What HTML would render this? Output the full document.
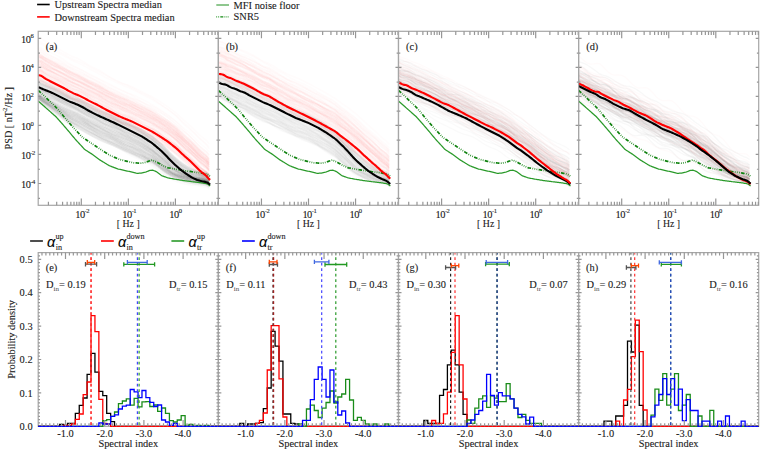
<!DOCTYPE html><html><head><meta charset="utf-8"><style>html,body{margin:0;padding:0;background:#fff;}svg{display:block;} text{stroke:#1a1a1a;stroke-width:0.1px;}</style></head><body>
<svg width="760" height="450" viewBox="0 0 760 450">
<rect width="760" height="450" fill="#fff"/>
<defs>
<clipPath id="ct0"><rect x="38.2" y="31.3" width="180.1" height="174"/></clipPath>
<clipPath id="cb0"><rect x="38.2" y="252.6" width="180.1" height="174.9"/></clipPath>
<clipPath id="ct1"><rect x="218.35" y="31.3" width="180.1" height="174"/></clipPath>
<clipPath id="cb1"><rect x="218.35" y="252.6" width="180.1" height="174.9"/></clipPath>
<clipPath id="ct2"><rect x="398.5" y="31.3" width="180.1" height="174"/></clipPath>
<clipPath id="cb2"><rect x="398.5" y="252.6" width="180.1" height="174.9"/></clipPath>
<clipPath id="ct3"><rect x="578.6" y="31.3" width="180.1" height="174"/></clipPath>
<clipPath id="cb3"><rect x="578.6" y="252.6" width="180.1" height="174.9"/></clipPath>
</defs>
<g font-family='"Liberation Serif", serif' font-size="10.4" fill="#1a1a1a">
<line x1="37.1" y1="4.5" x2="49.7" y2="4.5" stroke="#000" stroke-width="1.6"/>
<line x1="37.1" y1="16.9" x2="49.7" y2="16.9" stroke="#f00" stroke-width="1.6"/>
<line x1="216.3" y1="5.0" x2="229" y2="5.0" stroke="#1f8f1f" stroke-width="1"/>
<line x1="216.3" y1="16.8" x2="229" y2="16.8" stroke="#138a13" stroke-width="1.3" stroke-dasharray="0.8 1.2 0.8 1.2 3 1.2"/>
<text x="54.6" y="8.4">Upstream Spectra median</text>
<text x="54.6" y="20.7">Downstream Spectra median</text>
<text x="233.6" y="8.8">MFI noise floor</text>
<text x="233.6" y="20.1">SNR5</text>
</g>
<g clip-path="url(#ct0)">
<g fill="none" stroke="#7a7a7a" stroke-opacity="0.028" stroke-width="1.8">
<path d="M38.2,79.5l3,1.3 3,1.2 3,1.2 3,1.3 3,1.6 3,1.7 3,1.6 3,1.5 3,1.4 3,1.5 3,1.2 3,1.2 3,1.3 3,1.5 3,1.6 3,1.8 3,1.6 3,1.4 3,1.4 3,1.5 3,1.5 3,1.5 3,1.5 3,1.4 3,1.3 3,1.3 3,1.4 3,1.5 3,1.6 3,1.6 3,1.6 3,1.5 3,1.4 3,1.4 3,1.5 3,1.9 3,2.0 3,2.1 3,2.7 3,2.5 3,2.6 3,2.8 3,3.1 3,3.2 3,3.0 3,2.8 3,2.7 3,2.4 3,2.0 3,1.7 3,1.5 3,1.3 3,1.2 3,0.8 3,0.7 3,0.7 3,1.7"/>
<path d="M38.2,80.7l3,1.4 3,1.2 3,1.3 3,1.2 3,1.5 3,1.7 3,1.6 3,1.6 3,1.4 3,1.5 3,1.0 3,1.1 3,1.1 3,1.4 3,1.5 3,1.8 3,1.7 3,1.4 3,1.4 3,1.4 3,1.4 3,1.5 3,1.5 3,1.4 3,1.4 3,1.4 3,1.3 3,1.4 3,1.4 3,1.5 3,1.5 3,1.5 3,1.4 3,1.3 3,1.5 3,1.8 3,1.9 3,2.0 3,2.6 3,2.6 3,2.7 3,2.9 3,3.0 3,3.2 3,2.8 3,2.8 3,2.5 3,2.3 3,2.0 3,1.7 3,1.4 3,1.2 3,1.0 3,0.7 3,0.6 3,0.7 3,1.7"/>
<path d="M38.2,79.6l3,0.9 3,1.0 3,1.3 3,1.7 3,1.8 3,1.7 3,1.3 3,1.0 3,1.0 3,1.3 3,1.5 3,1.8 3,2.0 3,1.9 3,1.7 3,1.6 3,1.3 3,1.2 3,1.5 3,1.9 3,1.8 3,1.7 3,1.2 3,0.9 3,0.7 3,0.8 3,1.3 3,1.8 3,2.2 3,2.1 3,1.8 3,1.4 3,1.1 3,1.2 3,1.7 3,2.4 3,2.5 3,2.5 3,2.7 3,2.2 3,1.9 3,2.3 3,2.7 3,3.2 3,3.2 3,3.1 3,2.7 3,2.1 3,1.6 3,1.4 3,1.4 3,1.4 3,1.5 3,1.1 3,0.8 3,0.7 3,1.4"/>
<path d="M38.2,82.2l3,1.5 3,1.3 3,1.2 3,1.2 3,1.3 3,1.4 3,1.4 3,1.4 3,1.5 3,1.5 3,1.2 3,1.0 3,1.1 3,1.3 3,1.5 3,1.8 3,1.7 3,1.6 3,1.5 3,1.4 3,1.3 3,1.2 3,1.3 3,1.3 3,1.3 3,1.3 3,1.4 3,1.3 3,1.4 3,1.3 3,1.4 3,1.5 3,1.5 3,1.4 3,1.7 3,1.9 3,1.8 3,1.9 3,2.5 3,2.4 3,2.7 3,2.8 3,3.1 3,3.1 3,2.8 3,2.5 3,2.4 3,2.2 3,2.0 3,1.8 3,1.6 3,1.3 3,1.1 3,0.7 3,0.5 3,0.6 3,1.8"/>
<path d="M38.2,80.0l3,1.5 3,1.4 3,1.3 3,1.4 3,1.6 3,1.8 3,1.7 3,1.7 3,1.6 3,1.5 3,1.2 3,1.0 3,1.1 3,1.2 3,1.4 3,1.7 3,1.6 3,1.4 3,1.4 3,1.5 3,1.4 3,1.5 3,1.6 3,1.6 3,1.6 3,1.5 3,1.6 3,1.5 3,1.5 3,1.4 3,1.4 3,1.4 3,1.4 3,1.3 3,1.4 3,1.8 3,1.8 3,1.9 3,2.6 3,2.6 3,2.8 3,3.0 3,3.3 3,3.3 3,3.0 3,2.8 3,2.6 3,2.3 3,1.9 3,1.7 3,1.4 3,1.1 3,0.9 3,0.6 3,0.5 3,0.6 3,1.7"/>
<path d="M38.2,81.9l3,1.4 3,1.5 3,1.3 3,1.3 3,1.3 3,1.3 3,1.3 3,1.4 3,1.5 3,1.7 3,1.4 3,1.2 3,1.2 3,1.2 3,1.3 3,1.6 3,1.8 3,1.6 3,1.7 3,1.5 3,1.3 3,1.2 3,1.1 3,1.2 3,1.3 3,1.4 3,1.6 3,1.6 3,1.4 3,1.4 3,1.3 3,1.3 3,1.4 3,1.6 3,1.8 3,2.1 3,1.9 3,1.8 3,2.3 3,2.3 3,2.5 3,3.0 3,3.2 3,3.3 3,2.9 3,2.6 3,2.3 3,2.1 3,2.0 3,1.9 3,1.7 3,1.5 3,1.2 3,0.7 3,0.4 3,0.5 3,1.6"/>
<path d="M38.2,83.1l3,1.7 3,1.4 3,0.9 3,0.8 3,1.0 3,1.3 3,1.7 3,1.9 3,1.8 3,1.7 3,1.0 3,0.6 3,0.8 3,1.1 3,1.7 3,2.1 3,2.1 3,1.7 3,1.3 3,1.0 3,0.9 3,1.0 3,1.4 3,1.7 3,1.8 3,1.5 3,1.3 3,1.1 3,0.9 3,1.2 3,1.5 3,1.8 3,1.8 3,1.8 3,1.6 3,1.5 3,1.4 3,1.6 3,2.4 3,2.7 3,3.1 3,3.2 3,3.0 3,2.9 3,2.4 3,2.3 3,2.4 3,2.5 3,2.4 3,2.1 3,1.7 3,1.1 3,0.8 3,0.4 3,0.4 3,0.7 3,2.0"/>
<path d="M38.2,78.8l3,1.5 3,1.5 3,1.4 3,1.3 3,1.5 3,1.6 3,1.5 3,1.5 3,1.5 3,1.6 3,1.3 3,1.2 3,1.3 3,1.5 3,1.7 3,2.0 3,1.9 3,1.7 3,1.7 3,1.7 3,1.5 3,1.6 3,1.4 3,1.5 3,1.4 3,1.3 3,1.5 3,1.4 3,1.5 3,1.6 3,1.6 3,1.5 3,1.7 3,1.6 3,1.8 3,2.1 3,2.2 3,2.1 3,2.7 3,2.7 3,2.8 3,3.0 3,3.1 3,3.2 3,2.9 3,2.6 3,2.5 3,2.2 3,2.0 3,1.7 3,1.5 3,1.3 3,1.2 3,0.8 3,0.7 3,0.7 3,1.8"/>
<path d="M38.2,81.8l3,1.5 3,1.2 3,1.0 3,1.1 3,1.4 3,1.6 3,1.8 3,1.8 3,1.7 3,1.5 3,1.2 3,1.0 3,1.1 3,1.4 3,1.7 3,1.9 3,1.8 3,1.4 3,1.2 3,1.3 3,1.1 3,1.4 3,1.5 3,1.6 3,1.5 3,1.5 3,1.4 3,1.3 3,1.4 3,1.6 3,1.6 3,1.7 3,1.7 3,1.4 3,1.5 3,1.7 3,1.6 3,1.9 3,2.5 3,2.7 3,2.7 3,3.0 3,3.0 3,3.1 3,2.7 3,2.7 3,2.6 3,2.5 3,2.1 3,1.9 3,1.4 3,1.2 3,0.9 3,0.6 3,0.5 3,0.7 3,1.8"/>
<path d="M38.2,83.1l3,1.7 3,1.5 3,1.3 3,1.1 3,1.2 3,1.3 3,1.5 3,1.6 3,1.7 3,1.7 3,1.1 3,0.8 3,0.9 3,1.1 3,1.4 3,1.9 3,1.9 3,1.7 3,1.6 3,1.3 3,1.1 3,1.1 3,1.3 3,1.5 3,1.6 3,1.5 3,1.5 3,1.2 3,1.1 3,1.2 3,1.2 3,1.5 3,1.6 3,1.7 3,1.7 3,1.8 3,1.6 3,1.7 3,2.4 3,2.6 3,2.8 3,3.2 3,3.2 3,3.1 3,2.5 3,2.3 3,2.3 3,2.1 3,2.0 3,1.9 3,1.5 3,1.2 3,0.8 3,0.5 3,0.4 3,0.6 3,1.8"/>
<path d="M38.2,82.0l3,1.5 3,1.3 3,1.2 3,1.2 3,1.2 3,1.3 3,1.3 3,1.3 3,1.3 3,1.5 3,1.2 3,1.2 3,1.4 3,1.6 3,1.9 3,2.1 3,2.0 3,1.7 3,1.7 3,1.7 3,1.4 3,1.3 3,1.3 3,1.2 3,1.1 3,1.1 3,1.2 3,1.3 3,1.4 3,1.5 3,1.6 3,1.6 3,1.7 3,1.7 3,2.0 3,2.2 3,2.2 3,2.2 3,2.7 3,2.6 3,2.6 3,2.7 3,2.9 3,3.0 3,2.7 3,2.4 3,2.4 3,2.2 3,2.0 3,1.8 3,1.7 3,1.5 3,1.3 3,1.0 3,0.8 3,0.8 3,1.9"/>
<path d="M38.2,83.0l3,1.5 3,1.3 3,1.2 3,1.1 3,1.3 3,1.5 3,1.6 3,1.7 3,1.6 3,1.6 3,1.2 3,1.0 3,1.0 3,1.4 3,1.5 3,1.9 3,1.8 3,1.5 3,1.4 3,1.4 3,1.2 3,1.3 3,1.4 3,1.5 3,1.4 3,1.5 3,1.4 3,1.4 3,1.3 3,1.4 3,1.5 3,1.6 3,1.6 3,1.5 3,1.6 3,1.8 3,1.8 3,1.8 3,2.5 3,2.6 3,2.7 3,3.0 3,3.1 3,3.1 3,2.8 3,2.6 3,2.5 3,2.3 3,2.1 3,1.9 3,1.5 3,1.3 3,1.0 3,0.6 3,0.5 3,0.6 3,1.8"/>
<path d="M38.2,82.5l3,1.6 3,1.6 3,1.5 3,1.4 3,1.5 3,1.4 3,1.5 3,1.4 3,1.4 3,1.6 3,1.2 3,1.1 3,1.1 3,1.2 3,1.3 3,1.6 3,1.7 3,1.7 3,1.7 3,1.7 3,1.5 3,1.4 3,1.3 3,1.4 3,1.4 3,1.4 3,1.6 3,1.5 3,1.4 3,1.3 3,1.2 3,1.2 3,1.4 3,1.4 3,1.8 3,2.0 3,2.0 3,2.0 3,2.5 3,2.5 3,2.7 3,3.0 3,3.3 3,3.4 3,3.0 3,2.6 3,2.3 3,2.1 3,1.8 3,1.7 3,1.6 3,1.3 3,1.1 3,0.7 3,0.5 3,0.5 3,1.7"/>
<path d="M38.2,81.6l3,1.6 3,1.4 3,1.3 3,1.4 3,1.5 3,1.6 3,1.6 3,1.5 3,1.5 3,1.6 3,1.3 3,1.2 3,1.2 3,1.4 3,1.6 3,1.7 3,1.8 3,1.6 3,1.5 3,1.6 3,1.4 3,1.4 3,1.5 3,1.4 3,1.4 3,1.4 3,1.5 3,1.5 3,1.5 3,1.5 3,1.5 3,1.5 3,1.5 3,1.5 3,1.7 3,1.9 3,2.0 3,2.0 3,2.5 3,2.6 3,2.7 3,2.9 3,3.1 3,3.3 3,2.8 3,2.6 3,2.4 3,2.1 3,1.8 3,1.6 3,1.4 3,1.1 3,1.0 3,0.6 3,0.6 3,0.6 3,1.7"/>
<path d="M38.2,86.3l3,1.6 3,1.3 3,1.0 3,0.8 3,0.9 3,1.0 3,1.3 3,1.4 3,1.5 3,1.4 3,1.0 3,0.9 3,1.0 3,1.3 3,1.8 3,2.2 3,2.2 3,1.8 3,1.5 3,1.3 3,1.1 3,1.0 3,1.2 3,1.2 3,1.3 3,1.2 3,1.1 3,1.0 3,0.9 3,1.2 3,1.4 3,1.7 3,1.8 3,1.9 3,1.9 3,1.9 3,1.8 3,1.9 3,2.5 3,2.6 3,2.8 3,2.8 3,2.9 3,2.8 3,2.3 3,2.1 3,2.2 3,2.3 3,2.2 3,2.1 3,1.8 3,1.4 3,1.1 3,0.8 3,0.7 3,0.8 3,2.0"/>
<path d="M38.2,84.3l3,1.4 3,1.2 3,1.1 3,1.2 3,1.4 3,1.5 3,1.5 3,1.5 3,1.5 3,1.5 3,1.2 3,1.2 3,1.2 3,1.4 3,1.6 3,1.8 3,1.7 3,1.5 3,1.4 3,1.4 3,1.3 3,1.3 3,1.4 3,1.3 3,1.3 3,1.3 3,1.3 3,1.4 3,1.5 3,1.5 3,1.6 3,1.5 3,1.5 3,1.5 3,1.6 3,1.9 3,1.8 3,2.0 3,2.5 3,2.5 3,2.6 3,2.8 3,2.9 3,3.2 3,2.8 3,2.6 3,2.5 3,2.4 3,2.0 3,1.8 3,1.5 3,1.3 3,1.1 3,0.7 3,0.6 3,0.7 3,1.7"/>
<path d="M38.2,84.4l3,1.3 3,1.5 3,1.5 3,1.5 3,1.5 3,1.4 3,1.2 3,1.1 3,1.3 3,1.7 3,1.5 3,1.4 3,1.4 3,1.2 3,1.3 3,1.4 3,1.5 3,1.6 3,1.7 3,1.7 3,1.5 3,1.3 3,1.0 3,1.0 3,1.1 3,1.3 3,1.6 3,1.7 3,1.7 3,1.4 3,1.3 3,1.1 3,1.2 3,1.4 3,1.9 3,2.2 3,2.1 3,2.0 3,2.2 3,2.2 3,2.3 3,2.7 3,3.1 3,3.5 3,3.0 3,2.6 3,2.3 3,1.9 3,1.6 3,1.6 3,1.5 3,1.4 3,1.2 3,0.8 3,0.5 3,0.4 3,1.5"/>
<path d="M38.2,83.3l3,1.5 3,1.3 3,1.3 3,1.3 3,1.5 3,1.5 3,1.6 3,1.6 3,1.5 3,1.6 3,1.2 3,1.2 3,1.2 3,1.4 3,1.6 3,1.8 3,1.8 3,1.5 3,1.5 3,1.5 3,1.3 3,1.4 3,1.4 3,1.4 3,1.4 3,1.4 3,1.4 3,1.4 3,1.5 3,1.5 3,1.6 3,1.5 3,1.5 3,1.5 3,1.6 3,1.9 3,2.0 3,1.9 3,2.6 3,2.5 3,2.7 3,2.8 3,3.1 3,3.1 3,2.8 3,2.6 3,2.4 3,2.1 3,1.8 3,1.6 3,1.4 3,1.1 3,0.9 3,0.6 3,0.6 3,0.7 3,1.6"/>
<path d="M38.2,87.0l3,1.2 3,1.2 3,1.2 3,1.3 3,1.4 3,1.3 3,1.2 3,1.2 3,1.3 3,1.5 3,1.4 3,1.3 3,1.5 3,1.4 3,1.4 3,1.5 3,1.5 3,1.3 3,1.5 3,1.5 3,1.4 3,1.2 3,1.0 3,0.9 3,1.0 3,1.1 3,1.4 3,1.6 3,1.6 3,1.6 3,1.4 3,1.3 3,1.3 3,1.4 3,1.7 3,2.0 3,2.1 3,1.9 3,2.3 3,2.1 3,2.2 3,2.5 3,2.9 3,3.2 3,2.9 3,2.7 3,2.5 3,2.1 3,1.8 3,1.7 3,1.6 3,1.5 3,1.3 3,0.9 3,0.6 3,0.4 3,1.4"/>
<path d="M38.2,86.1l3,1.6 3,1.4 3,1.4 3,1.3 3,1.3 3,1.4 3,1.5 3,1.3 3,1.3 3,1.4 3,1.0 3,0.9 3,1.1 3,1.2 3,1.5 3,1.7 3,1.8 3,1.6 3,1.6 3,1.6 3,1.4 3,1.4 3,1.3 3,1.3 3,1.3 3,1.2 3,1.3 3,1.2 3,1.3 3,1.2 3,1.3 3,1.3 3,1.4 3,1.4 3,1.6 3,2.0 3,1.9 3,2.0 3,2.6 3,2.6 3,2.7 3,2.9 3,3.0 3,3.1 3,2.7 3,2.4 3,2.3 3,2.0 3,1.7 3,1.6 3,1.4 3,1.2 3,1.0 3,0.7 3,0.6 3,0.6 3,1.8"/>
<path d="M38.2,82.9l3,1.3 3,1.2 3,1.2 3,1.4 3,1.7 3,1.7 3,1.7 3,1.4 3,1.4 3,1.5 3,1.3 3,1.4 3,1.6 3,1.7 3,1.8 3,1.7 3,1.6 3,1.4 3,1.4 3,1.6 3,1.5 3,1.6 3,1.4 3,1.3 3,1.2 3,1.2 3,1.4 3,1.6 3,1.8 3,1.8 3,1.8 3,1.6 3,1.4 3,1.4 3,1.6 3,2.0 3,2.1 3,2.2 3,2.6 3,2.5 3,2.5 3,2.6 3,2.8 3,3.2 3,2.9 3,2.7 3,2.5 3,2.2 3,1.7 3,1.4 3,1.2 3,1.1 3,1.0 3,0.7 3,0.6 3,0.7 3,1.6"/>
<path d="M38.2,85.2l3,1.5 3,1.2 3,1.0 3,1.0 3,1.3 3,1.5 3,1.6 3,1.6 3,1.5 3,1.5 3,1.1 3,1.1 3,1.3 3,1.6 3,1.8 3,2.1 3,1.9 3,1.5 3,1.4 3,1.2 3,1.2 3,1.3 3,1.5 3,1.4 3,1.3 3,1.2 3,1.2 3,1.2 3,1.3 3,1.6 3,1.7 3,1.8 3,1.8 3,1.6 3,1.6 3,1.8 3,1.9 3,1.9 3,2.6 3,2.7 3,2.7 3,2.7 3,2.8 3,2.8 3,2.6 3,2.4 3,2.5 3,2.3 3,2.0 3,1.7 3,1.4 3,1.1 3,1.0 3,0.7 3,0.6 3,0.8 3,1.8"/>
<path d="M38.2,82.7l3,1.2 3,1.4 3,1.6 3,1.8 3,1.8 3,1.7 3,1.3 3,1.2 3,1.2 3,1.5 3,1.5 3,1.6 3,1.6 3,1.6 3,1.4 3,1.5 3,1.4 3,1.5 3,1.7 3,2.0 3,1.9 3,1.7 3,1.3 3,1.1 3,1.0 3,1.3 3,1.6 3,1.8 3,2.0 3,1.8 3,1.4 3,1.2 3,1.1 3,1.3 3,1.8 3,2.3 3,2.5 3,2.3 3,2.6 3,2.4 3,2.3 3,2.7 3,3.2 3,3.5 3,3.3 3,3.0 3,2.6 3,2.0 3,1.6 3,1.5 3,1.5 3,1.5 3,1.3 3,1.0 3,0.7 3,0.6 3,1.5"/>
<path d="M38.2,86.8l3,1.5 3,1.1 3,0.9 3,0.9 3,1.2 3,1.7 3,2.0 3,1.8 3,1.7 3,1.4 3,0.9 3,0.7 3,1.0 3,1.6 3,1.9 3,2.1 3,1.9 3,1.3 3,1.0 3,1.0 3,1.0 3,1.4 3,1.6 3,1.7 3,1.6 3,1.2 3,1.1 3,1.0 3,1.2 3,1.5 3,1.9 3,1.9 3,1.7 3,1.5 3,1.3 3,1.4 3,1.5 3,1.8 3,2.7 3,2.8 3,2.9 3,2.8 3,2.8 3,2.7 3,2.4 3,2.5 3,2.6 3,2.5 3,2.1 3,1.7 3,1.2 3,0.9 3,0.7 3,0.5 3,0.6 3,0.9 3,1.8"/>
<path d="M38.2,84.1l3,1.4 3,1.4 3,1.4 3,1.6 3,1.6 3,1.6 3,1.4 3,1.4 3,1.3 3,1.6 3,1.4 3,1.5 3,1.4 3,1.5 3,1.5 3,1.6 3,1.6 3,1.5 3,1.7 3,1.7 3,1.6 3,1.5 3,1.3 3,1.2 3,1.1 3,1.3 3,1.6 3,1.7 3,1.7 3,1.7 3,1.5 3,1.3 3,1.3 3,1.4 3,1.8 3,2.1 3,2.2 3,2.2 3,2.5 3,2.3 3,2.5 3,2.7 3,3.1 3,3.3 3,3.0 3,2.7 3,2.3 3,2.0 3,1.6 3,1.4 3,1.4 3,1.2 3,1.0 3,0.7 3,0.6 3,0.6 3,1.6"/>
<path d="M38.2,86.8l3,1.3 3,1.2 3,1.1 3,1.3 3,1.5 3,1.8 3,1.7 3,1.7 3,1.5 3,1.5 3,1.2 3,1.1 3,1.2 3,1.5 3,1.5 3,1.6 3,1.5 3,1.2 3,1.1 3,1.3 3,1.3 3,1.4 3,1.5 3,1.4 3,1.4 3,1.3 3,1.4 3,1.5 3,1.6 3,1.7 3,1.6 3,1.5 3,1.4 3,1.2 3,1.3 3,1.6 3,1.8 3,1.8 3,2.5 3,2.5 3,2.5 3,2.8 3,2.9 3,3.1 3,2.9 3,2.8 3,2.6 3,2.3 3,2.0 3,1.5 3,1.3 3,1.0 3,0.9 3,0.6 3,0.6 3,0.5 3,1.6"/>
<path d="M38.2,86.5l3,1.6 3,1.4 3,1.3 3,1.3 3,1.4 3,1.4 3,1.4 3,1.4 3,1.4 3,1.5 3,1.2 3,1.1 3,1.2 3,1.3 3,1.5 3,1.8 3,1.8 3,1.6 3,1.6 3,1.6 3,1.4 3,1.3 3,1.3 3,1.3 3,1.3 3,1.3 3,1.4 3,1.4 3,1.4 3,1.4 3,1.3 3,1.4 3,1.5 3,1.5 3,1.7 3,2.1 3,2.0 3,2.0 3,2.4 3,2.5 3,2.7 3,2.9 3,3.1 3,3.1 3,2.8 3,2.5 3,2.4 3,2.0 3,1.9 3,1.7 3,1.5 3,1.3 3,1.1 3,0.7 3,0.6 3,0.6 3,1.7"/>
<path d="M38.2,85.0l3,1.6 3,1.6 3,1.6 3,1.5 3,1.4 3,1.4 3,1.2 3,1.2 3,1.4 3,1.7 3,1.5 3,1.4 3,1.4 3,1.3 3,1.3 3,1.6 3,1.8 3,1.7 3,1.9 3,1.8 3,1.5 3,1.3 3,1.1 3,1.1 3,1.2 3,1.4 3,1.6 3,1.7 3,1.6 3,1.4 3,1.3 3,1.2 3,1.4 3,1.6 3,1.9 3,2.4 3,2.2 3,2.0 3,2.3 3,2.3 3,2.5 3,2.8 3,3.2 3,3.4 3,2.9 3,2.5 3,2.2 3,1.8 3,1.6 3,1.6 3,1.5 3,1.3 3,1.1 3,0.7 3,0.5 3,0.5 3,1.6"/>
<path d="M38.2,84.5l3,1.7 3,1.5 3,1.3 3,1.4 3,1.5 3,1.6 3,1.8 3,1.8 3,1.6 3,1.6 3,1.1 3,1.0 3,1.1 3,1.3 3,1.6 3,1.9 3,1.9 3,1.5 3,1.5 3,1.4 3,1.4 3,1.5 3,1.6 3,1.6 3,1.6 3,1.5 3,1.4 3,1.4 3,1.4 3,1.4 3,1.6 3,1.5 3,1.6 3,1.4 3,1.6 3,1.8 3,1.8 3,2.0 3,2.6 3,2.7 3,2.9 3,3.0 3,3.1 3,3.1 3,2.6 3,2.5 3,2.2 3,2.0 3,1.7 3,1.4 3,1.1 3,0.9 3,0.7 3,0.5 3,0.6 3,0.6 3,1.7"/>
<path d="M38.2,85.3l3,2.0 3,1.6 3,1.2 3,1.0 3,1.2 3,1.5 3,1.8 3,1.9 3,1.9 3,1.6 3,1.0 3,0.7 3,0.8 3,1.2 3,1.7 3,2.3 3,2.2 3,1.8 3,1.5 3,1.2 3,1.1 3,1.3 3,1.6 3,1.8 3,1.8 3,1.6 3,1.3 3,1.0 3,1.0 3,1.1 3,1.5 3,1.8 3,1.9 3,1.8 3,1.6 3,1.7 3,1.6 3,1.7 3,2.6 3,3.0 3,3.1 3,3.2 3,3.1 3,2.8 3,2.2 3,2.1 3,2.1 3,2.0 3,1.8 3,1.5 3,1.1 3,0.8 3,0.6 3,0.4 3,0.5 3,0.8 3,1.8"/>
<path d="M38.2,88.3l3,1.1 3,0.9 3,1.0 3,1.4 3,1.8 3,1.9 3,1.8 3,1.4 3,1.1 3,1.0 3,1.0 3,1.2 3,1.5 3,1.9 3,1.8 3,1.7 3,1.3 3,1.0 3,1.1 3,1.5 3,1.6 3,1.8 3,1.6 3,1.4 3,1.0 3,0.8 3,1.0 3,1.3 3,1.7 3,2.0 3,1.8 3,1.6 3,1.2 3,1.0 3,1.2 3,1.7 3,2.1 3,2.3 3,2.9 3,2.6 3,2.4 3,2.4 3,2.5 3,3.0 3,2.8 3,3.0 3,2.7 3,2.3 3,1.7 3,1.3 3,1.1 3,0.9 3,1.1 3,0.9 3,0.8 3,0.8 3,1.6"/>
<path d="M38.2,87.1l3,1.6 3,1.3 3,1.0 3,0.9 3,1.3 3,1.7 3,1.9 3,2.0 3,1.7 3,1.4 3,0.9 3,0.8 3,1.0 3,1.5 3,1.9 3,2.2 3,2.0 3,1.4 3,1.2 3,1.0 3,1.1 3,1.4 3,1.6 3,1.8 3,1.6 3,1.4 3,1.1 3,1.0 3,1.1 3,1.5 3,1.8 3,1.9 3,1.9 3,1.5 3,1.4 3,1.5 3,1.5 3,1.9 3,2.7 3,2.9 3,2.9 3,3.0 3,2.8 3,2.6 3,2.3 3,2.4 3,2.4 3,2.3 3,2.0 3,1.5 3,1.1 3,0.8 3,0.7 3,0.5 3,0.5 3,0.8 3,1.9"/>
<path d="M38.2,85.6l3,1.8 3,1.7 3,1.5 3,1.3 3,1.3 3,1.3 3,1.4 3,1.5 3,1.8 3,1.9 3,1.5 3,1.3 3,1.1 3,1.1 3,1.4 3,1.7 3,2.0 3,1.8 3,1.8 3,1.6 3,1.2 3,1.1 3,1.1 3,1.3 3,1.5 3,1.6 3,1.8 3,1.6 3,1.4 3,1.3 3,1.2 3,1.4 3,1.6 3,1.8 3,2.0 3,2.1 3,1.9 3,1.7 3,2.2 3,2.3 3,2.7 3,3.1 3,3.3 3,3.2 3,2.7 3,2.2 3,2.0 3,1.8 3,1.7 3,1.6 3,1.3 3,1.1 3,0.8 3,0.5 3,0.4 3,0.6 3,1.6"/>
<path d="M38.2,86.6l3,1.5 3,1.3 3,1.2 3,1.3 3,1.5 3,1.7 3,1.7 3,1.8 3,1.6 3,1.6 3,1.3 3,1.2 3,1.3 3,1.5 3,1.7 3,1.8 3,1.7 3,1.3 3,1.4 3,1.3 3,1.3 3,1.3 3,1.4 3,1.5 3,1.4 3,1.4 3,1.5 3,1.4 3,1.6 3,1.7 3,1.6 3,1.7 3,1.5 3,1.5 3,1.5 3,1.8 3,1.8 3,1.8 3,2.5 3,2.5 3,2.6 3,2.8 3,2.9 3,3.0 3,2.6 3,2.5 3,2.3 3,2.0 3,1.7 3,1.3 3,1.2 3,0.8 3,0.8 3,0.5 3,0.5 3,0.6 3,1.7"/>
<path d="M38.2,87.4l3,1.5 3,1.4 3,1.4 3,1.5 3,1.5 3,1.5 3,1.5 3,1.4 3,1.4 3,1.6 3,1.4 3,1.3 3,1.3 3,1.4 3,1.5 3,1.6 3,1.7 3,1.5 3,1.6 3,1.6 3,1.4 3,1.4 3,1.3 3,1.2 3,1.2 3,1.4 3,1.5 3,1.6 3,1.6 3,1.5 3,1.4 3,1.4 3,1.4 3,1.4 3,1.7 3,2.1 3,2.0 3,2.0 3,2.4 3,2.4 3,2.5 3,2.8 3,3.0 3,3.2 3,2.9 3,2.5 3,2.3 3,1.9 3,1.6 3,1.5 3,1.3 3,1.1 3,0.9 3,0.7 3,0.5 3,0.6 3,1.6"/>
<path d="M38.2,87.5l3,2.0 3,1.5 3,1.0 3,0.7 3,0.9 3,1.3 3,1.9 3,2.2 3,2.1 3,1.9 3,1.2 3,0.7 3,0.8 3,1.3 3,1.8 3,2.5 3,2.3 3,1.8 3,1.2 3,0.8 3,0.5 3,0.9 3,1.3 3,1.8 3,1.9 3,1.7 3,1.3 3,1.0 3,0.9 3,1.2 3,1.7 3,2.2 3,2.2 3,2.1 3,1.6 3,1.5 3,1.2 3,1.3 3,2.3 3,2.8 3,3.0 3,3.2 3,2.9 3,2.5 3,2.0 3,1.9 3,2.1 3,2.2 3,2.0 3,1.6 3,1.2 3,0.8 3,0.5 3,0.3 3,0.4 3,0.7 3,1.8"/>
<path d="M38.2,88.1l3,1.5 3,1.5 3,1.3 3,1.4 3,1.5 3,1.5 3,1.6 3,1.6 3,1.6 3,1.6 3,1.4 3,1.1 3,1.3 3,1.3 3,1.5 3,1.7 3,1.6 3,1.4 3,1.5 3,1.4 3,1.3 3,1.3 3,1.3 3,1.3 3,1.3 3,1.4 3,1.5 3,1.5 3,1.6 3,1.5 3,1.5 3,1.4 3,1.4 3,1.5 3,1.5 3,1.9 3,1.8 3,1.8 3,2.4 3,2.4 3,2.5 3,2.8 3,3.0 3,3.1 3,2.7 3,2.5 3,2.2 3,2.0 3,1.6 3,1.4 3,1.2 3,1.0 3,0.8 3,0.5 3,0.5 3,0.6 3,1.6"/>
<path d="M38.2,87.8l3,1.5 3,1.4 3,1.3 3,1.4 3,1.4 3,1.5 3,1.6 3,1.5 3,1.5 3,1.6 3,1.3 3,1.2 3,1.2 3,1.4 3,1.6 3,1.8 3,1.8 3,1.5 3,1.6 3,1.5 3,1.3 3,1.4 3,1.3 3,1.4 3,1.3 3,1.4 3,1.5 3,1.4 3,1.5 3,1.5 3,1.5 3,1.5 3,1.6 3,1.5 3,1.7 3,1.9 3,1.9 3,2.0 3,2.5 3,2.5 3,2.6 3,2.9 3,3.0 3,3.1 3,2.8 3,2.5 3,2.3 3,2.0 3,1.8 3,1.5 3,1.4 3,1.0 3,0.9 3,0.7 3,0.5 3,0.6 3,1.7"/>
<path d="M38.2,89.4l3,1.2 3,1.2 3,1.3 3,1.5 3,1.8 3,1.8 3,1.6 3,1.4 3,1.2 3,1.4 3,1.2 3,1.3 3,1.5 3,1.6 3,1.5 3,1.5 3,1.4 3,1.1 3,1.3 3,1.5 3,1.6 3,1.6 3,1.4 3,1.2 3,1.1 3,1.1 3,1.3 3,1.5 3,1.8 3,1.8 3,1.6 3,1.4 3,1.1 3,1.1 3,1.4 3,1.8 3,2.1 3,2.1 3,2.6 3,2.4 3,2.3 3,2.5 3,2.8 3,3.1 3,3.0 3,2.7 3,2.5 3,2.0 3,1.6 3,1.2 3,1.1 3,1.0 3,1.0 3,0.7 3,0.6 3,0.6 3,1.5"/>
<path d="M38.2,89.7l3,1.4 3,1.3 3,1.4 3,1.4 3,1.7 3,1.8 3,1.9 3,1.6 3,1.5 3,1.4 3,1.1 3,1.0 3,1.1 3,1.3 3,1.3 3,1.6 3,1.4 3,1.1 3,1.3 3,1.4 3,1.4 3,1.6 3,1.6 3,1.5 3,1.4 3,1.4 3,1.4 3,1.5 3,1.5 3,1.5 3,1.5 3,1.3 3,1.2 3,1.1 3,1.2 3,1.6 3,1.8 3,1.9 3,2.5 3,2.6 3,2.6 3,2.9 3,3.1 3,3.2 3,2.8 3,2.7 3,2.5 3,2.1 3,1.7 3,1.3 3,1.1 3,0.9 3,0.8 3,0.5 3,0.5 3,0.5 3,1.6"/>
<path d="M38.2,87.8l3,1.7 3,1.7 3,1.6 3,1.5 3,1.3 3,1.3 3,1.3 3,1.4 3,1.7 3,1.9 3,1.6 3,1.3 3,1.2 3,1.1 3,1.3 3,1.6 3,1.9 3,1.8 3,1.8 3,1.7 3,1.3 3,1.1 3,1.1 3,1.1 3,1.4 3,1.6 3,1.8 3,1.7 3,1.5 3,1.3 3,1.2 3,1.3 3,1.4 3,1.8 3,2.0 3,2.2 3,1.9 3,1.8 3,2.2 3,2.2 3,2.5 3,3.0 3,3.3 3,3.4 3,2.7 3,2.3 3,1.9 3,1.8 3,1.5 3,1.5 3,1.4 3,1.1 3,0.9 3,0.5 3,0.4 3,0.5 3,1.6"/>
<path d="M38.2,87.8l3,1.7 3,1.5 3,1.3 3,1.3 3,1.5 3,1.7 3,1.8 3,1.7 3,1.7 3,1.5 3,1.2 3,1.1 3,1.2 3,1.5 3,1.7 3,1.9 3,1.9 3,1.5 3,1.4 3,1.3 3,1.3 3,1.4 3,1.5 3,1.5 3,1.5 3,1.4 3,1.3 3,1.3 3,1.4 3,1.5 3,1.7 3,1.7 3,1.6 3,1.5 3,1.6 3,1.7 3,1.8 3,1.9 3,2.5 3,2.7 3,2.7 3,2.8 3,2.9 3,2.8 3,2.4 3,2.2 3,2.0 3,1.8 3,1.4 3,1.2 3,0.9 3,0.8 3,0.6 3,0.5 3,0.5 3,0.6 3,1.7"/>
<path d="M38.2,87.4l3,1.6 3,1.6 3,1.5 3,1.5 3,1.6 3,1.7 3,1.7 3,1.6 3,1.6 3,1.6 3,1.4 3,1.1 3,1.2 3,1.4 3,1.4 3,1.7 3,1.7 3,1.6 3,1.6 3,1.6 3,1.5 3,1.5 3,1.5 3,1.4 3,1.5 3,1.5 3,1.6 3,1.6 3,1.5 3,1.5 3,1.5 3,1.4 3,1.4 3,1.4 3,1.6 3,2.0 3,1.9 3,2.0 3,2.5 3,2.6 3,2.7 3,3.0 3,3.1 3,3.2 3,2.7 3,2.5 3,2.1 3,1.8 3,1.5 3,1.2 3,1.1 3,0.9 3,0.7 3,0.5 3,0.5 3,0.6 3,1.6"/>
<path d="M38.2,89.0l3,1.5 3,1.3 3,1.3 3,1.2 3,1.4 3,1.5 3,1.7 3,1.7 3,1.7 3,1.8 3,1.5 3,1.4 3,1.3 3,1.6 3,1.6 3,1.7 3,1.7 3,1.5 3,1.3 3,1.3 3,1.2 3,1.1 3,1.2 3,1.3 3,1.3 3,1.5 3,1.5 3,1.6 3,1.7 3,1.7 3,1.6 3,1.7 3,1.6 3,1.6 3,1.7 3,1.8 3,1.8 3,1.7 3,2.3 3,2.3 3,2.4 3,2.7 3,2.9 3,3.0 3,2.7 3,2.4 3,2.2 3,2.0 3,1.6 3,1.4 3,1.2 3,0.9 3,0.8 3,0.5 3,0.5 3,0.6 3,1.5"/>
<path d="M38.2,88.8l3,1.8 3,1.7 3,1.4 3,1.3 3,1.2 3,1.2 3,1.5 3,1.6 3,1.9 3,1.9 3,1.5 3,1.1 3,1.0 3,1.1 3,1.4 3,1.9 3,2.0 3,1.9 3,1.7 3,1.5 3,1.1 3,1.1 3,1.1 3,1.4 3,1.6 3,1.7 3,1.8 3,1.5 3,1.3 3,1.2 3,1.3 3,1.5 3,1.7 3,1.8 3,2.0 3,2.0 3,1.8 3,1.6 3,2.2 3,2.4 3,2.8 3,3.2 3,3.3 3,3.2 3,2.6 3,2.2 3,2.0 3,1.9 3,1.8 3,1.7 3,1.4 3,1.1 3,0.8 3,0.4 3,0.4 3,0.6 3,1.6"/>
<path d="M38.2,89.2l3,1.5 3,1.7 3,1.8 3,1.7 3,1.7 3,1.3 3,1.2 3,1.2 3,1.3 3,1.8 3,1.7 3,1.7 3,1.5 3,1.3 3,1.1 3,1.3 3,1.6 3,1.6 3,1.9 3,1.9 3,1.6 3,1.3 3,0.9 3,0.9 3,1.0 3,1.3 3,1.8 3,1.9 3,1.8 3,1.5 3,1.2 3,1.0 3,1.2 3,1.5 3,1.9 3,2.4 3,2.3 3,1.9 3,2.2 3,2.0 3,2.2 3,2.7 3,3.1 3,3.4 3,2.9 3,2.3 3,1.9 3,1.4 3,1.3 3,1.2 3,1.2 3,1.0 3,0.9 3,0.6 3,0.4 3,0.5 3,1.5"/>
<path d="M38.2,90.8l3,1.7 3,1.5 3,1.4 3,1.3 3,1.4 3,1.5 3,1.6 3,1.6 3,1.5 3,1.5 3,1.1 3,1.0 3,1.1 3,1.4 3,1.5 3,1.9 3,1.8 3,1.6 3,1.5 3,1.4 3,1.3 3,1.4 3,1.3 3,1.5 3,1.3 3,1.4 3,1.3 3,1.2 3,1.3 3,1.4 3,1.4 3,1.5 3,1.5 3,1.5 3,1.6 3,1.9 3,1.8 3,1.9 3,2.5 3,2.6 3,2.7 3,2.9 3,3.0 3,2.9 3,2.5 3,2.3 3,2.1 3,1.9 3,1.7 3,1.4 3,1.1 3,0.9 3,0.8 3,0.5 3,0.6 3,0.6 3,1.7"/>
<path d="M38.2,90.7l3,1.6 3,1.6 3,1.4 3,1.5 3,1.5 3,1.5 3,1.5 3,1.5 3,1.4 3,1.6 3,1.3 3,1.3 3,1.3 3,1.4 3,1.5 3,1.8 3,1.6 3,1.5 3,1.6 3,1.5 3,1.3 3,1.3 3,1.2 3,1.2 3,1.2 3,1.2 3,1.4 3,1.4 3,1.5 3,1.5 3,1.5 3,1.4 3,1.4 3,1.5 3,1.6 3,2.0 3,2.0 3,1.9 3,2.4 3,2.3 3,2.5 3,2.6 3,2.9 3,2.9 3,2.5 3,2.3 3,2.0 3,1.7 3,1.4 3,1.2 3,1.1 3,0.9 3,0.7 3,0.6 3,0.5 3,0.6 3,1.6"/>
<path d="M38.2,92.4l3,1.3 3,1.4 3,1.3 3,1.5 3,1.5 3,1.3 3,1.3 3,1.1 3,1.2 3,1.4 3,1.4 3,1.4 3,1.5 3,1.6 3,1.5 3,1.6 3,1.6 3,1.4 3,1.6 3,1.7 3,1.5 3,1.3 3,1.1 3,0.9 3,0.9 3,1.0 3,1.4 3,1.5 3,1.7 3,1.6 3,1.4 3,1.3 3,1.3 3,1.4 3,1.8 3,2.2 3,2.2 3,2.2 3,2.4 3,2.2 3,2.2 3,2.5 3,2.8 3,3.1 3,2.8 3,2.6 3,2.2 3,1.9 3,1.6 3,1.4 3,1.4 3,1.3 3,1.1 3,0.8 3,0.6 3,0.6 3,1.5"/>
<path d="M38.2,89.7l3,1.4 3,1.4 3,1.3 3,1.4 3,1.5 3,1.4 3,1.5 3,1.5 3,1.6 3,1.9 3,1.7 3,1.6 3,1.6 3,1.7 3,1.6 3,1.7 3,1.6 3,1.5 3,1.5 3,1.5 3,1.2 3,1.2 3,1.0 3,1.0 3,1.1 3,1.4 3,1.6 3,1.8 3,1.9 3,1.8 3,1.6 3,1.6 3,1.6 3,1.7 3,1.8 3,2.1 3,2.0 3,1.8 3,2.1 3,2.2 3,2.2 3,2.5 3,2.9 3,3.0 3,2.7 3,2.4 3,2.0 3,1.8 3,1.4 3,1.3 3,1.1 3,0.9 3,0.8 3,0.5 3,0.5 3,0.5 3,1.6"/>
<path d="M38.2,88.3l3,1.6 3,1.8 3,1.7 3,1.7 3,1.7 3,1.5 3,1.5 3,1.4 3,1.5 3,1.8 3,1.5 3,1.3 3,1.3 3,1.3 3,1.2 3,1.6 3,1.8 3,1.7 3,1.9 3,1.9 3,1.6 3,1.5 3,1.3 3,1.3 3,1.4 3,1.5 3,1.8 3,1.7 3,1.6 3,1.5 3,1.2 3,1.2 3,1.3 3,1.5 3,1.9 3,2.2 3,2.2 3,2.0 3,2.4 3,2.4 3,2.7 3,3.0 3,3.3 3,3.3 3,2.8 3,2.3 3,1.9 3,1.5 3,1.3 3,1.2 3,1.1 3,0.9 3,0.7 3,0.6 3,0.4 3,0.6 3,1.6"/>
<path d="M38.2,90.3l3,1.6 3,1.5 3,1.4 3,1.4 3,1.5 3,1.6 3,1.6 3,1.7 3,1.6 3,1.6 3,1.4 3,1.2 3,1.3 3,1.4 3,1.6 3,1.7 3,1.8 3,1.5 3,1.5 3,1.4 3,1.4 3,1.3 3,1.3 3,1.4 3,1.4 3,1.4 3,1.5 3,1.5 3,1.5 3,1.6 3,1.5 3,1.5 3,1.6 3,1.5 3,1.6 3,1.9 3,1.9 3,1.8 3,2.5 3,2.4 3,2.6 3,2.8 3,3.0 3,3.0 3,2.6 3,2.3 3,2.1 3,1.8 3,1.4 3,1.3 3,1.1 3,0.8 3,0.7 3,0.5 3,0.5 3,0.6 3,1.7"/>
<path d="M38.2,88.0l3,1.4 3,1.5 3,1.6 3,1.9 3,2.0 3,1.9 3,1.6 3,1.2 3,1.2 3,1.4 3,1.4 3,1.7 3,1.8 3,1.9 3,1.7 3,1.6 3,1.5 3,1.3 3,1.6 3,2.0 3,2.0 3,1.8 3,1.5 3,1.1 3,0.9 3,0.9 3,1.4 3,1.8 3,2.0 3,2.0 3,1.7 3,1.4 3,1.1 3,1.2 3,1.7 3,2.2 3,2.4 3,2.4 3,2.7 3,2.4 3,2.3 3,2.3 3,2.6 3,2.9 3,2.5 3,2.2 3,1.7 3,1.2 3,1.0 3,0.7 3,0.8 3,0.7 3,0.6 3,0.5 3,0.5 3,0.7 3,1.5"/>
<path d="M38.2,89.9l3,1.3 3,1.1 3,1.3 3,1.7 3,2.0 3,2.0 3,1.9 3,1.4 3,1.2 3,1.4 3,1.2 3,1.6 3,1.8 3,1.9 3,1.8 3,1.6 3,1.3 3,1.0 3,1.2 3,1.6 3,1.8 3,1.8 3,1.6 3,1.3 3,1.0 3,1.0 3,1.2 3,1.7 3,2.0 3,2.2 3,1.9 3,1.6 3,1.1 3,1.1 3,1.3 3,1.9 3,2.2 3,2.3 3,2.7 3,2.5 3,2.2 3,2.3 3,2.6 3,2.9 3,2.8 3,2.7 3,2.2 3,1.6 3,1.2 3,0.9 3,0.8 3,0.8 3,0.7 3,0.6 3,0.5 3,0.7 3,1.5"/>
<path d="M38.2,88.7l3,1.4 3,1.3 3,1.3 3,1.6 3,1.8 3,2.0 3,1.8 3,1.5 3,1.4 3,1.4 3,1.2 3,1.4 3,1.7 3,1.9 3,1.9 3,1.9 3,1.6 3,1.3 3,1.4 3,1.7 3,1.7 3,1.8 3,1.7 3,1.4 3,1.2 3,1.1 3,1.3 3,1.5 3,1.9 3,1.9 3,1.9 3,1.7 3,1.4 3,1.3 3,1.6 3,1.9 3,2.2 3,2.3 3,2.9 3,2.6 3,2.5 3,2.6 3,2.7 3,2.8 3,2.6 3,2.5 3,2.1 3,1.6 3,1.2 3,1.0 3,0.8 3,0.7 3,0.7 3,0.5 3,0.6 3,0.7 3,1.6"/>
<path d="M38.2,91.0l3,1.7 3,1.7 3,1.6 3,1.5 3,1.4 3,1.2 3,1.4 3,1.4 3,1.6 3,2.0 3,1.8 3,1.5 3,1.4 3,1.3 3,1.4 3,1.6 3,1.8 3,1.8 3,1.7 3,1.7 3,1.2 3,1.0 3,0.9 3,1.0 3,1.2 3,1.5 3,1.8 3,1.7 3,1.7 3,1.4 3,1.4 3,1.3 3,1.6 3,1.8 3,2.0 3,2.2 3,2.0 3,1.7 3,2.0 3,2.1 3,2.3 3,2.8 3,3.0 3,3.1 3,2.6 3,2.1 3,1.7 3,1.6 3,1.3 3,1.3 3,1.1 3,0.9 3,0.7 3,0.5 3,0.4 3,0.6 3,1.5"/>
<path d="M38.2,91.7l3,1.9 3,1.7 3,1.6 3,1.4 3,1.2 3,1.2 3,1.3 3,1.6 3,1.8 3,2.0 3,1.7 3,1.2 3,1.1 3,1.0 3,1.3 3,1.7 3,2.0 3,1.8 3,1.8 3,1.6 3,1.1 3,0.9 3,0.9 3,1.2 3,1.5 3,1.8 3,1.8 3,1.6 3,1.4 3,1.2 3,1.2 3,1.3 3,1.7 3,1.8 3,2.0 3,2.1 3,1.8 3,1.6 3,2.0 3,2.2 3,2.6 3,3.1 3,3.3 3,3.2 3,2.5 3,2.1 3,1.9 3,1.7 3,1.5 3,1.5 3,1.4 3,1.0 3,0.7 3,0.4 3,0.4 3,0.5 3,1.6"/>
<path d="M38.2,91.8l3,1.6 3,1.5 3,1.3 3,1.5 3,1.7 3,1.8 3,1.8 3,1.5 3,1.4 3,1.3 3,1.0 3,1.0 3,1.3 3,1.6 3,1.7 3,1.9 3,1.7 3,1.4 3,1.5 3,1.5 3,1.6 3,1.7 3,1.6 3,1.5 3,1.3 3,1.2 3,1.1 3,1.3 3,1.4 3,1.6 3,1.6 3,1.5 3,1.4 3,1.3 3,1.5 3,1.8 3,2.0 3,2.2 3,2.8 3,2.8 3,2.7 3,2.7 3,2.8 3,2.8 3,2.5 3,2.3 3,2.1 3,1.8 3,1.3 3,1.1 3,0.9 3,0.8 3,0.6 3,0.6 3,0.6 3,0.7 3,1.7"/>
<path d="M38.2,90.9l3,1.8 3,1.8 3,1.5 3,1.3 3,1.3 3,1.4 3,1.6 3,1.8 3,1.8 3,1.9 3,1.4 3,1.1 3,1.0 3,1.2 3,1.5 3,2.0 3,2.0 3,1.9 3,1.7 3,1.5 3,1.2 3,1.2 3,1.2 3,1.5 3,1.6 3,1.7 3,1.7 3,1.4 3,1.3 3,1.3 3,1.3 3,1.6 3,1.7 3,1.8 3,1.9 3,2.0 3,1.8 3,1.7 3,2.3 3,2.5 3,2.8 3,3.1 3,3.2 3,3.0 3,2.4 3,2.0 3,1.8 3,1.6 3,1.5 3,1.3 3,1.0 3,0.8 3,0.6 3,0.5 3,0.4 3,0.6 3,1.7"/>
<path d="M38.2,90.3l3,1.8 3,1.5 3,1.5 3,1.4 3,1.6 3,1.7 3,1.8 3,1.7 3,1.5 3,1.6 3,1.3 3,1.3 3,1.4 3,1.6 3,1.9 3,1.9 3,1.9 3,1.6 3,1.5 3,1.5 3,1.4 3,1.5 3,1.5 3,1.4 3,1.3 3,1.3 3,1.3 3,1.4 3,1.6 3,1.6 3,1.7 3,1.7 3,1.7 3,1.5 3,1.7 3,1.9 3,1.9 3,2.0 3,2.6 3,2.6 3,2.6 3,2.6 3,2.7 3,2.7 3,2.2 3,1.9 3,1.8 3,1.4 3,1.1 3,1.0 3,0.7 3,0.7 3,0.5 3,0.5 3,0.5 3,0.7 3,1.6"/>
<path d="M38.2,92.3l3,1.6 3,1.5 3,1.4 3,1.4 3,1.5 3,1.6 3,1.7 3,1.7 3,1.7 3,1.9 3,1.6 3,1.4 3,1.4 3,1.5 3,1.5 3,1.7 3,1.6 3,1.4 3,1.4 3,1.3 3,1.2 3,1.1 3,1.2 3,1.2 3,1.3 3,1.5 3,1.6 3,1.7 3,1.7 3,1.6 3,1.7 3,1.6 3,1.5 3,1.5 3,1.7 3,1.8 3,1.7 3,1.7 3,2.2 3,2.2 3,2.4 3,2.6 3,2.9 3,2.9 3,2.5 3,2.3 3,1.9 3,1.7 3,1.4 3,1.1 3,1.0 3,0.7 3,0.6 3,0.5 3,0.5 3,0.5 3,1.6"/>
<path d="M38.2,93.2l3,1.6 3,1.5 3,1.6 3,1.7 3,1.8 3,1.8 3,1.6 3,1.5 3,1.4 3,1.7 3,1.5 3,1.5 3,1.5 3,1.5 3,1.3 3,1.4 3,1.2 3,1.2 3,1.4 3,1.6 3,1.5 3,1.4 3,1.2 3,1.1 3,1.0 3,1.2 3,1.6 3,1.8 3,1.9 3,1.7 3,1.5 3,1.2 3,1.1 3,1.2 3,1.5 3,1.9 3,2.0 3,1.9 3,2.2 3,2.1 3,2.2 3,2.5 3,2.8 3,3.1 3,2.8 3,2.4 3,1.9 3,1.5 3,1.2 3,1.0 3,1.0 3,0.8 3,0.7 3,0.5 3,0.5 3,0.5 3,1.5"/>
<path d="M38.2,93.0l3,1.8 3,1.8 3,1.8 3,1.7 3,1.5 3,1.4 3,1.3 3,1.3 3,1.4 3,1.7 3,1.6 3,1.4 3,1.2 3,1.3 3,1.3 3,1.6 3,1.7 3,1.8 3,1.9 3,1.8 3,1.5 3,1.2 3,1.0 3,1.0 3,1.1 3,1.4 3,1.6 3,1.6 3,1.5 3,1.3 3,1.2 3,1.1 3,1.4 3,1.6 3,1.9 3,2.3 3,2.1 3,1.9 3,2.2 3,2.2 3,2.4 3,2.8 3,3.0 3,3.1 3,2.5 3,2.0 3,1.6 3,1.4 3,1.2 3,1.1 3,1.1 3,0.9 3,0.7 3,0.5 3,0.5 3,0.5 3,1.6"/>
<path d="M38.2,94.0l3,1.7 3,1.5 3,1.4 3,1.5 3,1.8 3,1.8 3,1.9 3,1.7 3,1.4 3,1.4 3,1.0 3,1.1 3,1.4 3,1.6 3,1.7 3,1.8 3,1.6 3,1.1 3,1.2 3,1.3 3,1.4 3,1.5 3,1.6 3,1.4 3,1.2 3,1.0 3,1.1 3,1.2 3,1.5 3,1.7 3,1.7 3,1.5 3,1.4 3,1.2 3,1.2 3,1.7 3,1.8 3,2.0 3,2.6 3,2.6 3,2.5 3,2.5 3,2.5 3,2.7 3,2.3 3,2.3 3,2.0 3,1.7 3,1.3 3,1.0 3,0.8 3,0.6 3,0.7 3,0.5 3,0.5 3,0.7 3,1.6"/>
<path d="M38.2,93.6l3,1.9 3,1.6 3,1.5 3,1.3 3,1.5 3,1.6 3,1.9 3,1.8 3,1.8 3,1.7 3,1.2 3,1.0 3,1.0 3,1.3 3,1.6 3,1.9 3,1.9 3,1.5 3,1.3 3,1.3 3,1.1 3,1.2 3,1.4 3,1.5 3,1.6 3,1.5 3,1.4 3,1.2 3,1.3 3,1.4 3,1.5 3,1.6 3,1.6 3,1.6 3,1.5 3,1.6 3,1.6 3,1.6 3,2.4 3,2.6 3,2.7 3,2.9 3,2.9 3,2.7 3,2.3 3,2.0 3,1.8 3,1.7 3,1.4 3,1.1 3,0.9 3,0.7 3,0.6 3,0.4 3,0.4 3,0.6 3,1.7"/>
<path d="M38.2,92.8l3,1.8 3,1.7 3,1.5 3,1.5 3,1.5 3,1.6 3,1.7 3,1.6 3,1.5 3,1.7 3,1.4 3,1.3 3,1.4 3,1.6 3,1.7 3,1.9 3,1.9 3,1.5 3,1.6 3,1.4 3,1.3 3,1.3 3,1.2 3,1.2 3,1.2 3,1.2 3,1.4 3,1.4 3,1.5 3,1.5 3,1.6 3,1.6 3,1.7 3,1.6 3,1.7 3,2.0 3,1.9 3,1.8 3,2.4 3,2.3 3,2.5 3,2.6 3,2.7 3,2.6 3,2.1 3,1.9 3,1.7 3,1.4 3,1.2 3,1.0 3,0.8 3,0.7 3,0.6 3,0.4 3,0.5 3,0.7 3,1.6"/>
<path d="M38.2,94.9l3,1.4 3,1.5 3,1.7 3,1.9 3,1.9 3,1.8 3,1.5 3,1.1 3,1.2 3,1.5 3,1.5 3,1.7 3,1.8 3,1.6 3,1.3 3,1.2 3,1.1 3,1.2 3,1.5 3,1.8 3,1.7 3,1.4 3,1.1 3,0.8 3,0.7 3,1.0 3,1.5 3,1.8 3,2.0 3,1.9 3,1.4 3,1.1 3,0.9 3,1.1 3,1.5 3,2.2 3,2.2 3,2.1 3,2.3 3,2.0 3,1.9 3,2.3 3,2.7 3,3.1 3,2.9 3,2.4 3,2.0 3,1.5 3,1.1 3,0.9 3,0.9 3,0.9 3,0.9 3,0.6 3,0.5 3,0.5 3,1.4"/>
<path d="M38.2,94.4l3,2.1 3,1.8 3,1.5 3,1.4 3,1.4 3,1.6 3,1.8 3,1.8 3,1.8 3,1.6 3,1.1 3,0.8 3,1.0 3,1.4 3,1.9 3,2.1 3,2.1 3,1.6 3,1.4 3,1.1 3,1.0 3,1.2 3,1.4 3,1.4 3,1.5 3,1.2 3,1.1 3,1.0 3,1.0 3,1.2 3,1.6 3,1.8 3,1.8 3,1.7 3,1.6 3,1.6 3,1.6 3,1.6 3,2.5 3,2.6 3,2.8 3,2.7 3,2.6 3,2.4 3,1.9 3,1.7 3,1.7 3,1.6 3,1.3 3,1.1 3,0.9 3,0.6 3,0.6 3,0.4 3,0.5 3,0.6 3,1.7"/>
<path d="M38.2,91.4l3,2.1 3,2.0 3,1.8 3,1.6 3,1.6 3,1.6 3,1.8 3,1.9 3,1.9 3,1.9 3,1.3 3,1.1 3,0.9 3,1.2 3,1.5 3,2.0 3,2.1 3,1.8 3,1.7 3,1.5 3,1.2 3,1.2 3,1.4 3,1.6 3,1.6 3,1.7 3,1.5 3,1.3 3,1.2 3,1.2 3,1.3 3,1.5 3,1.7 3,1.7 3,1.8 3,1.8 3,1.6 3,1.6 3,2.3 3,2.6 3,2.8 3,2.9 3,2.9 3,2.4 3,1.8 3,1.5 3,1.3 3,1.2 3,1.0 3,0.8 3,0.7 3,0.6 3,0.4 3,0.4 3,0.4 3,0.6 3,1.6"/>
<path d="M38.2,95.3l3,1.6 3,1.5 3,1.5 3,1.3 3,1.5 3,1.5 3,1.6 3,1.6 3,1.6 3,1.7 3,1.3 3,1.2 3,1.2 3,1.4 3,1.5 3,1.8 3,1.8 3,1.5 3,1.5 3,1.5 3,1.3 3,1.2 3,1.3 3,1.3 3,1.3 3,1.4 3,1.5 3,1.5 3,1.4 3,1.5 3,1.5 3,1.5 3,1.5 3,1.6 3,1.6 3,2.0 3,1.8 3,1.8 3,2.4 3,2.4 3,2.6 3,2.8 3,2.9 3,3.0 3,2.5 3,2.3 3,2.0 3,1.8 3,1.5 3,1.2 3,1.1 3,0.9 3,0.7 3,0.5 3,0.5 3,0.6 3,1.6"/>
<path d="M38.2,94.0l3,2.0 3,2.0 3,1.8 3,1.7 3,1.7 3,1.7 3,1.8 3,1.8 3,1.8 3,1.9 3,1.6 3,1.1 3,1.1 3,1.0 3,1.2 3,1.5 3,1.7 3,1.6 3,1.5 3,1.5 3,1.2 3,1.1 3,1.1 3,1.4 3,1.5 3,1.6 3,1.7 3,1.5 3,1.4 3,1.2 3,1.2 3,1.2 3,1.4 3,1.4 3,1.7 3,1.7 3,1.6 3,1.5 3,2.1 3,2.2 3,2.6 3,2.9 3,3.0 3,2.8 3,2.3 3,1.8 3,1.5 3,1.3 3,1.2 3,0.9 3,0.8 3,0.7 3,0.5 3,0.4 3,0.4 3,0.5 3,1.6"/>
<path d="M38.2,95.5l3,1.6 3,1.4 3,1.3 3,1.2 3,1.4 3,1.7 3,1.7 3,1.7 3,1.7 3,1.7 3,1.3 3,1.2 3,1.4 3,1.7 3,1.8 3,1.9 3,1.8 3,1.4 3,1.3 3,1.2 3,1.1 3,1.2 3,1.3 3,1.3 3,1.3 3,1.3 3,1.3 3,1.3 3,1.5 3,1.7 3,1.8 3,1.8 3,1.7 3,1.6 3,1.6 3,1.7 3,1.7 3,1.8 3,2.4 3,2.4 3,2.5 3,2.6 3,2.7 3,2.6 3,2.4 3,2.2 3,2.0 3,1.8 3,1.4 3,1.2 3,1.0 3,0.7 3,0.7 3,0.4 3,0.6 3,0.6 3,1.6"/>
<path d="M38.2,94.5l3,1.7 3,1.5 3,1.6 3,1.7 3,1.8 3,1.8 3,1.7 3,1.3 3,1.2 3,1.3 3,1.4 3,1.5 3,1.8 3,2.0 3,1.8 3,1.7 3,1.5 3,1.3 3,1.5 3,1.6 3,1.7 3,1.6 3,1.3 3,1.0 3,0.7 3,0.8 3,1.1 3,1.5 3,1.8 3,1.9 3,1.8 3,1.5 3,1.3 3,1.3 3,1.6 3,2.1 3,2.2 3,2.2 3,2.6 3,2.3 3,2.1 3,2.2 3,2.4 3,2.6 3,2.3 3,2.1 3,1.7 3,1.3 3,1.1 3,0.8 3,0.8 3,0.7 3,0.6 3,0.5 3,0.6 3,0.6 3,1.6"/>
<path d="M38.2,94.6l3,2.0 3,2.0 3,1.8 3,1.8 3,1.8 3,1.8 3,1.9 3,1.7 3,1.7 3,1.7 3,1.3 3,1.2 3,1.2 3,1.3 3,1.4 3,1.6 3,1.7 3,1.5 3,1.4 3,1.5 3,1.3 3,1.3 3,1.3 3,1.2 3,1.3 3,1.3 3,1.4 3,1.3 3,1.4 3,1.3 3,1.3 3,1.4 3,1.3 3,1.4 3,1.5 3,1.8 3,1.7 3,1.7 3,2.3 3,2.3 3,2.6 3,2.6 3,2.7 3,2.6 3,2.1 3,1.8 3,1.5 3,1.3 3,1.0 3,0.9 3,0.8 3,0.6 3,0.5 3,0.4 3,0.5 3,0.6 3,1.6"/>
<path d="M38.2,94.3l3,2.0 3,1.9 3,1.7 3,1.7 3,1.7 3,1.7 3,1.7 3,1.6 3,1.6 3,1.5 3,1.3 3,1.1 3,1.1 3,1.3 3,1.5 3,1.8 3,1.8 3,1.7 3,1.7 3,1.7 3,1.5 3,1.5 3,1.4 3,1.4 3,1.3 3,1.4 3,1.4 3,1.3 3,1.3 3,1.3 3,1.3 3,1.3 3,1.5 3,1.4 3,1.7 3,2.0 3,1.9 3,2.0 3,2.4 3,2.6 3,2.7 3,2.8 3,2.8 3,2.7 3,2.1 3,1.8 3,1.5 3,1.3 3,1.0 3,0.9 3,0.8 3,0.6 3,0.5 3,0.5 3,0.5 3,0.6 3,1.6"/>
<path d="M38.2,95.5l3,1.9 3,1.7 3,1.5 3,1.5 3,1.5 3,1.7 3,1.9 3,1.8 3,1.7 3,1.6 3,1.2 3,1.1 3,1.1 3,1.5 3,1.6 3,2.0 3,1.8 3,1.5 3,1.3 3,1.3 3,1.2 3,1.3 3,1.4 3,1.5 3,1.5 3,1.3 3,1.3 3,1.2 3,1.3 3,1.4 3,1.6 3,1.7 3,1.6 3,1.4 3,1.5 3,1.7 3,1.7 3,1.7 3,2.5 3,2.5 3,2.7 3,2.7 3,2.7 3,2.6 3,2.1 3,2.0 3,1.7 3,1.6 3,1.2 3,1.0 3,0.8 3,0.6 3,0.5 3,0.5 3,0.5 3,0.6 3,1.6"/>
<path d="M38.2,95.6l3,2.0 3,1.7 3,1.5 3,1.6 3,1.6 3,1.8 3,1.8 3,1.6 3,1.5 3,1.5 3,1.2 3,1.1 3,1.4 3,1.6 3,1.8 3,1.9 3,1.8 3,1.5 3,1.4 3,1.4 3,1.4 3,1.4 3,1.4 3,1.3 3,1.2 3,1.1 3,1.1 3,1.2 3,1.4 3,1.5 3,1.7 3,1.6 3,1.5 3,1.5 3,1.5 3,1.8 3,1.9 3,1.9 3,2.6 3,2.5 3,2.5 3,2.6 3,2.5 3,2.4 3,2.1 3,1.9 3,1.7 3,1.4 3,1.1 3,0.9 3,0.8 3,0.6 3,0.6 3,0.5 3,0.5 3,0.6 3,1.6"/>
<path d="M38.2,94.8l3,2.0 3,1.9 3,1.8 3,1.6 3,1.7 3,1.6 3,1.7 3,1.7 3,1.6 3,1.6 3,1.2 3,1.1 3,1.1 3,1.3 3,1.5 3,1.9 3,1.9 3,1.8 3,1.7 3,1.6 3,1.5 3,1.4 3,1.4 3,1.4 3,1.4 3,1.4 3,1.4 3,1.2 3,1.3 3,1.2 3,1.3 3,1.4 3,1.5 3,1.6 3,1.7 3,2.0 3,1.9 3,1.8 3,2.5 3,2.6 3,2.8 3,2.8 3,2.8 3,2.6 3,2.0 3,1.7 3,1.5 3,1.2 3,1.1 3,0.8 3,0.8 3,0.6 3,0.5 3,0.5 3,0.4 3,0.7 3,1.6"/>
<path d="M38.2,94.4l3,1.8 3,1.8 3,1.9 3,1.9 3,1.9 3,1.9 3,1.8 3,1.5 3,1.5 3,1.6 3,1.5 3,1.5 3,1.5 3,1.5 3,1.4 3,1.5 3,1.4 3,1.4 3,1.5 3,1.8 3,1.7 3,1.5 3,1.4 3,1.1 3,1.1 3,1.3 3,1.5 3,1.6 3,1.8 3,1.6 3,1.5 3,1.2 3,1.1 3,1.2 3,1.6 3,2.0 3,2.0 3,2.0 3,2.3 3,2.3 3,2.4 3,2.4 3,2.7 3,2.7 3,2.3 3,1.9 3,1.4 3,1.2 3,0.8 3,0.8 3,0.7 3,0.6 3,0.5 3,0.5 3,0.4 3,0.6 3,1.6"/>
<path d="M38.2,95.6l3,2.0 3,1.8 3,1.7 3,1.6 3,1.8 3,1.8 3,2.0 3,1.8 3,1.7 3,1.6 3,1.3 3,1.2 3,1.3 3,1.5 3,1.6 3,1.8 3,1.7 3,1.3 3,1.3 3,1.4 3,1.3 3,1.3 3,1.4 3,1.4 3,1.2 3,1.3 3,1.2 3,1.4 3,1.4 3,1.6 3,1.6 3,1.5 3,1.4 3,1.4 3,1.4 3,1.7 3,1.7 3,1.7 3,2.4 3,2.4 3,2.6 3,2.5 3,2.5 3,2.5 3,2.1 3,1.9 3,1.6 3,1.3 3,1.1 3,0.8 3,0.7 3,0.6 3,0.5 3,0.5 3,0.4 3,0.7 3,1.5"/>
<path d="M38.2,95.7l3,2.1 3,1.9 3,1.8 3,1.7 3,1.7 3,1.8 3,1.9 3,1.9 3,1.8 3,1.7 3,1.4 3,1.2 3,1.2 3,1.5 3,1.6 3,1.8 3,1.7 3,1.4 3,1.3 3,1.3 3,1.1 3,1.2 3,1.3 3,1.3 3,1.3 3,1.3 3,1.3 3,1.3 3,1.4 3,1.5 3,1.5 3,1.6 3,1.5 3,1.4 3,1.5 3,1.6 3,1.6 3,1.7 3,2.2 3,2.4 3,2.5 3,2.5 3,2.6 3,2.4 3,2.1 3,1.7 3,1.6 3,1.3 3,1.1 3,0.8 3,0.8 3,0.5 3,0.5 3,0.5 3,0.4 3,0.6 3,1.6"/>
<path d="M38.2,96.1l3,1.7 3,1.3 3,1.3 3,1.5 3,1.8 3,2.1 3,2.1 3,1.9 3,1.6 3,1.3 3,1.0 3,1.1 3,1.4 3,1.8 3,2.0 3,1.9 3,1.7 3,1.1 3,1.1 3,1.2 3,1.5 3,1.7 3,1.9 3,1.7 3,1.4 3,1.1 3,1.1 3,1.2 3,1.6 3,1.9 3,1.9 3,1.9 3,1.5 3,1.1 3,1.2 3,1.5 3,1.8 3,2.1 3,2.8 3,2.8 3,2.7 3,2.5 3,2.5 3,2.4 3,2.3 3,2.1 3,1.9 3,1.6 3,1.1 3,0.8 3,0.7 3,0.5 3,0.5 3,0.5 3,0.5 3,0.7 3,1.6"/>
<path d="M38.2,95.4l3,2.0 3,1.8 3,1.8 3,1.7 3,1.9 3,1.9 3,2.0 3,1.8 3,1.6 3,1.6 3,1.3 3,1.1 3,1.1 3,1.3 3,1.4 3,1.7 3,1.7 3,1.4 3,1.6 3,1.6 3,1.5 3,1.6 3,1.6 3,1.6 3,1.5 3,1.4 3,1.5 3,1.5 3,1.4 3,1.4 3,1.4 3,1.3 3,1.3 3,1.3 3,1.4 3,1.8 3,1.8 3,1.9 3,2.4 3,2.6 3,2.8 3,2.8 3,2.8 3,2.7 3,2.1 3,1.8 3,1.5 3,1.2 3,0.9 3,0.8 3,0.7 3,0.5 3,0.5 3,0.4 3,0.5 3,0.6 3,1.6"/>
<path d="M38.2,98.5l3,1.8 3,1.7 3,1.6 3,1.5 3,1.7 3,1.6 3,1.7 3,1.5 3,1.4 3,1.5 3,1.3 3,1.2 3,1.4 3,1.5 3,1.6 3,1.7 3,1.7 3,1.4 3,1.5 3,1.5 3,1.4 3,1.4 3,1.2 3,1.2 3,1.1 3,1.1 3,1.3 3,1.3 3,1.5 3,1.5 3,1.5 3,1.5 3,1.3 3,1.4 3,1.6 3,2.0 3,1.9 3,1.9 3,2.5 3,2.3 3,2.5 3,2.5 3,2.7 3,2.7 3,2.3 3,2.1 3,1.8 3,1.5 3,1.2 3,1.1 3,0.9 3,0.7 3,0.7 3,0.5 3,0.5 3,0.6 3,1.6"/>
<path d="M38.2,96.2l3,2.0 3,1.9 3,1.8 3,1.5 3,1.5 3,1.6 3,1.8 3,1.8 3,1.8 3,1.9 3,1.5 3,1.1 3,1.1 3,1.3 3,1.5 3,1.9 3,2.0 3,1.7 3,1.7 3,1.4 3,1.1 3,1.2 3,1.2 3,1.4 3,1.4 3,1.6 3,1.5 3,1.4 3,1.3 3,1.3 3,1.4 3,1.5 3,1.7 3,1.7 3,1.8 3,1.8 3,1.7 3,1.5 3,2.2 3,2.4 3,2.7 3,2.8 3,2.8 3,2.5 3,2.0 3,1.7 3,1.4 3,1.3 3,1.0 3,0.9 3,0.8 3,0.6 3,0.5 3,0.4 3,0.4 3,0.6 3,1.6"/>
<path d="M38.2,96.0l3,1.7 3,1.6 3,1.5 3,1.5 3,1.9 3,1.9 3,2.1 3,1.8 3,1.7 3,1.6 3,1.3 3,1.2 3,1.4 3,1.6 3,1.8 3,1.8 3,1.6 3,1.3 3,1.3 3,1.4 3,1.4 3,1.6 3,1.7 3,1.5 3,1.5 3,1.3 3,1.4 3,1.5 3,1.6 3,1.8 3,1.8 3,1.6 3,1.5 3,1.2 3,1.4 3,1.7 3,1.8 3,1.9 3,2.5 3,2.6 3,2.6 3,2.6 3,2.7 3,2.6 3,2.2 3,2.0 3,1.6 3,1.3 3,1.1 3,0.8 3,0.6 3,0.6 3,0.5 3,0.4 3,0.5 3,0.6 3,1.6"/>
<path d="M38.2,96.0l3,2.2 3,2.1 3,1.9 3,1.6 3,1.5 3,1.5 3,1.8 3,2.0 3,2.1 3,2.2 3,1.6 3,1.2 3,0.8 3,0.9 3,1.3 3,1.9 3,2.1 3,2.0 3,1.7 3,1.4 3,0.9 3,0.9 3,1.1 3,1.4 3,1.8 3,1.9 3,1.7 3,1.5 3,1.1 3,1.0 3,1.1 3,1.5 3,1.7 3,1.9 3,1.9 3,1.8 3,1.4 3,1.2 3,2.0 3,2.3 3,2.8 3,3.0 3,3.0 3,2.5 3,1.8 3,1.4 3,1.2 3,1.2 3,1.0 3,0.9 3,0.7 3,0.6 3,0.4 3,0.3 3,0.4 3,0.6 3,1.6"/>
<path d="M38.2,96.7l3,2.1 3,2.1 3,2.0 3,1.9 3,1.9 3,1.7 3,1.7 3,1.7 3,1.8 3,1.9 3,1.7 3,1.4 3,1.3 3,1.3 3,1.3 3,1.5 3,1.7 3,1.6 3,1.7 3,1.6 3,1.3 3,1.1 3,0.9 3,1.0 3,1.2 3,1.4 3,1.5 3,1.6 3,1.5 3,1.4 3,1.2 3,1.2 3,1.3 3,1.5 3,1.8 3,2.0 3,1.7 3,1.6 3,2.0 3,2.1 3,2.3 3,2.6 3,2.7 3,2.5 3,2.1 3,1.6 3,1.3 3,1.1 3,0.9 3,0.8 3,0.8 3,0.6 3,0.5 3,0.4 3,0.4 3,0.6 3,1.6"/>
<path d="M38.2,95.9l3,2.0 3,1.9 3,1.6 3,1.6 3,1.8 3,1.9 3,2.1 3,2.0 3,2.0 3,1.8 3,1.3 3,1.1 3,1.2 3,1.5 3,1.7 3,1.9 3,1.9 3,1.4 3,1.4 3,1.2 3,1.2 3,1.4 3,1.5 3,1.7 3,1.6 3,1.5 3,1.4 3,1.3 3,1.4 3,1.5 3,1.6 3,1.7 3,1.7 3,1.4 3,1.5 3,1.5 3,1.5 3,1.6 3,2.3 3,2.6 3,2.7 3,2.7 3,2.5 3,2.3 3,1.8 3,1.6 3,1.4 3,1.1 3,0.9 3,0.8 3,0.6 3,0.5 3,0.4 3,0.4 3,0.4 3,0.6 3,1.6"/>
<path d="M38.2,96.6l3,2.1 3,1.9 3,1.9 3,1.6 3,1.7 3,1.6 3,1.6 3,1.5 3,1.5 3,1.7 3,1.3 3,1.3 3,1.2 3,1.5 3,1.6 3,2.0 3,2.0 3,1.8 3,1.9 3,1.8 3,1.5 3,1.3 3,1.3 3,1.2 3,1.3 3,1.3 3,1.3 3,1.4 3,1.3 3,1.3 3,1.3 3,1.5 3,1.5 3,1.7 3,1.9 3,2.2 3,2.0 3,1.9 3,2.4 3,2.5 3,2.6 3,2.7 3,2.6 3,2.5 3,1.8 3,1.6 3,1.3 3,1.1 3,0.9 3,0.8 3,0.8 3,0.6 3,0.5 3,0.4 3,0.5 3,0.6 3,1.6"/>
<path d="M38.2,96.5l3,2.1 3,1.9 3,1.9 3,1.8 3,1.8 3,1.9 3,2.0 3,1.9 3,1.7 3,1.6 3,1.3 3,1.2 3,1.2 3,1.4 3,1.5 3,1.8 3,1.7 3,1.5 3,1.6 3,1.5 3,1.5 3,1.5 3,1.5 3,1.5 3,1.4 3,1.4 3,1.4 3,1.3 3,1.4 3,1.5 3,1.4 3,1.4 3,1.4 3,1.3 3,1.5 3,1.8 3,1.7 3,1.8 3,2.4 3,2.5 3,2.7 3,2.6 3,2.7 3,2.4 3,1.9 3,1.6 3,1.3 3,1.1 3,0.9 3,0.7 3,0.6 3,0.5 3,0.5 3,0.4 3,0.4 3,0.7 3,1.6"/>
<path d="M38.2,97.1l3,1.9 3,1.9 3,1.8 3,1.8 3,1.9 3,1.9 3,2.0 3,1.9 3,1.8 3,1.8 3,1.4 3,1.3 3,1.2 3,1.4 3,1.3 3,1.6 3,1.5 3,1.4 3,1.4 3,1.5 3,1.4 3,1.5 3,1.5 3,1.5 3,1.5 3,1.5 3,1.6 3,1.6 3,1.6 3,1.5 3,1.5 3,1.3 3,1.3 3,1.2 3,1.5 3,1.7 3,1.6 3,1.7 3,2.3 3,2.4 3,2.6 3,2.7 3,2.8 3,2.6 3,2.2 3,1.7 3,1.5 3,1.1 3,0.9 3,0.8 3,0.6 3,0.6 3,0.4 3,0.4 3,0.4 3,0.6 3,1.6"/>
<path d="M38.2,98.7l3,2.0 3,1.8 3,1.8 3,1.8 3,2.0 3,2.0 3,2.0 3,1.9 3,1.6 3,1.5 3,1.2 3,1.2 3,1.2 3,1.5 3,1.5 3,1.6 3,1.5 3,1.2 3,1.3 3,1.4 3,1.5 3,1.6 3,1.5 3,1.4 3,1.3 3,1.2 3,1.3 3,1.3 3,1.5 3,1.6 3,1.5 3,1.3 3,1.2 3,1.1 3,1.3 3,1.6 3,1.8 3,1.8 3,2.5 3,2.5 3,2.5 3,2.5 3,2.6 3,2.6 3,2.2 3,1.9 3,1.6 3,1.2 3,1.0 3,0.8 3,0.6 3,0.6 3,0.5 3,0.4 3,0.5 3,0.6 3,1.6"/>
<path d="M38.2,95.2l3,2.1 3,2.1 3,2.0 3,1.9 3,1.9 3,2.0 3,2.0 3,2.0 3,1.9 3,1.9 3,1.6 3,1.4 3,1.3 3,1.4 3,1.5 3,1.7 3,1.7 3,1.6 3,1.6 3,1.6 3,1.4 3,1.4 3,1.4 3,1.3 3,1.4 3,1.5 3,1.6 3,1.5 3,1.6 3,1.5 3,1.4 3,1.4 3,1.4 3,1.4 3,1.6 3,1.8 3,1.6 3,1.6 3,2.1 3,2.3 3,2.6 3,2.4 3,2.5 3,2.2 3,1.6 3,1.4 3,1.1 3,0.8 3,0.8 3,0.6 3,0.6 3,0.4 3,0.4 3,0.4 3,0.5 3,0.6 3,1.5"/>
<path d="M38.2,96.8l3,2.0 3,1.9 3,1.9 3,1.7 3,1.9 3,1.8 3,1.9 3,1.8 3,1.8 3,1.9 3,1.6 3,1.5 3,1.4 3,1.6 3,1.6 3,1.7 3,1.7 3,1.5 3,1.5 3,1.5 3,1.3 3,1.3 3,1.3 3,1.2 3,1.3 3,1.3 3,1.6 3,1.6 3,1.6 3,1.6 3,1.6 3,1.5 3,1.5 3,1.4 3,1.7 3,1.8 3,1.7 3,1.6 3,2.2 3,2.2 3,2.5 3,2.4 3,2.5 3,2.3 3,1.9 3,1.5 3,1.3 3,1.0 3,0.9 3,0.7 3,0.6 3,0.5 3,0.5 3,0.4 3,0.4 3,0.6 3,1.6"/>
<path d="M38.2,97.9l3,2.0 3,1.9 3,1.8 3,1.5 3,1.5 3,1.4 3,1.7 3,1.8 3,2.1 3,2.1 3,1.7 3,1.3 3,1.1 3,1.1 3,1.3 3,1.8 3,2.0 3,1.9 3,1.7 3,1.5 3,1.1 3,1.0 3,1.1 3,1.4 3,1.7 3,1.8 3,1.9 3,1.6 3,1.4 3,1.3 3,1.3 3,1.4 3,1.7 3,1.9 3,1.9 3,1.9 3,1.6 3,1.4 3,2.1 3,2.3 3,2.7 3,2.9 3,3.1 3,2.7 3,2.1 3,1.6 3,1.4 3,1.2 3,1.1 3,0.9 3,0.8 3,0.6 3,0.5 3,0.3 3,0.4 3,0.6 3,1.6"/>
<path d="M38.2,96.9l3,2.1 3,2.1 3,2.1 3,1.9 3,1.9 3,1.8 3,1.9 3,1.8 3,1.9 3,2.1 3,1.6 3,1.4 3,1.1 3,1.0 3,1.1 3,1.5 3,1.7 3,1.7 3,1.8 3,1.7 3,1.4 3,1.3 3,1.3 3,1.4 3,1.5 3,1.8 3,1.8 3,1.8 3,1.5 3,1.2 3,1.1 3,1.1 3,1.3 3,1.4 3,1.7 3,1.9 3,1.7 3,1.5 3,2.1 3,2.2 3,2.7 3,2.8 3,2.9 3,2.6 3,1.9 3,1.4 3,1.2 3,0.9 3,0.8 3,0.7 3,0.6 3,0.6 3,0.4 3,0.4 3,0.4 3,0.6 3,1.5"/>
<path d="M38.2,98.0l3,2.3 3,2.2 3,2.1 3,1.9 3,1.9 3,1.9 3,2.1 3,2.0 3,2.1 3,1.9 3,1.5 3,1.1 3,0.9 3,1.0 3,1.2 3,1.7 3,1.7 3,1.7 3,1.6 3,1.5 3,1.2 3,1.3 3,1.3 3,1.4 3,1.6 3,1.6 3,1.6 3,1.3 3,1.2 3,1.1 3,1.0 3,1.2 3,1.4 3,1.4 3,1.6 3,1.7 3,1.4 3,1.5 3,2.1 3,2.4 3,2.7 3,2.8 3,2.8 3,2.4 3,1.8 3,1.4 3,1.2 3,1.0 3,0.9 3,0.7 3,0.7 3,0.5 3,0.4 3,0.4 3,0.4 3,0.6 3,1.5"/>
<path d="M38.2,98.6l3,2.0 3,2.0 3,1.8 3,1.8 3,1.7 3,1.8 3,1.9 3,1.8 3,1.9 3,1.9 3,1.5 3,1.4 3,1.2 3,1.3 3,1.5 3,1.7 3,1.7 3,1.5 3,1.6 3,1.4 3,1.3 3,1.2 3,1.3 3,1.3 3,1.4 3,1.5 3,1.6 3,1.5 3,1.5 3,1.4 3,1.4 3,1.5 3,1.4 3,1.6 3,1.6 3,1.8 3,1.6 3,1.6 3,2.1 3,2.3 3,2.6 3,2.6 3,2.7 3,2.5 3,2.0 3,1.6 3,1.3 3,1.2 3,0.9 3,0.8 3,0.7 3,0.5 3,0.5 3,0.4 3,0.4 3,0.6 3,1.6"/>
<path d="M38.2,96.2l3,2.2 3,2.2 3,2.2 3,2.1 3,2.1 3,2.1 3,2.1 3,1.9 3,1.9 3,1.9 3,1.6 3,1.6 3,1.5 3,1.5 3,1.5 3,1.6 3,1.6 3,1.5 3,1.6 3,1.8 3,1.5 3,1.4 3,1.2 3,1.1 3,1.1 3,1.3 3,1.4 3,1.6 3,1.5 3,1.5 3,1.4 3,1.2 3,1.2 3,1.3 3,1.6 3,1.9 3,1.7 3,1.6 3,2.0 3,2.2 3,2.4 3,2.2 3,2.3 3,2.1 3,1.6 3,1.3 3,0.9 3,0.9 3,0.6 3,0.6 3,0.6 3,0.5 3,0.4 3,0.4 3,0.4 3,0.6 3,1.6"/>
<path d="M38.2,95.5l3,2.1 3,2.1 3,2.0 3,1.9 3,1.8 3,1.7 3,1.7 3,1.8 3,1.8 3,1.9 3,1.8 3,1.5 3,1.5 3,1.5 3,1.6 3,1.9 3,2.0 3,1.9 3,1.9 3,1.9 3,1.5 3,1.4 3,1.2 3,1.3 3,1.3 3,1.5 3,1.7 3,1.6 3,1.6 3,1.4 3,1.4 3,1.5 3,1.6 3,1.7 3,2.0 3,2.1 3,1.8 3,1.6 3,2.1 3,2.2 3,2.6 3,2.4 3,2.3 3,2.0 3,1.5 3,1.1 3,0.9 3,0.8 3,0.7 3,0.5 3,0.6 3,0.5 3,0.4 3,0.3 3,0.5 3,0.6 3,1.6"/>
<path d="M38.2,98.4l3,1.8 3,1.9 3,1.8 3,1.8 3,1.9 3,1.8 3,1.8 3,1.7 3,1.7 3,1.8 3,1.6 3,1.5 3,1.4 3,1.4 3,1.5 3,1.7 3,1.6 3,1.5 3,1.7 3,1.7 3,1.5 3,1.5 3,1.3 3,1.4 3,1.3 3,1.5 3,1.6 3,1.7 3,1.7 3,1.6 3,1.5 3,1.4 3,1.3 3,1.5 3,1.6 3,2.0 3,1.8 3,1.8 3,2.3 3,2.3 3,2.5 3,2.6 3,2.7 3,2.6 3,2.0 3,1.6 3,1.3 3,1.0 3,0.9 3,0.7 3,0.6 3,0.5 3,0.5 3,0.4 3,0.4 3,0.7 3,1.5"/>
<path d="M38.2,98.3l3,2.0 3,1.9 3,1.7 3,1.7 3,1.7 3,1.8 3,1.8 3,1.8 3,1.9 3,1.9 3,1.7 3,1.6 3,1.7 3,1.8 3,1.8 3,1.9 3,1.8 3,1.5 3,1.5 3,1.4 3,1.2 3,1.2 3,1.1 3,1.1 3,1.1 3,1.3 3,1.5 3,1.6 3,1.7 3,1.8 3,1.7 3,1.7 3,1.7 3,1.7 3,1.7 3,1.9 3,1.7 3,1.5 3,2.1 3,2.1 3,2.3 3,2.3 3,2.3 3,2.2 3,1.7 3,1.5 3,1.2 3,1.0 3,0.9 3,0.7 3,0.6 3,0.5 3,0.4 3,0.4 3,0.5 3,0.6 3,1.5"/>
<path d="M38.2,97.8l3,2.3 3,2.3 3,2.1 3,2.0 3,2.0 3,2.0 3,2.3 3,2.1 3,2.0 3,1.9 3,1.6 3,1.3 3,1.2 3,1.4 3,1.5 3,1.9 3,1.8 3,1.5 3,1.5 3,1.4 3,1.3 3,1.2 3,1.2 3,1.3 3,1.4 3,1.3 3,1.3 3,1.3 3,1.2 3,1.3 3,1.3 3,1.5 3,1.5 3,1.4 3,1.5 3,1.7 3,1.4 3,1.5 3,2.1 3,2.3 3,2.5 3,2.5 3,2.3 3,2.0 3,1.6 3,1.3 3,1.1 3,0.9 3,0.8 3,0.7 3,0.5 3,0.5 3,0.5 3,0.3 3,0.5 3,0.6 3,1.6"/>
<path d="M38.2,94.4l3,2.3 3,2.4 3,2.4 3,2.2 3,2.0 3,1.8 3,2.0 3,2.0 3,2.1 3,2.5 3,2.2 3,1.9 3,1.4 3,1.2 3,1.2 3,1.5 3,1.9 3,2.1 3,2.1 3,2.0 3,1.3 3,1.0 3,0.8 3,1.0 3,1.4 3,1.8 3,2.1 3,1.9 3,1.6 3,1.2 3,1.0 3,1.1 3,1.4 3,1.8 3,2.0 3,2.0 3,1.4 3,1.0 3,1.6 3,1.9 3,2.4 3,2.3 3,2.2 3,1.8 3,1.2 3,0.9 3,0.7 3,0.7 3,0.6 3,0.5 3,0.5 3,0.5 3,0.3 3,0.4 3,0.4 3,0.6 3,1.6"/>
<path d="M38.2,95.8l3,2.3 3,2.3 3,2.4 3,2.4 3,2.2 3,2.1 3,2.2 3,2.0 3,2.0 3,2.3 3,2.3 3,2.0 3,1.7 3,1.3 3,1.1 3,1.2 3,1.4 3,1.6 3,2.0 3,1.9 3,1.6 3,1.1 3,0.8 3,0.7 3,1.0 3,1.4 3,1.9 3,2.0 3,1.8 3,1.4 3,1.1 3,0.8 3,1.0 3,1.4 3,1.8 3,2.0 3,1.6 3,1.2 3,1.6 3,1.8 3,2.2 3,2.2 3,2.3 3,2.1 3,1.5 3,1.1 3,0.8 3,0.7 3,0.6 3,0.6 3,0.5 3,0.5 3,0.4 3,0.4 3,0.4 3,0.6 3,1.5"/>
<path d="M38.2,95.3l3,2.3 3,2.3 3,2.2 3,2.3 3,2.2 3,2.2 3,2.4 3,2.2 3,2.1 3,2.1 3,1.8 3,1.7 3,1.6 3,1.6 3,1.5 3,1.7 3,1.6 3,1.4 3,1.6 3,1.6 3,1.5 3,1.4 3,1.4 3,1.2 3,1.2 3,1.3 3,1.5 3,1.6 3,1.7 3,1.5 3,1.5 3,1.3 3,1.3 3,1.2 3,1.4 3,1.7 3,1.4 3,1.2 3,2.0 3,2.1 3,2.4 3,2.1 3,2.1 3,1.7 3,1.3 3,1.1 3,0.8 3,0.7 3,0.6 3,0.5 3,0.5 3,0.4 3,0.4 3,0.4 3,0.4 3,0.6 3,1.6"/>
<path d="M38.2,98.3l3,2.0 3,1.8 3,1.7 3,1.6 3,1.7 3,2.0 3,2.2 3,2.2 3,2.2 3,2.1 3,1.7 3,1.2 3,1.3 3,1.4 3,1.6 3,1.8 3,1.9 3,1.4 3,1.3 3,1.3 3,1.1 3,1.3 3,1.5 3,1.7 3,1.8 3,1.8 3,1.8 3,1.6 3,1.6 3,1.6 3,1.7 3,1.8 3,1.7 3,1.5 3,1.5 3,1.5 3,1.3 3,1.3 3,2.2 3,2.4 3,2.7 3,2.7 3,2.6 3,2.2 3,1.8 3,1.4 3,1.2 3,1.0 3,0.8 3,0.6 3,0.6 3,0.4 3,0.4 3,0.4 3,0.4 3,0.6 3,1.6"/>
<path d="M38.2,96.4l3,2.3 3,2.2 3,2.2 3,2.1 3,2.2 3,2.2 3,2.3 3,2.2 3,2.1 3,1.9 3,1.7 3,1.5 3,1.6 3,1.7 3,1.8 3,1.8 3,1.7 3,1.4 3,1.5 3,1.5 3,1.4 3,1.5 3,1.4 3,1.3 3,1.2 3,1.2 3,1.3 3,1.5 3,1.5 3,1.6 3,1.6 3,1.5 3,1.4 3,1.3 3,1.4 3,1.6 3,1.4 3,1.4 3,2.1 3,2.2 3,2.4 3,2.1 3,2.0 3,1.7 3,1.4 3,1.1 3,0.8 3,0.8 3,0.6 3,0.6 3,0.4 3,0.5 3,0.4 3,0.3 3,0.5 3,0.6 3,1.6"/>
<path d="M38.2,95.4l3,2.2 3,2.1 3,2.2 3,2.1 3,2.1 3,2.0 3,2.2 3,2.1 3,2.0 3,2.0 3,1.8 3,1.7 3,1.6 3,1.7 3,1.6 3,1.7 3,1.8 3,1.6 3,1.8 3,1.8 3,1.6 3,1.5 3,1.3 3,1.4 3,1.3 3,1.5 3,1.6 3,1.7 3,1.7 3,1.7 3,1.5 3,1.4 3,1.4 3,1.4 3,1.7 3,1.7 3,1.5 3,1.2 3,2.0 3,2.2 3,2.4 3,2.2 3,2.0 3,1.6 3,1.2 3,1.0 3,0.7 3,0.7 3,0.6 3,0.5 3,0.4 3,0.5 3,0.3 3,0.4 3,0.4 3,0.6 3,1.6"/>
<path d="M38.2,97.6l3,2.2 3,2.2 3,2.3 3,2.1 3,2.1 3,1.8 3,1.8 3,1.8 3,1.8 3,2.2 3,2.0 3,1.8 3,1.5 3,1.3 3,1.2 3,1.5 3,1.8 3,1.8 3,2.1 3,1.9 3,1.6 3,1.2 3,1.0 3,0.9 3,1.2 3,1.6 3,1.8 3,1.9 3,1.7 3,1.4 3,1.1 3,1.1 3,1.3 3,1.6 3,2.0 3,2.1 3,1.7 3,1.4 3,1.8 3,2.0 3,2.4 3,2.3 3,2.5 3,2.0 3,1.5 3,1.1 3,0.8 3,0.8 3,0.6 3,0.6 3,0.5 3,0.5 3,0.4 3,0.4 3,0.4 3,0.6 3,1.6"/>
<path d="M38.2,98.0l3,2.2 3,2.1 3,2.1 3,2.1 3,2.2 3,2.1 3,2.2 3,2.0 3,1.8 3,1.8 3,1.5 3,1.4 3,1.3 3,1.4 3,1.4 3,1.6 3,1.6 3,1.5 3,1.7 3,1.9 3,1.8 3,1.8 3,1.6 3,1.5 3,1.5 3,1.5 3,1.6 3,1.6 3,1.6 3,1.4 3,1.4 3,1.1 3,1.2 3,1.2 3,1.4 3,1.8 3,1.8 3,1.6 3,2.3 3,2.5 3,2.6 3,2.4 3,2.4 3,2.0 3,1.4 3,1.2 3,0.9 3,0.7 3,0.7 3,0.5 3,0.5 3,0.4 3,0.4 3,0.4 3,0.4 3,0.6 3,1.6"/>
<path d="M38.2,97.3l3,2.4 3,2.2 3,2.3 3,2.1 3,2.2 3,2.3 3,2.6 3,2.4 3,2.3 3,2.1 3,1.7 3,1.5 3,1.5 3,1.7 3,1.8 3,1.9 3,1.7 3,1.2 3,1.2 3,1.2 3,1.2 3,1.4 3,1.4 3,1.4 3,1.2 3,1.2 3,1.3 3,1.2 3,1.5 3,1.6 3,1.6 3,1.6 3,1.5 3,1.2 3,1.2 3,1.4 3,1.1 3,1.3 3,2.0 3,2.2 3,2.5 3,2.1 3,1.9 3,1.7 3,1.4 3,1.1 3,1.0 3,0.8 3,0.7 3,0.5 3,0.5 3,0.5 3,0.3 3,0.4 3,0.5 3,0.6 3,1.5"/>
<path d="M38.2,100.6l3,2.3 3,2.2 3,2.1 3,2.0 3,1.9 3,1.9 3,2.1 3,2.0 3,1.9 3,1.8 3,1.4 3,1.2 3,1.0 3,1.3 3,1.4 3,1.8 3,1.8 3,1.7 3,1.7 3,1.7 3,1.4 3,1.5 3,1.4 3,1.4 3,1.5 3,1.5 3,1.4 3,1.3 3,1.3 3,1.1 3,1.2 3,1.3 3,1.4 3,1.4 3,1.6 3,1.8 3,1.6 3,1.6 3,2.3 3,2.5 3,2.7 3,2.6 3,2.5 3,2.1 3,1.6 3,1.3 3,1.1 3,0.8 3,0.8 3,0.6 3,0.6 3,0.5 3,0.4 3,0.4 3,0.4 3,0.6 3,1.6"/>
<path d="M38.2,97.8l3,2.3 3,2.2 3,2.3 3,2.2 3,2.3 3,2.3 3,2.6 3,2.2 3,2.0 3,2.0 3,1.8 3,1.8 3,1.8 3,1.9 3,1.7 3,1.5 3,1.4 3,1.1 3,1.3 3,1.5 3,1.5 3,1.5 3,1.4 3,1.1 3,0.9 3,1.0 3,1.2 3,1.6 3,1.8 3,1.8 3,1.6 3,1.4 3,1.1 3,1.0 3,1.3 3,1.5 3,1.5 3,1.4 3,2.1 3,2.1 3,2.2 3,1.9 3,2.0 3,1.8 3,1.5 3,1.2 3,1.0 3,0.8 3,0.6 3,0.5 3,0.5 3,0.5 3,0.4 3,0.4 3,0.4 3,0.6 3,1.6"/>
<path d="M38.2,98.5l3,2.4 3,2.3 3,2.2 3,2.2 3,2.2 3,2.1 3,2.3 3,2.1 3,2.0 3,1.9 3,1.4 3,1.3 3,1.2 3,1.3 3,1.6 3,1.8 3,1.9 3,1.7 3,1.8 3,1.7 3,1.6 3,1.6 3,1.5 3,1.5 3,1.4 3,1.3 3,1.3 3,1.3 3,1.2 3,1.2 3,1.2 3,1.2 3,1.4 3,1.3 3,1.6 3,1.7 3,1.6 3,1.5 3,2.2 3,2.4 3,2.7 3,2.3 3,2.2 3,1.7 3,1.3 3,1.0 3,0.9 3,0.7 3,0.6 3,0.6 3,0.5 3,0.4 3,0.4 3,0.3 3,0.5 3,0.6 3,1.6"/>
<path d="M38.2,96.0l3,2.4 3,2.3 3,2.3 3,2.2 3,2.3 3,2.3 3,2.7 3,2.5 3,2.4 3,2.3 3,1.8 3,1.6 3,1.5 3,1.6 3,1.6 3,1.8 3,1.6 3,1.4 3,1.3 3,1.4 3,1.4 3,1.5 3,1.5 3,1.6 3,1.5 3,1.5 3,1.5 3,1.4 3,1.5 3,1.5 3,1.6 3,1.4 3,1.4 3,1.2 3,1.1 3,1.3 3,1.0 3,1.1 3,1.9 3,2.2 3,2.5 3,2.1 3,1.9 3,1.5 3,1.2 3,0.9 3,0.8 3,0.7 3,0.5 3,0.5 3,0.5 3,0.4 3,0.3 3,0.4 3,0.4 3,0.6 3,1.6"/>
<path d="M38.2,96.5l3,2.4 3,2.4 3,2.4 3,2.4 3,2.3 3,2.2 3,2.3 3,2.1 3,2.2 3,2.3 3,2.2 3,2.0 3,1.8 3,1.5 3,1.4 3,1.3 3,1.5 3,1.6 3,1.9 3,2.0 3,1.6 3,1.3 3,1.0 3,0.8 3,1.0 3,1.4 3,1.7 3,1.9 3,1.8 3,1.5 3,1.2 3,1.0 3,1.1 3,1.3 3,1.6 3,1.9 3,1.4 3,1.1 3,1.7 3,1.9 3,2.2 3,2.0 3,2.0 3,1.7 3,1.3 3,0.9 3,0.7 3,0.7 3,0.5 3,0.5 3,0.5 3,0.4 3,0.4 3,0.4 3,0.4 3,0.6 3,1.6"/>
<path d="M38.2,99.5l3,2.3 3,2.2 3,2.2 3,2.0 3,2.1 3,2.1 3,2.3 3,2.2 3,2.0 3,2.1 3,1.6 3,1.5 3,1.3 3,1.5 3,1.6 3,1.9 3,1.7 3,1.6 3,1.5 3,1.5 3,1.3 3,1.3 3,1.4 3,1.4 3,1.3 3,1.4 3,1.4 3,1.4 3,1.5 3,1.4 3,1.5 3,1.4 3,1.5 3,1.4 3,1.5 3,1.6 3,1.4 3,1.3 3,2.1 3,2.2 3,2.6 3,2.2 3,2.2 3,1.8 3,1.4 3,1.2 3,0.9 3,0.8 3,0.7 3,0.5 3,0.6 3,0.4 3,0.4 3,0.3 3,0.5 3,0.6 3,1.6"/>
<path d="M38.2,97.2l3,2.3 3,2.3 3,2.4 3,2.3 3,2.3 3,2.2 3,2.4 3,2.3 3,2.3 3,2.3 3,2.1 3,1.9 3,1.7 3,1.5 3,1.3 3,1.5 3,1.5 3,1.5 3,1.7 3,1.7 3,1.5 3,1.3 3,1.2 3,1.1 3,1.3 3,1.5 3,1.7 3,1.9 3,1.7 3,1.5 3,1.3 3,1.1 3,1.2 3,1.3 3,1.5 3,1.6 3,1.2 3,1.0 3,1.8 3,2.0 3,2.3 3,2.1 3,2.0 3,1.7 3,1.3 3,0.9 3,0.8 3,0.6 3,0.6 3,0.5 3,0.5 3,0.4 3,0.4 3,0.3 3,0.4 3,0.6 3,1.6"/>
<path d="M38.2,98.1l3,2.4 3,2.3 3,2.3 3,2.4 3,2.3 3,2.3 3,2.6 3,2.3 3,2.2 3,2.0 3,1.9 3,1.7 3,1.7 3,1.7 3,1.6 3,1.5 3,1.4 3,1.3 3,1.4 3,1.7 3,1.6 3,1.6 3,1.4 3,1.2 3,1.0 3,1.2 3,1.3 3,1.6 3,1.7 3,1.6 3,1.4 3,1.2 3,1.1 3,1.0 3,1.3 3,1.6 3,1.4 3,1.3 3,2.0 3,2.1 3,2.3 3,2.0 3,2.0 3,1.8 3,1.3 3,1.1 3,0.8 3,0.7 3,0.6 3,0.5 3,0.5 3,0.4 3,0.4 3,0.4 3,0.4 3,0.6 3,1.6"/>
<path d="M38.2,98.3l3,2.4 3,2.4 3,2.3 3,2.3 3,2.2 3,2.3 3,2.6 3,2.5 3,2.3 3,2.3 3,1.9 3,1.6 3,1.5 3,1.6 3,1.6 3,1.8 3,1.7 3,1.5 3,1.4 3,1.3 3,1.2 3,1.3 3,1.3 3,1.4 3,1.3 3,1.3 3,1.4 3,1.4 3,1.4 3,1.4 3,1.4 3,1.5 3,1.4 3,1.3 3,1.3 3,1.4 3,1.0 3,1.1 3,1.9 3,2.2 3,2.4 3,2.2 3,1.9 3,1.7 3,1.2 3,1.0 3,0.9 3,0.7 3,0.6 3,0.5 3,0.5 3,0.5 3,0.3 3,0.4 3,0.4 3,0.6 3,1.6"/>
<path d="M38.2,96.7l3,2.4 3,2.4 3,2.3 3,2.2 3,2.2 3,2.2 3,2.7 3,2.5 3,2.4 3,2.3 3,1.9 3,1.6 3,1.4 3,1.6 3,1.9 3,2.0 3,1.9 3,1.6 3,1.5 3,1.4 3,1.2 3,1.4 3,1.5 3,1.5 3,1.6 3,1.4 3,1.4 3,1.3 3,1.3 3,1.4 3,1.6 3,1.6 3,1.6 3,1.4 3,1.3 3,1.3 3,0.9 3,0.9 3,1.8 3,2.2 3,2.6 3,2.0 3,1.7 3,1.4 3,1.0 3,0.8 3,0.7 3,0.7 3,0.5 3,0.5 3,0.5 3,0.4 3,0.3 3,0.4 3,0.4 3,0.6 3,1.6"/>
<path d="M38.2,97.3l3,2.4 3,2.3 3,2.3 3,2.3 3,2.2 3,2.1 3,2.4 3,2.3 3,2.2 3,2.2 3,1.9 3,1.7 3,1.6 3,1.6 3,1.5 3,1.8 3,1.9 3,1.7 3,1.7 3,1.8 3,1.5 3,1.4 3,1.3 3,1.3 3,1.4 3,1.5 3,1.6 3,1.6 3,1.6 3,1.4 3,1.4 3,1.4 3,1.4 3,1.4 3,1.6 3,1.6 3,1.1 3,1.1 3,1.8 3,2.1 3,2.4 3,2.1 3,1.8 3,1.5 3,1.1 3,0.8 3,0.7 3,0.6 3,0.6 3,0.4 3,0.5 3,0.4 3,0.4 3,0.3 3,0.5 3,0.6 3,1.5"/>
<path d="M38.2,99.5l3,2.2 3,2.1 3,2.1 3,2.0 3,2.1 3,2.0 3,2.2 3,2.1 3,1.9 3,2.0 3,1.6 3,1.4 3,1.4 3,1.6 3,1.6 3,1.9 3,1.9 3,1.7 3,1.7 3,1.8 3,1.6 3,1.6 3,1.5 3,1.6 3,1.4 3,1.5 3,1.6 3,1.5 3,1.6 3,1.5 3,1.5 3,1.4 3,1.5 3,1.5 3,1.6 3,1.7 3,1.5 3,1.5 3,2.1 3,2.4 3,2.5 3,2.3 3,2.1 3,1.7 3,1.2 3,1.0 3,0.8 3,0.7 3,0.6 3,0.5 3,0.4 3,0.5 3,0.3 3,0.4 3,0.4 3,0.7 3,1.5"/>
<path d="M38.2,99.8l3,2.4 3,2.4 3,2.3 3,2.3 3,2.2 3,2.2 3,2.6 3,2.4 3,2.4 3,2.2 3,1.8 3,1.6 3,1.4 3,1.5 3,1.6 3,1.8 3,1.7 3,1.4 3,1.4 3,1.4 3,1.2 3,1.3 3,1.3 3,1.3 3,1.4 3,1.3 3,1.3 3,1.4 3,1.4 3,1.3 3,1.4 3,1.4 3,1.4 3,1.3 3,1.3 3,1.4 3,1.2 3,1.2 3,1.9 3,2.2 3,2.5 3,2.1 3,2.1 3,1.7 3,1.3 3,1.1 3,0.9 3,0.7 3,0.7 3,0.5 3,0.5 3,0.5 3,0.3 3,0.4 3,0.4 3,0.6 3,1.6"/>
<path d="M38.2,99.4l3,2.5 3,2.4 3,2.4 3,2.3 3,2.3 3,2.2 3,2.4 3,2.3 3,2.2 3,2.2 3,1.9 3,1.8 3,1.5 3,1.5 3,1.5 3,1.7 3,1.7 3,1.7 3,1.8 3,1.8 3,1.4 3,1.3 3,1.1 3,1.1 3,1.1 3,1.2 3,1.5 3,1.5 3,1.4 3,1.3 3,1.2 3,1.1 3,1.3 3,1.4 3,1.7 3,1.7 3,1.4 3,1.1 3,1.9 3,2.0 3,2.4 3,2.1 3,2.0 3,1.6 3,1.2 3,1.0 3,0.8 3,0.6 3,0.6 3,0.5 3,0.5 3,0.5 3,0.4 3,0.3 3,0.5 3,0.6 3,1.5"/>
<path d="M38.2,99.7l3,2.4 3,2.4 3,2.4 3,2.2 3,2.2 3,2.2 3,2.4 3,2.4 3,2.3 3,2.4 3,2.0 3,1.6 3,1.4 3,1.4 3,1.5 3,1.7 3,1.9 3,1.7 3,1.7 3,1.5 3,1.3 3,1.1 3,1.1 3,1.3 3,1.3 3,1.5 3,1.6 3,1.5 3,1.3 3,1.2 3,1.2 3,1.3 3,1.5 3,1.5 3,1.5 3,1.6 3,1.2 3,1.0 3,1.8 3,2.1 3,2.4 3,2.2 3,2.1 3,1.6 3,1.2 3,1.0 3,0.7 3,0.7 3,0.6 3,0.6 3,0.5 3,0.4 3,0.4 3,0.3 3,0.5 3,0.6 3,1.5"/>
<path d="M38.2,97.3l3,2.5 3,2.4 3,2.3 3,2.4 3,2.3 3,2.3 3,2.7 3,2.5 3,2.5 3,2.4 3,2.0 3,1.8 3,1.6 3,1.7 3,1.8 3,1.8 3,1.8 3,1.5 3,1.6 3,1.5 3,1.4 3,1.4 3,1.3 3,1.4 3,1.4 3,1.4 3,1.4 3,1.4 3,1.5 3,1.4 3,1.5 3,1.4 3,1.4 3,1.3 3,1.3 3,1.3 3,0.9 3,0.9 3,1.7 3,2.1 3,2.4 3,2.0 3,1.7 3,1.3 3,1.0 3,0.8 3,0.7 3,0.6 3,0.6 3,0.4 3,0.5 3,0.4 3,0.4 3,0.3 3,0.4 3,0.7 3,1.5"/>
<path d="M38.2,102.4l3,2.1 3,2.0 3,2.0 3,2.1 3,2.1 3,2.2 3,2.2 3,2.0 3,1.9 3,1.9 3,1.7 3,1.8 3,1.7 3,1.8 3,1.6 3,1.6 3,1.3 3,1.2 3,1.5 3,1.6 3,1.6 3,1.5 3,1.4 3,1.3 3,1.1 3,1.2 3,1.6 3,1.7 3,2.0 3,1.9 3,1.6 3,1.5 3,1.2 3,1.1 3,1.4 3,1.7 3,1.6 3,1.5 3,2.1 3,2.2 3,2.3 3,2.1 3,2.2 3,2.0 3,1.6 3,1.2 3,1.0 3,0.8 3,0.7 3,0.5 3,0.5 3,0.4 3,0.4 3,0.4 3,0.5 3,0.6 3,1.5"/>
</g>
<g fill="none" stroke="#ff6a5c" stroke-opacity="0.019" stroke-width="1.6">
<path d="M38.2,55.0l3,0.6 3,1.8 3,1.4 3,1.3 3,1.5 3,1.9 3,1.9 3,1.9 3,1.7 3,1.4 3,1.2 3,1.1 3,1.1 3,1.7 3,1.9 3,2.1 3,1.7 3,1.3 3,1.1 3,1.2 3,1.5 3,1.9 3,2.1 3,2.0 3,1.7 3,1.4 3,1.0 3,0.9 3,1.1 3,1.3 3,1.7 3,1.8 3,1.8 3,1.4 3,1.2 3,1.1 3,1.2 3,1.7 3,2.2 3,2.4 3,2.2 3,2.0 3,1.6 3,1.9 3,2.1 3,2.4 3,3.2 3,3.3 3,3.2 3,2.5 3,2.5 3,2.5 3,2.7 3,2.9 3,2.8 3,2.9 3,3.9"/>
<path d="M38.2,55.0l3,0.4 3,2.1 3,1.9 3,1.9 3,1.8 3,1.7 3,1.5 3,1.4 3,1.4 3,1.6 3,1.6 3,1.6 3,1.3 3,1.4 3,1.3 3,1.4 3,1.4 3,1.3 3,1.5 3,1.8 3,1.9 3,1.9 3,1.7 3,1.4 3,1.4 3,1.4 3,1.5 3,1.5 3,1.5 3,1.3 3,1.2 3,1.2 3,1.2 3,1.2 3,1.4 3,1.6 3,1.7 3,1.7 3,1.9 3,1.8 3,1.8 3,1.8 3,2.0 3,2.5 3,2.7 3,2.6 3,3.0 3,2.8 3,2.5 3,2.3 3,2.6 3,2.9 3,3.1 3,3.1 3,2.5 3,2.4 3,3.3"/>
<path d="M38.2,54.5l3,0.5 3,2.0 3,1.8 3,1.6 3,1.6 3,1.5 3,1.6 3,1.7 3,1.6 3,1.9 3,1.8 3,1.5 3,1.3 3,1.4 3,1.5 3,1.6 3,1.6 3,1.4 3,1.5 3,1.4 3,1.7 3,1.6 3,1.6 3,1.6 3,1.6 3,1.5 3,1.5 3,1.6 3,1.3 3,1.3 3,1.4 3,1.5 3,1.5 3,1.5 3,1.5 3,1.5 3,1.5 3,1.5 3,1.7 3,1.8 3,1.9 3,2.0 3,1.9 3,2.4 3,2.5 3,2.5 3,3.0 3,3.0 3,2.9 3,2.6 3,2.8 3,3.0 3,3.0 3,3.0 3,2.4 3,2.4 3,3.4"/>
<path d="M38.2,57.7l3,0.2 3,2.1 3,2.0 3,2.0 3,1.9 3,1.6 3,1.4 3,1.3 3,1.4 3,1.9 3,1.9 3,1.8 3,1.4 3,1.3 3,1.1 3,1.2 3,1.2 3,1.2 3,1.5 3,1.8 3,1.9 3,1.7 3,1.5 3,1.3 3,1.3 3,1.5 3,1.7 3,1.9 3,1.6 3,1.4 3,1.1 3,1.1 3,1.1 3,1.2 3,1.4 3,1.7 3,1.7 3,1.5 3,1.7 3,1.5 3,1.5 3,1.8 3,2.1 3,2.7 3,2.9 3,2.7 3,3.0 3,2.7 3,2.5 3,2.3 3,2.7 3,3.1 3,3.2 3,3.1 3,2.3 3,2.0 3,3.0"/>
<path d="M38.2,48.7l3,0.6 3,2.1 3,2.0 3,1.8 3,1.6 3,1.5 3,1.3 3,1.3 3,1.4 3,1.6 3,1.5 3,1.5 3,1.2 3,1.3 3,1.3 3,1.6 3,1.5 3,1.5 3,1.7 3,1.7 3,1.9 3,1.8 3,1.6 3,1.4 3,1.4 3,1.4 3,1.3 3,1.4 3,1.2 3,1.1 3,1.1 3,1.2 3,1.3 3,1.4 3,1.5 3,1.6 3,1.8 3,1.7 3,1.9 3,1.8 3,1.9 3,1.9 3,2.0 3,2.4 3,2.4 3,2.4 3,2.7 3,2.7 3,2.5 3,2.3 3,2.7 3,2.9 3,3.1 3,3.1 3,2.5 3,2.5 3,3.4"/>
<path d="M38.2,56.5l3,0.6 3,2.1 3,1.9 3,1.6 3,1.5 3,1.5 3,1.5 3,1.5 3,1.5 3,1.7 3,1.5 3,1.4 3,1.1 3,1.3 3,1.3 3,1.6 3,1.6 3,1.5 3,1.5 3,1.5 3,1.7 3,1.7 3,1.7 3,1.5 3,1.6 3,1.5 3,1.3 3,1.4 3,1.1 3,1.1 3,1.1 3,1.4 3,1.4 3,1.4 3,1.5 3,1.4 3,1.5 3,1.6 3,1.8 3,1.9 3,2.0 3,2.0 3,1.9 3,2.3 3,2.4 3,2.4 3,2.8 3,2.8 3,2.7 3,2.4 3,2.7 3,2.8 3,2.9 3,3.0 3,2.4 3,2.4 3,3.5"/>
<path d="M38.2,56.4l3,0.1 3,1.3 3,1.1 3,1.4 3,1.9 3,2.2 3,2.2 3,1.8 3,1.4 3,1.3 3,1.2 3,1.4 3,1.6 3,2.1 3,2.1 3,2.0 3,1.3 3,0.8 3,0.8 3,1.0 3,1.8 3,2.1 3,2.2 3,1.9 3,1.4 3,1.0 3,0.9 3,1.2 3,1.4 3,2.0 3,2.0 3,2.0 3,1.6 3,1.1 3,0.8 3,1.0 3,1.4 3,1.9 3,2.4 3,2.2 3,1.9 3,1.5 3,1.3 3,1.7 3,2.4 3,2.9 3,3.7 3,3.6 3,3.1 3,2.4 3,2.3 3,2.4 3,2.9 3,3.3 3,3.0 3,3.0 3,3.6"/>
<path d="M38.2,54.7l3,0.6 3,2.1 3,1.8 3,1.5 3,1.3 3,1.3 3,1.5 3,1.6 3,2.0 3,2.2 3,2.1 3,1.9 3,1.3 3,1.4 3,1.4 3,1.7 3,1.8 3,1.6 3,1.5 3,1.4 3,1.4 3,1.3 3,1.3 3,1.4 3,1.6 3,1.7 3,1.8 3,1.7 3,1.5 3,1.4 3,1.3 3,1.6 3,1.8 3,1.8 3,1.8 3,1.7 3,1.4 3,1.2 3,1.5 3,1.5 3,1.8 3,1.9 3,2.1 3,2.5 3,2.4 3,2.5 3,2.8 3,3.0 3,3.1 3,3.0 3,3.3 3,3.3 3,3.2 3,3.0 3,2.2 3,2.2 3,3.3"/>
<path d="M38.2,57.0l3,0.7 3,1.7 3,1.2 3,1.1 3,1.4 3,1.8 3,2.2 3,2.1 3,1.8 3,1.5 3,0.9 3,0.9 3,1.0 3,1.7 3,2.1 3,2.3 3,1.9 3,1.3 3,0.9 3,0.9 3,1.4 3,1.8 3,2.3 3,2.2 3,1.9 3,1.3 3,0.9 3,0.7 3,0.9 3,1.3 3,1.8 3,2.1 3,1.9 3,1.5 3,1.1 3,0.8 3,1.1 3,1.6 3,2.3 3,2.5 3,2.5 3,2.0 3,1.6 3,1.6 3,1.9 3,2.3 3,3.2 3,3.6 3,3.3 3,2.7 3,2.5 3,2.3 3,2.4 3,2.8 3,2.8 3,3.0 3,4.1"/>
<path d="M38.2,58.7l3,0.4 3,1.8 3,1.7 3,1.7 3,1.7 3,1.7 3,1.6 3,1.4 3,1.2 3,1.4 3,1.4 3,1.4 3,1.3 3,1.6 3,1.5 3,1.6 3,1.5 3,1.2 3,1.3 3,1.5 3,1.8 3,2.0 3,1.8 3,1.5 3,1.3 3,1.2 3,1.1 3,1.3 3,1.2 3,1.4 3,1.4 3,1.4 3,1.2 3,1.2 3,1.3 3,1.4 3,1.6 3,1.8 3,2.1 3,1.9 3,1.8 3,1.7 3,1.7 3,2.1 3,2.5 3,2.5 3,3.0 3,3.0 3,2.6 3,2.2 3,2.4 3,2.7 3,3.0 3,3.2 3,2.7 3,2.5 3,3.5"/>
<path d="M38.2,56.2l3,0.6 3,2.2 3,1.8 3,1.7 3,1.6 3,1.5 3,1.6 3,1.5 3,1.7 3,1.8 3,1.6 3,1.5 3,1.2 3,1.4 3,1.4 3,1.7 3,1.7 3,1.5 3,1.5 3,1.6 3,1.7 3,1.7 3,1.7 3,1.6 3,1.6 3,1.5 3,1.5 3,1.4 3,1.2 3,1.3 3,1.2 3,1.5 3,1.5 3,1.5 3,1.5 3,1.6 3,1.5 3,1.6 3,1.8 3,1.9 3,2.0 3,2.0 3,2.1 3,2.3 3,2.5 3,2.4 3,2.9 3,2.9 3,2.8 3,2.6 3,2.8 3,2.9 3,3.0 3,3.0 3,2.5 3,2.4 3,3.5"/>
<path d="M38.2,55.1l3,0.3 3,1.8 3,1.8 3,1.7 3,1.8 3,1.7 3,1.6 3,1.3 3,1.3 3,1.5 3,1.5 3,1.6 3,1.4 3,1.7 3,1.5 3,1.5 3,1.4 3,1.2 3,1.3 3,1.6 3,2.0 3,1.9 3,1.8 3,1.4 3,1.2 3,1.2 3,1.2 3,1.5 3,1.4 3,1.5 3,1.4 3,1.3 3,1.3 3,1.2 3,1.3 3,1.5 3,1.8 3,1.8 3,2.0 3,1.8 3,1.8 3,1.6 3,1.7 3,2.3 3,2.5 3,2.7 3,3.1 3,2.9 3,2.6 3,2.2 3,2.5 3,2.8 3,3.2 3,3.3 3,2.7 3,2.5 3,3.3"/>
<path d="M38.2,57.5l3,0.6 3,2.1 3,1.7 3,1.6 3,1.6 3,1.6 3,1.6 3,1.6 3,1.5 3,1.6 3,1.5 3,1.4 3,1.1 3,1.4 3,1.6 3,1.7 3,1.7 3,1.5 3,1.4 3,1.5 3,1.7 3,1.8 3,1.8 3,1.6 3,1.6 3,1.4 3,1.3 3,1.3 3,1.1 3,1.2 3,1.3 3,1.5 3,1.5 3,1.5 3,1.4 3,1.4 3,1.5 3,1.7 3,2.0 3,2.0 3,2.0 3,2.0 3,1.9 3,2.2 3,2.3 3,2.4 3,2.9 3,3.0 3,2.8 3,2.4 3,2.7 3,2.8 3,2.9 3,3.0 3,2.6 3,2.6 3,3.6"/>
<path d="M38.2,57.5l3,0.6 3,2.1 3,1.9 3,1.7 3,1.6 3,1.5 3,1.4 3,1.5 3,1.5 3,1.8 3,1.7 3,1.5 3,1.3 3,1.3 3,1.4 3,1.6 3,1.6 3,1.5 3,1.5 3,1.7 3,1.7 3,1.7 3,1.6 3,1.5 3,1.4 3,1.5 3,1.5 3,1.5 3,1.3 3,1.2 3,1.2 3,1.3 3,1.5 3,1.5 3,1.5 3,1.6 3,1.6 3,1.6 3,1.8 3,1.8 3,1.9 3,1.9 3,2.0 3,2.4 3,2.5 3,2.5 3,2.8 3,2.8 3,2.7 3,2.5 3,2.8 3,2.9 3,3.1 3,3.1 3,2.4 3,2.4 3,3.4"/>
<path d="M38.2,52.3l3,0.3 3,2.1 3,2.1 3,2.0 3,1.8 3,1.5 3,1.1 3,1.1 3,1.3 3,1.7 3,1.9 3,1.9 3,1.4 3,1.3 3,1.1 3,1.2 3,1.2 3,1.4 3,1.7 3,1.9 3,1.9 3,1.8 3,1.4 3,1.1 3,1.1 3,1.3 3,1.6 3,1.8 3,1.6 3,1.3 3,1.1 3,0.9 3,1.1 3,1.2 3,1.6 3,1.8 3,1.9 3,1.7 3,1.7 3,1.4 3,1.5 3,1.7 3,2.0 3,2.6 3,2.8 3,2.7 3,2.8 3,2.5 3,2.3 3,2.2 3,2.8 3,3.1 3,3.4 3,3.2 3,2.4 3,2.1 3,3.0"/>
<path d="M38.2,56.6l3,0.5 3,2.2 3,2.2 3,1.9 3,1.6 3,1.2 3,1.2 3,1.1 3,1.5 3,2.0 3,2.1 3,2.0 3,1.6 3,1.5 3,1.3 3,1.4 3,1.5 3,1.7 3,1.8 3,1.9 3,1.9 3,1.6 3,1.2 3,1.1 3,1.2 3,1.4 3,1.7 3,1.9 3,1.6 3,1.4 3,1.1 3,1.2 3,1.4 3,1.7 3,1.9 3,2.0 3,2.0 3,1.6 3,1.6 3,1.4 3,1.6 3,1.7 3,2.1 3,2.7 3,2.7 3,2.5 3,2.8 3,2.6 3,2.5 3,2.5 3,3.1 3,3.5 3,3.6 3,3.3 3,2.4 3,2.2 3,3.1"/>
<path d="M38.2,56.8l3,0.9 3,2.1 3,1.7 3,1.4 3,1.3 3,1.6 3,1.7 3,1.9 3,2.0 3,1.9 3,1.5 3,1.3 3,1.0 3,1.3 3,1.7 3,2.0 3,1.9 3,1.7 3,1.4 3,1.3 3,1.4 3,1.6 3,1.8 3,1.9 3,1.8 3,1.8 3,1.4 3,1.2 3,1.0 3,1.2 3,1.3 3,1.8 3,1.9 3,1.7 3,1.5 3,1.3 3,1.3 3,1.4 3,1.9 3,2.1 3,2.3 3,2.2 3,2.0 3,2.2 3,2.2 3,2.3 3,2.9 3,3.1 3,3.2 3,2.9 3,2.9 3,2.8 3,2.7 3,2.8 3,2.4 3,2.6 3,3.7"/>
<path d="M38.2,56.2l3,1.1 3,2.7 3,2.3 3,2.0 3,1.6 3,1.3 3,1.3 3,1.4 3,1.6 3,1.9 3,1.7 3,1.3 3,1.0 3,1.0 3,1.1 3,1.6 3,1.8 3,2.0 3,2.0 3,2.0 3,1.9 3,1.7 3,1.7 3,1.6 3,1.7 3,1.7 3,1.7 3,1.5 3,1.0 3,0.8 3,0.8 3,1.1 3,1.3 3,1.7 3,1.8 3,1.8 3,1.7 3,1.7 3,1.9 3,1.9 3,2.2 3,2.4 3,2.5 3,2.6 3,2.6 3,2.2 3,2.5 3,2.5 3,2.5 3,2.5 3,2.8 3,3.0 3,3.0 3,2.9 3,2.3 3,2.4 3,3.5"/>
<path d="M38.2,58.9l3,0.5 3,2.1 3,1.8 3,1.5 3,1.3 3,1.2 3,1.3 3,1.6 3,2.0 3,2.4 3,2.3 3,1.8 3,1.3 3,1.2 3,1.2 3,1.4 3,1.6 3,1.5 3,1.5 3,1.4 3,1.3 3,1.1 3,1.1 3,1.2 3,1.6 3,1.9 3,1.9 3,1.9 3,1.5 3,1.3 3,1.1 3,1.5 3,1.6 3,1.8 3,1.8 3,1.6 3,1.3 3,1.0 3,1.2 3,1.3 3,1.6 3,1.9 3,2.2 3,2.6 3,2.5 3,2.5 3,2.7 3,2.9 3,3.0 3,3.0 3,3.4 3,3.3 3,3.2 3,2.7 3,2.0 3,1.9 3,3.0"/>
<path d="M38.2,60.2l3,0.6 3,2.1 3,1.9 3,1.8 3,1.6 3,1.5 3,1.4 3,1.4 3,1.3 3,1.6 3,1.5 3,1.4 3,1.1 3,1.3 3,1.4 3,1.5 3,1.6 3,1.4 3,1.6 3,1.7 3,1.8 3,1.8 3,1.7 3,1.5 3,1.4 3,1.3 3,1.3 3,1.3 3,1.2 3,1.2 3,1.0 3,1.3 3,1.3 3,1.3 3,1.5 3,1.5 3,1.7 3,1.7 3,1.9 3,1.9 3,1.9 3,1.9 3,1.9 3,2.3 3,2.5 3,2.4 3,2.7 3,2.8 3,2.5 3,2.3 3,2.5 3,2.9 3,3.0 3,3.0 3,2.4 3,2.5 3,3.4"/>
<path d="M38.2,59.2l3,0.2 3,1.6 3,1.4 3,1.6 3,2.0 3,2.1 3,2.1 3,1.7 3,1.4 3,1.3 3,1.2 3,1.3 3,1.4 3,1.9 3,1.8 3,1.8 3,1.4 3,0.9 3,1.0 3,1.3 3,1.8 3,2.3 3,2.2 3,1.9 3,1.5 3,1.1 3,0.9 3,1.2 3,1.4 3,1.7 3,1.8 3,1.7 3,1.4 3,1.0 3,0.9 3,1.1 3,1.5 3,2.0 3,2.4 3,2.2 3,2.0 3,1.6 3,1.5 3,2.0 3,2.5 3,2.9 3,3.4 3,3.4 3,2.9 3,2.2 3,2.2 3,2.4 3,2.8 3,3.2 3,2.9 3,2.8 3,3.5"/>
<path d="M38.2,61.1l3,0.0 3,1.6 3,1.8 3,1.9 3,1.9 3,1.8 3,1.5 3,1.3 3,1.1 3,1.6 3,1.6 3,1.9 3,1.7 3,1.7 3,1.4 3,1.3 3,1.0 3,1.0 3,1.2 3,1.6 3,2.0 3,1.9 3,1.7 3,1.2 3,1.1 3,1.1 3,1.3 3,1.7 3,1.8 3,1.7 3,1.4 3,1.3 3,1.1 3,1.0 3,1.2 3,1.5 3,1.8 3,1.8 3,1.9 3,1.6 3,1.4 3,1.4 3,1.6 3,2.4 3,2.8 3,2.9 3,3.3 3,2.9 3,2.5 3,2.1 3,2.5 3,2.9 3,3.2 3,3.3 3,2.6 3,2.3 3,2.9"/>
<path d="M38.2,60.6l3,0.5 3,2.1 3,1.8 3,1.6 3,1.6 3,1.4 3,1.4 3,1.5 3,1.5 3,1.8 3,1.6 3,1.5 3,1.3 3,1.3 3,1.4 3,1.6 3,1.6 3,1.5 3,1.5 3,1.5 3,1.7 3,1.6 3,1.6 3,1.4 3,1.5 3,1.4 3,1.4 3,1.5 3,1.2 3,1.2 3,1.2 3,1.4 3,1.5 3,1.4 3,1.6 3,1.5 3,1.6 3,1.5 3,1.8 3,1.8 3,1.8 3,1.9 3,1.9 3,2.3 3,2.5 3,2.4 3,2.8 3,2.8 3,2.7 3,2.5 3,2.8 3,2.9 3,3.0 3,3.0 3,2.4 3,2.3 3,3.3"/>
<path d="M38.2,60.6l3,0.6 3,1.9 3,1.6 3,1.5 3,1.5 3,1.6 3,1.7 3,1.6 3,1.5 3,1.7 3,1.4 3,1.4 3,1.2 3,1.5 3,1.7 3,1.8 3,1.6 3,1.4 3,1.3 3,1.4 3,1.6 3,1.7 3,1.8 3,1.7 3,1.5 3,1.4 3,1.2 3,1.2 3,1.2 3,1.3 3,1.4 3,1.7 3,1.5 3,1.5 3,1.3 3,1.4 3,1.4 3,1.6 3,2.0 3,2.0 3,2.0 3,1.9 3,1.7 3,2.1 3,2.3 3,2.5 3,3.0 3,3.0 3,2.9 3,2.5 3,2.7 3,2.7 3,2.9 3,3.0 3,2.6 3,2.6 3,3.6"/>
<path d="M38.2,57.5l3,1.4 3,2.7 3,2.1 3,1.3 3,0.7 3,0.7 3,1.1 3,1.7 3,2.3 3,2.6 3,2.2 3,1.6 3,0.8 3,0.9 3,1.2 3,2.0 3,2.5 3,2.4 3,2.1 3,1.5 3,1.1 3,0.9 3,1.0 3,1.4 3,1.9 3,2.2 3,2.0 3,1.5 3,0.9 3,0.6 3,0.8 3,1.6 3,2.2 3,2.5 3,2.4 3,1.9 3,1.3 3,1.0 3,1.2 3,1.6 3,2.2 3,2.5 3,2.6 3,2.5 3,2.1 3,1.7 3,2.1 3,2.7 3,3.1 3,3.4 3,3.8 3,3.5 3,3.1 3,2.5 3,1.9 3,2.1 3,3.6"/>
<path d="M38.2,62.0l3,0.5 3,1.8 3,1.6 3,1.5 3,1.5 3,1.6 3,1.7 3,1.6 3,1.4 3,1.6 3,1.3 3,1.4 3,1.2 3,1.5 3,1.7 3,1.8 3,1.6 3,1.2 3,1.3 3,1.3 3,1.7 3,1.8 3,1.8 3,1.6 3,1.5 3,1.2 3,1.2 3,1.2 3,1.1 3,1.4 3,1.4 3,1.6 3,1.5 3,1.3 3,1.3 3,1.3 3,1.5 3,1.6 3,2.1 3,1.9 3,2.0 3,1.8 3,1.7 3,2.0 3,2.3 3,2.5 3,2.9 3,3.1 3,2.8 3,2.4 3,2.6 3,2.7 3,2.9 3,3.0 3,2.6 3,2.6 3,3.5"/>
<path d="M38.2,62.0l3,0.7 3,2.1 3,1.9 3,1.5 3,1.5 3,1.3 3,1.4 3,1.5 3,1.6 3,1.9 3,1.6 3,1.5 3,1.0 3,1.2 3,1.3 3,1.5 3,1.7 3,1.5 3,1.5 3,1.5 3,1.6 3,1.5 3,1.5 3,1.5 3,1.5 3,1.6 3,1.5 3,1.4 3,1.1 3,1.1 3,1.0 3,1.4 3,1.4 3,1.6 3,1.5 3,1.5 3,1.4 3,1.4 3,1.7 3,1.7 3,1.9 3,2.0 3,2.1 3,2.3 3,2.4 3,2.3 3,2.7 3,2.8 3,2.7 3,2.5 3,2.9 3,2.9 3,2.9 3,2.9 3,2.2 3,2.3 3,3.3"/>
<path d="M38.2,61.5l3,1.0 3,2.5 3,2.0 3,1.4 3,1.1 3,1.0 3,1.2 3,1.6 3,1.8 3,2.0 3,1.8 3,1.3 3,0.8 3,1.0 3,1.2 3,1.8 3,2.0 3,2.0 3,1.8 3,1.5 3,1.4 3,1.3 3,1.3 3,1.5 3,1.7 3,1.8 3,1.6 3,1.3 3,0.8 3,0.7 3,0.9 3,1.3 3,1.8 3,1.9 3,1.9 3,1.7 3,1.3 3,1.2 3,1.6 3,1.8 3,2.1 3,2.3 3,2.3 3,2.3 3,2.2 3,1.9 3,2.3 3,2.6 3,2.8 3,2.9 3,3.1 3,3.1 3,2.9 3,2.6 3,2.1 3,2.3 3,3.5"/>
<path d="M38.2,61.1l3,0.9 3,2.3 3,2.0 3,1.6 3,1.3 3,1.2 3,1.2 3,1.5 3,1.6 3,2.0 3,1.7 3,1.4 3,1.0 3,1.2 3,1.3 3,1.7 3,1.9 3,1.8 3,1.8 3,1.6 3,1.6 3,1.4 3,1.5 3,1.4 3,1.5 3,1.7 3,1.5 3,1.4 3,1.0 3,1.0 3,0.9 3,1.3 3,1.6 3,1.8 3,1.8 3,1.7 3,1.6 3,1.4 3,1.7 3,1.7 3,2.0 3,2.2 3,2.1 3,2.4 3,2.3 3,2.1 3,2.5 3,2.7 3,2.7 3,2.7 3,3.0 3,3.0 3,3.0 3,2.9 3,2.3 3,2.3 3,3.4"/>
<path d="M38.2,60.3l3,0.4 3,2.1 3,2.0 3,1.9 3,1.9 3,1.7 3,1.6 3,1.4 3,1.4 3,1.6 3,1.6 3,1.6 3,1.3 3,1.5 3,1.4 3,1.5 3,1.4 3,1.4 3,1.5 3,1.7 3,2.0 3,2.0 3,1.8 3,1.5 3,1.4 3,1.4 3,1.4 3,1.6 3,1.4 3,1.4 3,1.3 3,1.2 3,1.3 3,1.3 3,1.3 3,1.6 3,1.8 3,1.8 3,2.0 3,1.9 3,1.8 3,1.9 3,1.9 3,2.5 3,2.7 3,2.7 3,3.0 3,2.8 3,2.6 3,2.3 3,2.6 3,2.8 3,3.1 3,3.2 3,2.5 3,2.5 3,3.3"/>
<path d="M38.2,60.0l3,0.4 3,2.0 3,1.9 3,1.6 3,1.8 3,1.7 3,1.9 3,2.0 3,1.9 3,2.1 3,1.8 3,1.5 3,1.1 3,1.3 3,1.3 3,1.4 3,1.4 3,1.3 3,1.2 3,1.3 3,1.5 3,1.7 3,1.7 3,1.8 3,1.9 3,1.8 3,1.8 3,1.7 3,1.4 3,1.5 3,1.3 3,1.5 3,1.5 3,1.3 3,1.3 3,1.2 3,1.1 3,1.3 3,1.7 3,1.7 3,2.0 3,2.1 3,2.1 3,2.6 3,2.7 3,2.7 3,3.2 3,3.2 3,3.1 3,2.7 3,2.8 3,2.8 3,2.7 3,2.7 3,2.2 3,2.1 3,3.2"/>
<path d="M38.2,61.8l3,0.5 3,2.0 3,1.8 3,1.7 3,1.6 3,1.6 3,1.7 3,1.6 3,1.6 3,1.9 3,1.6 3,1.5 3,1.2 3,1.3 3,1.4 3,1.5 3,1.5 3,1.3 3,1.4 3,1.4 3,1.7 3,1.7 3,1.6 3,1.6 3,1.6 3,1.6 3,1.5 3,1.6 3,1.3 3,1.3 3,1.2 3,1.4 3,1.4 3,1.4 3,1.4 3,1.4 3,1.4 3,1.4 3,1.8 3,1.7 3,1.9 3,2.0 3,2.0 3,2.4 3,2.6 3,2.5 3,3.0 3,2.9 3,2.8 3,2.6 3,2.7 3,2.8 3,2.9 3,2.9 3,2.3 3,2.2 3,3.3"/>
<path d="M38.2,62.2l3,0.9 3,2.2 3,1.7 3,1.4 3,1.2 3,1.2 3,1.4 3,1.7 3,1.7 3,1.8 3,1.6 3,1.3 3,1.0 3,1.3 3,1.6 3,2.0 3,2.0 3,1.8 3,1.6 3,1.4 3,1.4 3,1.5 3,1.5 3,1.6 3,1.7 3,1.5 3,1.4 3,1.1 3,0.9 3,1.0 3,1.2 3,1.6 3,1.8 3,1.9 3,1.7 3,1.6 3,1.4 3,1.4 3,1.8 3,2.0 3,2.1 3,2.1 3,2.0 3,2.1 3,2.1 3,2.0 3,2.6 3,2.9 3,3.0 3,2.7 3,3.0 3,2.9 3,2.9 3,2.9 3,2.3 3,2.6 3,3.6"/>
<path d="M38.2,63.9l3,0.4 3,1.9 3,1.7 3,1.6 3,1.7 3,1.6 3,1.6 3,1.5 3,1.5 3,1.5 3,1.5 3,1.3 3,1.2 3,1.4 3,1.4 3,1.6 3,1.5 3,1.3 3,1.3 3,1.4 3,1.7 3,1.8 3,1.8 3,1.5 3,1.5 3,1.4 3,1.2 3,1.3 3,1.2 3,1.3 3,1.2 3,1.5 3,1.3 3,1.3 3,1.3 3,1.3 3,1.5 3,1.6 3,1.9 3,1.9 3,1.9 3,1.8 3,1.8 3,2.2 3,2.4 3,2.5 3,3.0 3,2.9 3,2.7 3,2.4 3,2.5 3,2.7 3,2.9 3,2.9 3,2.5 3,2.4 3,3.4"/>
<path d="M38.2,68.7l3,0.3 3,1.9 3,1.7 3,1.5 3,1.5 3,1.5 3,1.4 3,1.3 3,1.4 3,1.7 3,1.5 3,1.5 3,1.2 3,1.4 3,1.3 3,1.6 3,1.4 3,1.3 3,1.3 3,1.4 3,1.6 3,1.6 3,1.6 3,1.3 3,1.3 3,1.3 3,1.3 3,1.3 3,1.3 3,1.2 3,1.2 3,1.4 3,1.3 3,1.3 3,1.4 3,1.4 3,1.5 3,1.5 3,1.8 3,1.6 3,1.7 3,1.7 3,1.8 3,2.2 3,2.4 3,2.4 3,2.8 3,2.8 3,2.7 3,2.3 3,2.6 3,2.9 3,2.9 3,3.0 3,2.3 3,2.3 3,3.2"/>
<path d="M38.2,65.4l3,0.4 3,1.8 3,1.7 3,1.6 3,1.6 3,1.6 3,1.4 3,1.4 3,1.4 3,1.5 3,1.5 3,1.5 3,1.2 3,1.4 3,1.4 3,1.5 3,1.4 3,1.2 3,1.3 3,1.5 3,1.7 3,1.7 3,1.6 3,1.5 3,1.3 3,1.2 3,1.3 3,1.3 3,1.3 3,1.3 3,1.2 3,1.4 3,1.2 3,1.3 3,1.3 3,1.4 3,1.5 3,1.6 3,1.8 3,1.8 3,1.7 3,1.7 3,1.8 3,2.2 3,2.4 3,2.5 3,2.9 3,2.8 3,2.6 3,2.3 3,2.6 3,2.8 3,2.9 3,3.1 3,2.4 3,2.4 3,3.2"/>
<path d="M38.2,62.9l3,0.9 3,2.0 3,1.5 3,1.2 3,1.3 3,1.6 3,1.8 3,1.8 3,1.6 3,1.6 3,1.2 3,1.0 3,1.0 3,1.5 3,2.0 3,2.2 3,2.0 3,1.7 3,1.3 3,1.2 3,1.5 3,1.8 3,1.9 3,1.9 3,1.8 3,1.4 3,1.0 3,0.8 3,0.8 3,1.2 3,1.4 3,1.9 3,1.9 3,1.7 3,1.4 3,1.3 3,1.3 3,1.7 3,2.2 3,2.3 3,2.4 3,2.1 3,1.7 3,1.8 3,1.9 3,2.2 3,2.9 3,3.1 3,3.1 3,2.7 3,2.6 3,2.6 3,2.7 3,2.9 3,2.7 3,2.9 3,3.9"/>
<path d="M38.2,62.6l3,1.0 3,2.7 3,2.2 3,1.7 3,1.2 3,1.0 3,1.2 3,1.5 3,2.0 3,2.3 3,1.9 3,1.5 3,0.8 3,0.8 3,0.9 3,1.5 3,1.9 3,2.0 3,1.9 3,1.7 3,1.4 3,1.3 3,1.2 3,1.4 3,1.8 3,2.1 3,1.9 3,1.6 3,1.0 3,0.7 3,0.7 3,1.1 3,1.6 3,1.9 3,2.0 3,1.7 3,1.4 3,1.1 3,1.3 3,1.6 3,2.1 3,2.4 3,2.6 3,2.7 3,2.4 3,2.0 3,2.4 3,2.5 3,2.7 3,2.9 3,3.2 3,3.2 3,2.9 3,2.6 3,1.8 3,2.0 3,3.3"/>
<path d="M38.2,56.1l3,0.6 3,2.1 3,1.8 3,1.6 3,1.5 3,1.3 3,1.3 3,1.4 3,1.4 3,1.7 3,1.7 3,1.5 3,1.3 3,1.4 3,1.5 3,1.6 3,1.7 3,1.6 3,1.5 3,1.7 3,1.7 3,1.6 3,1.5 3,1.4 3,1.3 3,1.4 3,1.3 3,1.4 3,1.2 3,1.2 3,1.1 3,1.4 3,1.5 3,1.6 3,1.6 3,1.7 3,1.6 3,1.6 3,1.9 3,1.7 3,1.9 3,1.8 3,1.9 3,2.2 3,2.4 3,2.3 3,2.7 3,2.8 3,2.6 3,2.5 3,2.9 3,3.0 3,3.1 3,3.2 3,2.5 3,2.5 3,3.4"/>
<path d="M38.2,64.6l3,0.8 3,2.2 3,1.8 3,1.4 3,1.1 3,1.2 3,1.5 3,1.8 3,2.1 3,2.3 3,1.8 3,1.5 3,0.8 3,0.9 3,1.2 3,1.6 3,1.7 3,1.7 3,1.4 3,1.2 3,1.2 3,1.1 3,1.4 3,1.5 3,1.9 3,2.0 3,1.8 3,1.5 3,1.1 3,0.9 3,1.0 3,1.4 3,1.8 3,1.8 3,1.6 3,1.4 3,1.0 3,0.9 3,1.3 3,1.6 3,2.0 3,2.2 3,2.3 3,2.5 3,2.3 3,2.1 3,2.6 3,2.9 3,3.1 3,3.0 3,3.1 3,3.0 3,2.7 3,2.4 3,1.8 3,2.0 3,3.2"/>
<path d="M38.2,54.8l3,0.8 3,2.2 3,1.8 3,1.4 3,1.3 3,1.3 3,1.4 3,1.6 3,1.7 3,1.8 3,1.6 3,1.3 3,0.9 3,1.2 3,1.3 3,1.8 3,1.8 3,1.7 3,1.5 3,1.5 3,1.4 3,1.5 3,1.5 3,1.6 3,1.6 3,1.6 3,1.5 3,1.2 3,1.0 3,0.9 3,1.1 3,1.4 3,1.6 3,1.7 3,1.6 3,1.5 3,1.3 3,1.4 3,1.7 3,1.9 3,2.0 3,2.1 3,2.1 3,2.2 3,2.2 3,2.2 3,2.6 3,2.8 3,2.8 3,2.7 3,2.9 3,2.9 3,2.8 3,2.8 3,2.3 3,2.4 3,3.6"/>
<path d="M38.2,62.0l3,0.6 3,2.1 3,1.7 3,1.5 3,1.3 3,1.3 3,1.4 3,1.6 3,1.6 3,1.8 3,1.5 3,1.4 3,0.9 3,1.2 3,1.4 3,1.7 3,1.7 3,1.5 3,1.4 3,1.4 3,1.5 3,1.4 3,1.6 3,1.4 3,1.6 3,1.5 3,1.4 3,1.2 3,1.1 3,1.0 3,1.1 3,1.4 3,1.6 3,1.5 3,1.5 3,1.4 3,1.4 3,1.3 3,1.7 3,1.8 3,1.9 3,2.0 3,2.0 3,2.2 3,2.2 3,2.2 3,2.7 3,2.8 3,2.8 3,2.6 3,2.8 3,2.8 3,2.9 3,2.8 3,2.2 3,2.4 3,3.4"/>
<path d="M38.2,64.0l3,0.3 3,1.9 3,1.8 3,1.8 3,1.9 3,1.8 3,1.6 3,1.4 3,1.4 3,1.5 3,1.5 3,1.6 3,1.5 3,1.6 3,1.6 3,1.5 3,1.4 3,1.2 3,1.3 3,1.6 3,2.0 3,2.0 3,1.9 3,1.5 3,1.3 3,1.2 3,1.3 3,1.5 3,1.4 3,1.6 3,1.4 3,1.4 3,1.3 3,1.2 3,1.3 3,1.5 3,1.7 3,1.8 3,2.1 3,1.9 3,1.8 3,1.7 3,1.7 3,2.3 3,2.7 3,2.7 3,3.1 3,3.0 3,2.6 3,2.2 3,2.5 3,2.8 3,3.0 3,3.1 3,2.5 3,2.4 3,3.1"/>
<path d="M38.2,66.3l3,0.4 3,1.9 3,1.7 3,1.5 3,1.6 3,1.6 3,1.5 3,1.5 3,1.5 3,1.6 3,1.4 3,1.5 3,1.2 3,1.5 3,1.5 3,1.6 3,1.5 3,1.3 3,1.3 3,1.4 3,1.7 3,1.7 3,1.7 3,1.5 3,1.4 3,1.3 3,1.2 3,1.4 3,1.2 3,1.3 3,1.3 3,1.5 3,1.4 3,1.3 3,1.4 3,1.3 3,1.5 3,1.6 3,1.9 3,1.8 3,1.9 3,1.7 3,1.8 3,2.2 3,2.3 3,2.5 3,3.0 3,2.9 3,2.8 3,2.4 3,2.6 3,2.7 3,3.0 3,3.0 3,2.5 3,2.5 3,3.3"/>
<path d="M38.2,64.5l3,0.5 3,2.2 3,2.0 3,1.8 3,1.6 3,1.4 3,1.4 3,1.3 3,1.6 3,1.9 3,1.9 3,1.7 3,1.3 3,1.3 3,1.2 3,1.4 3,1.4 3,1.5 3,1.7 3,1.7 3,1.7 3,1.6 3,1.5 3,1.3 3,1.4 3,1.6 3,1.6 3,1.7 3,1.4 3,1.3 3,1.1 3,1.2 3,1.3 3,1.5 3,1.6 3,1.7 3,1.6 3,1.5 3,1.7 3,1.6 3,1.7 3,1.9 3,2.1 3,2.6 3,2.6 3,2.5 3,2.8 3,2.7 3,2.6 3,2.5 3,2.9 3,3.0 3,3.2 3,2.9 3,2.2 3,2.1 3,3.1"/>
<path d="M38.2,67.0l3,-0.1 3,1.2 3,1.2 3,1.6 3,2.1 3,2.3 3,2.2 3,1.6 3,1.0 3,0.9 3,1.0 3,1.3 3,1.6 3,2.1 3,2.1 3,1.8 3,1.1 3,0.5 3,0.7 3,1.3 3,2.0 3,2.4 3,2.4 3,1.8 3,1.2 3,0.7 3,0.6 3,1.1 3,1.5 3,2.0 3,1.9 3,1.8 3,1.2 3,0.7 3,0.6 3,1.0 3,1.6 3,2.2 3,2.6 3,2.3 3,1.8 3,1.2 3,1.2 3,1.7 3,2.5 3,3.0 3,3.7 3,3.5 3,2.7 3,1.9 3,1.9 3,2.3 3,2.8 3,3.4 3,3.2 3,2.9 3,3.5"/>
<path d="M38.2,64.6l3,0.8 3,2.3 3,2.0 3,1.6 3,1.5 3,1.3 3,1.4 3,1.4 3,1.5 3,1.8 3,1.7 3,1.4 3,1.1 3,1.3 3,1.4 3,1.8 3,1.8 3,1.7 3,1.7 3,1.7 3,1.7 3,1.7 3,1.6 3,1.4 3,1.5 3,1.6 3,1.4 3,1.3 3,1.1 3,1.1 3,1.1 3,1.3 3,1.6 3,1.6 3,1.8 3,1.6 3,1.7 3,1.6 3,1.8 3,1.9 3,2.0 3,2.1 3,2.0 3,2.4 3,2.3 3,2.3 3,2.6 3,2.7 3,2.7 3,2.5 3,2.9 3,3.0 3,3.0 3,2.9 3,2.4 3,2.4 3,3.4"/>
<path d="M38.2,64.1l3,0.2 3,1.8 3,1.9 3,1.9 3,2.1 3,1.9 3,1.6 3,1.4 3,1.2 3,1.5 3,1.7 3,1.8 3,1.7 3,1.7 3,1.6 3,1.4 3,1.2 3,1.1 3,1.4 3,1.7 3,2.1 3,2.2 3,1.8 3,1.4 3,1.2 3,1.2 3,1.3 3,1.7 3,1.7 3,1.7 3,1.5 3,1.4 3,1.2 3,1.0 3,1.3 3,1.6 3,1.9 3,2.0 3,2.1 3,1.8 3,1.6 3,1.6 3,1.7 3,2.4 3,2.9 3,2.9 3,3.3 3,2.9 3,2.6 3,2.1 3,2.5 3,2.8 3,3.2 3,3.3 3,2.6 3,2.3 3,3.0"/>
<path d="M38.2,63.8l3,0.5 3,2.1 3,2.0 3,1.9 3,1.7 3,1.6 3,1.5 3,1.5 3,1.7 3,2.0 3,1.9 3,1.7 3,1.3 3,1.4 3,1.3 3,1.4 3,1.5 3,1.5 3,1.6 3,1.6 3,1.8 3,1.7 3,1.6 3,1.4 3,1.6 3,1.6 3,1.7 3,1.8 3,1.5 3,1.3 3,1.3 3,1.3 3,1.4 3,1.5 3,1.5 3,1.7 3,1.6 3,1.5 3,1.7 3,1.7 3,1.8 3,2.0 3,2.1 3,2.6 3,2.7 3,2.7 3,2.9 3,2.9 3,2.7 3,2.6 3,2.9 3,3.0 3,3.2 3,3.0 3,2.2 3,2.2 3,3.1"/>
<path d="M38.2,56.3l3,0.2 3,1.9 3,2.1 3,2.1 3,2.0 3,1.8 3,1.4 3,1.1 3,1.1 3,1.4 3,1.6 3,1.8 3,1.6 3,1.6 3,1.4 3,1.2 3,1.2 3,1.2 3,1.5 3,1.9 3,2.2 3,2.1 3,1.7 3,1.3 3,1.1 3,1.1 3,1.4 3,1.6 3,1.6 3,1.6 3,1.2 3,1.2 3,0.9 3,1.1 3,1.3 3,1.7 3,2.0 3,2.0 3,2.1 3,1.7 3,1.6 3,1.5 3,1.8 3,2.5 3,2.9 3,2.8 3,3.1 3,2.7 3,2.3 3,2.0 3,2.5 3,2.9 3,3.3 3,3.5 3,2.7 3,2.4 3,3.1"/>
<path d="M38.2,65.9l3,0.8 3,2.0 3,1.5 3,1.2 3,1.2 3,1.6 3,2.0 3,2.0 3,1.9 3,1.7 3,1.3 3,1.0 3,0.9 3,1.4 3,1.8 3,2.2 3,2.0 3,1.6 3,1.2 3,1.0 3,1.4 3,1.6 3,2.0 3,2.0 3,1.9 3,1.6 3,1.2 3,0.9 3,0.9 3,1.1 3,1.5 3,1.9 3,1.9 3,1.7 3,1.4 3,1.1 3,1.1 3,1.3 3,2.1 3,2.3 3,2.4 3,2.2 3,1.8 3,2.0 3,1.9 3,2.2 3,2.9 3,3.3 3,3.3 3,2.8 3,2.7 3,2.5 3,2.5 3,2.7 3,2.4 3,2.6 3,3.7"/>
<path d="M38.2,41.5l3,0.7 3,2.1 3,1.9 3,1.5 3,1.4 3,1.3 3,1.4 3,1.5 3,1.6 3,1.8 3,1.6 3,1.4 3,1.0 3,1.2 3,1.4 3,1.7 3,1.7 3,1.5 3,1.6 3,1.5 3,1.5 3,1.6 3,1.5 3,1.5 3,1.5 3,1.5 3,1.4 3,1.4 3,1.1 3,1.0 3,1.1 3,1.4 3,1.5 3,1.6 3,1.5 3,1.5 3,1.5 3,1.4 3,1.8 3,1.8 3,1.9 3,2.0 3,2.0 3,2.3 3,2.3 3,2.2 3,2.7 3,2.8 3,2.7 3,2.6 3,2.8 3,2.9 3,3.0 3,2.9 3,2.3 3,2.5 3,3.5"/>
<path d="M38.2,66.7l3,0.4 3,1.9 3,1.9 3,1.9 3,1.8 3,1.6 3,1.5 3,1.3 3,1.3 3,1.7 3,1.7 3,1.6 3,1.5 3,1.4 3,1.4 3,1.5 3,1.3 3,1.3 3,1.4 3,1.7 3,1.9 3,1.9 3,1.6 3,1.4 3,1.3 3,1.3 3,1.4 3,1.6 3,1.5 3,1.4 3,1.2 3,1.3 3,1.2 3,1.3 3,1.4 3,1.6 3,1.7 3,1.8 3,1.9 3,1.7 3,1.6 3,1.8 3,1.8 3,2.5 3,2.6 3,2.7 3,2.9 3,2.9 3,2.5 3,2.3 3,2.6 3,2.9 3,3.2 3,3.1 3,2.5 3,2.3 3,3.1"/>
<path d="M38.2,68.7l3,0.4 3,1.9 3,1.6 3,1.5 3,1.3 3,1.3 3,1.4 3,1.4 3,1.6 3,1.9 3,1.7 3,1.7 3,1.3 3,1.4 3,1.5 3,1.6 3,1.6 3,1.4 3,1.4 3,1.4 3,1.5 3,1.4 3,1.4 3,1.3 3,1.3 3,1.4 3,1.4 3,1.5 3,1.3 3,1.3 3,1.3 3,1.5 3,1.5 3,1.6 3,1.6 3,1.5 3,1.5 3,1.4 3,1.6 3,1.6 3,1.7 3,1.7 3,1.8 3,2.2 3,2.3 3,2.4 3,2.8 3,2.9 3,2.8 3,2.6 3,2.9 3,3.1 3,3.1 3,3.0 3,2.3 3,2.3 3,3.2"/>
<path d="M38.2,68.1l3,0.4 3,1.8 3,1.6 3,1.7 3,1.7 3,1.8 3,1.8 3,1.7 3,1.5 3,1.7 3,1.5 3,1.4 3,1.2 3,1.4 3,1.4 3,1.6 3,1.3 3,1.1 3,1.1 3,1.3 3,1.7 3,1.8 3,1.9 3,1.6 3,1.6 3,1.4 3,1.3 3,1.5 3,1.3 3,1.4 3,1.4 3,1.5 3,1.3 3,1.2 3,1.1 3,1.2 3,1.3 3,1.5 3,1.9 3,1.9 3,1.9 3,1.8 3,1.8 3,2.3 3,2.5 3,2.7 3,3.1 3,3.1 3,2.8 3,2.4 3,2.5 3,2.5 3,2.8 3,2.8 3,2.3 3,2.2 3,3.2"/>
<path d="M38.2,69.9l3,0.5 3,2.0 3,1.6 3,1.5 3,1.4 3,1.4 3,1.3 3,1.2 3,1.2 3,1.5 3,1.4 3,1.4 3,1.3 3,1.5 3,1.7 3,1.7 3,1.7 3,1.5 3,1.5 3,1.6 3,1.7 3,1.7 3,1.6 3,1.3 3,1.2 3,1.1 3,1.0 3,1.2 3,1.0 3,1.2 3,1.2 3,1.5 3,1.5 3,1.5 3,1.5 3,1.6 3,1.7 3,1.8 3,2.0 3,1.8 3,1.8 3,1.7 3,1.7 3,2.0 3,2.1 3,2.2 3,2.7 3,2.7 3,2.6 3,2.4 3,2.6 3,2.8 3,3.1 3,3.1 3,2.5 3,2.5 3,3.3"/>
<path d="M38.2,68.4l3,0.5 3,2.0 3,1.7 3,1.6 3,1.5 3,1.5 3,1.6 3,1.5 3,1.4 3,1.7 3,1.5 3,1.4 3,1.3 3,1.4 3,1.6 3,1.7 3,1.6 3,1.4 3,1.4 3,1.5 3,1.7 3,1.7 3,1.7 3,1.5 3,1.4 3,1.4 3,1.2 3,1.3 3,1.2 3,1.3 3,1.3 3,1.5 3,1.5 3,1.5 3,1.4 3,1.5 3,1.5 3,1.6 3,1.9 3,1.9 3,1.9 3,1.9 3,1.8 3,2.1 3,2.4 3,2.4 3,2.8 3,3.0 3,2.7 3,2.5 3,2.6 3,2.8 3,2.9 3,2.9 3,2.4 3,2.3 3,3.2"/>
<path d="M38.2,69.8l3,0.6 3,2.1 3,1.7 3,1.5 3,1.5 3,1.6 3,1.6 3,1.6 3,1.4 3,1.6 3,1.2 3,1.1 3,1.0 3,1.2 3,1.5 3,1.7 3,1.7 3,1.4 3,1.3 3,1.4 3,1.7 3,1.8 3,1.8 3,1.7 3,1.6 3,1.4 3,1.1 3,1.1 3,1.0 3,1.1 3,1.1 3,1.4 3,1.5 3,1.3 3,1.3 3,1.2 3,1.4 3,1.6 3,2.0 3,2.1 3,2.1 3,2.0 3,1.8 3,2.2 3,2.2 3,2.3 3,2.8 3,2.9 3,2.7 3,2.3 3,2.5 3,2.5 3,2.7 3,2.8 3,2.4 3,2.5 3,3.5"/>
<path d="M38.2,53.8l3,0.6 3,2.1 3,1.8 3,1.6 3,1.5 3,1.4 3,1.4 3,1.4 3,1.6 3,1.9 3,1.8 3,1.6 3,1.3 3,1.4 3,1.4 3,1.6 3,1.7 3,1.5 3,1.6 3,1.5 3,1.7 3,1.5 3,1.5 3,1.4 3,1.4 3,1.6 3,1.4 3,1.6 3,1.2 3,1.3 3,1.2 3,1.4 3,1.6 3,1.6 3,1.6 3,1.6 3,1.6 3,1.5 3,1.8 3,1.6 3,1.9 3,1.9 3,1.9 3,2.4 3,2.4 3,2.4 3,2.8 3,2.9 3,2.7 3,2.6 3,3.0 3,3.1 3,3.1 3,3.1 3,2.4 3,2.4 3,3.4"/>
<path d="M38.2,70.2l3,0.3 3,1.8 3,1.8 3,1.7 3,1.6 3,1.5 3,1.2 3,1.2 3,1.2 3,1.7 3,1.7 3,1.8 3,1.5 3,1.6 3,1.4 3,1.4 3,1.4 3,1.3 3,1.5 3,1.6 3,1.8 3,1.7 3,1.4 3,1.1 3,1.1 3,1.2 3,1.3 3,1.5 3,1.5 3,1.4 3,1.3 3,1.3 3,1.3 3,1.3 3,1.5 3,1.7 3,1.8 3,1.7 3,1.8 3,1.5 3,1.5 3,1.5 3,1.7 3,2.3 3,2.5 3,2.6 3,2.8 3,2.8 3,2.5 3,2.2 3,2.7 3,3.1 3,3.2 3,3.1 3,2.4 3,2.2 3,2.9"/>
<path d="M38.2,37.6l3,0.8 3,2.1 3,1.7 3,1.6 3,1.7 3,1.8 3,2.0 3,1.8 3,1.7 3,1.7 3,1.4 3,1.3 3,1.1 3,1.5 3,1.8 3,1.9 3,1.9 3,1.5 3,1.4 3,1.4 3,1.7 3,2.0 3,2.1 3,2.0 3,1.8 3,1.6 3,1.3 3,1.2 3,1.1 3,1.3 3,1.5 3,1.7 3,1.7 3,1.5 3,1.4 3,1.3 3,1.5 3,1.7 3,2.2 3,2.3 3,2.3 3,2.2 3,2.0 3,2.2 3,2.3 3,2.5 3,3.1 3,3.3 3,3.0 3,2.6 3,2.7 3,2.6 3,2.9 3,3.0 3,2.6 3,2.9 3,3.9"/>
<path d="M38.2,71.0l3,0.3 3,1.6 3,1.3 3,1.3 3,1.7 3,1.8 3,2.0 3,1.7 3,1.4 3,1.3 3,1.1 3,1.1 3,1.3 3,1.7 3,1.9 3,1.9 3,1.5 3,1.0 3,0.9 3,1.1 3,1.6 3,2.0 3,2.0 3,1.9 3,1.4 3,1.1 3,0.9 3,0.9 3,1.2 3,1.5 3,1.7 3,1.7 3,1.6 3,1.1 3,1.0 3,1.0 3,1.3 3,1.7 3,2.3 3,2.2 3,2.0 3,1.6 3,1.4 3,1.8 3,2.2 3,2.5 3,3.3 3,3.3 3,2.9 3,2.3 3,2.3 3,2.3 3,2.6 3,3.0 3,2.6 3,2.6 3,3.4"/>
<path d="M38.2,67.2l3,0.2 3,1.7 3,1.5 3,1.6 3,1.8 3,2.0 3,2.0 3,1.8 3,1.6 3,1.7 3,1.5 3,1.6 3,1.5 3,1.8 3,1.9 3,1.7 3,1.5 3,1.0 3,1.1 3,1.3 3,1.7 3,2.0 3,2.0 3,1.7 3,1.5 3,1.4 3,1.3 3,1.4 3,1.6 3,1.7 3,1.8 3,1.8 3,1.6 3,1.2 3,1.2 3,1.2 3,1.5 3,1.7 3,2.1 3,2.0 3,1.9 3,1.7 3,1.7 3,2.1 3,2.6 3,2.8 3,3.4 3,3.4 3,3.0 3,2.5 3,2.6 3,2.7 3,2.8 3,3.0 3,2.5 3,2.4 3,3.1"/>
<path d="M38.2,68.9l3,0.9 3,2.6 3,2.0 3,1.6 3,1.2 3,1.2 3,1.3 3,1.8 3,2.1 3,2.3 3,2.0 3,1.4 3,0.8 3,0.7 3,1.0 3,1.4 3,1.8 3,1.8 3,1.7 3,1.5 3,1.3 3,1.1 3,1.3 3,1.6 3,1.9 3,2.1 3,2.0 3,1.7 3,1.0 3,0.8 3,0.8 3,1.2 3,1.6 3,1.8 3,1.8 3,1.5 3,1.1 3,0.9 3,1.3 3,1.6 3,2.0 3,2.5 3,2.5 3,2.7 3,2.4 3,2.1 3,2.5 3,2.7 3,2.9 3,2.9 3,3.2 3,3.0 3,2.8 3,2.3 3,1.7 3,1.8 3,3.2"/>
<path d="M38.2,47.5l3,0.5 3,1.9 3,1.5 3,1.2 3,1.2 3,1.3 3,1.7 3,1.9 3,2.0 3,2.2 3,1.8 3,1.7 3,1.3 3,1.5 3,1.8 3,1.9 3,1.9 3,1.5 3,1.3 3,1.1 3,1.2 3,1.3 3,1.4 3,1.6 3,1.7 3,1.6 3,1.6 3,1.4 3,1.3 3,1.4 3,1.6 3,2.0 3,2.0 3,1.9 3,1.6 3,1.4 3,1.2 3,1.2 3,1.6 3,1.7 3,1.9 3,1.9 3,1.9 3,2.1 3,2.2 3,2.4 3,3.0 3,3.3 3,3.3 3,3.1 3,3.2 3,3.1 3,3.1 3,2.9 3,2.4 3,2.5 3,3.5"/>
<path d="M38.2,60.3l3,0.7 3,2.2 3,2.0 3,1.8 3,1.6 3,1.3 3,1.4 3,1.3 3,1.6 3,1.8 3,1.8 3,1.6 3,1.1 3,1.3 3,1.3 3,1.5 3,1.6 3,1.6 3,1.7 3,1.7 3,1.7 3,1.7 3,1.5 3,1.4 3,1.4 3,1.6 3,1.5 3,1.6 3,1.2 3,1.2 3,1.0 3,1.2 3,1.4 3,1.6 3,1.6 3,1.7 3,1.7 3,1.5 3,1.7 3,1.7 3,1.9 3,2.0 3,2.1 3,2.5 3,2.5 3,2.4 3,2.7 3,2.7 3,2.6 3,2.5 3,2.8 3,3.1 3,3.1 3,2.9 3,2.3 3,2.3 3,3.2"/>
<path d="M38.2,69.9l3,0.5 3,2.1 3,1.9 3,1.8 3,1.8 3,1.7 3,1.5 3,1.5 3,1.5 3,1.7 3,1.6 3,1.4 3,1.2 3,1.3 3,1.3 3,1.4 3,1.4 3,1.4 3,1.4 3,1.6 3,1.9 3,1.8 3,1.8 3,1.5 3,1.5 3,1.5 3,1.5 3,1.5 3,1.3 3,1.3 3,1.1 3,1.2 3,1.3 3,1.2 3,1.4 3,1.4 3,1.6 3,1.6 3,1.9 3,1.8 3,1.9 3,1.9 3,2.0 3,2.5 3,2.6 3,2.6 3,2.9 3,2.8 3,2.6 3,2.3 3,2.6 3,2.7 3,2.8 3,2.8 3,2.2 3,2.2 3,3.0"/>
<path d="M38.2,68.9l3,0.6 3,1.9 3,1.5 3,1.4 3,1.6 3,1.9 3,1.9 3,1.8 3,1.4 3,1.4 3,1.2 3,1.2 3,1.2 3,1.8 3,2.0 3,2.1 3,1.8 3,1.4 3,1.2 3,1.4 3,1.7 3,2.1 3,2.1 3,1.9 3,1.6 3,1.2 3,1.0 3,1.0 3,1.0 3,1.4 3,1.7 3,1.8 3,1.8 3,1.4 3,1.2 3,1.3 3,1.5 3,1.9 3,2.4 3,2.4 3,2.2 3,1.9 3,1.6 3,1.9 3,2.2 3,2.4 3,3.2 3,3.2 3,3.0 3,2.5 3,2.4 3,2.5 3,2.8 3,3.1 3,2.7 3,2.9 3,3.6"/>
<path d="M38.2,70.3l3,0.8 3,2.2 3,1.8 3,1.6 3,1.4 3,1.3 3,1.4 3,1.5 3,1.7 3,1.8 3,1.7 3,1.6 3,1.2 3,1.5 3,1.6 3,1.9 3,1.9 3,1.7 3,1.6 3,1.6 3,1.7 3,1.6 3,1.5 3,1.5 3,1.5 3,1.5 3,1.4 3,1.4 3,1.1 3,1.2 3,1.3 3,1.6 3,1.7 3,1.7 3,1.8 3,1.7 3,1.6 3,1.6 3,1.9 3,1.8 3,2.0 3,2.0 3,2.0 3,2.2 3,2.3 3,2.3 3,2.7 3,2.8 3,2.8 3,2.6 3,2.9 3,2.9 3,2.9 3,2.7 3,2.1 3,2.0 3,3.0"/>
<path d="M38.2,70.0l3,0.5 3,2.5 3,2.4 3,2.0 3,1.5 3,0.9 3,0.7 3,0.9 3,1.4 3,2.2 3,2.3 3,2.2 3,1.5 3,1.2 3,0.9 3,1.2 3,1.5 3,1.8 3,2.2 3,2.1 3,1.9 3,1.3 3,0.8 3,0.7 3,1.1 3,1.5 3,2.0 3,2.0 3,1.6 3,1.2 3,0.7 3,0.9 3,1.2 3,1.8 3,2.2 3,2.3 3,2.0 3,1.5 3,1.3 3,1.1 3,1.3 3,1.8 3,2.2 3,2.9 3,2.8 3,2.4 3,2.4 3,2.1 3,2.3 3,2.5 3,3.3 3,3.6 3,3.6 3,3.1 3,2.1 3,1.7 3,2.6"/>
<path d="M38.2,65.4l3,0.6 3,1.9 3,1.5 3,1.4 3,1.5 3,1.7 3,1.8 3,1.8 3,1.6 3,1.5 3,1.3 3,1.1 3,1.0 3,1.4 3,1.6 3,1.8 3,1.6 3,1.3 3,1.2 3,1.1 3,1.6 3,1.8 3,1.9 3,1.8 3,1.7 3,1.4 3,1.2 3,1.0 3,1.0 3,1.2 3,1.4 3,1.6 3,1.6 3,1.4 3,1.1 3,1.1 3,1.2 3,1.5 3,2.1 3,2.1 3,2.1 3,2.0 3,1.8 3,2.0 3,2.2 3,2.3 3,3.0 3,3.2 3,2.9 3,2.5 3,2.5 3,2.5 3,2.6 3,2.7 3,2.5 3,2.6 3,3.5"/>
<path d="M38.2,70.1l3,0.6 3,2.2 3,2.0 3,1.8 3,1.6 3,1.6 3,1.4 3,1.5 3,1.6 3,1.8 3,1.6 3,1.5 3,1.2 3,1.2 3,1.4 3,1.5 3,1.6 3,1.5 3,1.7 3,1.6 3,1.8 3,1.8 3,1.6 3,1.6 3,1.5 3,1.6 3,1.5 3,1.5 3,1.2 3,1.2 3,1.1 3,1.3 3,1.4 3,1.4 3,1.5 3,1.6 3,1.6 3,1.6 3,1.9 3,1.8 3,2.0 3,2.0 3,2.1 3,2.5 3,2.5 3,2.5 3,2.8 3,2.7 3,2.7 3,2.4 3,2.7 3,2.9 3,2.9 3,2.9 3,2.3 3,2.2 3,3.2"/>
<path d="M38.2,56.6l3,1.0 3,2.1 3,1.5 3,1.1 3,1.1 3,1.3 3,1.7 3,1.8 3,1.9 3,1.7 3,1.3 3,1.0 3,0.8 3,1.3 3,1.7 3,2.2 3,2.1 3,1.7 3,1.4 3,1.1 3,1.3 3,1.5 3,1.8 3,1.8 3,1.9 3,1.5 3,1.2 3,0.8 3,0.7 3,0.9 3,1.3 3,1.9 3,1.9 3,1.9 3,1.5 3,1.2 3,1.1 3,1.4 3,1.9 3,2.2 3,2.4 3,2.2 3,1.9 3,1.9 3,1.8 3,1.9 3,2.7 3,3.1 3,3.2 3,2.8 3,2.8 3,2.7 3,2.6 3,2.7 3,2.5 3,2.7 3,4.0"/>
<path d="M38.2,70.7l3,1.1 3,2.3 3,1.9 3,1.3 3,1.1 3,1.3 3,1.4 3,1.8 3,1.9 3,2.1 3,1.6 3,1.3 3,0.8 3,1.1 3,1.5 3,1.9 3,2.1 3,1.9 3,1.6 3,1.4 3,1.3 3,1.4 3,1.5 3,1.7 3,1.8 3,1.8 3,1.6 3,1.2 3,0.9 3,0.8 3,1.1 3,1.6 3,1.9 3,1.9 3,1.8 3,1.5 3,1.2 3,1.3 3,1.6 3,2.0 3,2.2 3,2.4 3,2.1 3,2.3 3,2.1 3,2.0 3,2.5 3,2.9 3,3.0 3,2.9 3,3.0 3,2.9 3,2.7 3,2.6 3,2.0 3,2.3 3,3.3"/>
<path d="M38.2,70.5l3,1.2 3,2.1 3,1.4 3,0.8 3,1.0 3,1.5 3,2.1 3,2.4 3,2.3 3,2.0 3,1.3 3,0.7 3,0.6 3,1.2 3,1.9 3,2.4 3,2.4 3,1.8 3,1.1 3,0.8 3,1.0 3,1.4 3,2.0 3,2.3 3,2.4 3,1.9 3,1.3 3,0.8 3,0.5 3,0.8 3,1.5 3,2.2 3,2.3 3,2.0 3,1.5 3,0.8 3,0.8 3,1.0 3,1.9 3,2.5 3,2.8 3,2.6 3,2.0 3,1.8 3,1.7 3,1.9 3,2.8 3,3.5 3,3.7 3,3.2 3,2.9 3,2.4 3,2.1 3,2.3 3,2.1 3,2.6 3,3.9"/>
<path d="M38.2,70.7l3,0.8 3,2.2 3,1.9 3,1.7 3,1.6 3,1.7 3,1.7 3,1.7 3,1.7 3,1.7 3,1.5 3,1.2 3,0.9 3,1.2 3,1.5 3,1.6 3,1.7 3,1.5 3,1.5 3,1.5 3,1.7 3,1.9 3,1.9 3,1.8 3,1.8 3,1.6 3,1.5 3,1.3 3,1.0 3,1.1 3,1.2 3,1.4 3,1.4 3,1.5 3,1.3 3,1.4 3,1.4 3,1.5 3,2.0 3,2.1 3,2.2 3,2.2 3,2.1 3,2.4 3,2.4 3,2.4 3,2.9 3,2.9 3,2.8 3,2.4 3,2.6 3,2.5 3,2.6 3,2.6 3,2.1 3,2.2 3,3.1"/>
<path d="M38.2,71.6l3,1.0 3,2.7 3,2.2 3,1.6 3,1.0 3,0.8 3,1.0 3,1.5 3,1.9 3,2.4 3,2.1 3,1.6 3,0.8 3,0.8 3,1.0 3,1.6 3,2.0 3,2.2 3,2.0 3,1.7 3,1.3 3,1.1 3,1.0 3,1.3 3,1.7 3,2.0 3,1.9 3,1.6 3,1.0 3,0.7 3,0.6 3,1.2 3,1.7 3,2.1 3,2.2 3,1.9 3,1.4 3,1.0 3,1.3 3,1.4 3,2.0 3,2.4 3,2.5 3,2.7 3,2.3 3,1.9 3,2.1 3,2.5 3,2.7 3,3.0 3,3.3 3,3.4 3,2.9 3,2.5 3,1.8 3,1.8 3,3.2"/>
<path d="M38.2,71.3l3,0.9 3,2.4 3,2.0 3,1.6 3,1.4 3,1.3 3,1.4 3,1.6 3,1.8 3,2.0 3,1.7 3,1.4 3,1.0 3,1.1 3,1.2 3,1.7 3,1.8 3,1.8 3,1.7 3,1.5 3,1.6 3,1.5 3,1.5 3,1.6 3,1.7 3,1.8 3,1.6 3,1.4 3,1.1 3,1.0 3,0.9 3,1.4 3,1.6 3,1.7 3,1.7 3,1.5 3,1.5 3,1.3 3,1.7 3,1.8 3,2.1 3,2.2 3,2.3 3,2.4 3,2.4 3,2.2 3,2.6 3,2.7 3,2.7 3,2.6 3,2.9 3,2.8 3,2.6 3,2.4 3,1.9 3,1.9 3,2.9"/>
<path d="M38.2,73.3l3,0.6 3,2.0 3,1.6 3,1.4 3,1.3 3,1.3 3,1.4 3,1.5 3,1.7 3,1.9 3,1.8 3,1.6 3,1.3 3,1.5 3,1.5 3,1.8 3,1.7 3,1.5 3,1.4 3,1.4 3,1.5 3,1.4 3,1.4 3,1.4 3,1.4 3,1.4 3,1.4 3,1.5 3,1.2 3,1.3 3,1.3 3,1.6 3,1.7 3,1.7 3,1.6 3,1.6 3,1.5 3,1.4 3,1.7 3,1.6 3,1.8 3,1.8 3,1.8 3,2.2 3,2.3 3,2.3 3,2.8 3,2.8 3,2.9 3,2.7 3,2.9 3,3.0 3,3.0 3,2.8 3,2.1 3,2.1 3,3.0"/>
<path d="M38.2,72.9l3,0.8 3,2.5 3,2.3 3,1.9 3,1.5 3,1.3 3,1.1 3,1.3 3,1.4 3,1.8 3,1.6 3,1.4 3,1.0 3,1.0 3,1.1 3,1.4 3,1.7 3,1.8 3,1.9 3,1.9 3,1.8 3,1.7 3,1.5 3,1.4 3,1.5 3,1.5 3,1.6 3,1.4 3,1.1 3,0.8 3,0.7 3,1.0 3,1.3 3,1.5 3,1.8 3,1.8 3,1.7 3,1.5 3,1.8 3,1.8 3,1.9 3,2.2 3,2.3 3,2.6 3,2.4 3,2.2 3,2.5 3,2.3 3,2.4 3,2.3 3,2.8 3,2.9 3,3.0 3,2.8 3,2.1 3,2.0 3,3.2"/>
<path d="M38.2,73.2l3,0.4 3,1.7 3,1.6 3,1.7 3,2.0 3,2.1 3,1.9 3,1.7 3,1.3 3,1.3 3,1.1 3,1.3 3,1.3 3,1.7 3,1.7 3,1.6 3,1.3 3,1.0 3,1.1 3,1.4 3,1.9 3,2.2 3,2.2 3,1.9 3,1.4 3,1.2 3,1.0 3,1.2 3,1.4 3,1.5 3,1.6 3,1.5 3,1.3 3,0.9 3,0.9 3,1.2 3,1.5 3,1.9 3,2.3 3,2.2 3,2.0 3,1.7 3,1.7 3,2.1 3,2.5 3,2.7 3,3.3 3,3.2 3,2.7 3,2.1 3,2.1 3,2.3 3,2.6 3,2.8 3,2.4 3,2.3 3,2.9"/>
<path d="M38.2,66.0l3,0.6 3,1.8 3,1.4 3,1.4 3,1.5 3,1.7 3,1.7 3,1.7 3,1.5 3,1.4 3,1.2 3,1.2 3,1.2 3,1.6 3,2.0 3,2.0 3,1.8 3,1.4 3,1.2 3,1.3 3,1.6 3,1.9 3,2.0 3,1.8 3,1.5 3,1.2 3,0.9 3,1.0 3,1.0 3,1.3 3,1.6 3,1.8 3,1.7 3,1.4 3,1.3 3,1.3 3,1.5 3,1.7 3,2.3 3,2.2 3,2.1 3,1.9 3,1.6 3,1.8 3,2.1 3,2.3 3,3.1 3,3.1 3,3.0 3,2.5 3,2.5 3,2.5 3,2.8 3,3.1 3,2.7 3,2.8 3,3.7"/>
<path d="M38.2,75.2l3,0.8 3,1.8 3,1.2 3,0.8 3,0.8 3,1.3 3,1.8 3,2.1 3,2.1 3,2.0 3,1.6 3,1.1 3,0.9 3,1.4 3,1.9 3,2.2 3,2.1 3,1.6 3,1.1 3,0.7 3,0.9 3,1.1 3,1.6 3,1.8 3,1.9 3,1.6 3,1.3 3,1.0 3,0.8 3,1.1 3,1.5 3,2.2 3,2.2 3,2.0 3,1.5 3,1.0 3,0.9 3,1.0 3,1.6 3,2.0 3,2.2 3,2.0 3,1.8 3,1.7 3,1.7 3,2.0 3,2.8 3,3.4 3,3.5 3,3.1 3,3.0 3,2.6 3,2.4 3,2.4 3,2.0 3,2.3 3,3.3"/>
<path d="M38.2,73.8l3,1.2 3,2.3 3,1.8 3,1.2 3,1.1 3,1.3 3,1.6 3,2.0 3,2.0 3,2.0 3,1.4 3,1.0 3,0.5 3,1.0 3,1.4 3,2.0 3,2.1 3,1.9 3,1.5 3,1.2 3,1.2 3,1.4 3,1.7 3,1.9 3,2.1 3,1.9 3,1.4 3,1.0 3,0.7 3,0.7 3,1.0 3,1.6 3,1.9 3,1.9 3,1.5 3,1.3 3,1.0 3,1.1 3,1.7 3,2.2 3,2.4 3,2.6 3,2.2 3,2.1 3,2.0 3,1.9 3,2.5 3,2.9 3,3.1 3,2.9 3,2.9 3,2.6 3,2.4 3,2.3 3,1.9 3,2.3 3,3.5"/>
<path d="M38.2,71.5l3,1.1 3,2.9 3,2.4 3,1.8 3,1.2 3,1.0 3,1.1 3,1.5 3,2.1 3,2.5 3,2.1 3,1.6 3,0.8 3,0.7 3,0.8 3,1.5 3,1.9 3,2.1 3,2.1 3,1.8 3,1.5 3,1.2 3,1.1 3,1.4 3,1.9 3,2.2 3,2.2 3,1.8 3,1.0 3,0.7 3,0.6 3,1.0 3,1.6 3,2.0 3,2.1 3,1.9 3,1.4 3,1.1 3,1.2 3,1.5 3,2.1 3,2.5 3,2.8 3,2.9 3,2.5 3,2.1 3,2.2 3,2.4 3,2.7 3,2.9 3,3.2 3,3.2 3,2.8 3,2.2 3,1.5 3,1.6 3,2.9"/>
<path d="M38.2,50.7l3,0.5 3,2.1 3,1.8 3,1.7 3,1.6 3,1.5 3,1.5 3,1.5 3,1.5 3,1.8 3,1.6 3,1.6 3,1.2 3,1.3 3,1.4 3,1.6 3,1.6 3,1.4 3,1.5 3,1.5 3,1.7 3,1.7 3,1.7 3,1.4 3,1.5 3,1.5 3,1.5 3,1.4 3,1.3 3,1.2 3,1.2 3,1.4 3,1.5 3,1.4 3,1.5 3,1.5 3,1.5 3,1.6 3,1.8 3,1.8 3,1.9 3,1.9 3,2.0 3,2.3 3,2.5 3,2.4 3,2.9 3,2.9 3,2.7 3,2.5 3,2.8 3,2.9 3,3.0 3,3.0 3,2.5 3,2.4 3,3.4"/>
<path d="M38.2,74.8l3,0.6 3,2.0 3,1.6 3,1.5 3,1.5 3,1.6 3,1.7 3,1.7 3,1.6 3,1.7 3,1.4 3,1.3 3,1.1 3,1.4 3,1.6 3,1.8 3,1.7 3,1.4 3,1.3 3,1.3 3,1.6 3,1.8 3,1.8 3,1.7 3,1.6 3,1.4 3,1.3 3,1.2 3,1.1 3,1.2 3,1.4 3,1.6 3,1.5 3,1.5 3,1.3 3,1.3 3,1.4 3,1.5 3,2.0 3,2.1 3,2.0 3,2.0 3,1.8 3,2.1 3,2.3 3,2.3 3,3.0 3,3.0 3,2.9 3,2.4 3,2.6 3,2.5 3,2.7 3,2.6 3,2.2 3,2.2 3,3.1"/>
<path d="M38.2,51.7l3,0.7 3,2.1 3,1.8 3,1.6 3,1.6 3,1.6 3,1.6 3,1.5 3,1.6 3,1.7 3,1.5 3,1.5 3,1.2 3,1.4 3,1.6 3,1.7 3,1.7 3,1.6 3,1.5 3,1.5 3,1.8 3,1.8 3,1.7 3,1.6 3,1.6 3,1.4 3,1.4 3,1.3 3,1.2 3,1.3 3,1.2 3,1.5 3,1.6 3,1.5 3,1.5 3,1.6 3,1.5 3,1.7 3,2.0 3,1.9 3,2.1 3,2.0 3,1.9 3,2.3 3,2.4 3,2.4 3,2.9 3,2.9 3,2.8 3,2.5 3,2.8 3,2.8 3,3.0 3,3.1 3,2.5 3,2.6 3,3.6"/>
<path d="M38.2,76.6l3,0.5 3,2.1 3,1.8 3,1.6 3,1.5 3,1.4 3,1.4 3,1.3 3,1.4 3,1.5 3,1.5 3,1.4 3,1.2 3,1.4 3,1.4 3,1.7 3,1.6 3,1.5 3,1.5 3,1.6 3,1.7 3,1.7 3,1.7 3,1.4 3,1.3 3,1.2 3,1.2 3,1.3 3,1.1 3,1.2 3,1.1 3,1.4 3,1.3 3,1.5 3,1.4 3,1.6 3,1.6 3,1.7 3,1.9 3,1.9 3,1.8 3,1.9 3,1.8 3,2.1 3,2.3 3,2.4 3,2.7 3,2.7 3,2.5 3,2.3 3,2.6 3,2.7 3,2.9 3,2.8 3,2.3 3,2.2 3,3.1"/>
<path d="M38.2,54.9l3,0.6 3,2.1 3,1.9 3,1.6 3,1.6 3,1.5 3,1.6 3,1.6 3,1.7 3,1.9 3,1.7 3,1.6 3,1.3 3,1.4 3,1.5 3,1.7 3,1.7 3,1.5 3,1.6 3,1.5 3,1.7 3,1.7 3,1.6 3,1.6 3,1.6 3,1.5 3,1.6 3,1.5 3,1.3 3,1.3 3,1.3 3,1.5 3,1.6 3,1.6 3,1.6 3,1.6 3,1.5 3,1.6 3,1.8 3,1.9 3,1.9 3,2.0 3,2.0 3,2.4 3,2.5 3,2.5 3,2.9 3,3.0 3,2.8 3,2.7 3,2.9 3,3.0 3,3.1 3,3.0 3,2.5 3,2.4 3,3.5"/>
<path d="M38.2,75.8l3,0.8 3,2.3 3,1.8 3,1.6 3,1.4 3,1.4 3,1.4 3,1.4 3,1.5 3,1.6 3,1.5 3,1.4 3,1.0 3,1.3 3,1.5 3,1.8 3,1.8 3,1.6 3,1.7 3,1.6 3,1.7 3,1.6 3,1.7 3,1.4 3,1.5 3,1.5 3,1.2 3,1.3 3,1.0 3,1.0 3,1.0 3,1.4 3,1.6 3,1.6 3,1.6 3,1.6 3,1.6 3,1.6 3,1.9 3,1.9 3,2.0 3,2.1 3,1.9 3,2.2 3,2.3 3,2.1 3,2.6 3,2.7 3,2.6 3,2.4 3,2.7 3,2.7 3,2.7 3,2.6 3,2.1 3,2.0 3,2.9"/>
<path d="M38.2,76.3l3,0.6 3,2.0 3,1.7 3,1.5 3,1.4 3,1.5 3,1.5 3,1.5 3,1.6 3,1.7 3,1.6 3,1.4 3,1.2 3,1.4 3,1.6 3,1.7 3,1.7 3,1.4 3,1.5 3,1.4 3,1.6 3,1.5 3,1.6 3,1.5 3,1.5 3,1.4 3,1.3 3,1.3 3,1.2 3,1.2 3,1.3 3,1.5 3,1.6 3,1.5 3,1.5 3,1.5 3,1.5 3,1.5 3,1.8 3,1.8 3,1.9 3,1.9 3,1.8 3,2.2 3,2.2 3,2.4 3,2.8 3,2.8 3,2.8 3,2.5 3,2.7 3,2.8 3,2.8 3,2.7 3,2.1 3,2.1 3,3.0"/>
<path d="M38.2,73.9l3,0.3 3,2.0 3,2.1 3,2.0 3,2.0 3,1.6 3,1.5 3,1.2 3,1.2 3,1.7 3,1.9 3,1.9 3,1.7 3,1.6 3,1.4 3,1.4 3,1.2 3,1.3 3,1.6 3,1.9 3,2.1 3,1.9 3,1.7 3,1.2 3,1.1 3,1.3 3,1.5 3,1.8 3,1.8 3,1.6 3,1.3 3,1.2 3,1.1 3,1.3 3,1.5 3,1.8 3,2.0 3,1.9 3,1.9 3,1.6 3,1.5 3,1.7 3,1.9 3,2.5 3,2.9 3,2.8 3,3.0 3,2.8 3,2.4 3,2.1 3,2.6 3,3.0 3,3.1 3,2.8 3,2.1 3,1.8 3,2.6"/>
<path d="M38.2,74.8l3,0.6 3,2.3 3,1.9 3,1.8 3,1.6 3,1.5 3,1.5 3,1.5 3,1.5 3,1.8 3,1.7 3,1.5 3,1.2 3,1.3 3,1.4 3,1.6 3,1.6 3,1.6 3,1.6 3,1.7 3,1.8 3,1.7 3,1.7 3,1.5 3,1.5 3,1.5 3,1.5 3,1.5 3,1.2 3,1.2 3,1.2 3,1.3 3,1.4 3,1.5 3,1.6 3,1.6 3,1.7 3,1.6 3,1.8 3,1.9 3,1.9 3,2.0 3,2.1 3,2.4 3,2.5 3,2.4 3,2.8 3,2.8 3,2.6 3,2.4 3,2.7 3,2.8 3,2.8 3,2.7 3,2.0 3,2.0 3,2.9"/>
<path d="M38.2,76.1l3,0.5 3,1.9 3,1.7 3,1.7 3,1.6 3,1.7 3,1.6 3,1.5 3,1.5 3,1.6 3,1.5 3,1.4 3,1.3 3,1.6 3,1.6 3,1.7 3,1.5 3,1.4 3,1.3 3,1.5 3,1.8 3,1.8 3,1.8 3,1.5 3,1.5 3,1.3 3,1.2 3,1.4 3,1.3 3,1.3 3,1.4 3,1.5 3,1.5 3,1.4 3,1.3 3,1.5 3,1.6 3,1.6 3,2.0 3,2.0 3,1.9 3,1.8 3,1.8 3,2.1 3,2.4 3,2.6 3,2.9 3,3.0 3,2.7 3,2.3 3,2.5 3,2.7 3,2.7 3,2.7 3,2.2 3,2.0 3,2.9"/>
<path d="M38.2,74.1l3,0.5 3,2.2 3,2.0 3,2.0 3,2.0 3,1.7 3,1.6 3,1.5 3,1.4 3,1.7 3,1.7 3,1.6 3,1.4 3,1.4 3,1.4 3,1.4 3,1.4 3,1.4 3,1.5 3,1.8 3,2.0 3,2.0 3,1.8 3,1.6 3,1.4 3,1.5 3,1.5 3,1.6 3,1.5 3,1.4 3,1.2 3,1.3 3,1.2 3,1.3 3,1.4 3,1.6 3,1.7 3,1.8 3,2.0 3,1.9 3,1.8 3,1.9 3,2.1 3,2.5 3,2.7 3,2.7 3,3.0 3,2.7 3,2.5 3,2.2 3,2.4 3,2.5 3,2.6 3,2.4 3,1.7 3,1.6 3,2.5"/>
<path d="M38.2,77.6l3,0.3 3,1.5 3,1.4 3,1.5 3,1.9 3,2.1 3,2.1 3,1.8 3,1.3 3,1.2 3,1.0 3,1.1 3,1.4 3,1.8 3,2.0 3,1.8 3,1.4 3,0.9 3,0.8 3,1.2 3,1.8 3,2.3 3,2.3 3,1.9 3,1.5 3,1.0 3,0.8 3,1.0 3,1.2 3,1.7 3,1.7 3,1.8 3,1.4 3,1.0 3,0.8 3,0.9 3,1.5 3,1.9 3,2.4 3,2.4 3,2.0 3,1.6 3,1.4 3,1.8 3,2.3 3,2.7 3,3.4 3,3.4 3,2.8 3,2.0 3,2.0 3,2.0 3,2.4 3,2.6 3,2.3 3,2.1 3,2.8"/>
<path d="M38.2,77.9l3,0.7 3,2.2 3,2.0 3,1.7 3,1.6 3,1.6 3,1.5 3,1.4 3,1.5 3,1.6 3,1.4 3,1.2 3,1.0 3,1.1 3,1.3 3,1.5 3,1.6 3,1.4 3,1.6 3,1.6 3,1.7 3,1.8 3,1.8 3,1.6 3,1.5 3,1.5 3,1.4 3,1.2 3,1.1 3,1.0 3,0.9 3,1.2 3,1.3 3,1.4 3,1.3 3,1.4 3,1.5 3,1.6 3,1.9 3,1.9 3,2.1 3,2.1 3,2.0 3,2.4 3,2.4 3,2.3 3,2.7 3,2.6 3,2.6 3,2.2 3,2.5 3,2.6 3,2.6 3,2.6 3,2.0 3,2.1 3,3.1"/>
<path d="M38.2,78.6l3,0.9 3,2.0 3,1.5 3,1.2 3,1.2 3,1.3 3,1.7 3,1.8 3,1.8 3,1.8 3,1.4 3,1.1 3,0.9 3,1.2 3,1.7 3,2.0 3,2.0 3,1.6 3,1.2 3,1.1 3,1.3 3,1.4 3,1.7 3,1.8 3,1.8 3,1.5 3,1.2 3,1.0 3,0.8 3,1.0 3,1.3 3,1.7 3,1.9 3,1.7 3,1.5 3,1.2 3,1.1 3,1.3 3,1.8 3,2.0 3,2.3 3,2.1 3,1.8 3,1.9 3,1.9 3,2.1 3,2.7 3,3.0 3,3.0 3,2.7 3,2.7 3,2.5 3,2.3 3,2.3 3,1.9 3,2.1 3,2.9"/>
<path d="M38.2,77.4l3,0.8 3,1.9 3,1.4 3,1.2 3,1.2 3,1.5 3,1.8 3,1.9 3,2.0 3,1.9 3,1.5 3,1.2 3,1.1 3,1.4 3,1.7 3,2.1 3,1.9 3,1.5 3,1.2 3,1.0 3,1.2 3,1.5 3,1.7 3,1.8 3,1.8 3,1.6 3,1.3 3,1.2 3,1.0 3,1.2 3,1.5 3,1.9 3,1.9 3,1.8 3,1.4 3,1.2 3,1.1 3,1.2 3,1.8 3,2.1 3,2.1 3,2.1 3,1.8 3,1.9 3,2.1 3,2.2 3,2.9 3,3.2 3,3.2 3,2.8 3,2.7 3,2.6 3,2.4 3,2.3 3,1.9 3,2.0 3,2.9"/>
<path d="M38.2,77.9l3,0.5 3,1.8 3,1.4 3,1.4 3,1.5 3,1.7 3,1.7 3,1.7 3,1.6 3,1.7 3,1.5 3,1.5 3,1.3 3,1.6 3,1.7 3,1.8 3,1.7 3,1.2 3,1.2 3,1.2 3,1.6 3,1.6 3,1.8 3,1.6 3,1.5 3,1.4 3,1.2 3,1.3 3,1.2 3,1.5 3,1.5 3,1.8 3,1.6 3,1.5 3,1.3 3,1.3 3,1.3 3,1.6 3,1.9 3,1.9 3,1.9 3,1.8 3,1.7 3,2.0 3,2.3 3,2.4 3,3.1 3,3.2 3,2.9 3,2.5 3,2.6 3,2.6 3,2.7 3,2.6 3,2.2 3,2.1 3,2.9"/>
<path d="M38.2,43.3l3,0.5 3,2.1 3,1.8 3,1.5 3,1.5 3,1.4 3,1.4 3,1.4 3,1.5 3,1.7 3,1.6 3,1.5 3,1.3 3,1.4 3,1.5 3,1.7 3,1.7 3,1.5 3,1.5 3,1.6 3,1.6 3,1.7 3,1.5 3,1.4 3,1.4 3,1.4 3,1.3 3,1.4 3,1.2 3,1.2 3,1.2 3,1.5 3,1.5 3,1.6 3,1.6 3,1.5 3,1.6 3,1.6 3,1.9 3,1.8 3,1.8 3,1.9 3,1.8 3,2.3 3,2.3 3,2.3 3,2.8 3,2.8 3,2.8 3,2.5 3,2.8 3,3.0 3,3.1 3,3.1 3,2.5 3,2.6 3,3.5"/>
<path d="M38.2,79.8l3,0.8 3,2.3 3,2.0 3,1.6 3,1.3 3,1.3 3,1.3 3,1.6 3,1.7 3,1.9 3,1.6 3,1.3 3,0.9 3,0.9 3,1.1 3,1.5 3,1.6 3,1.7 3,1.6 3,1.4 3,1.5 3,1.5 3,1.4 3,1.5 3,1.6 3,1.7 3,1.6 3,1.4 3,1.0 3,0.8 3,0.8 3,1.2 3,1.4 3,1.6 3,1.6 3,1.4 3,1.3 3,1.2 3,1.6 3,1.7 3,2.0 3,2.2 3,2.1 3,2.5 3,2.3 3,2.1 3,2.5 3,2.6 3,2.6 3,2.5 3,2.7 3,2.6 3,2.5 3,2.3 3,1.7 3,1.7 3,2.8"/>
<path d="M38.2,78.6l3,1.0 3,2.4 3,2.0 3,1.6 3,1.2 3,1.1 3,1.4 3,1.5 3,1.9 3,2.1 3,1.7 3,1.4 3,0.8 3,0.9 3,1.2 3,1.6 3,1.8 3,1.9 3,1.7 3,1.5 3,1.4 3,1.3 3,1.3 3,1.5 3,1.8 3,1.8 3,1.7 3,1.4 3,0.9 3,0.8 3,0.8 3,1.3 3,1.6 3,1.8 3,1.8 3,1.5 3,1.3 3,1.2 3,1.5 3,1.7 3,2.1 3,2.2 3,2.3 3,2.5 3,2.2 3,2.0 3,2.4 3,2.6 3,2.8 3,2.6 3,2.9 3,2.7 3,2.5 3,2.1 3,1.6 3,1.7 3,2.7"/>
<path d="M38.2,77.1l3,0.5 3,2.0 3,1.9 3,1.8 3,1.7 3,1.5 3,1.4 3,1.4 3,1.4 3,1.8 3,1.9 3,1.8 3,1.6 3,1.6 3,1.4 3,1.6 3,1.4 3,1.4 3,1.6 3,1.7 3,1.9 3,1.7 3,1.5 3,1.3 3,1.2 3,1.3 3,1.5 3,1.7 3,1.6 3,1.5 3,1.3 3,1.3 3,1.4 3,1.5 3,1.6 3,1.8 3,1.8 3,1.7 3,1.8 3,1.6 3,1.6 3,1.7 3,1.9 3,2.4 3,2.6 3,2.6 3,2.9 3,2.7 3,2.5 3,2.3 3,2.6 3,2.7 3,2.7 3,2.3 3,1.7 3,1.4 3,2.3"/>
<path d="M38.2,49.5l3,0.8 3,2.1 3,1.7 3,1.5 3,1.4 3,1.6 3,1.8 3,1.8 3,1.9 3,1.8 3,1.6 3,1.3 3,1.1 3,1.4 3,1.7 3,2.0 3,2.0 3,1.6 3,1.4 3,1.4 3,1.5 3,1.7 3,1.9 3,1.8 3,1.8 3,1.7 3,1.4 3,1.2 3,1.1 3,1.2 3,1.4 3,1.8 3,1.8 3,1.7 3,1.6 3,1.3 3,1.4 3,1.5 3,2.0 3,2.1 3,2.3 3,2.2 3,2.0 3,2.2 3,2.2 3,2.4 3,2.9 3,3.2 3,3.1 3,2.8 3,2.9 3,2.8 3,2.8 3,3.0 3,2.5 3,2.7 3,3.8"/>
<path d="M38.2,64.7l3,0.7 3,2.1 3,1.8 3,1.7 3,1.6 3,1.5 3,1.6 3,1.6 3,1.5 3,1.7 3,1.5 3,1.3 3,1.1 3,1.2 3,1.4 3,1.5 3,1.6 3,1.4 3,1.5 3,1.5 3,1.7 3,1.7 3,1.8 3,1.6 3,1.6 3,1.5 3,1.4 3,1.3 3,1.1 3,1.2 3,1.1 3,1.4 3,1.3 3,1.4 3,1.4 3,1.4 3,1.4 3,1.5 3,1.9 3,1.9 3,2.0 3,2.1 3,2.0 3,2.3 3,2.4 3,2.4 3,2.9 3,2.8 3,2.7 3,2.4 3,2.7 3,2.7 3,2.8 3,2.8 3,2.4 3,2.3 3,3.4"/>
<path d="M38.2,77.9l3,0.9 3,2.5 3,2.3 3,1.9 3,1.4 3,1.2 3,1.3 3,1.5 3,1.9 3,2.2 3,2.1 3,1.6 3,0.9 3,0.8 3,0.9 3,1.3 3,1.6 3,1.8 3,1.8 3,1.7 3,1.6 3,1.4 3,1.2 3,1.4 3,1.8 3,2.0 3,2.0 3,1.8 3,1.2 3,0.9 3,0.7 3,1.0 3,1.4 3,1.7 3,1.8 3,1.7 3,1.4 3,1.1 3,1.4 3,1.4 3,2.0 3,2.3 3,2.5 3,2.9 3,2.6 3,2.3 3,2.4 3,2.5 3,2.6 3,2.6 3,3.0 3,3.0 3,2.6 3,2.3 3,1.5 3,1.5 3,2.7"/>
<path d="M38.2,79.5l3,0.5 3,2.3 3,2.2 3,2.0 3,1.8 3,1.5 3,1.3 3,1.2 3,1.4 3,1.8 3,1.8 3,1.6 3,1.2 3,1.2 3,1.1 3,1.2 3,1.3 3,1.4 3,1.7 3,1.9 3,1.9 3,1.8 3,1.5 3,1.3 3,1.4 3,1.5 3,1.6 3,1.7 3,1.4 3,1.2 3,0.9 3,0.9 3,1.1 3,1.3 3,1.5 3,1.7 3,1.7 3,1.6 3,1.8 3,1.6 3,1.7 3,1.9 3,2.1 3,2.7 3,2.8 3,2.5 3,2.7 3,2.5 3,2.3 3,2.2 3,2.6 3,2.8 3,2.8 3,2.7 3,1.8 3,1.8 3,2.6"/>
<path d="M38.2,81.0l3,0.6 3,2.0 3,1.6 3,1.4 3,1.4 3,1.4 3,1.6 3,1.8 3,1.8 3,1.9 3,1.7 3,1.5 3,1.1 3,1.3 3,1.4 3,1.6 3,1.6 3,1.4 3,1.2 3,1.2 3,1.3 3,1.4 3,1.5 3,1.5 3,1.6 3,1.5 3,1.5 3,1.4 3,1.2 3,1.2 3,1.3 3,1.6 3,1.6 3,1.5 3,1.4 3,1.3 3,1.2 3,1.2 3,1.5 3,1.7 3,1.8 3,1.9 3,1.9 3,2.2 3,2.2 3,2.3 3,2.8 3,2.9 3,2.8 3,2.5 3,2.6 3,2.3 3,2.2 3,2.0 3,1.4 3,1.5 3,2.3"/>
<path d="M38.2,80.3l3,0.9 3,2.5 3,2.3 3,1.8 3,1.4 3,1.0 3,1.0 3,1.2 3,1.5 3,2.1 3,1.9 3,1.6 3,1.0 3,1.0 3,0.9 3,1.4 3,1.7 3,1.8 3,2.0 3,1.9 3,1.6 3,1.4 3,1.1 3,1.2 3,1.4 3,1.7 3,1.7 3,1.6 3,1.2 3,0.8 3,0.6 3,0.9 3,1.4 3,1.7 3,1.9 3,1.9 3,1.7 3,1.3 3,1.4 3,1.5 3,1.8 3,2.1 3,2.3 3,2.7 3,2.4 3,2.1 3,2.3 3,2.2 3,2.3 3,2.4 3,2.9 3,2.9 3,2.7 3,2.2 3,1.5 3,1.5 3,2.5"/>
<path d="M38.2,78.0l3,1.0 3,2.4 3,2.1 3,1.6 3,1.5 3,1.3 3,1.4 3,1.6 3,1.8 3,2.0 3,1.8 3,1.4 3,1.0 3,1.2 3,1.3 3,1.7 3,1.9 3,1.8 3,1.8 3,1.6 3,1.7 3,1.5 3,1.6 3,1.5 3,1.7 3,1.8 3,1.6 3,1.5 3,1.1 3,0.9 3,1.1 3,1.3 3,1.7 3,1.7 3,1.8 3,1.6 3,1.5 3,1.5 3,1.7 3,1.8 3,2.2 3,2.2 3,2.2 3,2.5 3,2.3 3,2.2 3,2.6 3,2.6 3,2.7 3,2.5 3,2.7 3,2.5 3,2.3 3,2.0 3,1.5 3,1.5 3,2.4"/>
<path d="M38.2,79.8l3,0.7 3,2.2 3,1.9 3,1.6 3,1.5 3,1.5 3,1.5 3,1.5 3,1.7 3,1.8 3,1.7 3,1.5 3,1.1 3,1.3 3,1.3 3,1.7 3,1.7 3,1.5 3,1.6 3,1.5 3,1.7 3,1.6 3,1.6 3,1.5 3,1.6 3,1.5 3,1.5 3,1.5 3,1.2 3,1.1 3,1.1 3,1.4 3,1.6 3,1.5 3,1.6 3,1.5 3,1.5 3,1.5 3,1.7 3,1.8 3,2.0 3,2.0 3,2.1 3,2.4 3,2.3 3,2.4 3,2.7 3,2.8 3,2.6 3,2.5 3,2.7 3,2.6 3,2.5 3,2.3 3,1.8 3,1.7 3,2.6"/>
<path d="M38.2,81.8l3,0.6 3,2.1 3,1.9 3,1.8 3,1.7 3,1.6 3,1.4 3,1.3 3,1.2 3,1.5 3,1.4 3,1.4 3,1.1 3,1.4 3,1.4 3,1.5 3,1.5 3,1.4 3,1.5 3,1.7 3,1.9 3,1.9 3,1.7 3,1.5 3,1.3 3,1.2 3,1.2 3,1.3 3,1.1 3,1.2 3,1.1 3,1.2 3,1.2 3,1.3 3,1.4 3,1.5 3,1.7 3,1.8 3,2.0 3,1.9 3,1.9 3,1.8 3,1.8 3,2.3 3,2.4 3,2.4 3,2.7 3,2.6 3,2.4 3,2.1 3,2.3 3,2.5 3,2.7 3,2.5 3,2.0 3,1.9 3,2.7"/>
<path d="M38.2,80.5l3,0.4 3,1.9 3,1.7 3,1.5 3,1.4 3,1.4 3,1.3 3,1.4 3,1.6 3,1.8 3,1.9 3,1.9 3,1.5 3,1.7 3,1.6 3,1.8 3,1.6 3,1.5 3,1.5 3,1.4 3,1.6 3,1.5 3,1.3 3,1.2 3,1.3 3,1.3 3,1.4 3,1.5 3,1.5 3,1.5 3,1.4 3,1.6 3,1.7 3,1.7 3,1.7 3,1.7 3,1.6 3,1.6 3,1.7 3,1.5 3,1.6 3,1.6 3,1.7 3,2.2 3,2.4 3,2.4 3,2.9 3,2.8 3,2.8 3,2.5 3,2.8 3,2.9 3,2.8 3,2.4 3,1.8 3,1.6 3,2.4"/>
<path d="M38.2,80.9l3,1.0 3,2.3 3,1.8 3,1.4 3,1.1 3,1.2 3,1.4 3,1.7 3,1.9 3,2.2 3,1.8 3,1.4 3,0.9 3,1.1 3,1.3 3,1.8 3,2.0 3,1.8 3,1.6 3,1.3 3,1.3 3,1.2 3,1.3 3,1.5 3,1.8 3,1.8 3,1.6 3,1.4 3,1.0 3,0.9 3,1.0 3,1.5 3,1.9 3,1.9 3,1.7 3,1.5 3,1.3 3,1.1 3,1.4 3,1.8 3,2.0 3,2.2 3,2.2 3,2.3 3,2.1 3,2.0 3,2.5 3,2.7 3,2.9 3,2.7 3,2.8 3,2.5 3,2.3 3,1.8 3,1.4 3,1.5 3,2.5"/>
<path d="M38.2,60.7l3,0.5 3,1.9 3,1.7 3,1.6 3,1.8 3,1.8 3,1.8 3,1.7 3,1.5 3,1.5 3,1.4 3,1.3 3,1.4 3,1.6 3,1.8 3,1.8 3,1.7 3,1.3 3,1.2 3,1.5 3,1.8 3,2.0 3,2.1 3,1.8 3,1.5 3,1.3 3,1.2 3,1.2 3,1.3 3,1.4 3,1.6 3,1.6 3,1.6 3,1.3 3,1.3 3,1.3 3,1.6 3,1.8 3,2.2 3,2.2 3,2.1 3,1.9 3,1.7 3,2.1 3,2.4 3,2.6 3,3.2 3,3.2 3,2.8 3,2.5 3,2.5 3,2.6 3,2.9 3,3.2 3,2.7 3,2.8 3,3.6"/>
<path d="M38.2,80.4l3,0.5 3,2.0 3,1.7 3,1.6 3,1.7 3,1.7 3,1.7 3,1.7 3,1.7 3,1.8 3,1.6 3,1.5 3,1.3 3,1.4 3,1.6 3,1.7 3,1.5 3,1.4 3,1.3 3,1.4 3,1.6 3,1.7 3,1.8 3,1.7 3,1.6 3,1.5 3,1.4 3,1.4 3,1.4 3,1.4 3,1.4 3,1.5 3,1.6 3,1.4 3,1.4 3,1.3 3,1.4 3,1.5 3,1.9 3,1.9 3,2.0 3,1.9 3,1.9 3,2.3 3,2.4 3,2.5 3,3.0 3,3.0 3,2.8 3,2.4 3,2.5 3,2.4 3,2.3 3,2.2 3,1.7 3,1.6 3,2.5"/>
<path d="M38.2,66.3l3,0.5 3,2.0 3,1.9 3,1.7 3,1.7 3,1.6 3,1.5 3,1.6 3,1.6 3,1.9 3,1.7 3,1.5 3,1.2 3,1.3 3,1.3 3,1.4 3,1.5 3,1.3 3,1.4 3,1.5 3,1.7 3,1.7 3,1.6 3,1.5 3,1.6 3,1.6 3,1.6 3,1.5 3,1.4 3,1.3 3,1.1 3,1.4 3,1.3 3,1.4 3,1.4 3,1.4 3,1.5 3,1.4 3,1.7 3,1.8 3,1.8 3,2.0 3,2.0 3,2.5 3,2.6 3,2.5 3,2.9 3,2.9 3,2.8 3,2.5 3,2.7 3,2.8 3,2.9 3,2.9 3,2.2 3,2.1 3,3.2"/>
<path d="M38.2,82.5l3,0.3 3,1.8 3,1.7 3,1.6 3,1.6 3,1.4 3,1.3 3,1.3 3,1.5 3,1.9 3,2.0 3,2.0 3,1.7 3,1.6 3,1.5 3,1.5 3,1.3 3,1.3 3,1.4 3,1.5 3,1.6 3,1.5 3,1.3 3,1.0 3,1.1 3,1.3 3,1.5 3,1.8 3,1.6 3,1.6 3,1.5 3,1.4 3,1.5 3,1.4 3,1.7 3,1.7 3,1.6 3,1.5 3,1.6 3,1.3 3,1.4 3,1.5 3,1.7 3,2.3 3,2.6 3,2.6 3,2.9 3,2.8 3,2.6 3,2.4 3,2.8 3,2.9 3,2.7 3,2.5 3,1.7 3,1.4 3,2.3"/>
</g>
<path d="M38.2,101.07 L39.2,101.95 L40.2,102.82 L41.2,103.69 L42.2,104.57 L43.2,105.44 L44.2,106.31 L45.2,107.19 L46.2,108.09 L47.2,108.98 L48.2,109.88 L49.2,110.77 L50.2,111.65 L51.2,112.54 L52.2,113.43 L53.2,114.31 L54.2,115.2 L55.2,116.09 L56.2,117.02 L57.2,118.14 L58.2,119.26 L59.2,120.38 L60.2,121.5 L61.2,122.62 L62.2,123.74 L63.2,124.88 L64.2,126.05 L65.2,127.22 L66.2,128.38 L67.2,129.55 L68.2,130.72 L69.2,131.88 L70.2,133.09 L71.2,134.31 L72.2,135.53 L73.2,136.75 L74.2,137.96 L75.2,139.18 L76.2,140.27 L77.2,141.34 L78.2,142.42 L79.2,143.51 L80.2,144.6 L81.2,145.69 L82.2,146.78 L83.2,147.87 L84.2,148.96 L85.2,149.82 L86.2,150.45 L87.2,151.09 L88.2,151.73 L89.2,152.36 L90.2,153 L91.2,153.64 L92.2,154.35 L93.2,155.08 L94.2,155.8 L95.2,156.52 L96.2,157.25 L97.2,157.97 L98.2,158.7 L99.2,159.42 L100.2,160.12 L101.2,160.74 L102.2,161.35 L103.2,161.96 L104.2,162.57 L105.2,163.19 L106.2,163.8 L107.2,164.41 L108.2,165.03 L109.2,165.64 L110.2,166.04 L111.2,166.42 L112.2,166.8 L113.2,167.18 L114.2,167.56 L115.2,167.94 L116.2,168.32 L117.2,168.7 L118.2,169.04 L119.2,169.26 L120.2,169.48 L121.2,169.7 L122.2,169.92 L123.2,170.14 L124.2,170.36 L125.2,170.58 L126.2,170.8 L127.2,171.02 L128.2,171.25 L129.2,171.48 L130.2,171.72 L131.2,171.96 L132.2,172.19 L133.2,172.43 L134.2,172.66 L135.2,172.9 L136.2,173.13 L137.2,173.29 L138.2,173.27 L139.2,173.24 L140.2,173.22 L141.2,173.15 L142.2,172.92 L143.2,172.7 L144.2,172.47 L145.2,172.24 L146.2,171.94 L147.2,171.53 L148.2,171.13 L149.2,170.72 L150.2,170.48 L151.2,170.32 L152.2,170.15 L153.2,170.38 L154.2,170.78 L155.2,171.18 L156.2,171.58 L157.2,172.23 L158.2,172.98 L159.2,173.74 L160.2,174.49 L161.2,175.25 L162.2,175.84 L163.2,176.2 L164.2,176.55 L165.2,176.91 L166.2,177.26 L167.2,177.62 L168.2,177.94 L169.2,178.13 L170.2,178.31 L171.2,178.5 L172.2,178.69 L173.2,178.88 L174.2,179.07 L175.2,179.25 L176.2,179.41 L177.2,179.57 L178.2,179.72 L179.2,179.88 L180.2,180.04 L181.2,180.2 L182.2,180.36 L183.2,180.52 L184.2,180.67 L185.2,180.8 L186.2,180.94 L187.2,181.07 L188.2,181.21 L189.2,181.34 L190.2,181.48 L191.2,181.61 L192.2,181.75 L193.2,181.87 L194.2,181.98 L195.2,182.09 L196.2,182.2 L197.2,182.32 L198.2,182.43 L199.2,182.54 L200.2,182.65 L201.2,182.77 L202.2,182.92 L203.2,183.09 L204.2,183.26 L205.2,183.43 L206.2,183.7 L207.2,184.03 L208.2,184.46 L209.2,185.26 L210.2,186.06" fill="none" stroke="#2a9a2a" stroke-width="1.25"/>
<path d="M38.2,90.38 L39.2,91.31 L40.2,92.23 L41.2,93.16 L42.2,94.08 L43.2,95.01 L44.2,95.96 L45.2,96.92 L46.2,97.88 L47.2,98.83 L48.2,99.79 L49.2,100.73 L50.2,101.67 L51.2,102.61 L52.2,103.58 L53.2,104.56 L54.2,105.54 L55.2,106.51 L56.2,107.55 L57.2,108.66 L58.2,109.77 L59.2,110.89 L60.2,112.1 L61.2,113.32 L62.2,114.54 L63.2,115.76 L64.2,116.97 L65.2,118.18 L66.2,119.39 L67.2,120.58 L68.2,121.73 L69.2,122.88 L70.2,124.03 L71.2,125.15 L72.2,126.28 L73.2,127.4 L74.2,128.51 L75.2,129.56 L76.2,130.61 L77.2,131.66 L78.2,132.72 L79.2,133.8 L80.2,134.88 L81.2,135.96 L82.2,136.94 L83.2,137.81 L84.2,138.5 L85.2,139.16 L86.2,139.82 L87.2,140.48 L88.2,141.15 L89.2,141.81 L90.2,142.47 L91.2,143.13 L92.2,143.8 L93.2,144.47 L94.2,145.13 L95.2,145.8 L96.2,146.47 L97.2,147.13 L98.2,147.8 L99.2,148.47 L100.2,149.13 L101.2,149.77 L102.2,150.42 L103.2,151.06 L104.2,151.71 L105.2,152.35 L106.2,153 L107.2,153.65 L108.2,154.29 L109.2,154.94 L110.2,155.4 L111.2,155.84 L112.2,156.28 L113.2,156.72 L114.2,157.16 L115.2,157.6 L116.2,158.04 L117.2,158.48 L118.2,158.92 L119.2,159.36 L120.2,159.62 L121.2,159.86 L122.2,160.1 L123.2,160.34 L124.2,160.58 L125.2,160.82 L126.2,161.07 L127.2,161.31 L128.2,161.55 L129.2,161.79 L130.2,162.04 L131.2,162.28 L132.2,162.53 L133.2,162.78 L134.2,162.84 L135.2,162.9 L136.2,162.94 L137.2,163 L138.2,163.04 L139.2,163.09 L140.2,163.14 L141.2,163.19 L142.2,163.02 L143.2,162.82 L144.2,162.62 L145.2,162.42 L146.2,162.15 L147.2,161.78 L148.2,161.41 L149.2,161.04 L150.2,160.67 L151.2,160.3 L152.2,160.08 L153.2,160.51 L154.2,160.93 L155.2,161.35 L156.2,161.77 L157.2,162.31 L158.2,162.89 L159.2,163.48 L160.2,164.06 L161.2,164.65 L162.2,165.18 L163.2,165.63 L164.2,166.08 L165.2,166.54 L166.2,166.99 L167.2,167.44 L168.2,167.83 L169.2,168.01 L170.2,168.18 L171.2,168.36 L172.2,168.53 L173.2,168.7 L174.2,168.88 L175.2,169.05 L176.2,169.22 L177.2,169.39 L178.2,169.56 L179.2,169.73 L180.2,169.9 L181.2,170.07 L182.2,170.24 L183.2,170.41 L184.2,170.57 L185.2,170.72 L186.2,170.87 L187.2,171.01 L188.2,171.16 L189.2,171.3 L190.2,171.45 L191.2,171.6 L192.2,171.74 L193.2,171.88 L194.2,172.02 L195.2,172.15 L196.2,172.29 L197.2,172.42 L198.2,172.56 L199.2,172.69 L200.2,172.82 L201.2,172.96 L202.2,173.14 L203.2,173.33 L204.2,173.53 L205.2,173.72 L206.2,174.05 L207.2,174.46 L208.2,174.88 L209.2,175.52 L210.2,176.27" fill="none" stroke="#0f820f" stroke-width="1.7" stroke-dasharray="3.6 1.4 0.7 1.4 0.7 1.4 0.7 1.4"/>
<path d="M38.2,87.14 L39.2,87.45 L40.2,87.9 L41.2,88.35 L42.2,88.79 L43.2,89.22 L44.2,89.62 L45.2,90.02 L46.2,90.42 L47.2,90.82 L48.2,91.23 L49.2,91.64 L50.2,92.05 L51.2,92.48 L52.2,92.94 L53.2,93.43 L54.2,93.92 L55.2,94.41 L56.2,94.9 L57.2,95.4 L58.2,95.9 L59.2,96.4 L60.2,96.9 L61.2,97.39 L62.2,97.88 L63.2,98.37 L64.2,98.86 L65.2,99.37 L66.2,99.88 L67.2,100.41 L68.2,100.92 L69.2,101.39 L70.2,101.82 L71.2,102.19 L72.2,102.57 L73.2,102.96 L74.2,103.35 L75.2,103.75 L76.2,104.16 L77.2,104.58 L78.2,105.02 L79.2,105.49 L80.2,105.98 L81.2,106.46 L82.2,106.98 L83.2,107.53 L84.2,108.11 L85.2,108.7 L86.2,109.3 L87.2,109.89 L88.2,110.48 L89.2,111.03 L90.2,111.56 L91.2,112.06 L92.2,112.57 L93.2,113.07 L94.2,113.58 L95.2,114.09 L96.2,114.59 L97.2,115.09 L98.2,115.57 L99.2,116.03 L100.2,116.48 L101.2,116.93 L102.2,117.38 L103.2,117.83 L104.2,118.28 L105.2,118.73 L106.2,119.18 L107.2,119.62 L108.2,120.07 L109.2,120.52 L110.2,120.97 L111.2,121.42 L112.2,121.87 L113.2,122.32 L114.2,122.77 L115.2,123.23 L116.2,123.7 L117.2,124.18 L118.2,124.66 L119.2,125.14 L120.2,125.63 L121.2,126.11 L122.2,126.6 L123.2,127.1 L124.2,127.6 L125.2,128.1 L126.2,128.6 L127.2,129.1 L128.2,129.6 L129.2,130.1 L130.2,130.6 L131.2,131.1 L132.2,131.6 L133.2,132.1 L134.2,132.6 L135.2,133.1 L136.2,133.6 L137.2,134.1 L138.2,134.6 L139.2,135.1 L140.2,135.6 L141.2,136.11 L142.2,136.67 L143.2,137.28 L144.2,137.93 L145.2,138.58 L146.2,139.23 L147.2,139.88 L148.2,140.53 L149.2,141.18 L150.2,141.83 L151.2,142.49 L152.2,143.22 L153.2,144 L154.2,144.83 L155.2,145.67 L156.2,146.5 L157.2,147.34 L158.2,148.19 L159.2,149.05 L160.2,149.92 L161.2,150.81 L162.2,151.73 L163.2,152.7 L164.2,153.7 L165.2,154.71 L166.2,155.75 L167.2,156.82 L168.2,157.92 L169.2,159.01 L170.2,160.06 L171.2,161.07 L172.2,162.05 L173.2,163.03 L174.2,163.98 L175.2,164.91 L176.2,165.8 L177.2,166.69 L178.2,167.57 L179.2,168.43 L180.2,169.26 L181.2,170.08 L182.2,170.9 L183.2,171.68 L184.2,172.42 L185.2,173.11 L186.2,173.8 L187.2,174.48 L188.2,175.13 L189.2,175.76 L190.2,176.37 L191.2,176.99 L192.2,177.56 L193.2,178.09 L194.2,178.58 L195.2,179.07 L196.2,179.52 L197.2,179.92 L198.2,180.24 L199.2,180.54 L200.2,180.83 L201.2,181.08 L202.2,181.3 L203.2,181.47 L204.2,181.65 L205.2,181.87 L206.2,182.15 L207.2,182.49 L208.2,183.08 L209.2,183.91 L210.2,184.61" fill="none" stroke="#000" stroke-width="2.1" stroke-linejoin="round"/>
<path d="M38.2,75.2 L39.2,75.33 L40.2,75.53 L41.2,75.84 L42.2,76.34 L43.2,77.03 L44.2,77.8 L45.2,78.48 L46.2,79.09 L47.2,79.62 L48.2,80.15 L49.2,80.68 L50.2,81.21 L51.2,81.73 L52.2,82.24 L53.2,82.73 L54.2,83.22 L55.2,83.71 L56.2,84.2 L57.2,84.7 L58.2,85.2 L59.2,85.7 L60.2,86.2 L61.2,86.71 L62.2,87.22 L63.2,87.73 L64.2,88.26 L65.2,88.81 L66.2,89.39 L67.2,89.98 L68.2,90.57 L69.2,91.13 L70.2,91.66 L71.2,92.17 L72.2,92.68 L73.2,93.17 L74.2,93.62 L75.2,94.02 L76.2,94.4 L77.2,94.8 L78.2,95.22 L79.2,95.66 L80.2,96.13 L81.2,96.6 L82.2,97.08 L83.2,97.58 L84.2,98.11 L85.2,98.66 L86.2,99.22 L87.2,99.76 L88.2,100.31 L89.2,100.84 L90.2,101.34 L91.2,101.84 L92.2,102.33 L93.2,102.83 L94.2,103.32 L95.2,103.81 L96.2,104.31 L97.2,104.81 L98.2,105.33 L99.2,105.87 L100.2,106.42 L101.2,106.97 L102.2,107.52 L103.2,108.07 L104.2,108.62 L105.2,109.17 L106.2,109.72 L107.2,110.25 L108.2,110.76 L109.2,111.26 L110.2,111.77 L111.2,112.28 L112.2,112.78 L113.2,113.29 L114.2,113.79 L115.2,114.29 L116.2,114.78 L117.2,115.25 L118.2,115.72 L119.2,116.19 L120.2,116.66 L121.2,117.12 L122.2,117.56 L123.2,117.98 L124.2,118.38 L125.2,118.78 L126.2,119.18 L127.2,119.58 L128.2,119.98 L129.2,120.38 L130.2,120.78 L131.2,121.19 L132.2,121.63 L133.2,122.1 L134.2,122.6 L135.2,123.1 L136.2,123.6 L137.2,124.1 L138.2,124.6 L139.2,125.1 L140.2,125.6 L141.2,126.1 L142.2,126.6 L143.2,127.1 L144.2,127.6 L145.2,128.1 L146.2,128.6 L147.2,129.1 L148.2,129.6 L149.2,130.1 L150.2,130.6 L151.2,131.11 L152.2,131.65 L153.2,132.23 L154.2,132.84 L155.2,133.45 L156.2,134.06 L157.2,134.67 L158.2,135.28 L159.2,135.91 L160.2,136.55 L161.2,137.2 L162.2,137.85 L163.2,138.5 L164.2,139.15 L165.2,139.81 L166.2,140.46 L167.2,141.13 L168.2,141.85 L169.2,142.62 L170.2,143.41 L171.2,144.21 L172.2,145.01 L173.2,145.81 L174.2,146.61 L175.2,147.4 L176.2,148.23 L177.2,149.11 L178.2,150.05 L179.2,151.02 L180.2,151.99 L181.2,152.95 L182.2,153.9 L183.2,154.85 L184.2,155.78 L185.2,156.67 L186.2,157.52 L187.2,158.36 L188.2,159.22 L189.2,160.11 L190.2,161.04 L191.2,162 L192.2,162.95 L193.2,163.92 L194.2,164.9 L195.2,165.9 L196.2,166.9 L197.2,167.9 L198.2,168.9 L199.2,169.9 L200.2,170.89 L201.2,171.79 L202.2,172.61 L203.2,173.34 L204.2,174.07 L205.2,174.89 L206.2,175.86 L207.2,176.97 L208.2,178.14 L209.2,179.22 L210.2,179.91" fill="none" stroke="#f00" stroke-width="2.1" stroke-linejoin="round"/>
</g>
<rect x="38.2" y="31.3" width="180.1" height="174" fill="none" stroke="#a6a6a6" stroke-width="1.2"/>
<path d="M48.41,205.3 v-3.6 M48.41,31.3 v3.6 M56.7,205.3 v-3.6 M56.7,31.3 v3.6 M62.58,205.3 v-3.6 M62.58,31.3 v3.6 M67.14,205.3 v-3.6 M67.14,31.3 v3.6 M70.86,205.3 v-3.6 M70.86,31.3 v3.6 M74.01,205.3 v-3.6 M74.01,31.3 v3.6 M76.74,205.3 v-3.6 M76.74,31.3 v3.6 M79.15,205.3 v-3.6 M79.15,31.3 v3.6 M81.3,205.3 v-6.9 M81.3,31.3 v6.9 M95.46,205.3 v-3.6 M95.46,31.3 v3.6 M103.75,205.3 v-3.6 M103.75,31.3 v3.6 M109.63,205.3 v-3.6 M109.63,31.3 v3.6 M114.19,205.3 v-3.6 M114.19,31.3 v3.6 M117.91,205.3 v-3.6 M117.91,31.3 v3.6 M121.06,205.3 v-3.6 M121.06,31.3 v3.6 M123.79,205.3 v-3.6 M123.79,31.3 v3.6 M126.2,205.3 v-3.6 M126.2,31.3 v3.6 M128.35,205.3 v-6.9 M128.35,31.3 v6.9 M142.51,205.3 v-3.6 M142.51,31.3 v3.6 M150.8,205.3 v-3.6 M150.8,31.3 v3.6 M156.68,205.3 v-3.6 M156.68,31.3 v3.6 M161.24,205.3 v-3.6 M161.24,31.3 v3.6 M164.96,205.3 v-3.6 M164.96,31.3 v3.6 M168.11,205.3 v-3.6 M168.11,31.3 v3.6 M170.84,205.3 v-3.6 M170.84,31.3 v3.6 M173.25,205.3 v-3.6 M173.25,31.3 v3.6 M175.4,205.3 v-6.9 M175.4,31.3 v6.9 M189.56,205.3 v-3.6 M189.56,31.3 v3.6 M197.85,205.3 v-3.6 M197.85,31.3 v3.6 M203.73,205.3 v-3.6 M203.73,31.3 v3.6 M208.29,205.3 v-3.6 M208.29,31.3 v3.6 M212.01,205.3 v-3.6 M212.01,31.3 v3.6 M215.16,205.3 v-3.6 M215.16,31.3 v3.6 M217.89,205.3 v-3.6 M217.89,31.3 v3.6 M38.2,198.3 h1.8 M218.3,198.3 h-1.8 M38.2,183.48 h3 M218.3,183.48 h-3 M38.2,169.26 h1.8 M218.3,169.26 h-1.8 M38.2,154.44 h3 M218.3,154.44 h-3 M38.2,140.22 h1.8 M218.3,140.22 h-1.8 M38.2,125.4 h3 M218.3,125.4 h-3 M38.2,111.18 h1.8 M218.3,111.18 h-1.8 M38.2,96.36 h3 M218.3,96.36 h-3 M38.2,82.14 h1.8 M218.3,82.14 h-1.8 M38.2,67.32 h3 M218.3,67.32 h-3 M38.2,53.1 h1.8 M218.3,53.1 h-1.8 M38.2,38.28 h3 M218.3,38.28 h-3" stroke="#969696" stroke-width="1.2" fill="none"/>
<text x="45.8" y="50.0" font-family='"Liberation Serif", serif' font-size="10.4" fill="#1a1a1a">(a)</text>
<text x="75.2" y="217.8" font-family='"Liberation Serif", serif' font-size="10.4" fill="#1a1a1a" letter-spacing="-0.5">10<tspan font-size="6.6" dy="-5.0">-2</tspan></text>
<text x="122.25" y="217.8" font-family='"Liberation Serif", serif' font-size="10.4" fill="#1a1a1a" letter-spacing="-0.5">10<tspan font-size="6.6" dy="-5.0">-1</tspan></text>
<text x="169.3" y="217.8" font-family='"Liberation Serif", serif' font-size="10.4" fill="#1a1a1a" letter-spacing="-0.5">10<tspan font-size="6.6" dy="-5.0">0</tspan></text>
<text x="128.25" y="227.3" font-family='"Liberation Serif", serif' font-size="9.8" fill="#1a1a1a" text-anchor="middle">[ Hz ]</text>
<g clip-path="url(#ct1)">
<g fill="none" stroke="#7a7a7a" stroke-opacity="0.024" stroke-width="1.6">
<path d="M218.3,70.8l3,1.2 3,0.7 3,1.1 3,1.9 3,1.4 3,1.2 3,1.6 3,1.3 3,1.2 3,1.9 3,1.7 3,1.7 3,1.7 3,1.7 3,1.6 3,1.1 3,1.2 3,1.4 3,1.5 3,1.5 3,1.7 3,1.6 3,1.7 3,1.5 3,1.6 3,1.5 3,1.3 3,1.4 3,1.4 3,1.4 3,1.7 3,1.6 3,1.5 3,1.7 3,1.8 3,1.8 3,2.1 3,2.2 3,2.2 3,2.8 3,2.9 3,2.9 3,3.3 3,3.4 3,3.6 3,3.3 3,2.9 3,2.8 3,2.5 3,2.4 3,2.0 3,1.8 3,1.7 3,1.4 3,1.3 3,1.1 3,2.2"/>
<path d="M218.3,77.2l3,1.4 3,0.7 3,0.9 3,1.5 3,0.9 3,0.8 3,1.4 3,1.0 3,1.0 3,1.7 3,1.4 3,1.2 3,1.2 3,1.3 3,1.4 3,1.3 3,1.3 3,1.5 3,1.4 3,1.4 3,1.3 3,1.3 3,1.4 3,1.5 3,1.4 3,1.4 3,1.0 3,0.9 3,0.8 3,0.9 3,1.2 3,1.5 3,1.5 3,1.7 3,1.8 3,1.7 3,1.8 3,2.0 3,2.0 3,2.8 3,2.9 3,3.0 3,3.1 3,3.1 3,3.1 3,2.7 3,2.5 3,2.4 3,2.5 3,2.4 3,1.9 3,1.7 3,1.6 3,1.2 3,1.2 3,1.2 3,2.4"/>
<path d="M218.3,72.7l3,1.2 3,0.8 3,1.1 3,1.8 3,1.1 3,0.8 3,1.2 3,0.9 3,1.1 3,2.0 3,2.0 3,1.9 3,1.8 3,1.7 3,1.5 3,1.2 3,1.2 3,1.7 3,1.7 3,1.7 3,1.6 3,1.3 3,1.2 3,1.1 3,1.2 3,1.4 3,1.3 3,1.5 3,1.5 3,1.3 3,1.5 3,1.5 3,1.5 3,2.0 3,2.2 3,2.1 3,2.4 3,2.1 3,1.9 3,2.6 3,2.6 3,2.7 3,3.2 3,3.4 3,3.5 3,3.1 3,2.6 3,2.4 3,2.4 3,2.5 3,2.3 3,2.2 3,2.0 3,1.5 3,1.2 3,1.1 3,2.0"/>
<path d="M218.3,74.2l3,1.1 3,0.7 3,1.0 3,1.8 3,1.2 3,1.2 3,1.7 3,1.3 3,1.2 3,1.8 3,1.6 3,1.5 3,1.5 3,1.5 3,1.4 3,1.1 3,1.1 3,1.3 3,1.3 3,1.4 3,1.5 3,1.6 3,1.6 3,1.6 3,1.6 3,1.5 3,1.2 3,1.3 3,1.3 3,1.3 3,1.5 3,1.5 3,1.5 3,1.6 3,1.6 3,1.6 3,1.9 3,2.0 3,2.0 3,2.9 3,2.9 3,2.9 3,3.3 3,3.3 3,3.5 3,3.2 3,2.9 3,2.7 3,2.6 3,2.3 3,1.9 3,1.7 3,1.6 3,1.2 3,1.1 3,1.1 3,2.2"/>
<path d="M218.3,75.3l3,1.3 3,0.7 3,1.0 3,1.8 3,1.1 3,0.9 3,1.5 3,1.0 3,1.1 3,1.8 3,1.6 3,1.5 3,1.5 3,1.4 3,1.5 3,1.1 3,1.2 3,1.5 3,1.5 3,1.5 3,1.5 3,1.4 3,1.5 3,1.4 3,1.5 3,1.4 3,1.2 3,1.2 3,1.1 3,1.1 3,1.4 3,1.5 3,1.5 3,1.7 3,1.8 3,1.8 3,2.0 3,2.0 3,2.1 3,2.8 3,2.8 3,3.0 3,3.2 3,3.3 3,3.3 3,3.0 3,2.7 3,2.5 3,2.5 3,2.4 3,2.0 3,1.9 3,1.7 3,1.4 3,1.2 3,1.1 3,2.3"/>
<path d="M218.3,74.4l3,1.2 3,0.6 3,1.0 3,1.7 3,1.3 3,1.0 3,1.7 3,1.1 3,1.1 3,1.7 3,1.6 3,1.5 3,1.5 3,1.7 3,1.6 3,1.3 3,1.2 3,1.4 3,1.5 3,1.4 3,1.6 3,1.6 3,1.6 3,1.6 3,1.5 3,1.3 3,1.1 3,1.1 3,1.2 3,1.3 3,1.6 3,1.6 3,1.5 3,1.8 3,1.7 3,1.7 3,2.1 3,2.1 3,2.2 3,3.0 3,2.9 3,2.9 3,3.2 3,3.2 3,3.3 3,3.1 3,2.8 3,2.7 3,2.5 3,2.3 3,1.9 3,1.8 3,1.6 3,1.4 3,1.3 3,1.2 3,2.3"/>
<path d="M218.3,72.8l3,1.3 3,1.0 3,1.4 3,2.0 3,1.3 3,0.9 3,1.3 3,1.0 3,1.1 3,2.0 3,1.9 3,1.9 3,1.6 3,1.5 3,1.3 3,1.0 3,1.2 3,1.7 3,1.8 3,1.8 3,1.7 3,1.5 3,1.4 3,1.3 3,1.4 3,1.6 3,1.4 3,1.5 3,1.4 3,1.2 3,1.3 3,1.4 3,1.4 3,1.8 3,2.1 3,2.1 3,2.3 3,2.2 3,1.9 3,2.7 3,2.8 3,3.0 3,3.4 3,3.6 3,3.6 3,3.1 3,2.5 3,2.4 3,2.3 3,2.3 3,2.0 3,2.0 3,1.7 3,1.3 3,1.1 3,0.9 3,2.0"/>
<path d="M218.3,75.3l3,1.3 3,1.0 3,1.4 3,2.0 3,1.1 3,0.8 3,1.1 3,0.8 3,1.1 3,2.0 3,1.9 3,1.8 3,1.6 3,1.3 3,1.1 3,0.8 3,1.2 3,1.6 3,1.8 3,1.8 3,1.6 3,1.4 3,1.1 3,1.1 3,1.4 3,1.5 3,1.5 3,1.5 3,1.3 3,1.1 3,1.1 3,1.1 3,1.3 3,1.9 3,2.0 3,2.2 3,2.2 3,2.0 3,1.8 3,2.4 3,2.7 3,2.9 3,3.5 3,3.6 3,3.6 3,3.0 3,2.4 3,2.2 3,2.2 3,2.3 3,2.1 3,2.1 3,1.9 3,1.3 3,1.0 3,0.8 3,2.0"/>
<path d="M218.3,75.9l3,1.1 3,0.5 3,0.9 3,1.7 3,1.3 3,1.2 3,1.7 3,1.1 3,1.1 3,1.6 3,1.4 3,1.5 3,1.6 3,1.8 3,1.6 3,1.3 3,1.2 3,1.3 3,1.3 3,1.4 3,1.5 3,1.7 3,1.7 3,1.6 3,1.5 3,1.2 3,1.0 3,1.0 3,1.3 3,1.3 3,1.7 3,1.7 3,1.5 3,1.6 3,1.6 3,1.6 3,2.1 3,2.2 3,2.3 3,3.0 3,2.9 3,2.8 3,3.0 3,3.1 3,3.3 3,3.1 3,2.9 3,2.7 3,2.5 3,2.2 3,1.7 3,1.6 3,1.6 3,1.3 3,1.3 3,1.3 3,2.2"/>
<path d="M218.3,73.6l3,1.7 3,1.1 3,1.4 3,1.9 3,1.2 3,0.9 3,1.3 3,1.0 3,1.0 3,1.7 3,1.6 3,1.4 3,1.4 3,1.4 3,1.5 3,1.3 3,1.6 3,1.9 3,1.9 3,1.9 3,1.8 3,1.6 3,1.6 3,1.5 3,1.5 3,1.5 3,1.2 3,1.0 3,1.0 3,0.9 3,1.2 3,1.4 3,1.6 3,1.9 3,2.1 3,2.1 3,2.3 3,2.4 3,2.2 3,3.1 3,3.2 3,3.2 3,3.4 3,3.4 3,3.2 3,2.8 3,2.4 3,2.2 3,2.3 3,2.2 3,1.9 3,1.7 3,1.6 3,1.3 3,1.2 3,1.2 3,2.3"/>
<path d="M218.3,77.9l3,1.1 3,0.7 3,0.9 3,1.7 3,1.0 3,0.9 3,1.4 3,0.9 3,1.0 3,1.7 3,1.6 3,1.6 3,1.6 3,1.5 3,1.6 3,1.1 3,1.2 3,1.5 3,1.4 3,1.5 3,1.5 3,1.4 3,1.4 3,1.3 3,1.2 3,1.3 3,1.0 3,1.2 3,1.1 3,1.2 3,1.5 3,1.5 3,1.5 3,1.7 3,1.8 3,1.9 3,2.1 3,2.1 3,2.0 3,2.7 3,2.7 3,2.8 3,3.0 3,3.2 3,3.2 3,3.0 3,2.6 3,2.5 3,2.4 3,2.3 3,1.9 3,1.9 3,1.7 3,1.3 3,1.2 3,1.2 3,2.1"/>
<path d="M218.3,75.4l3,1.5 3,1.0 3,1.2 3,1.7 3,0.9 3,0.8 3,1.3 3,1.2 3,1.4 3,2.1 3,1.9 3,1.6 3,1.3 3,1.3 3,1.3 3,1.3 3,1.4 3,1.8 3,1.8 3,1.5 3,1.3 3,1.2 3,1.3 3,1.4 3,1.7 3,1.7 3,1.4 3,1.3 3,1.1 3,1.0 3,1.3 3,1.4 3,1.8 3,2.0 3,2.1 3,2.0 3,1.9 3,1.8 3,1.9 3,2.7 3,2.9 3,3.2 3,3.5 3,3.4 3,3.3 3,2.7 3,2.5 3,2.4 3,2.5 3,2.5 3,2.1 3,1.9 3,1.5 3,1.0 3,0.9 3,1.0 3,2.1"/>
<path d="M218.3,74.4l3,1.7 3,1.0 3,1.1 3,1.6 3,1.0 3,1.1 3,1.8 3,1.4 3,1.3 3,1.8 3,1.3 3,1.1 3,1.1 3,1.4 3,1.7 3,1.6 3,1.7 3,1.8 3,1.6 3,1.4 3,1.5 3,1.6 3,1.9 3,1.9 3,2.0 3,1.6 3,1.0 3,0.8 3,0.7 3,0.9 3,1.5 3,1.7 3,1.9 3,1.9 3,1.8 3,1.7 3,1.9 3,2.1 3,2.3 3,3.4 3,3.5 3,3.4 3,3.4 3,3.1 3,3.0 3,2.7 3,2.6 3,2.7 3,2.6 3,2.4 3,1.8 3,1.4 3,1.3 3,1.0 3,1.2 3,1.3 3,2.5"/>
<path d="M218.3,76.4l3,1.3 3,0.9 3,1.3 3,1.9 3,1.1 3,0.8 3,1.4 3,1.2 3,1.4 3,2.2 3,2.0 3,1.6 3,1.4 3,1.3 3,1.1 3,0.9 3,1.2 3,1.6 3,1.6 3,1.5 3,1.3 3,1.3 3,1.3 3,1.4 3,1.6 3,1.8 3,1.6 3,1.5 3,1.3 3,1.1 3,1.2 3,1.4 3,1.4 3,1.9 3,1.9 3,1.8 3,1.9 3,1.8 3,1.7 3,2.5 3,2.8 3,3.1 3,3.6 3,3.6 3,3.5 3,3.0 3,2.6 3,2.5 3,2.5 3,2.4 3,2.1 3,1.9 3,1.6 3,1.0 3,0.9 3,0.8 3,1.9"/>
<path d="M218.3,76.3l3,1.5 3,0.8 3,0.9 3,1.6 3,1.1 3,1.1 3,1.7 3,1.4 3,1.3 3,1.8 3,1.4 3,1.3 3,1.3 3,1.5 3,1.7 3,1.5 3,1.4 3,1.6 3,1.4 3,1.3 3,1.4 3,1.6 3,1.7 3,1.8 3,1.8 3,1.5 3,1.1 3,0.9 3,1.0 3,1.1 3,1.6 3,1.7 3,1.7 3,1.9 3,1.7 3,1.6 3,1.9 3,2.0 3,2.3 3,3.1 3,3.2 3,3.2 3,3.2 3,3.1 3,3.2 3,2.9 3,2.7 3,2.8 3,2.6 3,2.5 3,1.8 3,1.6 3,1.4 3,1.2 3,1.1 3,1.3 3,2.5"/>
<path d="M218.3,78.4l3,0.9 3,0.2 3,0.8 3,1.8 3,1.5 3,1.5 3,1.7 3,1.0 3,0.6 3,1.2 3,1.2 3,1.6 3,1.9 3,2.1 3,2.0 3,1.3 3,0.9 3,1.0 3,1.2 3,1.5 3,1.9 3,2.0 3,1.9 3,1.5 3,1.1 3,0.7 3,0.7 3,0.9 3,1.4 3,1.7 3,2.0 3,1.7 3,1.3 3,1.3 3,1.4 3,1.7 3,2.3 3,2.7 3,2.6 3,3.1 3,2.7 3,2.4 3,2.6 3,2.9 3,3.4 3,3.3 3,3.1 3,2.8 3,2.3 3,1.8 3,1.4 3,1.5 3,1.7 3,1.6 3,1.5 3,1.4 3,2.2"/>
<path d="M218.3,79.4l3,1.9 3,1.1 3,0.7 3,1.0 3,0.4 3,0.7 3,1.8 3,1.7 3,1.9 3,2.1 3,1.3 3,0.7 3,0.6 3,1.0 3,1.6 3,1.8 3,1.9 3,1.9 3,1.3 3,0.8 3,0.6 3,1.0 3,1.5 3,2.1 3,2.2 3,2.0 3,1.1 3,0.5 3,0.3 3,0.5 3,1.3 3,2.0 3,2.2 3,2.3 3,1.8 3,1.2 3,1.2 3,1.3 3,1.9 3,3.2 3,3.6 3,3.6 3,3.4 3,2.8 3,2.5 3,2.2 3,2.3 3,2.8 3,2.9 3,2.8 3,1.9 3,1.4 3,0.8 3,0.5 3,0.7 3,1.2 3,2.5"/>
<path d="M218.3,77.6l3,1.2 3,0.7 3,1.0 3,1.9 3,1.4 3,1.2 3,1.8 3,1.3 3,1.1 3,1.8 3,1.5 3,1.4 3,1.4 3,1.5 3,1.5 3,1.1 3,1.0 3,1.3 3,1.3 3,1.4 3,1.6 3,1.7 3,1.8 3,1.7 3,1.6 3,1.5 3,1.2 3,1.2 3,1.2 3,1.3 3,1.5 3,1.5 3,1.4 3,1.5 3,1.5 3,1.6 3,1.9 3,2.1 3,2.2 3,2.9 3,3.0 3,3.0 3,3.2 3,3.4 3,3.4 3,3.2 3,2.9 3,2.7 3,2.4 3,2.1 3,1.7 3,1.5 3,1.4 3,1.1 3,1.1 3,1.1 3,2.1"/>
<path d="M218.3,76.7l3,1.4 3,1.1 3,1.5 3,2.2 3,1.3 3,0.8 3,1.2 3,0.8 3,1.1 3,2.0 3,2.0 3,1.8 3,1.6 3,1.3 3,1.1 3,0.8 3,1.1 3,1.8 3,1.9 3,2.0 3,1.8 3,1.4 3,1.3 3,1.2 3,1.3 3,1.6 3,1.6 3,1.6 3,1.4 3,1.1 3,1.0 3,1.1 3,1.3 3,1.8 3,2.1 3,2.2 3,2.4 3,2.1 3,1.9 3,2.5 3,2.7 3,3.1 3,3.6 3,3.7 3,3.7 3,3.1 3,2.4 3,2.1 3,2.1 3,2.2 3,2.1 3,2.0 3,1.9 3,1.2 3,1.0 3,0.8 3,2.0"/>
<path d="M218.3,78.8l3,1.2 3,0.7 3,1.1 3,1.7 3,1.2 3,1.1 3,1.6 3,1.3 3,1.2 3,1.8 3,1.6 3,1.4 3,1.4 3,1.5 3,1.4 3,1.2 3,1.2 3,1.4 3,1.4 3,1.4 3,1.4 3,1.5 3,1.6 3,1.6 3,1.7 3,1.5 3,1.2 3,1.2 3,1.2 3,1.1 3,1.5 3,1.5 3,1.5 3,1.7 3,1.7 3,1.6 3,1.9 3,2.0 3,2.1 3,2.9 3,2.9 3,3.1 3,3.2 3,3.3 3,3.4 3,3.0 3,2.8 3,2.6 3,2.6 3,2.3 3,1.9 3,1.7 3,1.5 3,1.1 3,1.1 3,1.1 3,2.2"/>
<path d="M218.3,78.3l3,1.4 3,0.7 3,0.9 3,1.7 3,1.2 3,1.3 3,2.0 3,1.6 3,1.4 3,1.8 3,1.4 3,1.2 3,1.1 3,1.4 3,1.5 3,1.3 3,1.2 3,1.3 3,1.2 3,1.2 3,1.4 3,1.6 3,1.9 3,2.0 3,2.0 3,1.6 3,1.2 3,1.0 3,1.1 3,1.1 3,1.5 3,1.7 3,1.6 3,1.6 3,1.4 3,1.3 3,1.7 3,1.9 3,2.1 3,3.2 3,3.3 3,3.2 3,3.4 3,3.2 3,3.2 3,3.1 3,2.9 3,2.8 3,2.7 3,2.3 3,1.7 3,1.3 3,1.1 3,0.9 3,1.0 3,1.2 3,2.3"/>
<path d="M218.3,79.9l3,1.3 3,0.8 3,1.2 3,1.8 3,1.1 3,0.9 3,1.3 3,1.0 3,1.1 3,1.8 3,1.7 3,1.5 3,1.5 3,1.3 3,1.4 3,1.1 3,1.2 3,1.6 3,1.6 3,1.5 3,1.5 3,1.5 3,1.3 3,1.4 3,1.4 3,1.4 3,1.3 3,1.2 3,1.2 3,1.0 3,1.3 3,1.4 3,1.4 3,1.8 3,1.8 3,1.9 3,2.1 3,2.0 3,2.0 3,2.7 3,2.9 3,2.9 3,3.3 3,3.3 3,3.4 3,2.9 3,2.5 3,2.4 3,2.3 3,2.3 3,2.0 3,1.8 3,1.7 3,1.2 3,1.1 3,1.0 3,2.1"/>
<path d="M218.3,80.5l3,1.1 3,0.9 3,1.3 3,2.0 3,1.4 3,1.1 3,1.4 3,1.0 3,0.9 3,1.8 3,1.6 3,1.5 3,1.4 3,1.3 3,1.1 3,0.8 3,0.9 3,1.4 3,1.5 3,1.7 3,1.7 3,1.6 3,1.5 3,1.4 3,1.5 3,1.4 3,1.3 3,1.4 3,1.2 3,1.1 3,1.2 3,1.1 3,1.1 3,1.5 3,1.6 3,1.8 3,2.1 3,2.1 3,2.0 3,2.7 3,2.8 3,2.9 3,3.4 3,3.6 3,3.5 3,3.2 3,2.6 3,2.3 3,2.2 3,2.0 3,1.7 3,1.7 3,1.6 3,1.2 3,1.0 3,0.9 3,2.0"/>
<path d="M218.3,80.9l3,1.3 3,0.5 3,0.7 3,1.3 3,0.8 3,0.8 3,1.5 3,1.4 3,1.4 3,2.1 3,1.7 3,1.6 3,1.6 3,1.6 3,1.7 3,1.4 3,1.4 3,1.5 3,1.3 3,1.0 3,1.0 3,1.1 3,1.2 3,1.5 3,1.5 3,1.5 3,1.2 3,1.1 3,1.1 3,1.3 3,1.7 3,1.9 3,1.9 3,2.1 3,1.9 3,1.6 3,1.7 3,1.7 3,1.8 3,2.7 3,2.8 3,2.8 3,3.1 3,2.9 3,3.0 3,2.8 3,2.7 3,2.7 3,2.7 3,2.6 3,2.0 3,1.6 3,1.4 3,1.0 3,0.9 3,1.0 3,2.1"/>
<path d="M218.3,79.0l3,1.3 3,1.2 3,1.5 3,2.0 3,1.1 3,0.6 3,1.1 3,0.9 3,1.2 3,2.3 3,2.1 3,2.0 3,1.5 3,1.3 3,1.0 3,0.8 3,1.2 3,1.8 3,1.9 3,1.8 3,1.5 3,1.2 3,1.0 3,1.1 3,1.4 3,1.8 3,1.7 3,1.7 3,1.4 3,1.0 3,1.1 3,1.1 3,1.4 3,2.0 3,2.2 3,2.2 3,2.2 3,1.9 3,1.6 3,2.3 3,2.6 3,3.1 3,3.6 3,3.8 3,3.6 3,3.0 3,2.3 3,2.1 3,2.3 3,2.3 3,2.3 3,2.1 3,1.8 3,1.1 3,0.8 3,0.7 3,1.9"/>
<path d="M218.3,79.3l3,1.0 3,0.6 3,1.4 3,2.5 3,1.8 3,1.5 3,1.5 3,0.6 3,0.6 3,1.3 3,1.5 3,1.8 3,1.8 3,1.8 3,1.4 3,0.8 3,0.7 3,1.1 3,1.6 3,2.0 3,2.3 3,2.2 3,1.8 3,1.3 3,1.1 3,1.0 3,1.0 3,1.4 3,1.6 3,1.6 3,1.4 3,1.1 3,0.9 3,1.1 3,1.5 3,2.0 3,2.7 3,2.7 3,2.5 3,2.9 3,2.6 3,2.6 3,3.1 3,3.5 3,3.8 3,3.5 3,2.8 3,2.3 3,1.8 3,1.5 3,1.4 3,1.5 3,1.7 3,1.5 3,1.2 3,1.1 3,1.8"/>
<path d="M218.3,80.7l3,1.3 3,0.8 3,1.3 3,2.0 3,1.3 3,1.0 3,1.4 3,0.9 3,1.1 3,1.8 3,1.7 3,1.7 3,1.5 3,1.4 3,1.3 3,0.9 3,1.0 3,1.5 3,1.6 3,1.7 3,1.6 3,1.6 3,1.4 3,1.3 3,1.4 3,1.4 3,1.3 3,1.4 3,1.3 3,1.2 3,1.3 3,1.3 3,1.2 3,1.6 3,1.8 3,1.9 3,2.2 3,2.1 3,2.0 3,2.7 3,2.7 3,2.9 3,3.3 3,3.5 3,3.5 3,3.0 3,2.6 3,2.3 3,2.1 3,2.1 3,1.7 3,1.7 3,1.5 3,1.2 3,0.9 3,0.9 3,1.9"/>
<path d="M218.3,82.5l3,1.2 3,0.8 3,1.0 3,1.8 3,1.1 3,1.0 3,1.4 3,1.1 3,1.0 3,1.7 3,1.5 3,1.5 3,1.5 3,1.5 3,1.4 3,1.1 3,1.2 3,1.4 3,1.4 3,1.5 3,1.5 3,1.4 3,1.5 3,1.4 3,1.4 3,1.3 3,1.1 3,1.1 3,1.1 3,1.2 3,1.4 3,1.4 3,1.4 3,1.7 3,1.7 3,1.7 3,2.1 3,2.0 3,2.0 3,2.8 3,2.8 3,2.9 3,3.1 3,3.2 3,3.2 3,2.9 3,2.6 3,2.4 3,2.3 3,2.0 3,1.8 3,1.5 3,1.4 3,1.2 3,1.0 3,1.0 3,2.0"/>
<path d="M218.3,82.0l3,1.2 3,0.9 3,1.6 3,2.4 3,1.6 3,1.1 3,1.3 3,0.6 3,0.7 3,1.5 3,1.7 3,1.7 3,1.5 3,1.3 3,1.0 3,0.5 3,0.7 3,1.3 3,1.7 3,2.1 3,2.0 3,1.8 3,1.5 3,1.2 3,1.2 3,1.2 3,1.3 3,1.5 3,1.5 3,1.1 3,1.0 3,0.8 3,0.7 3,1.3 3,1.7 3,2.0 3,2.4 3,2.3 3,2.1 3,2.6 3,2.6 3,2.8 3,3.4 3,3.7 3,3.8 3,3.2 3,2.5 3,2.0 3,1.7 3,1.7 3,1.5 3,1.7 3,1.6 3,1.3 3,1.0 3,0.8 3,1.8"/>
<path d="M218.3,80.0l3,1.1 3,0.7 3,1.0 3,1.7 3,1.2 3,1.0 3,1.5 3,1.3 3,1.4 3,2.1 3,1.9 3,1.9 3,1.7 3,1.6 3,1.5 3,1.2 3,1.1 3,1.4 3,1.5 3,1.4 3,1.3 3,1.4 3,1.3 3,1.4 3,1.5 3,1.6 3,1.4 3,1.5 3,1.5 3,1.4 3,1.7 3,1.6 3,1.7 3,1.8 3,1.9 3,1.8 3,2.0 3,1.9 3,1.8 3,2.6 3,2.7 3,2.9 3,3.3 3,3.3 3,3.5 3,3.1 3,2.8 3,2.6 3,2.5 3,2.4 3,1.9 3,1.7 3,1.5 3,1.0 3,0.9 3,0.9 3,1.9"/>
<path d="M218.3,81.9l3,0.8 3,0.5 3,1.2 3,2.3 3,1.8 3,1.5 3,1.6 3,0.7 3,0.5 3,1.3 3,1.6 3,1.9 3,2.1 3,1.9 3,1.4 3,0.7 3,0.5 3,0.9 3,1.4 3,1.8 3,2.1 3,2.1 3,1.6 3,1.2 3,1.0 3,0.8 3,1.0 3,1.5 3,1.8 3,1.7 3,1.6 3,1.2 3,0.9 3,1.0 3,1.4 3,1.9 3,2.5 3,2.6 3,2.4 3,2.7 3,2.3 3,2.3 3,2.9 3,3.4 3,3.7 3,3.5 3,2.8 3,2.2 3,1.7 3,1.5 3,1.2 3,1.4 3,1.4 3,1.2 3,1.1 3,0.9 3,1.7"/>
<path d="M218.3,82.8l3,1.4 3,0.8 3,1.0 3,1.6 3,1.0 3,0.8 3,1.2 3,0.9 3,0.9 3,1.6 3,1.5 3,1.6 3,1.5 3,1.7 3,1.7 3,1.4 3,1.5 3,1.7 3,1.7 3,1.6 3,1.5 3,1.5 3,1.4 3,1.3 3,1.2 3,1.2 3,0.9 3,0.9 3,1.1 3,1.0 3,1.5 3,1.6 3,1.6 3,2.0 3,2.0 3,2.0 3,2.3 3,2.3 3,2.2 3,2.9 3,2.8 3,2.8 3,3.0 3,3.1 3,3.0 3,2.8 3,2.4 3,2.4 3,2.3 3,2.3 3,1.9 3,1.8 3,1.7 3,1.4 3,1.3 3,1.2 3,2.3"/>
<path d="M218.3,80.4l3,1.3 3,0.8 3,1.2 3,1.8 3,1.3 3,1.1 3,1.6 3,1.2 3,1.2 3,2.0 3,1.7 3,1.6 3,1.6 3,1.5 3,1.5 3,1.2 3,1.2 3,1.5 3,1.5 3,1.5 3,1.5 3,1.6 3,1.5 3,1.6 3,1.6 3,1.5 3,1.3 3,1.3 3,1.3 3,1.3 3,1.5 3,1.5 3,1.6 3,1.8 3,1.8 3,1.8 3,2.0 3,2.1 3,2.0 3,2.9 3,2.9 3,2.9 3,3.3 3,3.3 3,3.4 3,3.0 3,2.6 3,2.4 3,2.2 3,2.1 3,1.6 3,1.4 3,1.2 3,0.9 3,0.9 3,0.9 3,1.9"/>
<path d="M218.3,84.0l3,1.4 3,0.8 3,1.2 3,1.9 3,1.3 3,1.0 3,1.6 3,1.0 3,1.0 3,1.6 3,1.4 3,1.4 3,1.3 3,1.3 3,1.3 3,1.0 3,1.1 3,1.4 3,1.5 3,1.5 3,1.6 3,1.6 3,1.6 3,1.6 3,1.5 3,1.3 3,1.1 3,1.1 3,1.1 3,1.0 3,1.2 3,1.3 3,1.3 3,1.5 3,1.6 3,1.7 3,2.0 3,2.1 3,2.1 3,2.9 3,2.9 3,3.0 3,3.3 3,3.2 3,3.3 3,2.9 3,2.5 3,2.4 3,2.1 3,1.9 3,1.6 3,1.4 3,1.3 3,1.0 3,1.0 3,1.0 3,2.0"/>
<path d="M218.3,81.2l3,1.3 3,1.0 3,1.3 3,2.0 3,1.3 3,1.0 3,1.5 3,1.0 3,1.2 3,1.8 3,1.8 3,1.7 3,1.6 3,1.5 3,1.4 3,1.0 3,1.2 3,1.5 3,1.6 3,1.7 3,1.7 3,1.6 3,1.4 3,1.4 3,1.5 3,1.4 3,1.4 3,1.4 3,1.3 3,1.3 3,1.3 3,1.4 3,1.4 3,1.7 3,1.9 3,1.9 3,2.2 3,2.1 3,2.1 3,2.7 3,2.8 3,2.9 3,3.3 3,3.5 3,3.3 3,3.0 3,2.4 3,2.2 3,2.0 3,1.8 3,1.5 3,1.4 3,1.2 3,0.9 3,0.8 3,0.8 3,1.8"/>
<path d="M218.3,82.8l3,1.4 3,0.9 3,0.9 3,1.6 3,1.0 3,0.9 3,1.6 3,1.4 3,1.3 3,2.0 3,1.6 3,1.4 3,1.4 3,1.4 3,1.5 3,1.4 3,1.4 3,1.6 3,1.5 3,1.3 3,1.2 3,1.4 3,1.4 3,1.6 3,1.7 3,1.6 3,1.2 3,1.1 3,1.1 3,1.1 3,1.4 3,1.7 3,1.8 3,1.9 3,1.8 3,1.7 3,1.8 3,1.9 3,1.9 3,2.9 3,3.1 3,3.0 3,3.3 3,3.2 3,3.0 3,2.8 3,2.6 3,2.5 3,2.5 3,2.3 3,1.7 3,1.5 3,1.2 3,0.9 3,0.9 3,1.0 3,2.0"/>
<path d="M218.3,82.2l3,1.6 3,1.0 3,1.2 3,1.8 3,1.1 3,0.8 3,1.3 3,0.8 3,0.9 3,1.6 3,1.4 3,1.5 3,1.5 3,1.7 3,1.7 3,1.5 3,1.6 3,1.9 3,1.9 3,1.8 3,1.7 3,1.7 3,1.5 3,1.4 3,1.3 3,1.2 3,0.9 3,0.9 3,0.9 3,1.0 3,1.4 3,1.5 3,1.7 3,2.0 3,2.1 3,2.2 3,2.4 3,2.4 3,2.4 3,3.0 3,3.1 3,2.9 3,3.2 3,3.0 3,3.1 3,2.6 3,2.3 3,2.2 3,2.1 3,2.0 3,1.7 3,1.7 3,1.4 3,1.2 3,1.2 3,1.1 3,2.1"/>
<path d="M218.3,81.6l3,1.1 3,0.9 3,1.2 3,2.0 3,1.3 3,0.9 3,1.3 3,1.0 3,1.2 3,2.1 3,2.1 3,1.9 3,1.8 3,1.6 3,1.3 3,1.0 3,1.2 3,1.5 3,1.7 3,1.7 3,1.6 3,1.4 3,1.3 3,1.2 3,1.3 3,1.6 3,1.5 3,1.6 3,1.5 3,1.4 3,1.4 3,1.5 3,1.4 3,1.9 3,2.0 3,2.1 3,2.2 3,2.1 3,1.9 3,2.5 3,2.6 3,2.8 3,3.4 3,3.5 3,3.6 3,3.1 3,2.6 3,2.4 3,2.3 3,2.1 3,2.0 3,1.8 3,1.5 3,1.1 3,0.9 3,0.9 3,1.8"/>
<path d="M218.3,84.8l3,1.5 3,0.9 3,1.1 3,1.8 3,1.2 3,0.9 3,1.5 3,1.0 3,1.0 3,1.7 3,1.5 3,1.4 3,1.4 3,1.5 3,1.4 3,1.2 3,1.3 3,1.5 3,1.6 3,1.5 3,1.5 3,1.5 3,1.5 3,1.4 3,1.4 3,1.3 3,1.1 3,1.0 3,1.0 3,1.1 3,1.3 3,1.4 3,1.5 3,1.7 3,1.8 3,1.8 3,2.1 3,2.1 3,2.1 3,2.9 3,2.8 3,2.9 3,3.2 3,3.1 3,3.1 3,2.7 3,2.3 3,2.2 3,2.1 3,1.9 3,1.5 3,1.4 3,1.1 3,1.0 3,0.9 3,0.9 3,2.0"/>
<path d="M218.3,84.1l3,1.3 3,0.4 3,0.6 3,1.5 3,1.1 3,1.3 3,1.9 3,1.5 3,1.2 3,1.5 3,1.2 3,1.3 3,1.5 3,1.9 3,2.0 3,1.7 3,1.4 3,1.3 3,1.1 3,1.1 3,1.4 3,1.7 3,1.9 3,1.8 3,1.6 3,1.2 3,0.8 3,0.7 3,1.1 3,1.3 3,2.0 3,2.0 3,1.9 3,1.7 3,1.5 3,1.4 3,1.9 3,2.2 3,2.4 3,3.3 3,3.2 3,2.8 3,2.8 3,2.7 3,3.0 3,2.9 3,2.9 3,2.9 3,2.6 3,2.1 3,1.5 3,1.2 3,1.2 3,1.1 3,1.1 3,1.3 3,2.1"/>
<path d="M218.3,80.9l3,1.5 3,1.1 3,1.4 3,2.2 3,1.6 3,1.3 3,1.7 3,1.2 3,1.1 3,1.8 3,1.5 3,1.5 3,1.4 3,1.4 3,1.4 3,1.0 3,1.2 3,1.5 3,1.7 3,1.8 3,1.9 3,1.9 3,1.8 3,1.7 3,1.7 3,1.6 3,1.3 3,1.3 3,1.3 3,1.1 3,1.4 3,1.3 3,1.3 3,1.5 3,1.7 3,1.8 3,2.2 3,2.3 3,2.3 3,3.1 3,3.1 3,3.2 3,3.4 3,3.5 3,3.4 3,3.0 3,2.4 3,2.2 3,1.8 3,1.6 3,1.3 3,1.1 3,1.0 3,0.8 3,0.8 3,0.9 3,1.8"/>
<path d="M218.3,85.7l3,0.9 3,0.3 3,0.7 3,1.8 3,1.5 3,1.4 3,1.7 3,1.1 3,0.9 3,1.4 3,1.3 3,1.7 3,1.9 3,2.0 3,1.8 3,1.2 3,0.9 3,1.0 3,1.1 3,1.3 3,1.7 3,1.8 3,1.8 3,1.5 3,1.2 3,0.9 3,0.8 3,1.1 3,1.5 3,1.6 3,1.9 3,1.8 3,1.3 3,1.4 3,1.4 3,1.6 3,2.1 3,2.4 3,2.4 3,2.9 3,2.7 3,2.4 3,2.7 3,2.9 3,3.3 3,3.3 3,3.0 3,2.7 3,2.2 3,1.8 3,1.3 3,1.4 3,1.3 3,1.2 3,1.2 3,1.0 3,1.9"/>
<path d="M218.3,85.9l3,1.2 3,0.8 3,1.1 3,1.9 3,1.3 3,1.1 3,1.6 3,1.0 3,0.8 3,1.5 3,1.4 3,1.5 3,1.5 3,1.6 3,1.5 3,1.2 3,1.2 3,1.3 3,1.5 3,1.5 3,1.7 3,1.7 3,1.7 3,1.5 3,1.3 3,1.1 3,1.0 3,1.0 3,1.2 3,1.2 3,1.4 3,1.4 3,1.4 3,1.5 3,1.7 3,1.7 3,2.2 3,2.3 3,2.3 3,2.9 3,2.9 3,2.7 3,3.1 3,3.1 3,3.2 3,2.9 3,2.5 3,2.3 3,2.1 3,1.7 3,1.5 3,1.3 3,1.3 3,1.0 3,1.0 3,1.0 3,2.0"/>
<path d="M218.3,85.0l3,1.1 3,0.8 3,1.5 3,2.4 3,1.6 3,1.1 3,1.2 3,0.5 3,0.5 3,1.5 3,1.8 3,1.9 3,1.9 3,1.7 3,1.3 3,0.7 3,0.8 3,1.4 3,1.7 3,2.1 3,2.2 3,1.8 3,1.4 3,1.0 3,0.9 3,1.0 3,1.2 3,1.5 3,1.6 3,1.4 3,1.2 3,1.1 3,0.9 3,1.3 3,1.9 3,2.2 3,2.7 3,2.6 3,2.2 3,2.5 3,2.4 3,2.5 3,3.2 3,3.5 3,3.6 3,3.2 3,2.4 3,1.9 3,1.7 3,1.5 3,1.4 3,1.6 3,1.6 3,1.2 3,0.9 3,0.9 3,1.7"/>
<path d="M218.3,86.2l3,1.5 3,1.1 3,1.5 3,2.0 3,1.3 3,1.0 3,1.4 3,1.1 3,1.1 3,1.9 3,1.6 3,1.4 3,1.2 3,1.1 3,0.9 3,0.9 3,1.0 3,1.6 3,1.6 3,1.7 3,1.6 3,1.5 3,1.4 3,1.4 3,1.6 3,1.7 3,1.4 3,1.3 3,1.0 3,0.9 3,1.0 3,1.0 3,1.2 3,1.6 3,1.7 3,1.8 3,2.0 3,1.9 3,1.8 3,2.8 3,2.9 3,3.1 3,3.5 3,3.6 3,3.3 3,2.8 3,2.2 3,2.1 3,1.9 3,1.8 3,1.5 3,1.3 3,1.1 3,0.8 3,0.7 3,0.8 3,1.9"/>
<path d="M218.3,82.9l3,1.5 3,1.2 3,1.5 3,2.0 3,1.3 3,1.0 3,1.4 3,1.0 3,1.2 3,1.9 3,1.9 3,1.7 3,1.5 3,1.3 3,1.3 3,1.1 3,1.3 3,1.7 3,1.9 3,1.8 3,1.8 3,1.5 3,1.4 3,1.4 3,1.6 3,1.6 3,1.4 3,1.4 3,1.3 3,1.0 3,1.2 3,1.3 3,1.5 3,1.8 3,2.1 3,2.0 3,2.3 3,2.1 3,2.0 3,2.8 3,2.9 3,3.1 3,3.5 3,3.4 3,3.3 3,2.7 3,2.2 3,2.0 3,1.8 3,1.7 3,1.4 3,1.3 3,1.0 3,0.8 3,0.7 3,0.7 3,1.8"/>
<path d="M218.3,87.6l3,0.6 3,0.6 3,1.5 3,2.3 3,1.6 3,1.0 3,1.1 3,0.4 3,0.6 3,1.9 3,2.1 3,2.4 3,2.2 3,1.7 3,1.0 3,0.3 3,0.4 3,1.1 3,1.6 3,2.0 3,2.0 3,1.5 3,1.0 3,0.6 3,0.7 3,1.1 3,1.5 3,2.0 3,2.0 3,1.6 3,1.4 3,0.9 3,0.7 3,1.3 3,1.9 3,2.3 3,2.5 3,2.3 3,1.7 3,2.0 3,1.9 3,2.3 3,3.1 3,3.7 3,4.0 3,3.5 3,2.6 3,2.0 3,1.7 3,1.7 3,1.8 3,1.9 3,1.8 3,1.3 3,0.9 3,0.6 3,1.5"/>
<path d="M218.3,86.8l3,1.3 3,0.9 3,1.1 3,2.0 3,1.3 3,1.2 3,1.5 3,1.0 3,0.9 3,1.7 3,1.6 3,1.7 3,1.6 3,1.7 3,1.4 3,1.0 3,1.0 3,1.3 3,1.4 3,1.5 3,1.7 3,1.5 3,1.5 3,1.3 3,1.2 3,1.1 3,1.1 3,1.2 3,1.4 3,1.3 3,1.5 3,1.4 3,1.3 3,1.5 3,1.7 3,1.8 3,2.1 3,2.2 3,2.0 3,2.7 3,2.6 3,2.6 3,3.0 3,3.1 3,3.2 3,2.9 3,2.4 3,2.1 3,1.7 3,1.6 3,1.3 3,1.2 3,1.0 3,0.9 3,0.7 3,0.8 3,1.8"/>
<path d="M218.3,86.3l3,1.2 3,0.5 3,1.0 3,1.8 3,1.4 3,1.2 3,1.7 3,1.0 3,0.9 3,1.5 3,1.6 3,1.6 3,1.8 3,1.9 3,1.7 3,1.3 3,1.1 3,1.3 3,1.3 3,1.5 3,1.7 3,1.7 3,1.7 3,1.4 3,1.2 3,1.1 3,1.0 3,1.1 3,1.4 3,1.5 3,1.7 3,1.6 3,1.5 3,1.6 3,1.6 3,1.8 3,2.3 3,2.3 3,2.3 3,2.9 3,2.7 3,2.6 3,2.9 3,3.1 3,3.2 3,3.1 3,2.6 3,2.5 3,2.0 3,1.8 3,1.4 3,1.3 3,1.3 3,1.0 3,1.0 3,1.0 3,1.8"/>
<path d="M218.3,88.0l3,1.6 3,1.2 3,1.6 3,2.1 3,1.4 3,0.9 3,1.3 3,0.9 3,1.0 3,1.8 3,1.7 3,1.4 3,1.3 3,1.1 3,0.9 3,0.8 3,1.0 3,1.6 3,1.8 3,1.7 3,1.7 3,1.5 3,1.3 3,1.2 3,1.4 3,1.5 3,1.4 3,1.2 3,1.1 3,0.8 3,0.9 3,1.0 3,1.1 3,1.5 3,1.9 3,1.9 3,2.1 3,1.9 3,1.9 3,2.6 3,2.8 3,3.0 3,3.4 3,3.5 3,3.2 3,2.7 3,2.0 3,1.8 3,1.7 3,1.6 3,1.4 3,1.2 3,1.1 3,0.8 3,0.7 3,0.7 3,1.8"/>
<path d="M218.3,87.2l3,1.3 3,0.8 3,1.0 3,1.7 3,1.4 3,1.3 3,1.8 3,1.3 3,1.2 3,1.6 3,1.4 3,1.4 3,1.6 3,1.7 3,1.6 3,1.2 3,1.1 3,1.2 3,1.1 3,1.3 3,1.4 3,1.7 3,1.7 3,1.6 3,1.5 3,1.2 3,1.0 3,1.0 3,1.2 3,1.4 3,1.7 3,1.6 3,1.5 3,1.5 3,1.4 3,1.5 3,1.9 3,2.1 3,2.2 3,2.9 3,2.8 3,2.7 3,2.9 3,2.9 3,3.1 3,2.8 3,2.5 3,2.2 3,1.9 3,1.6 3,1.1 3,0.9 3,0.9 3,0.7 3,0.8 3,0.8 3,1.8"/>
<path d="M218.3,86.9l3,1.0 3,0.4 3,0.9 3,1.9 3,1.6 3,1.7 3,2.0 3,1.3 3,0.8 3,1.3 3,1.3 3,1.6 3,1.9 3,2.0 3,1.9 3,1.2 3,0.8 3,0.9 3,0.9 3,1.3 3,1.8 3,2.1 3,2.0 3,1.6 3,1.3 3,1.0 3,0.7 3,1.1 3,1.5 3,1.8 3,2.0 3,1.7 3,1.3 3,1.2 3,1.2 3,1.4 3,2.1 3,2.5 3,2.5 3,3.1 3,2.7 3,2.5 3,2.6 3,2.9 3,3.3 3,3.2 3,2.8 3,2.4 3,1.9 3,1.3 3,1.0 3,0.9 3,1.0 3,0.9 3,0.9 3,0.9 3,1.7"/>
<path d="M218.3,84.7l3,1.5 3,1.2 3,1.6 3,2.2 3,1.5 3,1.1 3,1.6 3,1.2 3,1.3 3,1.9 3,1.8 3,1.5 3,1.3 3,1.2 3,1.0 3,0.9 3,1.2 3,1.6 3,1.7 3,1.8 3,1.8 3,1.7 3,1.6 3,1.6 3,1.8 3,1.8 3,1.6 3,1.4 3,1.3 3,1.0 3,1.1 3,1.1 3,1.3 3,1.6 3,1.8 3,1.9 3,2.1 3,2.0 3,2.0 3,2.9 3,3.1 3,3.3 3,3.7 3,3.6 3,3.5 3,3.0 3,2.3 3,2.1 3,2.0 3,1.7 3,1.5 3,1.2 3,1.1 3,0.8 3,0.7 3,0.8 3,1.8"/>
<path d="M218.3,86.5l3,1.1 3,0.5 3,0.8 3,1.7 3,1.2 3,1.2 3,1.7 3,1.3 3,1.2 3,1.8 3,1.7 3,1.7 3,1.8 3,2.0 3,1.8 3,1.5 3,1.2 3,1.3 3,1.3 3,1.3 3,1.5 3,1.6 3,1.6 3,1.5 3,1.4 3,1.3 3,1.1 3,1.2 3,1.4 3,1.6 3,1.9 3,1.9 3,1.7 3,1.8 3,1.7 3,1.8 3,2.0 3,2.2 3,2.2 3,2.9 3,2.8 3,2.7 3,2.9 3,3.0 3,3.2 3,3.1 3,2.8 3,2.6 3,2.3 3,2.0 3,1.5 3,1.3 3,1.2 3,0.9 3,1.0 3,0.9 3,1.9"/>
<path d="M218.3,85.8l3,1.5 3,1.0 3,1.3 3,1.8 3,1.3 3,1.2 3,1.6 3,1.2 3,1.2 3,1.9 3,1.6 3,1.5 3,1.5 3,1.5 3,1.6 3,1.3 3,1.3 3,1.6 3,1.6 3,1.5 3,1.6 3,1.7 3,1.6 3,1.6 3,1.6 3,1.4 3,1.2 3,1.2 3,1.2 3,1.2 3,1.4 3,1.6 3,1.6 3,1.8 3,1.8 3,1.8 3,2.1 3,2.1 3,2.2 3,2.9 3,3.0 3,3.0 3,3.2 3,3.1 3,3.1 3,2.6 3,2.2 3,2.1 3,1.7 3,1.5 3,1.2 3,1.0 3,0.9 3,0.7 3,0.6 3,0.8 3,1.8"/>
<path d="M218.3,89.1l3,1.2 3,0.7 3,0.8 3,1.7 3,1.2 3,1.2 3,1.8 3,1.4 3,1.3 3,1.8 3,1.5 3,1.5 3,1.6 3,1.7 3,1.6 3,1.3 3,1.0 3,1.2 3,1.0 3,1.1 3,1.3 3,1.5 3,1.5 3,1.6 3,1.5 3,1.3 3,1.1 3,1.1 3,1.3 3,1.4 3,1.8 3,1.7 3,1.6 3,1.6 3,1.5 3,1.4 3,1.8 3,1.9 3,2.0 3,2.8 3,2.7 3,2.7 3,2.9 3,3.0 3,3.1 3,2.9 3,2.6 3,2.4 3,2.1 3,1.8 3,1.3 3,1.0 3,1.0 3,0.7 3,0.8 3,0.8 3,1.8"/>
<path d="M218.3,87.8l3,1.5 3,0.9 3,1.0 3,1.7 3,1.2 3,1.0 3,1.5 3,1.2 3,1.2 3,1.9 3,1.7 3,1.7 3,1.6 3,1.7 3,1.6 3,1.4 3,1.3 3,1.5 3,1.5 3,1.4 3,1.4 3,1.4 3,1.4 3,1.3 3,1.5 3,1.3 3,1.1 3,1.2 3,1.2 3,1.3 3,1.6 3,1.7 3,1.7 3,1.9 3,1.9 3,1.8 3,2.0 3,2.0 3,2.0 3,2.8 3,2.7 3,2.8 3,3.0 3,3.0 3,2.9 3,2.6 3,2.3 3,2.1 3,1.8 3,1.7 3,1.2 3,1.1 3,0.8 3,0.7 3,0.7 3,0.8 3,1.7"/>
<path d="M218.3,88.3l3,1.4 3,0.9 3,1.2 3,2.0 3,1.3 3,1.1 3,1.7 3,1.1 3,1.3 3,1.9 3,1.7 3,1.6 3,1.6 3,1.4 3,1.3 3,1.0 3,1.0 3,1.4 3,1.4 3,1.5 3,1.5 3,1.5 3,1.5 3,1.4 3,1.6 3,1.5 3,1.3 3,1.4 3,1.3 3,1.3 3,1.4 3,1.4 3,1.3 3,1.6 3,1.7 3,1.7 3,2.0 3,1.9 3,2.0 3,2.7 3,2.8 3,2.8 3,3.3 3,3.3 3,3.3 3,2.8 3,2.4 3,2.1 3,1.9 3,1.7 3,1.3 3,1.1 3,1.0 3,0.7 3,0.7 3,0.7 3,1.8"/>
<path d="M218.3,88.6l3,1.8 3,1.4 3,1.5 3,1.8 3,1.1 3,0.7 3,1.3 3,1.1 3,1.3 3,2.0 3,1.8 3,1.5 3,1.2 3,1.1 3,1.1 3,1.1 3,1.5 3,1.9 3,1.9 3,1.6 3,1.5 3,1.2 3,1.2 3,1.4 3,1.6 3,1.7 3,1.5 3,1.2 3,0.9 3,0.7 3,1.0 3,1.2 3,1.6 3,2.0 3,2.1 3,2.0 3,2.0 3,1.8 3,1.8 3,2.7 3,2.9 3,3.3 3,3.5 3,3.3 3,3.0 3,2.3 3,1.9 3,1.9 3,1.8 3,1.8 3,1.4 3,1.2 3,0.9 3,0.7 3,0.6 3,0.7 3,1.8"/>
<path d="M218.3,88.3l3,1.8 3,1.1 3,1.1 3,1.7 3,1.1 3,0.9 3,1.7 3,1.3 3,1.4 3,1.8 3,1.6 3,1.3 3,1.3 3,1.5 3,1.6 3,1.4 3,1.6 3,1.7 3,1.5 3,1.3 3,1.3 3,1.4 3,1.5 3,1.7 3,1.7 3,1.5 3,1.1 3,0.9 3,1.0 3,0.9 3,1.5 3,1.6 3,1.8 3,2.0 3,1.9 3,1.7 3,1.8 3,1.9 3,2.1 3,2.9 3,3.1 3,3.1 3,3.1 3,2.9 3,2.7 3,2.4 3,2.1 3,2.0 3,1.8 3,1.5 3,1.2 3,0.9 3,0.8 3,0.6 3,0.7 3,0.7 3,1.8"/>
<path d="M218.3,88.2l3,1.2 3,0.8 3,1.0 3,1.8 3,1.4 3,1.3 3,1.7 3,1.2 3,1.0 3,1.7 3,1.6 3,1.6 3,1.8 3,1.9 3,1.8 3,1.3 3,1.2 3,1.3 3,1.3 3,1.5 3,1.6 3,1.7 3,1.7 3,1.5 3,1.4 3,1.2 3,1.0 3,1.2 3,1.3 3,1.5 3,1.8 3,1.7 3,1.6 3,1.6 3,1.7 3,1.7 3,2.2 3,2.2 3,2.3 3,2.9 3,2.8 3,2.7 3,2.9 3,3.0 3,3.0 3,2.9 3,2.4 3,2.2 3,1.7 3,1.5 3,1.1 3,1.0 3,0.9 3,0.8 3,0.7 3,0.8 3,1.7"/>
<path d="M218.3,89.5l3,1.5 3,1.0 3,1.3 3,1.9 3,1.4 3,1.2 3,1.7 3,1.2 3,1.2 3,1.7 3,1.6 3,1.4 3,1.4 3,1.5 3,1.4 3,1.1 3,1.2 3,1.4 3,1.4 3,1.4 3,1.6 3,1.6 3,1.6 3,1.6 3,1.6 3,1.4 3,1.2 3,1.1 3,1.2 3,1.1 3,1.4 3,1.5 3,1.4 3,1.6 3,1.6 3,1.6 3,2.0 3,2.0 3,2.1 3,2.9 3,2.9 3,3.0 3,3.1 3,3.1 3,3.0 3,2.7 3,2.3 3,2.0 3,1.7 3,1.4 3,1.2 3,0.9 3,0.8 3,0.7 3,0.7 3,0.8 3,1.7"/>
<path d="M218.3,90.0l3,1.6 3,1.4 3,1.6 3,2.0 3,1.1 3,0.6 3,1.0 3,0.9 3,1.3 3,2.3 3,2.1 3,1.8 3,1.3 3,1.0 3,0.9 3,0.8 3,1.3 3,1.9 3,2.0 3,1.8 3,1.5 3,1.1 3,0.9 3,1.1 3,1.5 3,1.8 3,1.7 3,1.6 3,1.2 3,0.8 3,0.8 3,1.0 3,1.4 3,2.0 3,2.3 3,2.2 3,2.1 3,1.8 3,1.5 3,2.3 3,2.7 3,3.2 3,3.7 3,3.6 3,3.3 3,2.6 3,1.9 3,1.8 3,1.8 3,1.9 3,1.7 3,1.5 3,1.1 3,0.7 3,0.6 3,0.6 3,1.8"/>
<path d="M218.3,90.0l3,1.5 3,1.0 3,1.1 3,1.9 3,1.4 3,1.2 3,1.8 3,1.2 3,1.2 3,1.6 3,1.5 3,1.4 3,1.6 3,1.6 3,1.6 3,1.2 3,1.2 3,1.3 3,1.3 3,1.4 3,1.6 3,1.6 3,1.7 3,1.6 3,1.4 3,1.3 3,1.0 3,1.0 3,1.2 3,1.3 3,1.6 3,1.6 3,1.4 3,1.6 3,1.5 3,1.7 3,1.9 3,2.1 3,2.2 3,3.0 3,2.8 3,2.8 3,2.9 3,2.9 3,3.0 3,2.6 3,2.3 3,2.0 3,1.6 3,1.4 3,1.0 3,0.9 3,0.8 3,0.6 3,0.7 3,0.8 3,1.7"/>
<path d="M218.3,90.6l3,1.5 3,0.9 3,1.0 3,1.7 3,1.2 3,0.9 3,1.5 3,1.2 3,1.1 3,1.9 3,1.7 3,1.6 3,1.6 3,1.6 3,1.7 3,1.3 3,1.3 3,1.5 3,1.5 3,1.4 3,1.4 3,1.4 3,1.4 3,1.4 3,1.4 3,1.3 3,1.1 3,1.2 3,1.1 3,1.3 3,1.5 3,1.7 3,1.6 3,1.9 3,1.9 3,1.8 3,2.0 3,2.1 3,2.0 3,2.7 3,2.8 3,2.8 3,3.0 3,3.0 3,3.0 3,2.6 3,2.3 3,2.1 3,1.9 3,1.7 3,1.3 3,1.2 3,0.9 3,0.7 3,0.8 3,0.8 3,1.7"/>
<path d="M218.3,90.6l3,1.2 3,0.6 3,0.9 3,1.9 3,1.6 3,1.5 3,1.8 3,1.1 3,0.8 3,1.3 3,1.3 3,1.7 3,1.9 3,2.2 3,1.9 3,1.3 3,1.0 3,1.0 3,1.2 3,1.4 3,1.8 3,2.0 3,1.8 3,1.5 3,1.1 3,0.9 3,0.7 3,1.0 3,1.5 3,1.7 3,1.9 3,1.8 3,1.3 3,1.4 3,1.4 3,1.7 3,2.2 3,2.6 3,2.5 3,3.0 3,2.6 3,2.4 3,2.6 3,2.7 3,3.1 3,2.9 3,2.5 3,2.1 3,1.6 3,1.2 3,1.0 3,0.9 3,0.9 3,0.7 3,0.8 3,0.8 3,1.8"/>
<path d="M218.3,90.2l3,1.2 3,0.4 3,0.7 3,1.8 3,1.7 3,1.8 3,2.2 3,1.4 3,0.8 3,1.1 3,1.0 3,1.3 3,1.8 3,2.2 3,2.2 3,1.5 3,1.1 3,0.9 3,1.0 3,1.3 3,1.8 3,2.3 3,2.3 3,1.9 3,1.4 3,0.9 3,0.5 3,0.7 3,1.3 3,1.8 3,2.1 3,1.9 3,1.5 3,1.2 3,1.2 3,1.3 3,2.2 3,2.6 3,2.9 3,3.4 3,3.0 3,2.6 3,2.5 3,2.6 3,3.0 3,3.0 3,2.7 3,2.3 3,1.7 3,1.3 3,0.8 3,0.8 3,0.8 3,0.8 3,0.8 3,0.9 3,1.8"/>
<path d="M218.3,91.1l3,1.7 3,1.3 3,1.5 3,2.1 3,1.4 3,1.2 3,1.7 3,1.2 3,1.2 3,1.9 3,1.6 3,1.4 3,1.3 3,1.2 3,1.1 3,0.9 3,1.1 3,1.5 3,1.5 3,1.5 3,1.6 3,1.5 3,1.5 3,1.5 3,1.5 3,1.6 3,1.3 3,1.2 3,1.1 3,0.9 3,1.2 3,1.2 3,1.2 3,1.6 3,1.6 3,1.7 3,1.9 3,1.9 3,1.9 3,2.7 3,2.9 3,3.0 3,3.3 3,3.1 3,3.0 3,2.5 3,1.9 3,1.7 3,1.5 3,1.3 3,1.1 3,0.9 3,0.7 3,0.6 3,0.5 3,0.7 3,1.8"/>
<path d="M218.3,92.1l3,1.3 3,0.9 3,1.3 3,2.0 3,1.5 3,1.2 3,1.4 3,0.7 3,0.6 3,1.4 3,1.5 3,1.7 3,1.9 3,1.8 3,1.6 3,1.1 3,1.1 3,1.4 3,1.6 3,1.8 3,1.9 3,1.9 3,1.5 3,1.2 3,1.0 3,0.9 3,0.8 3,1.2 3,1.3 3,1.4 3,1.4 3,1.4 3,1.2 3,1.5 3,1.8 3,2.1 3,2.5 3,2.5 3,2.3 3,2.9 3,2.5 3,2.6 3,2.8 3,3.0 3,3.2 3,2.8 3,2.2 3,1.9 3,1.6 3,1.4 3,1.2 3,1.1 3,1.1 3,0.9 3,0.9 3,0.8 3,1.8"/>
<path d="M218.3,91.9l3,1.8 3,1.4 3,1.5 3,2.2 3,1.6 3,1.3 3,1.6 3,1.0 3,0.8 3,1.4 3,1.1 3,1.1 3,1.1 3,1.2 3,1.2 3,1.1 3,1.2 3,1.6 3,1.8 3,1.8 3,2.0 3,1.9 3,1.9 3,1.8 3,1.5 3,1.3 3,1.0 3,0.8 3,0.8 3,0.8 3,1.0 3,1.0 3,1.1 3,1.4 3,1.6 3,1.8 3,2.2 3,2.4 3,2.4 3,3.3 3,3.2 3,3.1 3,3.3 3,3.2 3,3.0 3,2.5 3,1.9 3,1.8 3,1.5 3,1.2 3,1.0 3,1.0 3,0.8 3,0.8 3,0.7 3,0.9 3,1.9"/>
<path d="M218.3,90.7l3,1.5 3,1.0 3,1.2 3,2.0 3,1.6 3,1.4 3,1.7 3,1.0 3,0.9 3,1.6 3,1.6 3,1.8 3,1.9 3,1.9 3,1.7 3,1.2 3,1.0 3,1.2 3,1.4 3,1.6 3,1.8 3,1.8 3,1.6 3,1.3 3,1.2 3,1.0 3,0.9 3,1.2 3,1.5 3,1.5 3,1.7 3,1.5 3,1.4 3,1.5 3,1.6 3,1.9 3,2.2 3,2.4 3,2.2 3,2.8 3,2.6 3,2.4 3,2.7 3,2.9 3,2.8 3,2.5 3,2.0 3,1.7 3,1.3 3,1.1 3,0.8 3,0.8 3,0.7 3,0.6 3,0.6 3,0.7 3,1.7"/>
<path d="M218.3,91.0l3,1.5 3,1.3 3,1.5 3,2.0 3,1.2 3,1.0 3,1.4 3,1.2 3,1.5 3,2.3 3,2.1 3,1.8 3,1.5 3,1.2 3,1.1 3,0.9 3,1.1 3,1.6 3,1.7 3,1.6 3,1.3 3,1.2 3,1.2 3,1.3 3,1.6 3,1.8 3,1.7 3,1.6 3,1.3 3,1.1 3,1.2 3,1.3 3,1.4 3,1.9 3,2.0 3,1.9 3,1.9 3,1.6 3,1.6 3,2.4 3,2.8 3,3.0 3,3.4 3,3.4 3,3.0 3,2.5 3,1.9 3,1.7 3,1.6 3,1.4 3,1.2 3,0.9 3,0.7 3,0.5 3,0.5 3,0.7 3,1.6"/>
<path d="M218.3,91.7l3,1.4 3,1.0 3,1.4 3,2.0 3,1.7 3,1.3 3,1.7 3,1.1 3,1.0 3,1.6 3,1.6 3,1.6 3,1.7 3,1.7 3,1.5 3,1.0 3,0.9 3,1.2 3,1.5 3,1.6 3,1.8 3,1.8 3,1.6 3,1.5 3,1.3 3,1.2 3,1.0 3,1.3 3,1.4 3,1.4 3,1.5 3,1.4 3,1.2 3,1.4 3,1.5 3,1.8 3,2.2 3,2.2 3,2.2 3,2.8 3,2.7 3,2.7 3,2.9 3,3.1 3,3.1 3,2.6 3,2.2 3,1.7 3,1.5 3,1.1 3,1.0 3,0.8 3,0.8 3,0.6 3,0.7 3,0.7 3,1.7"/>
<path d="M218.3,91.2l3,1.7 3,1.3 3,1.4 3,2.0 3,1.4 3,1.2 3,1.6 3,1.4 3,1.4 3,2.0 3,1.8 3,1.6 3,1.5 3,1.5 3,1.3 3,1.1 3,1.2 3,1.4 3,1.4 3,1.5 3,1.4 3,1.3 3,1.4 3,1.4 3,1.6 3,1.5 3,1.3 3,1.3 3,1.3 3,1.2 3,1.4 3,1.4 3,1.5 3,1.7 3,1.8 3,1.7 3,1.8 3,1.8 3,1.9 3,2.6 3,2.8 3,2.8 3,3.0 3,3.0 3,2.8 3,2.3 3,1.8 3,1.6 3,1.4 3,1.2 3,0.9 3,0.7 3,0.6 3,0.5 3,0.6 3,0.7 3,1.6"/>
<path d="M218.3,93.5l3,1.7 3,1.0 3,1.0 3,1.6 3,1.3 3,1.4 3,2.0 3,1.5 3,1.1 3,1.5 3,1.1 3,1.1 3,1.5 3,1.8 3,2.0 3,1.6 3,1.4 3,1.3 3,1.0 3,1.0 3,1.4 3,1.6 3,1.9 3,1.8 3,1.5 3,1.1 3,0.6 3,0.5 3,0.9 3,1.3 3,1.8 3,2.0 3,1.7 3,1.7 3,1.3 3,1.3 3,1.8 3,2.1 3,2.4 3,3.2 3,3.1 3,2.7 3,2.5 3,2.4 3,2.5 3,2.4 3,2.2 3,2.1 3,1.6 3,1.3 3,0.9 3,0.7 3,0.6 3,0.7 3,0.7 3,0.8 3,1.8"/>
<path d="M218.3,93.7l3,1.6 3,1.2 3,1.3 3,1.9 3,1.2 3,1.1 3,1.6 3,1.3 3,1.3 3,2.0 3,1.7 3,1.6 3,1.3 3,1.4 3,1.3 3,1.1 3,1.2 3,1.4 3,1.4 3,1.4 3,1.3 3,1.3 3,1.4 3,1.4 3,1.5 3,1.6 3,1.3 3,1.2 3,1.1 3,1.1 3,1.4 3,1.4 3,1.5 3,1.7 3,1.8 3,1.6 3,1.8 3,1.8 3,1.8 3,2.6 3,2.8 3,2.9 3,3.2 3,3.0 3,3.0 3,2.5 3,2.0 3,1.9 3,1.7 3,1.5 3,1.1 3,0.9 3,0.8 3,0.5 3,0.6 3,0.7 3,1.7"/>
<path d="M218.3,92.8l3,1.5 3,1.2 3,1.3 3,2.0 3,1.3 3,1.0 3,1.5 3,1.2 3,1.2 3,1.9 3,1.8 3,1.8 3,1.6 3,1.6 3,1.4 3,1.1 3,1.2 3,1.5 3,1.6 3,1.5 3,1.5 3,1.4 3,1.4 3,1.2 3,1.4 3,1.4 3,1.3 3,1.4 3,1.3 3,1.2 3,1.4 3,1.4 3,1.5 3,1.8 3,1.9 3,1.9 3,2.1 3,1.9 3,1.9 3,2.6 3,2.7 3,2.8 3,3.0 3,3.1 3,2.9 3,2.5 3,1.9 3,1.8 3,1.5 3,1.3 3,1.1 3,0.8 3,0.8 3,0.6 3,0.6 3,0.7 3,1.6"/>
<path d="M218.3,94.1l3,1.3 3,0.6 3,0.6 3,1.6 3,1.6 3,1.7 3,2.3 3,1.5 3,1.0 3,1.3 3,1.0 3,1.3 3,1.8 3,2.3 3,2.2 3,1.6 3,1.1 3,0.8 3,0.6 3,1.0 3,1.5 3,2.0 3,2.1 3,1.9 3,1.4 3,0.9 3,0.4 3,0.7 3,1.3 3,1.7 3,2.3 3,2.1 3,1.7 3,1.3 3,1.0 3,1.1 3,1.9 3,2.3 3,2.7 3,3.3 3,2.9 3,2.3 3,2.3 3,2.4 3,2.8 3,2.8 3,2.5 3,2.3 3,1.6 3,1.2 3,0.8 3,0.6 3,0.7 3,0.7 3,0.7 3,0.8 3,1.8"/>
<path d="M218.3,94.7l3,1.7 3,1.2 3,1.5 3,2.0 3,1.7 3,1.6 3,1.8 3,1.1 3,0.9 3,1.4 3,1.3 3,1.6 3,1.8 3,1.8 3,1.6 3,1.0 3,0.8 3,1.0 3,1.1 3,1.5 3,1.7 3,1.8 3,1.6 3,1.3 3,1.0 3,0.8 3,0.8 3,1.0 3,1.3 3,1.5 3,1.6 3,1.4 3,1.1 3,1.2 3,1.4 3,1.5 3,2.1 3,2.3 3,2.2 3,2.8 3,2.5 3,2.3 3,2.5 3,2.8 3,2.9 3,2.6 3,2.1 3,1.8 3,1.3 3,1.1 3,0.8 3,0.8 3,0.8 3,0.7 3,0.7 3,0.7 3,1.7"/>
<path d="M218.3,93.9l3,1.6 3,1.0 3,0.9 3,1.5 3,1.1 3,1.3 3,2.0 3,1.6 3,1.4 3,1.7 3,1.4 3,1.2 3,1.4 3,1.8 3,1.8 3,1.7 3,1.5 3,1.3 3,1.2 3,1.0 3,1.2 3,1.5 3,1.8 3,1.8 3,1.7 3,1.4 3,0.9 3,0.8 3,1.0 3,1.2 3,1.8 3,2.0 3,1.9 3,1.8 3,1.6 3,1.4 3,1.6 3,1.9 3,2.3 3,3.1 3,3.1 3,2.9 3,2.8 3,2.6 3,2.6 3,2.4 3,2.2 3,2.1 3,1.7 3,1.4 3,1.0 3,0.7 3,0.6 3,0.6 3,0.6 3,0.8 3,1.8"/>
<path d="M218.3,93.6l3,1.5 3,0.9 3,1.0 3,1.7 3,1.3 3,1.4 3,1.9 3,1.4 3,1.2 3,1.7 3,1.4 3,1.4 3,1.6 3,1.8 3,1.9 3,1.5 3,1.3 3,1.3 3,1.2 3,1.3 3,1.4 3,1.7 3,1.8 3,1.8 3,1.5 3,1.3 3,0.9 3,1.0 3,1.1 3,1.4 3,1.8 3,1.9 3,1.7 3,1.6 3,1.6 3,1.5 3,1.9 3,2.1 3,2.4 3,3.0 3,3.0 3,2.8 3,2.8 3,2.7 3,2.8 3,2.5 3,2.3 3,2.0 3,1.6 3,1.2 3,1.0 3,0.7 3,0.7 3,0.6 3,0.7 3,0.7 3,1.7"/>
<path d="M218.3,91.5l3,1.9 3,1.5 3,1.7 3,2.0 3,1.5 3,1.3 3,1.8 3,1.3 3,1.4 3,2.0 3,1.8 3,1.6 3,1.6 3,1.5 3,1.5 3,1.2 3,1.3 3,1.6 3,1.6 3,1.5 3,1.5 3,1.4 3,1.5 3,1.4 3,1.5 3,1.5 3,1.2 3,1.2 3,1.2 3,1.1 3,1.4 3,1.6 3,1.5 3,1.8 3,1.8 3,1.8 3,1.9 3,1.8 3,2.0 3,2.7 3,2.8 3,2.7 3,2.8 3,2.6 3,2.3 3,1.9 3,1.5 3,1.2 3,1.1 3,0.8 3,0.8 3,0.6 3,0.5 3,0.4 3,0.5 3,0.7 3,1.6"/>
<path d="M218.3,96.4l3,1.4 3,1.0 3,1.3 3,2.1 3,1.8 3,1.4 3,1.7 3,0.9 3,0.7 3,1.4 3,1.5 3,1.7 3,2.0 3,1.8 3,1.5 3,0.8 3,0.7 3,0.9 3,1.3 3,1.6 3,1.9 3,1.8 3,1.6 3,1.2 3,0.9 3,0.8 3,0.9 3,1.2 3,1.5 3,1.6 3,1.6 3,1.3 3,0.9 3,1.2 3,1.4 3,1.7 3,2.3 3,2.4 3,2.3 3,2.6 3,2.4 3,2.2 3,2.7 3,3.0 3,3.1 3,2.9 3,2.3 3,1.8 3,1.4 3,1.1 3,0.9 3,1.0 3,0.9 3,0.8 3,0.7 3,0.8 3,1.6"/>
<path d="M218.3,91.8l3,1.3 3,1.1 3,1.5 3,2.3 3,1.7 3,1.3 3,1.7 3,1.3 3,1.3 3,2.1 3,2.1 3,2.0 3,1.8 3,1.5 3,1.2 3,0.8 3,0.9 3,1.3 3,1.5 3,1.7 3,1.8 3,1.6 3,1.5 3,1.4 3,1.5 3,1.6 3,1.7 3,1.8 3,1.7 3,1.5 3,1.5 3,1.3 3,1.2 3,1.5 3,1.8 3,1.9 3,2.1 3,1.9 3,1.9 3,2.5 3,2.6 3,2.8 3,3.2 3,3.4 3,3.1 3,2.5 3,1.9 3,1.5 3,1.2 3,1.0 3,0.8 3,0.7 3,0.6 3,0.5 3,0.5 3,0.7 3,1.6"/>
<path d="M218.3,93.0l3,2.0 3,1.6 3,1.8 3,2.1 3,1.5 3,1.3 3,1.7 3,1.3 3,1.4 3,2.1 3,1.9 3,1.6 3,1.5 3,1.2 3,1.2 3,1.0 3,1.2 3,1.6 3,1.6 3,1.6 3,1.5 3,1.3 3,1.3 3,1.4 3,1.5 3,1.6 3,1.4 3,1.4 3,1.1 3,1.0 3,1.2 3,1.2 3,1.4 3,1.8 3,1.8 3,1.8 3,1.9 3,1.7 3,1.7 3,2.6 3,2.8 3,2.8 3,3.1 3,2.8 3,2.6 3,1.9 3,1.5 3,1.3 3,1.1 3,0.9 3,0.8 3,0.6 3,0.6 3,0.4 3,0.5 3,0.7 3,1.6"/>
<path d="M218.3,93.7l3,1.8 3,1.1 3,1.0 3,1.7 3,1.5 3,1.6 3,2.3 3,1.7 3,1.3 3,1.5 3,1.2 3,1.2 3,1.5 3,2.0 3,2.1 3,1.6 3,1.4 3,1.2 3,0.9 3,1.1 3,1.4 3,1.8 3,2.1 3,2.0 3,1.7 3,1.2 3,0.6 3,0.7 3,1.1 3,1.4 3,2.0 3,2.1 3,1.7 3,1.6 3,1.3 3,1.2 3,1.7 3,2.1 3,2.5 3,3.3 3,3.1 3,2.6 3,2.5 3,2.3 3,2.3 3,2.2 3,1.9 3,1.6 3,1.3 3,0.9 3,0.6 3,0.6 3,0.5 3,0.5 3,0.5 3,0.8 3,1.6"/>
<path d="M218.3,95.4l3,1.7 3,1.4 3,1.5 3,2.0 3,1.4 3,1.3 3,1.7 3,1.2 3,1.2 3,1.7 3,1.5 3,1.5 3,1.4 3,1.4 3,1.4 3,1.1 3,1.2 3,1.5 3,1.6 3,1.5 3,1.7 3,1.6 3,1.5 3,1.6 3,1.5 3,1.4 3,1.1 3,1.1 3,1.0 3,1.1 3,1.3 3,1.3 3,1.4 3,1.6 3,1.7 3,1.7 3,2.0 3,2.1 3,2.1 3,2.8 3,3.0 3,2.8 3,3.1 3,2.9 3,2.7 3,2.3 3,1.8 3,1.6 3,1.4 3,1.1 3,0.9 3,0.8 3,0.6 3,0.6 3,0.6 3,0.7 3,1.7"/>
<path d="M218.3,94.4l3,1.6 3,1.1 3,1.3 3,1.9 3,1.4 3,1.1 3,1.7 3,1.2 3,1.3 3,1.9 3,1.7 3,1.6 3,1.7 3,1.6 3,1.6 3,1.4 3,1.3 3,1.6 3,1.5 3,1.6 3,1.5 3,1.5 3,1.6 3,1.5 3,1.4 3,1.5 3,1.1 3,1.2 3,1.3 3,1.2 3,1.6 3,1.6 3,1.6 3,1.9 3,1.9 3,1.8 3,2.0 3,2.1 3,2.0 3,2.9 3,2.8 3,2.8 3,3.0 3,2.8 3,2.7 3,2.3 3,1.8 3,1.6 3,1.4 3,1.1 3,0.9 3,0.7 3,0.7 3,0.5 3,0.5 3,0.7 3,1.7"/>
<path d="M218.3,92.2l3,2.1 3,1.7 3,1.8 3,2.0 3,1.4 3,1.1 3,1.8 3,1.7 3,1.8 3,2.3 3,2.1 3,1.6 3,1.4 3,1.2 3,1.3 3,1.3 3,1.5 3,1.7 3,1.7 3,1.3 3,1.2 3,1.1 3,1.3 3,1.5 3,1.7 3,1.9 3,1.6 3,1.3 3,1.1 3,0.9 3,1.2 3,1.6 3,1.7 3,2.1 3,2.0 3,1.7 3,1.5 3,1.4 3,1.6 3,2.6 3,2.8 3,2.9 3,3.0 3,2.5 3,2.1 3,1.6 3,1.2 3,1.2 3,1.0 3,0.8 3,0.6 3,0.6 3,0.4 3,0.4 3,0.5 3,0.6 3,1.6"/>
<path d="M218.3,94.8l3,1.7 3,1.5 3,1.6 3,2.1 3,1.5 3,1.2 3,1.6 3,1.3 3,1.4 3,2.2 3,1.9 3,1.8 3,1.5 3,1.3 3,1.1 3,0.9 3,1.1 3,1.5 3,1.6 3,1.7 3,1.5 3,1.4 3,1.3 3,1.4 3,1.5 3,1.7 3,1.6 3,1.6 3,1.3 3,1.1 3,1.2 3,1.3 3,1.3 3,1.7 3,1.9 3,1.8 3,1.9 3,1.8 3,1.7 3,2.5 3,2.8 3,2.9 3,3.2 3,3.2 3,2.8 3,2.2 3,1.6 3,1.4 3,1.3 3,1.0 3,0.9 3,0.7 3,0.6 3,0.4 3,0.5 3,0.7 3,1.6"/>
<path d="M218.3,94.8l3,1.8 3,1.3 3,1.3 3,1.8 3,1.4 3,1.4 3,2.0 3,1.7 3,1.5 3,1.8 3,1.5 3,1.3 3,1.3 3,1.6 3,1.7 3,1.5 3,1.5 3,1.4 3,1.3 3,1.2 3,1.3 3,1.6 3,1.8 3,1.9 3,1.8 3,1.5 3,1.0 3,0.9 3,1.0 3,1.2 3,1.6 3,1.8 3,1.7 3,1.8 3,1.6 3,1.4 3,1.7 3,1.8 3,2.2 3,3.0 3,3.2 3,2.8 3,2.9 3,2.5 3,2.3 3,2.0 3,1.7 3,1.6 3,1.2 3,0.9 3,0.7 3,0.6 3,0.5 3,0.5 3,0.5 3,0.7 3,1.6"/>
<path d="M218.3,97.0l3,2.0 3,1.4 3,1.2 3,1.4 3,0.8 3,0.7 3,1.6 3,1.5 3,1.6 3,2.1 3,1.7 3,1.3 3,1.3 3,1.5 3,1.8 3,1.8 3,1.9 3,1.9 3,1.5 3,1.0 3,0.9 3,0.9 3,1.2 3,1.5 3,1.7 3,1.6 3,1.0 3,0.8 3,0.6 3,0.9 3,1.5 3,2.0 3,2.3 3,2.4 3,2.1 3,1.6 3,1.6 3,1.6 3,1.8 3,2.8 3,3.1 3,2.9 3,2.9 3,2.5 3,2.1 3,1.9 3,1.8 3,1.8 3,1.8 3,1.4 3,1.0 3,0.8 3,0.6 3,0.5 3,0.5 3,0.8 3,1.7"/>
<path d="M218.3,92.6l3,1.6 3,1.3 3,1.7 3,2.3 3,1.7 3,1.4 3,1.7 3,1.1 3,1.2 3,2.0 3,2.0 3,2.1 3,2.0 3,1.7 3,1.5 3,1.0 3,1.0 3,1.5 3,1.7 3,1.8 3,1.9 3,1.8 3,1.4 3,1.3 3,1.4 3,1.4 3,1.4 3,1.6 3,1.7 3,1.5 3,1.6 3,1.3 3,1.3 3,1.7 3,1.9 3,2.0 3,2.3 3,2.0 3,2.0 3,2.6 3,2.6 3,2.5 3,2.8 3,2.8 3,2.4 3,1.9 3,1.4 3,1.0 3,0.9 3,0.7 3,0.7 3,0.5 3,0.5 3,0.4 3,0.5 3,0.7 3,1.5"/>
<path d="M218.3,96.5l3,1.9 3,1.3 3,1.4 3,1.7 3,1.3 3,1.2 3,1.7 3,1.4 3,1.4 3,2.1 3,1.8 3,1.6 3,1.7 3,1.7 3,1.7 3,1.4 3,1.4 3,1.4 3,1.3 3,1.2 3,1.2 3,1.2 3,1.3 3,1.4 3,1.4 3,1.3 3,1.1 3,1.2 3,1.2 3,1.2 3,1.7 3,1.8 3,1.8 3,1.9 3,1.9 3,1.6 3,1.8 3,1.7 3,1.8 3,2.6 3,2.7 3,2.6 3,2.7 3,2.6 3,2.4 3,2.1 3,1.7 3,1.6 3,1.4 3,1.0 3,0.9 3,0.7 3,0.5 3,0.5 3,0.5 3,0.7 3,1.6"/>
<path d="M218.3,96.1l3,2.0 3,1.7 3,1.7 3,2.0 3,1.6 3,1.4 3,1.9 3,1.3 3,1.3 3,1.8 3,1.7 3,1.5 3,1.6 3,1.5 3,1.6 3,1.2 3,1.2 3,1.4 3,1.5 3,1.5 3,1.4 3,1.5 3,1.4 3,1.4 3,1.3 3,1.2 3,1.1 3,1.0 3,1.1 3,1.1 3,1.4 3,1.5 3,1.4 3,1.7 3,1.7 3,1.7 3,1.9 3,1.9 3,2.0 3,2.6 3,2.8 3,2.6 3,2.7 3,2.5 3,2.4 3,1.9 3,1.5 3,1.3 3,1.2 3,0.9 3,0.7 3,0.7 3,0.5 3,0.5 3,0.5 3,0.7 3,1.6"/>
<path d="M218.3,95.8l3,2.0 3,1.6 3,1.5 3,1.8 3,1.2 3,1.0 3,1.6 3,1.4 3,1.5 3,2.0 3,1.7 3,1.5 3,1.4 3,1.4 3,1.7 3,1.5 3,1.7 3,1.9 3,1.6 3,1.5 3,1.2 3,1.3 3,1.4 3,1.5 3,1.7 3,1.5 3,1.2 3,0.9 3,0.9 3,0.9 3,1.4 3,1.7 3,1.9 3,2.2 3,2.0 3,1.8 3,1.8 3,1.8 3,1.9 3,2.9 3,3.0 3,2.9 3,2.9 3,2.5 3,2.2 3,1.8 3,1.4 3,1.4 3,1.2 3,1.0 3,0.8 3,0.7 3,0.5 3,0.4 3,0.5 3,0.7 3,1.7"/>
<path d="M218.3,95.9l3,2.0 3,1.6 3,1.8 3,2.1 3,1.8 3,1.7 3,2.0 3,1.5 3,1.2 3,1.7 3,1.6 3,1.6 3,1.7 3,1.7 3,1.6 3,1.1 3,1.0 3,1.3 3,1.3 3,1.4 3,1.7 3,1.6 3,1.6 3,1.4 3,1.3 3,1.1 3,0.9 3,1.1 3,1.2 3,1.3 3,1.6 3,1.4 3,1.3 3,1.5 3,1.4 3,1.6 3,2.0 3,1.9 3,2.1 3,2.7 3,2.7 3,2.4 3,2.6 3,2.5 3,2.3 3,1.9 3,1.5 3,1.2 3,1.0 3,0.8 3,0.7 3,0.5 3,0.6 3,0.4 3,0.5 3,0.7 3,1.6"/>
<path d="M218.3,95.5l3,1.9 3,1.5 3,1.5 3,2.0 3,1.5 3,1.3 3,1.9 3,1.5 3,1.5 3,2.1 3,1.8 3,1.6 3,1.6 3,1.5 3,1.4 3,1.3 3,1.3 3,1.5 3,1.5 3,1.4 3,1.5 3,1.4 3,1.5 3,1.6 3,1.6 3,1.6 3,1.3 3,1.3 3,1.2 3,1.2 3,1.5 3,1.5 3,1.6 3,1.8 3,1.8 3,1.7 3,1.8 3,1.7 3,1.9 3,2.7 3,2.9 3,2.8 3,2.8 3,2.7 3,2.3 3,1.9 3,1.4 3,1.3 3,1.0 3,0.9 3,0.6 3,0.6 3,0.5 3,0.4 3,0.5 3,0.6 3,1.7"/>
<path d="M218.3,98.1l3,1.5 3,1.2 3,1.7 3,2.3 3,1.7 3,1.5 3,1.6 3,0.9 3,0.9 3,1.7 3,1.8 3,1.9 3,1.9 3,1.7 3,1.4 3,0.8 3,0.8 3,1.2 3,1.5 3,1.8 3,2.0 3,1.8 3,1.4 3,1.2 3,1.0 3,1.1 3,1.2 3,1.4 3,1.6 3,1.5 3,1.5 3,1.1 3,1.0 3,1.4 3,1.7 3,1.9 3,2.4 3,2.2 3,2.1 3,2.5 3,2.5 3,2.4 3,2.8 3,3.0 3,3.0 3,2.4 3,1.8 3,1.4 3,1.1 3,0.9 3,0.8 3,0.8 3,0.6 3,0.6 3,0.6 3,0.6 3,1.6"/>
<path d="M218.3,94.4l3,2.3 3,2.1 3,2.1 3,2.3 3,1.5 3,1.0 3,1.4 3,1.2 3,1.6 3,2.5 3,2.4 3,1.9 3,1.5 3,1.0 3,1.0 3,1.0 3,1.6 3,2.2 3,2.3 3,2.0 3,1.4 3,0.9 3,0.8 3,1.0 3,1.5 3,1.8 3,1.8 3,1.6 3,1.0 3,0.7 3,0.7 3,1.1 3,1.6 3,2.3 3,2.5 3,2.3 3,1.9 3,1.4 3,1.3 3,2.3 3,2.7 3,2.8 3,3.0 3,2.5 3,1.9 3,1.3 3,1.0 3,0.8 3,0.9 3,0.8 3,0.7 3,0.5 3,0.5 3,0.4 3,0.4 3,0.6 3,1.6"/>
</g>
<g fill="none" stroke="#ff6a5c" stroke-opacity="0.02" stroke-width="1.6">
<path d="M218.3,55.3l3,0.3 3,0.8 3,1.6 3,0.5 3,1.1 3,1.3 3,1.4 3,1.6 3,1.9 3,2.1 3,1.9 3,1.7 3,1.7 3,1.6 3,1.5 3,1.1 3,1.1 3,1.7 3,1.5 3,1.3 3,1.0 3,1.1 3,1.4 3,1.5 3,1.8 3,1.9 3,1.8 3,1.7 3,1.6 3,1.7 3,1.7 3,1.8 3,1.8 3,1.8 3,1.7 3,1.3 3,1.1 3,1.0 3,1.1 3,2.2 3,2.3 3,2.2 3,2.4 3,2.5 3,2.4 3,2.4 3,2.9 3,3.3 3,3.3 3,3.2 3,3.2 3,2.7 3,2.4 3,2.5 3,2.0 3,1.9 3,3.0"/>
<path d="M218.3,66.3l3,0.4 3,1.0 3,1.9 3,1.0 3,1.4 3,1.5 3,1.1 3,1.0 3,1.1 3,1.4 3,1.4 3,1.6 3,1.8 3,1.7 3,1.5 3,1.0 3,1.1 3,1.7 3,1.8 3,1.9 3,1.7 3,1.8 3,1.6 3,1.4 3,1.3 3,1.4 3,1.3 3,1.5 3,1.5 3,1.5 3,1.4 3,1.4 3,1.4 3,1.4 3,1.6 3,1.7 3,1.7 3,1.8 3,1.7 3,2.5 3,2.3 3,2.0 3,2.3 3,2.4 3,2.5 3,2.5 3,2.6 3,2.9 3,2.6 3,2.4 3,2.6 3,2.5 3,2.6 3,2.9 3,2.4 3,2.2 3,3.1"/>
<path d="M218.3,54.3l3,0.8 3,1.4 3,2.2 3,0.9 3,1.1 3,1.1 3,1.0 3,1.1 3,1.5 3,1.9 3,1.7 3,1.6 3,1.5 3,1.4 3,1.3 3,1.1 3,1.4 3,2.2 3,2.2 3,1.9 3,1.6 3,1.4 3,1.4 3,1.4 3,1.6 3,1.8 3,1.7 3,1.6 3,1.3 3,1.2 3,1.2 3,1.3 3,1.6 3,2.0 3,2.0 3,1.9 3,1.6 3,1.4 3,1.4 3,2.4 3,2.5 3,2.5 3,2.7 3,2.7 3,2.4 3,2.2 3,2.3 3,2.7 3,2.7 3,2.9 3,3.0 3,2.8 3,2.7 3,2.6 3,2.2 3,2.0 3,3.3"/>
<path d="M218.3,54.6l3,0.4 3,0.9 3,1.7 3,0.9 3,1.4 3,1.7 3,1.3 3,1.4 3,1.4 3,1.7 3,1.7 3,1.6 3,1.9 3,1.8 3,1.6 3,1.0 3,1.1 3,1.7 3,1.6 3,1.7 3,1.6 3,1.6 3,1.7 3,1.5 3,1.6 3,1.6 3,1.5 3,1.7 3,1.7 3,1.7 3,1.6 3,1.7 3,1.5 3,1.6 3,1.6 3,1.5 3,1.5 3,1.6 3,1.6 3,2.4 3,2.4 3,2.1 3,2.3 3,2.5 3,2.6 3,2.6 3,2.9 3,3.2 3,2.9 3,2.8 3,2.8 3,2.6 3,2.6 3,2.8 3,2.4 3,2.2 3,3.1"/>
<path d="M218.3,54.3l3,0.7 3,1.1 3,1.7 3,0.8 3,1.3 3,1.4 3,1.3 3,1.4 3,1.5 3,1.7 3,1.5 3,1.6 3,1.7 3,1.7 3,1.7 3,1.3 3,1.4 3,1.9 3,1.8 3,1.7 3,1.6 3,1.6 3,1.6 3,1.6 3,1.6 3,1.7 3,1.5 3,1.4 3,1.5 3,1.5 3,1.6 3,1.7 3,1.7 3,1.8 3,1.8 3,1.6 3,1.6 3,1.6 3,1.6 3,2.6 3,2.5 3,2.3 3,2.4 3,2.4 3,2.4 3,2.4 3,2.7 3,3.1 3,2.9 3,2.9 3,2.9 3,2.6 3,2.6 3,2.8 3,2.5 3,2.3 3,3.4"/>
<path d="M218.3,58.3l3,0.5 3,1.0 3,1.7 3,0.7 3,1.1 3,1.4 3,1.1 3,1.2 3,1.3 3,1.6 3,1.4 3,1.4 3,1.6 3,1.6 3,1.6 3,1.2 3,1.2 3,1.9 3,1.7 3,1.6 3,1.5 3,1.5 3,1.6 3,1.5 3,1.5 3,1.4 3,1.4 3,1.3 3,1.3 3,1.3 3,1.5 3,1.6 3,1.6 3,1.7 3,1.6 3,1.6 3,1.4 3,1.5 3,1.6 3,2.5 3,2.5 3,2.1 3,2.3 3,2.3 3,2.2 3,2.3 3,2.5 3,3.0 3,2.8 3,2.7 3,2.8 3,2.5 3,2.4 3,2.7 3,2.4 3,2.2 3,3.3"/>
<path d="M218.3,55.9l3,0.8 3,1.1 3,1.6 3,0.5 3,1.0 3,1.4 3,1.5 3,1.8 3,1.8 3,1.9 3,1.5 3,1.2 3,1.4 3,1.4 3,1.6 3,1.4 3,1.5 3,2.0 3,1.6 3,1.3 3,1.2 3,1.3 3,1.7 3,1.9 3,2.1 3,1.9 3,1.5 3,1.3 3,1.2 3,1.3 3,1.5 3,1.9 3,1.9 3,2.0 3,1.6 3,1.2 3,1.1 3,1.2 3,1.4 3,2.7 3,2.8 3,2.6 3,2.5 3,2.3 3,2.2 3,2.2 3,2.6 3,3.3 3,3.3 3,3.2 3,2.9 3,2.4 3,2.2 3,2.3 3,2.1 3,2.3 3,3.5"/>
<path d="M218.3,48.5l3,0.3 3,1.5 3,2.6 3,1.6 3,1.6 3,1.2 3,0.6 3,0.6 3,1.2 3,2.0 3,2.3 3,2.4 3,2.1 3,1.5 3,0.8 3,0.3 3,0.8 3,2.0 3,2.4 3,2.5 3,2.1 3,1.5 3,1.0 3,0.8 3,1.1 3,1.7 3,2.2 3,2.4 3,2.1 3,1.6 3,1.0 3,0.8 3,1.0 3,1.6 3,2.2 3,2.4 3,2.1 3,1.7 3,1.1 3,1.7 3,1.8 3,2.0 3,2.9 3,3.3 3,3.2 3,2.8 3,2.4 3,2.4 3,2.2 3,2.5 3,3.2 3,3.3 3,3.3 3,3.1 3,2.1 3,1.5 3,2.5"/>
<path d="M218.3,55.5l3,0.6 3,1.4 3,2.4 3,1.3 3,1.5 3,1.3 3,0.9 3,1.0 3,1.4 3,1.9 3,1.8 3,1.8 3,1.7 3,1.3 3,1.0 3,0.6 3,1.1 3,2.0 3,2.2 3,2.1 3,1.9 3,1.5 3,1.4 3,1.3 3,1.5 3,1.8 3,2.0 3,1.9 3,1.7 3,1.3 3,1.0 3,1.0 3,1.2 3,1.7 3,1.9 3,1.9 3,1.8 3,1.5 3,1.3 3,2.2 3,2.3 3,2.3 3,2.9 3,3.0 3,2.9 3,2.5 3,2.4 3,2.6 3,2.4 3,2.7 3,2.9 3,2.8 3,2.8 3,2.7 3,2.1 3,1.8 3,2.9"/>
<path d="M218.3,57.1l3,0.3 3,0.8 3,1.8 3,0.9 3,1.5 3,1.5 3,1.2 3,1.0 3,1.1 3,1.5 3,1.5 3,1.8 3,2.1 3,1.9 3,1.7 3,1.1 3,1.0 3,1.7 3,1.7 3,1.8 3,1.8 3,1.8 3,1.6 3,1.3 3,1.2 3,1.3 3,1.3 3,1.6 3,1.7 3,1.8 3,1.6 3,1.6 3,1.5 3,1.5 3,1.6 3,1.7 3,1.8 3,1.9 3,1.7 3,2.4 3,2.2 3,1.8 3,2.2 3,2.4 3,2.5 3,2.6 3,2.9 3,3.0 3,2.7 3,2.5 3,2.7 3,2.6 3,2.9 3,3.1 3,2.6 3,2.3 3,3.2"/>
<path d="M218.3,56.0l3,0.5 3,1.4 3,2.5 3,1.3 3,1.4 3,1.0 3,0.4 3,0.6 3,1.0 3,1.9 3,2.1 3,2.2 3,2.1 3,1.6 3,1.2 3,0.7 3,1.1 3,2.2 3,2.5 3,2.5 3,2.0 3,1.4 3,1.0 3,0.8 3,1.0 3,1.5 3,1.8 3,2.1 3,1.8 3,1.5 3,1.1 3,1.0 3,1.2 3,1.8 3,2.4 3,2.4 3,2.3 3,1.8 3,1.3 3,1.9 3,1.9 3,2.0 3,2.6 3,3.0 3,2.9 3,2.4 3,2.2 3,2.3 3,2.3 3,2.5 3,3.2 3,3.3 3,3.4 3,3.2 3,2.4 3,1.8 3,2.8"/>
<path d="M218.3,56.4l3,0.5 3,1.3 3,2.2 3,1.4 3,1.7 3,1.5 3,0.9 3,0.8 3,0.8 3,1.3 3,1.5 3,1.8 3,1.9 3,1.7 3,1.5 3,0.8 3,1.0 3,1.9 3,2.2 3,2.4 3,2.2 3,2.0 3,1.7 3,1.2 3,1.2 3,1.2 3,1.5 3,1.6 3,1.6 3,1.5 3,1.3 3,1.1 3,1.1 3,1.5 3,1.7 3,2.1 3,2.2 3,2.1 3,1.9 3,2.5 3,2.2 3,2.1 3,2.4 3,2.7 3,2.8 3,2.6 3,2.5 3,2.6 3,2.2 3,2.2 3,2.6 3,2.7 3,2.9 3,3.2 3,2.7 3,2.3 3,3.1"/>
<path d="M218.3,53.2l3,0.9 3,1.3 3,1.9 3,0.8 3,1.2 3,1.4 3,1.2 3,1.6 3,1.7 3,2.1 3,1.8 3,1.7 3,1.8 3,1.6 3,1.7 3,1.4 3,1.6 3,2.2 3,2.0 3,1.8 3,1.5 3,1.4 3,1.6 3,1.7 3,1.8 3,1.9 3,1.8 3,1.6 3,1.5 3,1.5 3,1.6 3,1.8 3,2.0 3,2.1 3,2.0 3,1.8 3,1.6 3,1.5 3,1.5 3,2.6 3,2.6 3,2.5 3,2.6 3,2.6 3,2.5 3,2.3 3,2.7 3,3.1 3,3.2 3,3.2 3,3.2 3,2.8 3,2.7 3,2.7 3,2.3 3,2.3 3,3.3"/>
<path d="M218.3,52.7l3,0.0 3,0.9 3,2.0 3,1.2 3,1.6 3,1.5 3,1.0 3,0.9 3,1.0 3,1.6 3,1.8 3,2.1 3,2.2 3,1.8 3,1.4 3,0.7 3,0.7 3,1.6 3,1.8 3,2.1 3,1.8 3,1.8 3,1.4 3,1.0 3,1.1 3,1.3 3,1.6 3,2.0 3,2.0 3,1.8 3,1.5 3,1.3 3,1.2 3,1.3 3,1.7 3,1.9 3,1.9 3,1.8 3,1.5 3,2.1 3,1.9 3,1.7 3,2.3 3,2.7 3,2.9 3,2.8 3,2.8 3,2.8 3,2.5 3,2.5 3,2.7 3,2.8 3,3.1 3,3.1 3,2.5 3,2.0 3,2.8"/>
<path d="M218.3,53.5l3,0.9 3,1.3 3,1.8 3,0.8 3,1.2 3,1.5 3,1.5 3,1.7 3,1.7 3,1.8 3,1.3 3,1.2 3,1.3 3,1.4 3,1.5 3,1.2 3,1.5 3,1.9 3,1.8 3,1.5 3,1.5 3,1.5 3,1.9 3,2.0 3,2.0 3,1.9 3,1.6 3,1.4 3,1.1 3,1.2 3,1.5 3,1.6 3,1.7 3,1.8 3,1.5 3,1.4 3,1.2 3,1.3 3,1.7 3,2.8 3,2.9 3,2.6 3,2.7 3,2.5 3,2.3 3,2.3 3,2.6 3,3.2 3,3.1 3,2.9 3,2.8 3,2.2 3,2.2 3,2.3 3,2.2 3,2.3 3,3.5"/>
<path d="M218.3,50.5l3,0.3 3,0.9 3,1.9 3,1.1 3,1.6 3,1.7 3,1.2 3,1.0 3,1.1 3,1.4 3,1.5 3,1.8 3,2.1 3,1.9 3,1.7 3,0.9 3,1.0 3,1.6 3,1.9 3,1.9 3,2.0 3,1.9 3,1.7 3,1.4 3,1.2 3,1.3 3,1.4 3,1.6 3,1.8 3,1.8 3,1.7 3,1.4 3,1.3 3,1.4 3,1.6 3,1.8 3,1.9 3,2.0 3,1.8 3,2.5 3,2.2 3,1.9 3,2.2 3,2.5 3,2.7 3,2.8 3,2.8 3,3.0 3,2.6 3,2.4 3,2.6 3,2.6 3,2.9 3,3.2 3,2.7 3,2.3 3,3.2"/>
<path d="M218.3,58.2l3,0.8 3,1.2 3,1.9 3,0.9 3,1.2 3,1.3 3,1.2 3,1.3 3,1.3 3,1.6 3,1.3 3,1.4 3,1.5 3,1.6 3,1.6 3,1.3 3,1.5 3,2.0 3,2.0 3,1.8 3,1.6 3,1.7 3,1.7 3,1.6 3,1.7 3,1.5 3,1.4 3,1.3 3,1.2 3,1.3 3,1.3 3,1.6 3,1.7 3,1.8 3,1.7 3,1.7 3,1.6 3,1.6 3,1.8 3,2.7 3,2.7 3,2.4 3,2.5 3,2.3 3,2.3 3,2.2 3,2.5 3,2.9 3,2.8 3,2.7 3,2.8 3,2.5 3,2.5 3,2.6 3,2.5 3,2.3 3,3.5"/>
<path d="M218.3,47.0l3,0.8 3,1.0 3,1.6 3,0.6 3,1.2 3,1.6 3,1.4 3,1.5 3,1.4 3,1.5 3,1.2 3,1.1 3,1.4 3,1.7 3,1.8 3,1.4 3,1.5 3,1.9 3,1.7 3,1.6 3,1.4 3,1.7 3,1.9 3,1.9 3,1.8 3,1.5 3,1.2 3,1.1 3,1.1 3,1.3 3,1.6 3,1.8 3,1.8 3,1.7 3,1.5 3,1.4 3,1.4 3,1.6 3,1.8 3,3.0 3,2.8 3,2.4 3,2.3 3,2.1 3,2.1 3,2.2 3,2.7 3,3.2 3,3.0 3,2.8 3,2.7 3,2.2 3,2.3 3,2.6 3,2.5 3,2.6 3,3.7"/>
<path d="M218.3,41.3l3,0.8 3,1.1 3,1.7 3,0.6 3,1.3 3,1.5 3,1.5 3,1.5 3,1.4 3,1.6 3,1.3 3,1.2 3,1.7 3,1.8 3,1.9 3,1.5 3,1.6 3,2.0 3,1.8 3,1.6 3,1.6 3,1.7 3,1.9 3,1.8 3,1.8 3,1.5 3,1.3 3,1.2 3,1.2 3,1.5 3,1.7 3,1.9 3,1.9 3,1.8 3,1.6 3,1.6 3,1.5 3,1.7 3,1.9 3,2.9 3,2.8 3,2.4 3,2.3 3,2.2 3,2.2 3,2.3 3,2.7 3,3.2 3,3.1 3,2.9 3,2.8 3,2.4 3,2.4 3,2.8 3,2.7 3,2.6 3,3.8"/>
<path d="M218.3,49.0l3,0.4 3,1.1 3,2.0 3,1.2 3,1.7 3,1.7 3,1.2 3,1.1 3,1.0 3,1.4 3,1.3 3,1.4 3,1.8 3,1.5 3,1.4 3,0.8 3,1.0 3,1.6 3,1.8 3,2.0 3,2.0 3,1.9 3,1.9 3,1.5 3,1.5 3,1.4 3,1.4 3,1.5 3,1.5 3,1.5 3,1.4 3,1.2 3,1.1 3,1.3 3,1.4 3,1.6 3,1.7 3,1.9 3,1.8 3,2.6 3,2.4 3,2.1 3,2.5 3,2.6 3,2.6 3,2.7 3,2.7 3,2.8 3,2.5 3,2.3 3,2.4 3,2.3 3,2.6 3,2.8 3,2.5 3,2.2 3,3.2"/>
<path d="M218.3,47.2l3,0.4 3,0.9 3,1.8 3,0.9 3,1.4 3,1.5 3,1.1 3,1.0 3,1.0 3,1.4 3,1.3 3,1.5 3,1.8 3,1.7 3,1.5 3,1.1 3,1.1 3,1.7 3,1.8 3,1.8 3,1.7 3,1.7 3,1.7 3,1.4 3,1.3 3,1.3 3,1.2 3,1.4 3,1.4 3,1.5 3,1.5 3,1.4 3,1.4 3,1.4 3,1.6 3,1.6 3,1.7 3,1.8 3,1.7 3,2.5 3,2.3 3,2.0 3,2.2 3,2.4 3,2.4 3,2.4 3,2.6 3,2.9 3,2.6 3,2.4 3,2.6 3,2.4 3,2.7 3,2.9 3,2.5 3,2.3 3,3.3"/>
<path d="M218.3,41.7l3,0.4 3,0.9 3,1.8 3,0.8 3,1.3 3,1.3 3,1.0 3,1.0 3,1.2 3,1.4 3,1.5 3,1.6 3,1.9 3,1.8 3,1.7 3,1.2 3,1.2 3,1.8 3,1.8 3,1.8 3,1.7 3,1.6 3,1.5 3,1.3 3,1.3 3,1.2 3,1.3 3,1.4 3,1.5 3,1.6 3,1.5 3,1.6 3,1.5 3,1.6 3,1.7 3,1.8 3,1.8 3,1.7 3,1.7 3,2.5 3,2.2 3,2.0 3,2.1 3,2.3 3,2.3 3,2.4 3,2.7 3,2.8 3,2.7 3,2.6 3,2.8 3,2.6 3,2.8 3,3.0 3,2.6 3,2.4 3,3.3"/>
<path d="M218.3,61.9l3,0.5 3,0.8 3,1.5 3,0.5 3,1.1 3,1.5 3,1.4 3,1.5 3,1.4 3,1.5 3,1.3 3,1.2 3,1.7 3,1.7 3,1.8 3,1.4 3,1.4 3,1.7 3,1.5 3,1.4 3,1.4 3,1.5 3,1.8 3,1.7 3,1.6 3,1.5 3,1.2 3,1.1 3,1.3 3,1.5 3,1.7 3,1.9 3,1.7 3,1.7 3,1.5 3,1.3 3,1.3 3,1.5 3,1.8 3,2.7 3,2.5 3,2.2 3,2.1 3,2.1 3,2.1 3,2.3 3,2.8 3,3.2 3,3.1 3,2.8 3,2.7 3,2.3 3,2.3 3,2.7 3,2.5 3,2.5 3,3.4"/>
<path d="M218.3,66.5l3,0.5 3,1.0 3,1.8 3,0.9 3,1.4 3,1.6 3,1.3 3,1.4 3,1.5 3,1.8 3,1.6 3,1.7 3,1.9 3,1.8 3,1.6 3,1.2 3,1.2 3,1.8 3,1.8 3,1.7 3,1.6 3,1.7 3,1.7 3,1.6 3,1.6 3,1.6 3,1.5 3,1.6 3,1.7 3,1.7 3,1.7 3,1.6 3,1.7 3,1.7 3,1.7 3,1.6 3,1.6 3,1.6 3,1.7 3,2.5 3,2.4 3,2.2 3,2.4 3,2.5 3,2.5 3,2.6 3,2.8 3,3.2 3,2.9 3,2.8 3,2.8 3,2.6 3,2.5 3,2.7 3,2.3 3,2.0 3,3.0"/>
<path d="M218.3,61.1l3,0.6 3,0.9 3,1.5 3,0.6 3,1.1 3,1.6 3,1.5 3,1.7 3,1.6 3,1.7 3,1.5 3,1.3 3,1.5 3,1.6 3,1.7 3,1.3 3,1.3 3,1.7 3,1.5 3,1.3 3,1.3 3,1.5 3,1.7 3,1.8 3,1.9 3,1.7 3,1.4 3,1.4 3,1.3 3,1.5 3,1.7 3,1.8 3,1.8 3,1.7 3,1.4 3,1.3 3,1.1 3,1.4 3,1.5 3,2.7 3,2.6 3,2.3 3,2.3 3,2.3 3,2.2 3,2.4 3,2.9 3,3.3 3,3.2 3,3.0 3,2.7 3,2.3 3,2.3 3,2.5 3,2.2 3,2.3 3,3.4"/>
<path d="M218.3,60.2l3,0.4 3,0.8 3,1.5 3,0.9 3,1.5 3,1.9 3,1.4 3,1.3 3,1.2 3,1.2 3,1.2 3,1.4 3,2.0 3,2.1 3,2.0 3,1.4 3,1.2 3,1.6 3,1.6 3,1.7 3,1.8 3,2.0 3,2.0 3,1.8 3,1.4 3,1.2 3,1.0 3,1.2 3,1.6 3,1.7 3,2.0 3,1.8 3,1.6 3,1.5 3,1.3 3,1.5 3,1.8 3,2.0 3,2.1 3,2.9 3,2.5 3,2.0 3,2.0 3,2.1 3,2.4 3,2.6 3,3.0 3,3.3 3,2.9 3,2.5 3,2.4 3,2.3 3,2.6 3,3.0 3,2.9 3,2.6 3,3.5"/>
<path d="M218.3,67.0l3,0.9 3,1.3 3,2.1 3,0.9 3,1.1 3,1.1 3,1.0 3,1.2 3,1.4 3,1.8 3,1.5 3,1.4 3,1.5 3,1.3 3,1.3 3,1.0 3,1.5 3,2.1 3,2.1 3,1.9 3,1.5 3,1.4 3,1.4 3,1.5 3,1.7 3,1.7 3,1.6 3,1.5 3,1.2 3,1.1 3,1.1 3,1.3 3,1.6 3,1.8 3,1.9 3,1.8 3,1.5 3,1.4 3,1.5 3,2.4 3,2.6 3,2.5 3,2.6 3,2.6 3,2.3 3,2.1 3,2.3 3,2.7 3,2.7 3,2.8 3,2.9 3,2.5 3,2.5 3,2.5 3,2.0 3,2.0 3,3.2"/>
<path d="M218.3,62.9l3,0.4 3,0.7 3,1.4 3,0.6 3,1.4 3,1.8 3,1.7 3,1.6 3,1.3 3,1.3 3,1.0 3,1.1 3,1.6 3,1.8 3,1.9 3,1.4 3,1.1 3,1.5 3,1.3 3,1.4 3,1.5 3,1.9 3,2.1 3,1.9 3,1.7 3,1.4 3,1.0 3,1.1 3,1.3 3,1.5 3,1.9 3,1.9 3,1.6 3,1.4 3,1.1 3,1.1 3,1.3 3,1.6 3,2.0 3,3.0 3,2.7 3,2.1 3,2.0 3,2.1 3,2.1 3,2.5 3,3.1 3,3.4 3,3.0 3,2.6 3,2.3 3,2.0 3,2.1 3,2.6 3,2.5 3,2.5 3,3.4"/>
<path d="M218.3,61.6l3,0.6 3,1.2 3,2.0 3,1.0 3,1.3 3,1.3 3,1.1 3,1.2 3,1.4 3,1.8 3,1.7 3,1.6 3,1.7 3,1.5 3,1.3 3,0.9 3,1.1 3,2.0 3,1.9 3,1.9 3,1.6 3,1.4 3,1.5 3,1.4 3,1.5 3,1.7 3,1.8 3,1.6 3,1.6 3,1.3 3,1.3 3,1.4 3,1.4 3,1.7 3,1.8 3,1.7 3,1.6 3,1.5 3,1.4 3,2.3 3,2.3 3,2.3 3,2.6 3,2.6 3,2.6 3,2.4 3,2.6 3,2.8 3,2.7 3,2.7 3,2.9 3,2.7 3,2.6 3,2.7 3,2.1 3,1.9 3,3.1"/>
<path d="M218.3,78.2l3,0.4 3,0.9 3,1.8 3,0.8 3,1.4 3,1.6 3,1.2 3,1.2 3,1.2 3,1.6 3,1.5 3,1.7 3,2.0 3,2.0 3,1.8 3,1.2 3,1.2 3,1.7 3,1.8 3,1.8 3,1.7 3,1.7 3,1.6 3,1.5 3,1.3 3,1.3 3,1.4 3,1.5 3,1.6 3,1.7 3,1.8 3,1.7 3,1.6 3,1.6 3,1.7 3,1.7 3,1.7 3,1.8 3,1.8 3,2.5 3,2.3 3,1.9 3,2.2 3,2.3 3,2.4 3,2.5 3,2.8 3,3.0 3,2.7 3,2.4 3,2.5 3,2.2 3,2.3 3,2.2 3,1.8 3,1.5 3,2.3"/>
<path d="M218.3,62.8l3,0.7 3,1.1 3,1.7 3,0.5 3,1.0 3,1.4 3,1.3 3,1.6 3,1.7 3,1.8 3,1.5 3,1.3 3,1.4 3,1.4 3,1.6 3,1.3 3,1.4 3,1.9 3,1.7 3,1.4 3,1.2 3,1.4 3,1.6 3,1.7 3,1.9 3,1.8 3,1.5 3,1.3 3,1.2 3,1.3 3,1.5 3,1.7 3,1.8 3,1.9 3,1.6 3,1.3 3,1.2 3,1.3 3,1.4 3,2.6 3,2.7 3,2.4 3,2.5 3,2.3 3,2.2 3,2.2 3,2.6 3,3.1 3,3.1 3,3.1 3,2.9 3,2.3 3,2.3 3,2.4 3,2.1 3,2.2 3,3.3"/>
<path d="M218.3,61.9l3,0.6 3,0.6 3,1.3 3,0.4 3,1.3 3,1.9 3,1.8 3,1.7 3,1.5 3,1.3 3,1.0 3,1.1 3,1.7 3,2.1 3,2.2 3,1.7 3,1.5 3,1.6 3,1.3 3,1.3 3,1.4 3,1.9 3,2.2 3,2.1 3,1.7 3,1.4 3,1.0 3,0.9 3,1.3 3,1.7 3,2.1 3,2.2 3,1.9 3,1.6 3,1.3 3,1.1 3,1.3 3,1.7 3,2.2 3,3.1 3,2.8 3,2.2 3,2.0 3,1.8 3,2.1 3,2.4 3,3.1 3,3.6 3,3.4 3,2.8 3,2.5 3,2.0 3,2.2 3,2.7 3,2.8 3,2.8 3,3.8"/>
<path d="M218.3,62.1l3,0.5 3,1.0 3,1.6 3,0.8 3,1.3 3,1.6 3,1.4 3,1.3 3,1.3 3,1.4 3,1.3 3,1.5 3,1.8 3,1.9 3,1.8 3,1.4 3,1.3 3,1.8 3,1.7 3,1.7 3,1.6 3,1.8 3,1.8 3,1.7 3,1.5 3,1.4 3,1.2 3,1.3 3,1.4 3,1.6 3,1.8 3,1.7 3,1.7 3,1.7 3,1.5 3,1.6 3,1.6 3,1.8 3,1.9 3,2.7 3,2.6 3,2.1 3,2.2 3,2.2 3,2.3 3,2.4 3,2.8 3,3.2 3,2.9 3,2.7 3,2.7 3,2.4 3,2.5 3,2.9 3,2.6 3,2.5 3,3.4"/>
<path d="M218.3,62.9l3,0.5 3,0.6 3,1.3 3,0.5 3,1.4 3,1.8 3,1.8 3,1.6 3,1.3 3,1.3 3,1.1 3,1.2 3,1.8 3,2.0 3,2.1 3,1.6 3,1.3 3,1.6 3,1.3 3,1.3 3,1.5 3,1.9 3,2.1 3,1.9 3,1.7 3,1.3 3,1.0 3,1.1 3,1.3 3,1.8 3,2.0 3,2.1 3,1.8 3,1.5 3,1.3 3,1.1 3,1.4 3,1.8 3,2.0 3,3.0 3,2.7 3,2.1 3,1.9 3,2.0 3,2.1 3,2.5 3,3.1 3,3.5 3,3.2 3,2.8 3,2.4 3,2.1 3,2.2 3,2.8 3,2.8 3,2.7 3,3.5"/>
<path d="M218.3,63.7l3,0.5 3,1.0 3,1.6 3,0.7 3,1.3 3,1.5 3,1.4 3,1.4 3,1.5 3,1.6 3,1.4 3,1.4 3,1.6 3,1.7 3,1.6 3,1.3 3,1.2 3,1.8 3,1.6 3,1.6 3,1.4 3,1.6 3,1.7 3,1.7 3,1.7 3,1.6 3,1.4 3,1.3 3,1.4 3,1.5 3,1.6 3,1.7 3,1.7 3,1.6 3,1.6 3,1.4 3,1.4 3,1.5 3,1.6 3,2.6 3,2.6 3,2.2 3,2.4 3,2.3 3,2.3 3,2.4 3,2.7 3,3.2 3,3.0 3,2.8 3,2.7 3,2.4 3,2.4 3,2.6 3,2.4 3,2.2 3,3.4"/>
<path d="M218.3,52.4l3,0.6 3,1.2 3,1.9 3,0.8 3,1.2 3,1.2 3,1.0 3,1.1 3,1.3 3,1.6 3,1.6 3,1.5 3,1.6 3,1.5 3,1.4 3,1.0 3,1.2 3,2.0 3,2.0 3,1.8 3,1.5 3,1.5 3,1.4 3,1.3 3,1.5 3,1.6 3,1.5 3,1.5 3,1.3 3,1.3 3,1.3 3,1.3 3,1.5 3,1.8 3,1.8 3,1.7 3,1.6 3,1.5 3,1.4 3,2.4 3,2.3 3,2.3 3,2.5 3,2.4 3,2.4 3,2.2 3,2.5 3,2.7 3,2.7 3,2.7 3,2.9 3,2.6 3,2.6 3,2.7 3,2.3 3,2.1 3,3.2"/>
<path d="M218.3,62.8l3,0.6 3,1.1 3,1.9 3,0.9 3,1.5 3,1.5 3,1.2 3,1.2 3,1.3 3,1.6 3,1.5 3,1.6 3,1.8 3,1.7 3,1.6 3,1.1 3,1.2 3,1.8 3,1.9 3,1.9 3,1.7 3,1.7 3,1.7 3,1.5 3,1.5 3,1.5 3,1.5 3,1.5 3,1.6 3,1.5 3,1.5 3,1.5 3,1.5 3,1.7 3,1.6 3,1.7 3,1.7 3,1.8 3,1.7 3,2.5 3,2.4 3,2.2 3,2.4 3,2.5 3,2.5 3,2.5 3,2.7 3,3.0 3,2.7 3,2.7 3,2.7 3,2.6 3,2.6 3,2.8 3,2.5 3,2.2 3,3.2"/>
<path d="M218.3,65.0l3,0.5 3,1.1 3,2.0 3,1.1 3,1.4 3,1.4 3,0.9 3,0.9 3,1.1 3,1.4 3,1.5 3,1.6 3,1.8 3,1.6 3,1.4 3,0.9 3,1.1 3,1.9 3,2.0 3,2.0 3,1.8 3,1.8 3,1.5 3,1.3 3,1.2 3,1.4 3,1.4 3,1.5 3,1.5 3,1.4 3,1.3 3,1.3 3,1.3 3,1.5 3,1.7 3,1.8 3,1.9 3,1.8 3,1.6 3,2.4 3,2.3 3,2.0 3,2.4 3,2.5 3,2.6 3,2.4 3,2.5 3,2.7 3,2.4 3,2.4 3,2.6 3,2.6 3,2.7 3,2.8 3,2.3 3,2.1 3,2.9"/>
<path d="M218.3,67.6l3,0.2 3,0.9 3,1.8 3,1.1 3,1.4 3,1.4 3,0.7 3,0.4 3,0.4 3,1.0 3,1.3 3,1.7 3,2.1 3,2.1 3,1.7 3,1.0 3,1.1 3,1.7 3,2.0 3,2.2 3,2.1 3,1.9 3,1.5 3,1.0 3,0.7 3,0.7 3,0.9 3,1.3 3,1.5 3,1.6 3,1.5 3,1.3 3,1.1 3,1.4 3,1.7 3,2.1 3,2.3 3,2.3 3,1.9 3,2.5 3,1.9 3,1.6 3,1.8 3,2.2 3,2.4 3,2.4 3,2.5 3,2.6 3,2.1 3,2.1 3,2.4 3,2.6 3,3.1 3,3.4 3,3.0 3,2.5 3,3.1"/>
<path d="M218.3,65.0l3,0.3 3,0.9 3,2.0 3,1.1 3,1.5 3,1.5 3,1.1 3,0.9 3,1.0 3,1.4 3,1.5 3,1.7 3,2.0 3,1.8 3,1.5 3,1.0 3,1.0 3,1.7 3,1.8 3,2.0 3,1.9 3,1.9 3,1.6 3,1.3 3,1.2 3,1.2 3,1.4 3,1.5 3,1.7 3,1.6 3,1.5 3,1.4 3,1.3 3,1.4 3,1.6 3,1.8 3,1.9 3,1.9 3,1.8 3,2.4 3,2.2 3,1.9 3,2.2 3,2.5 3,2.6 3,2.6 3,2.7 3,2.9 3,2.4 3,2.4 3,2.6 3,2.6 3,2.8 3,3.0 3,2.6 3,2.1 3,3.1"/>
<path d="M218.3,65.2l3,0.2 3,0.9 3,2.0 3,1.2 3,1.6 3,1.5 3,1.0 3,0.9 3,1.0 3,1.4 3,1.6 3,1.9 3,2.1 3,1.8 3,1.5 3,0.7 3,0.9 3,1.6 3,1.8 3,2.1 3,1.9 3,1.9 3,1.5 3,1.2 3,1.1 3,1.2 3,1.5 3,1.7 3,1.9 3,1.7 3,1.5 3,1.2 3,1.2 3,1.4 3,1.6 3,1.8 3,2.0 3,1.9 3,1.6 3,2.3 3,2.0 3,1.8 3,2.3 3,2.6 3,2.7 3,2.7 3,2.8 3,2.8 3,2.4 3,2.3 3,2.6 3,2.7 3,2.8 3,3.1 3,2.4 3,2.0 3,2.8"/>
<path d="M218.3,52.0l3,0.4 3,1.0 3,2.0 3,1.2 3,1.6 3,1.6 3,1.1 3,1.1 3,1.1 3,1.6 3,1.6 3,1.7 3,1.9 3,1.6 3,1.5 3,0.8 3,0.9 3,1.7 3,1.8 3,2.0 3,1.9 3,1.8 3,1.6 3,1.4 3,1.4 3,1.4 3,1.6 3,1.7 3,1.7 3,1.6 3,1.5 3,1.3 3,1.2 3,1.4 3,1.6 3,1.7 3,1.8 3,1.8 3,1.6 3,2.4 3,2.3 3,2.0 3,2.4 3,2.7 3,2.7 3,2.7 3,2.8 3,2.8 3,2.6 3,2.5 3,2.6 3,2.6 3,2.7 3,3.0 3,2.4 3,2.1 3,3.1"/>
<path d="M218.3,65.9l3,0.7 3,1.3 3,2.1 3,1.1 3,1.2 3,1.1 3,0.8 3,0.8 3,1.1 3,1.6 3,1.6 3,1.7 3,1.7 3,1.5 3,1.4 3,0.9 3,1.3 3,2.1 3,2.2 3,2.1 3,1.8 3,1.6 3,1.3 3,1.1 3,1.3 3,1.4 3,1.6 3,1.5 3,1.4 3,1.3 3,1.1 3,1.2 3,1.4 3,1.8 3,2.0 3,2.0 3,1.9 3,1.7 3,1.5 3,2.3 3,2.3 3,2.2 3,2.5 3,2.6 3,2.4 3,2.3 3,2.2 3,2.5 3,2.5 3,2.5 3,2.9 3,2.8 3,2.9 3,2.9 3,2.3 3,2.1 3,3.1"/>
<path d="M218.3,61.1l3,0.5 3,1.0 3,1.8 3,1.0 3,1.5 3,1.7 3,1.3 3,1.1 3,1.0 3,1.1 3,1.1 3,1.3 3,1.8 3,1.8 3,1.8 3,1.2 3,1.1 3,1.8 3,1.7 3,1.9 3,2.0 3,2.0 3,2.0 3,1.6 3,1.4 3,1.2 3,1.1 3,1.2 3,1.4 3,1.5 3,1.5 3,1.5 3,1.4 3,1.4 3,1.4 3,1.6 3,1.8 3,2.0 3,2.1 3,2.9 3,2.5 3,2.1 3,2.2 3,2.2 3,2.4 3,2.5 3,2.8 3,2.9 3,2.6 3,2.4 3,2.3 3,2.2 3,2.6 3,3.0 3,2.7 3,2.6 3,3.5"/>
<path d="M218.3,64.2l3,0.4 3,1.1 3,1.9 3,1.1 3,1.6 3,1.6 3,1.3 3,1.1 3,1.2 3,1.5 3,1.5 3,1.6 3,1.9 3,1.9 3,1.6 3,1.0 3,1.2 3,1.8 3,1.9 3,1.9 3,1.9 3,1.9 3,1.8 3,1.5 3,1.4 3,1.4 3,1.5 3,1.5 3,1.7 3,1.6 3,1.6 3,1.5 3,1.4 3,1.5 3,1.6 3,1.8 3,1.8 3,1.9 3,1.9 3,2.6 3,2.3 3,2.2 3,2.3 3,2.5 3,2.6 3,2.7 3,2.8 3,2.9 3,2.7 3,2.5 3,2.7 3,2.5 3,2.7 3,2.9 3,2.6 3,2.2 3,3.2"/>
<path d="M218.3,51.2l3,0.7 3,0.9 3,1.4 3,0.5 3,1.1 3,1.7 3,1.7 3,1.7 3,1.5 3,1.5 3,1.1 3,1.0 3,1.6 3,1.8 3,2.0 3,1.7 3,1.5 3,1.8 3,1.4 3,1.4 3,1.4 3,1.7 3,2.1 3,2.0 3,1.8 3,1.6 3,1.1 3,1.0 3,1.1 3,1.5 3,1.9 3,2.0 3,2.0 3,1.7 3,1.4 3,1.2 3,1.2 3,1.6 3,2.0 3,3.0 3,2.9 3,2.3 3,2.2 3,2.0 3,2.0 3,2.3 3,2.9 3,3.5 3,3.2 3,2.9 3,2.6 3,2.2 3,2.2 3,2.6 3,2.6 3,2.7 3,3.8"/>
<path d="M218.3,54.6l3,0.6 3,1.0 3,1.9 3,1.0 3,1.4 3,1.6 3,1.3 3,1.2 3,1.4 3,1.8 3,1.6 3,1.8 3,2.0 3,1.8 3,1.7 3,1.2 3,1.2 3,1.9 3,1.9 3,1.9 3,1.7 3,1.7 3,1.7 3,1.5 3,1.5 3,1.6 3,1.5 3,1.7 3,1.7 3,1.7 3,1.7 3,1.6 3,1.7 3,1.7 3,1.7 3,1.8 3,1.8 3,1.7 3,1.7 3,2.6 3,2.3 3,2.2 3,2.4 3,2.5 3,2.6 3,2.6 3,2.9 3,3.1 3,2.9 3,2.8 3,2.9 3,2.7 3,2.8 3,2.9 3,2.6 3,2.3 3,3.3"/>
<path d="M218.3,65.3l3,0.7 3,1.0 3,1.8 3,0.8 3,1.2 3,1.5 3,1.2 3,1.4 3,1.3 3,1.6 3,1.5 3,1.4 3,1.8 3,1.8 3,1.7 3,1.4 3,1.4 3,2.0 3,1.8 3,1.8 3,1.6 3,1.6 3,1.7 3,1.6 3,1.6 3,1.5 3,1.4 3,1.3 3,1.4 3,1.5 3,1.6 3,1.7 3,1.8 3,1.8 3,1.7 3,1.7 3,1.6 3,1.7 3,1.7 3,2.7 3,2.6 3,2.2 3,2.4 3,2.3 3,2.2 3,2.4 3,2.7 3,3.0 3,2.9 3,2.8 3,2.8 3,2.5 3,2.5 3,2.7 3,2.4 3,2.2 3,3.2"/>
<path d="M218.3,69.4l3,0.1 3,0.4 3,1.5 3,0.9 3,1.7 3,2.0 3,1.5 3,1.1 3,0.8 3,1.0 3,1.0 3,1.4 3,2.0 3,2.1 3,1.9 3,1.0 3,0.8 3,1.2 3,1.3 3,1.6 3,1.9 3,2.2 3,2.0 3,1.6 3,1.2 3,0.9 3,0.9 3,1.2 3,1.7 3,1.9 3,1.9 3,1.6 3,1.2 3,1.0 3,1.0 3,1.3 3,1.7 3,2.1 3,2.1 3,2.8 3,2.2 3,1.7 3,1.8 3,2.0 3,2.5 3,2.8 3,3.1 3,3.2 3,2.7 3,2.1 3,2.1 3,2.0 3,2.4 3,3.0 3,2.8 3,2.4 3,3.0"/>
<path d="M218.3,68.0l3,0.5 3,0.7 3,1.2 3,0.4 3,1.2 3,1.9 3,1.8 3,1.7 3,1.5 3,1.2 3,0.9 3,1.0 3,1.5 3,2.0 3,2.1 3,1.6 3,1.4 3,1.5 3,1.2 3,1.2 3,1.4 3,1.8 3,2.2 3,2.1 3,1.8 3,1.4 3,0.9 3,0.8 3,1.2 3,1.6 3,2.0 3,2.1 3,1.9 3,1.5 3,1.1 3,1.0 3,1.1 3,1.7 3,2.1 3,3.1 3,2.8 3,2.2 3,1.9 3,1.9 3,1.9 3,2.4 3,3.1 3,3.5 3,3.3 3,2.7 3,2.4 3,1.8 3,2.0 3,2.6 3,2.5 3,2.7 3,3.5"/>
<path d="M218.3,67.8l3,0.6 3,1.0 3,1.7 3,0.8 3,1.2 3,1.5 3,1.2 3,1.3 3,1.3 3,1.5 3,1.4 3,1.4 3,1.6 3,1.7 3,1.7 3,1.3 3,1.3 3,1.9 3,1.7 3,1.7 3,1.5 3,1.7 3,1.7 3,1.6 3,1.5 3,1.5 3,1.3 3,1.3 3,1.3 3,1.4 3,1.6 3,1.7 3,1.6 3,1.7 3,1.6 3,1.6 3,1.5 3,1.6 3,1.7 3,2.7 3,2.5 3,2.2 3,2.3 3,2.3 3,2.2 3,2.3 3,2.7 3,3.0 3,2.9 3,2.7 3,2.6 3,2.4 3,2.4 3,2.7 3,2.3 3,2.2 3,3.2"/>
<path d="M218.3,66.6l3,0.5 3,1.3 3,2.1 3,1.0 3,1.3 3,1.3 3,0.8 3,1.1 3,1.3 3,1.8 3,1.9 3,1.8 3,1.9 3,1.6 3,1.4 3,0.9 3,1.2 3,2.0 3,2.2 3,2.0 3,1.7 3,1.4 3,1.3 3,1.2 3,1.4 3,1.6 3,1.8 3,1.8 3,1.6 3,1.5 3,1.3 3,1.3 3,1.5 3,1.8 3,2.0 3,2.0 3,1.8 3,1.6 3,1.4 3,2.2 3,2.2 3,2.1 3,2.6 3,2.7 3,2.6 3,2.4 3,2.5 3,2.7 3,2.6 3,2.7 3,3.0 3,2.9 3,2.8 3,2.7 3,2.1 3,1.8 3,2.9"/>
<path d="M218.3,62.5l3,0.6 3,1.0 3,1.9 3,0.9 3,1.4 3,1.5 3,1.2 3,1.2 3,1.3 3,1.6 3,1.5 3,1.6 3,1.8 3,1.7 3,1.6 3,1.2 3,1.2 3,1.9 3,1.8 3,1.8 3,1.7 3,1.7 3,1.7 3,1.5 3,1.5 3,1.5 3,1.4 3,1.5 3,1.5 3,1.6 3,1.5 3,1.6 3,1.5 3,1.7 3,1.6 3,1.7 3,1.7 3,1.7 3,1.7 3,2.6 3,2.4 3,2.2 3,2.3 3,2.5 3,2.4 3,2.5 3,2.7 3,3.0 3,2.8 3,2.7 3,2.7 3,2.5 3,2.6 3,2.8 3,2.4 3,2.2 3,3.2"/>
<path d="M218.3,47.1l3,0.4 3,1.0 3,1.8 3,1.0 3,1.4 3,1.6 3,1.1 3,1.0 3,1.1 3,1.5 3,1.5 3,1.6 3,1.9 3,1.7 3,1.6 3,1.0 3,1.1 3,1.7 3,1.8 3,1.9 3,1.7 3,1.8 3,1.6 3,1.4 3,1.3 3,1.3 3,1.4 3,1.5 3,1.6 3,1.6 3,1.5 3,1.5 3,1.3 3,1.5 3,1.6 3,1.7 3,1.8 3,1.8 3,1.7 3,2.4 3,2.3 3,2.0 3,2.3 3,2.4 3,2.5 3,2.6 3,2.7 3,2.9 3,2.6 3,2.5 3,2.7 3,2.5 3,2.8 3,2.9 3,2.6 3,2.2 3,3.2"/>
<path d="M218.3,58.3l3,0.6 3,0.8 3,1.4 3,0.5 3,1.2 3,1.6 3,1.5 3,1.6 3,1.5 3,1.6 3,1.3 3,1.3 3,1.6 3,1.8 3,1.9 3,1.4 3,1.3 3,1.7 3,1.5 3,1.3 3,1.4 3,1.6 3,1.8 3,1.8 3,1.7 3,1.6 3,1.2 3,1.2 3,1.3 3,1.6 3,1.8 3,1.9 3,1.8 3,1.7 3,1.5 3,1.2 3,1.3 3,1.5 3,1.7 3,2.8 3,2.6 3,2.2 3,2.2 3,2.1 3,2.1 3,2.4 3,2.9 3,3.3 3,3.2 3,2.9 3,2.7 3,2.3 3,2.3 3,2.6 3,2.5 3,2.4 3,3.5"/>
<path d="M218.3,63.8l3,0.3 3,0.9 3,1.7 3,1.0 3,1.5 3,1.6 3,1.2 3,1.1 3,1.1 3,1.3 3,1.4 3,1.6 3,1.9 3,1.8 3,1.7 3,1.0 3,1.1 3,1.6 3,1.7 3,1.8 3,1.7 3,1.9 3,1.7 3,1.4 3,1.3 3,1.3 3,1.3 3,1.4 3,1.6 3,1.7 3,1.6 3,1.5 3,1.4 3,1.4 3,1.4 3,1.7 3,1.7 3,1.8 3,1.8 3,2.6 3,2.2 3,2.0 3,2.1 3,2.4 3,2.5 3,2.6 3,2.8 3,3.0 3,2.6 3,2.5 3,2.5 3,2.4 3,2.7 3,2.9 3,2.6 3,2.3 3,3.1"/>
<path d="M218.3,68.7l3,0.8 3,1.5 3,2.1 3,1.0 3,1.3 3,1.2 3,0.9 3,1.1 3,1.2 3,1.6 3,1.5 3,1.4 3,1.5 3,1.4 3,1.4 3,1.0 3,1.4 3,2.1 3,2.2 3,2.1 3,1.7 3,1.6 3,1.5 3,1.5 3,1.5 3,1.6 3,1.5 3,1.5 3,1.2 3,1.1 3,1.1 3,1.3 3,1.4 3,1.8 3,1.9 3,1.9 3,1.7 3,1.6 3,1.6 3,2.6 3,2.5 3,2.4 3,2.7 3,2.6 3,2.3 3,2.2 3,2.3 3,2.6 3,2.5 3,2.6 3,2.8 3,2.6 3,2.5 3,2.6 3,2.2 3,2.1 3,3.1"/>
<path d="M218.3,53.6l3,0.7 3,1.1 3,1.9 3,0.8 3,1.2 3,1.3 3,0.9 3,0.9 3,1.0 3,1.4 3,1.3 3,1.5 3,1.8 3,1.8 3,1.7 3,1.3 3,1.5 3,2.1 3,2.0 3,2.0 3,1.8 3,1.7 3,1.6 3,1.3 3,1.3 3,1.2 3,1.2 3,1.2 3,1.3 3,1.3 3,1.5 3,1.5 3,1.6 3,1.7 3,1.9 3,1.9 3,2.0 3,1.9 3,1.8 3,2.7 3,2.4 3,2.1 3,2.2 3,2.3 3,2.2 3,2.2 3,2.4 3,2.7 3,2.6 3,2.5 3,2.8 3,2.6 3,2.8 3,3.1 3,2.7 3,2.5 3,3.5"/>
<path d="M218.3,69.1l3,0.6 3,1.2 3,2.1 3,1.1 3,1.6 3,1.7 3,1.3 3,1.2 3,1.3 3,1.5 3,1.3 3,1.3 3,1.5 3,1.4 3,1.3 3,0.8 3,1.1 3,1.8 3,1.8 3,1.9 3,1.8 3,1.9 3,1.8 3,1.7 3,1.8 3,1.6 3,1.5 3,1.5 3,1.4 3,1.3 3,1.2 3,1.3 3,1.2 3,1.4 3,1.4 3,1.5 3,1.6 3,1.6 3,1.7 3,2.7 3,2.6 3,2.4 3,2.6 3,2.7 3,2.6 3,2.5 3,2.6 3,2.9 3,2.6 3,2.4 3,2.5 3,2.2 3,2.3 3,2.5 3,2.2 3,2.0 3,3.2"/>
<path d="M218.3,69.1l3,0.4 3,1.0 3,2.1 3,1.1 3,1.5 3,1.5 3,1.0 3,0.9 3,1.2 3,1.6 3,1.7 3,1.8 3,2.0 3,1.7 3,1.3 3,0.9 3,1.0 3,1.8 3,2.0 3,2.0 3,1.8 3,1.7 3,1.5 3,1.2 3,1.3 3,1.5 3,1.6 3,1.7 3,1.7 3,1.6 3,1.4 3,1.3 3,1.3 3,1.6 3,1.7 3,1.9 3,1.8 3,1.8 3,1.5 3,2.3 3,2.2 3,2.0 3,2.4 3,2.7 3,2.7 3,2.6 3,2.6 3,2.8 3,2.5 3,2.5 3,2.7 3,2.7 3,2.7 3,2.8 3,2.3 3,1.8 3,2.8"/>
<path d="M218.3,70.7l3,0.6 3,1.0 3,1.7 3,0.7 3,1.2 3,1.3 3,1.1 3,1.2 3,1.2 3,1.5 3,1.4 3,1.3 3,1.7 3,1.8 3,1.7 3,1.3 3,1.4 3,2.0 3,1.8 3,1.7 3,1.6 3,1.5 3,1.6 3,1.5 3,1.5 3,1.4 3,1.2 3,1.2 3,1.3 3,1.4 3,1.5 3,1.6 3,1.7 3,1.8 3,1.7 3,1.7 3,1.6 3,1.6 3,1.8 3,2.6 3,2.5 3,2.1 3,2.3 3,2.1 3,2.2 3,2.2 3,2.6 3,2.9 3,2.8 3,2.7 3,2.7 3,2.4 3,2.5 3,2.8 3,2.4 3,2.2 3,3.3"/>
<path d="M218.3,65.3l3,0.6 3,1.2 3,2.0 3,1.0 3,1.4 3,1.5 3,1.2 3,1.3 3,1.6 3,2.0 3,1.9 3,1.9 3,2.1 3,1.8 3,1.6 3,1.2 3,1.4 3,2.0 3,2.0 3,2.0 3,1.6 3,1.6 3,1.6 3,1.4 3,1.6 3,1.8 3,1.8 3,1.8 3,1.8 3,1.7 3,1.7 3,1.6 3,1.8 3,1.9 3,2.0 3,1.9 3,1.8 3,1.6 3,1.6 3,2.4 3,2.4 3,2.2 3,2.6 3,2.7 3,2.7 3,2.6 3,2.7 3,3.1 3,2.9 3,2.9 3,3.1 3,2.8 3,2.7 3,2.6 3,2.1 3,1.9 3,2.8"/>
<path d="M218.3,55.8l3,0.7 3,1.4 3,2.2 3,1.2 3,1.6 3,1.6 3,1.2 3,1.3 3,1.3 3,1.6 3,1.5 3,1.5 3,1.7 3,1.6 3,1.4 3,1.1 3,1.3 3,2.0 3,2.1 3,2.1 3,1.9 3,1.9 3,1.8 3,1.7 3,1.6 3,1.7 3,1.6 3,1.6 3,1.5 3,1.4 3,1.3 3,1.4 3,1.4 3,1.6 3,1.8 3,1.8 3,1.8 3,1.8 3,1.8 3,2.7 3,2.7 3,2.4 3,2.7 3,2.7 3,2.6 3,2.5 3,2.7 3,2.9 3,2.6 3,2.6 3,2.7 3,2.5 3,2.6 3,2.8 3,2.4 3,2.2 3,3.2"/>
<path d="M218.3,62.8l3,0.6 3,1.1 3,1.9 3,0.8 3,1.1 3,1.3 3,1.1 3,1.3 3,1.6 3,2.0 3,1.7 3,1.7 3,1.7 3,1.5 3,1.5 3,1.0 3,1.2 3,1.9 3,1.9 3,1.7 3,1.4 3,1.3 3,1.4 3,1.4 3,1.6 3,1.8 3,1.7 3,1.7 3,1.5 3,1.5 3,1.4 3,1.6 3,1.6 3,1.8 3,1.8 3,1.7 3,1.4 3,1.4 3,1.3 3,2.3 3,2.3 3,2.3 3,2.5 3,2.5 3,2.5 3,2.4 3,2.6 3,3.0 3,2.9 3,3.0 3,3.0 3,2.7 3,2.6 3,2.7 3,2.1 3,2.0 3,3.1"/>
<path d="M218.3,72.4l3,0.6 3,0.9 3,1.6 3,0.8 3,1.4 3,1.6 3,1.5 3,1.5 3,1.4 3,1.5 3,1.2 3,1.2 3,1.5 3,1.5 3,1.5 3,1.0 3,1.1 3,1.6 3,1.5 3,1.5 3,1.5 3,1.6 3,1.9 3,1.8 3,1.7 3,1.6 3,1.4 3,1.3 3,1.3 3,1.4 3,1.5 3,1.5 3,1.5 3,1.4 3,1.3 3,1.2 3,1.2 3,1.5 3,1.7 3,2.6 3,2.6 3,2.3 3,2.3 3,2.3 3,2.4 3,2.4 3,2.8 3,3.1 3,2.9 3,2.6 3,2.4 3,2.1 3,2.1 3,2.4 3,2.1 3,2.1 3,3.1"/>
<path d="M218.3,71.4l3,0.5 3,1.0 3,1.7 3,0.9 3,1.3 3,1.6 3,1.3 3,1.3 3,1.4 3,1.6 3,1.4 3,1.5 3,1.7 3,1.7 3,1.6 3,1.0 3,1.1 3,1.7 3,1.7 3,1.6 3,1.6 3,1.7 3,1.6 3,1.6 3,1.6 3,1.5 3,1.5 3,1.4 3,1.5 3,1.6 3,1.5 3,1.6 3,1.5 3,1.5 3,1.5 3,1.5 3,1.5 3,1.6 3,1.6 3,2.5 3,2.4 3,2.2 3,2.3 3,2.4 3,2.4 3,2.5 3,2.8 3,3.0 3,2.8 3,2.7 3,2.6 3,2.3 3,2.3 3,2.5 3,2.1 3,2.0 3,2.8"/>
<path d="M218.3,50.6l3,0.5 3,1.1 3,1.9 3,0.9 3,1.5 3,1.6 3,1.3 3,1.3 3,1.4 3,1.7 3,1.5 3,1.6 3,1.8 3,1.7 3,1.5 3,1.0 3,1.2 3,1.7 3,1.8 3,1.8 3,1.7 3,1.7 3,1.7 3,1.6 3,1.6 3,1.6 3,1.5 3,1.6 3,1.6 3,1.6 3,1.5 3,1.6 3,1.5 3,1.5 3,1.6 3,1.6 3,1.6 3,1.6 3,1.7 3,2.5 3,2.4 3,2.3 3,2.4 3,2.5 3,2.6 3,2.6 3,2.8 3,3.1 3,2.8 3,2.7 3,2.7 3,2.6 3,2.6 3,2.8 3,2.4 3,2.2 3,3.2"/>
<path d="M218.3,68.5l3,0.6 3,0.9 3,1.7 3,0.9 3,1.5 3,1.8 3,1.4 3,1.3 3,1.3 3,1.4 3,1.3 3,1.6 3,2.0 3,2.1 3,2.0 3,1.5 3,1.4 3,1.8 3,1.8 3,1.8 3,1.8 3,2.0 3,1.9 3,1.7 3,1.6 3,1.3 3,1.2 3,1.3 3,1.5 3,1.8 3,1.9 3,1.9 3,1.7 3,1.7 3,1.6 3,1.7 3,1.8 3,2.0 3,2.1 3,2.9 3,2.5 3,2.1 3,2.2 3,2.2 3,2.4 3,2.5 3,3.0 3,3.2 3,2.8 3,2.6 3,2.5 3,2.3 3,2.4 3,2.7 3,2.3 3,2.0 3,2.8"/>
<path d="M218.3,71.4l3,0.3 3,0.8 3,1.8 3,1.1 3,1.7 3,1.7 3,1.2 3,1.0 3,1.0 3,1.4 3,1.4 3,1.8 3,2.1 3,1.9 3,1.7 3,1.0 3,0.9 3,1.6 3,1.7 3,2.0 3,1.9 3,1.9 3,1.8 3,1.4 3,1.2 3,1.2 3,1.3 3,1.6 3,1.7 3,1.8 3,1.7 3,1.5 3,1.3 3,1.4 3,1.5 3,1.7 3,1.9 3,1.9 3,1.9 3,2.5 3,2.2 3,1.8 3,2.2 3,2.4 3,2.6 3,2.8 3,2.9 3,2.9 3,2.6 3,2.4 3,2.5 3,2.4 3,2.7 3,2.9 3,2.4 3,2.1 3,2.8"/>
<path d="M218.3,64.7l3,0.2 3,1.0 3,2.1 3,1.4 3,1.7 3,1.6 3,1.0 3,0.8 3,1.0 3,1.4 3,1.7 3,1.9 3,2.1 3,1.8 3,1.3 3,0.7 3,0.8 3,1.6 3,1.9 3,2.2 3,2.1 3,1.9 3,1.6 3,1.2 3,1.1 3,1.3 3,1.5 3,1.9 3,1.9 3,1.7 3,1.4 3,1.2 3,1.0 3,1.3 3,1.6 3,1.9 3,2.1 3,1.9 3,1.7 3,2.3 3,2.0 3,1.9 3,2.3 3,2.8 3,2.9 3,2.8 3,2.8 3,2.7 3,2.3 3,2.3 3,2.5 3,2.7 3,3.0 3,3.1 3,2.5 3,2.0 3,2.8"/>
<path d="M218.3,72.4l3,0.3 3,1.0 3,2.0 3,1.1 3,1.5 3,1.4 3,0.8 3,0.8 3,1.0 3,1.5 3,1.7 3,1.9 3,2.1 3,1.8 3,1.6 3,0.9 3,1.0 3,1.9 3,2.0 3,2.0 3,1.9 3,1.8 3,1.4 3,1.1 3,1.1 3,1.2 3,1.4 3,1.7 3,1.7 3,1.7 3,1.5 3,1.3 3,1.3 3,1.6 3,1.8 3,2.0 3,2.1 3,1.8 3,1.7 3,2.3 3,2.0 3,1.9 3,2.2 3,2.5 3,2.6 3,2.6 3,2.6 3,2.7 3,2.4 3,2.5 3,2.7 3,2.7 3,2.8 3,3.0 3,2.3 3,1.9 3,2.7"/>
<path d="M218.3,71.6l3,-0.1 3,0.7 3,2.0 3,1.4 3,2.1 3,2.0 3,1.3 3,1.0 3,0.8 3,1.2 3,1.5 3,1.9 3,2.4 3,2.0 3,1.6 3,0.6 3,0.5 3,1.3 3,1.6 3,2.1 3,2.3 3,2.2 3,1.9 3,1.3 3,1.1 3,1.1 3,1.4 3,1.8 3,2.1 3,2.1 3,1.8 3,1.2 3,0.9 3,1.0 3,1.3 3,1.7 3,2.1 3,2.1 3,2.0 3,2.4 3,1.9 3,1.7 3,2.1 3,2.7 3,3.0 3,3.2 3,3.1 3,3.0 3,2.4 3,2.0 3,2.2 3,2.4 3,2.7 3,3.0 3,2.5 3,1.9 3,2.5"/>
<path d="M218.3,72.5l3,0.5 3,1.0 3,1.7 3,0.7 3,1.4 3,1.6 3,1.3 3,1.4 3,1.3 3,1.5 3,1.4 3,1.4 3,1.7 3,1.8 3,1.8 3,1.3 3,1.2 3,1.8 3,1.7 3,1.6 3,1.6 3,1.8 3,1.8 3,1.7 3,1.5 3,1.5 3,1.3 3,1.3 3,1.4 3,1.5 3,1.7 3,1.7 3,1.7 3,1.6 3,1.5 3,1.5 3,1.6 3,1.7 3,1.8 3,2.7 3,2.5 3,2.2 3,2.2 3,2.3 3,2.3 3,2.5 3,2.7 3,3.1 3,2.9 3,2.7 3,2.5 3,2.3 3,2.4 3,2.5 3,2.3 3,2.1 3,2.9"/>
<path d="M218.3,74.2l3,-0.1 3,0.7 3,1.9 3,1.3 3,1.9 3,1.8 3,1.2 3,0.9 3,0.8 3,1.3 3,1.5 3,1.9 3,2.2 3,1.9 3,1.5 3,0.6 3,0.5 3,1.3 3,1.6 3,2.0 3,2.1 3,2.0 3,1.7 3,1.2 3,1.1 3,1.1 3,1.4 3,1.8 3,2.0 3,1.9 3,1.7 3,1.2 3,0.9 3,1.1 3,1.3 3,1.7 3,1.9 3,2.0 3,1.7 3,2.3 3,1.9 3,1.7 3,2.1 3,2.6 3,2.9 3,3.0 3,3.0 3,2.9 3,2.4 3,2.1 3,2.3 3,2.4 3,2.8 3,3.0 3,2.4 3,1.9 3,2.6"/>
<path d="M218.3,72.6l3,0.3 3,0.9 3,1.8 3,0.9 3,1.4 3,1.5 3,1.1 3,1.1 3,1.2 3,1.6 3,1.6 3,1.8 3,2.1 3,1.9 3,1.7 3,1.1 3,1.2 3,1.7 3,1.8 3,1.9 3,1.7 3,1.7 3,1.6 3,1.3 3,1.3 3,1.3 3,1.4 3,1.6 3,1.7 3,1.7 3,1.7 3,1.6 3,1.5 3,1.7 3,1.7 3,1.8 3,1.8 3,1.8 3,1.7 3,2.4 3,2.2 3,1.9 3,2.2 3,2.4 3,2.5 3,2.5 3,2.8 3,3.0 3,2.7 3,2.6 3,2.7 3,2.6 3,2.7 3,2.7 3,2.3 3,1.9 3,2.8"/>
<path d="M218.3,44.5l3,0.0 3,0.8 3,2.0 3,1.4 3,1.9 3,1.9 3,1.2 3,0.9 3,0.8 3,1.2 3,1.5 3,2.0 3,2.4 3,2.2 3,1.6 3,0.8 3,0.7 3,1.5 3,1.8 3,2.2 3,2.2 3,2.2 3,1.8 3,1.3 3,1.0 3,1.0 3,1.4 3,1.8 3,2.0 3,2.1 3,1.7 3,1.4 3,1.1 3,1.1 3,1.5 3,1.9 3,2.2 3,2.2 3,2.0 3,2.5 3,2.0 3,1.6 3,2.1 3,2.6 3,3.0 3,3.0 3,3.1 3,3.0 3,2.4 3,2.1 3,2.5 3,2.6 3,3.1 3,3.4 3,3.0 3,2.3 3,3.0"/>
<path d="M218.3,60.3l3,0.4 3,0.9 3,1.8 3,1.1 3,1.5 3,1.7 3,1.2 3,1.1 3,1.1 3,1.4 3,1.5 3,1.7 3,1.9 3,1.9 3,1.7 3,1.0 3,1.1 3,1.6 3,1.8 3,1.9 3,1.8 3,1.9 3,1.7 3,1.5 3,1.3 3,1.4 3,1.3 3,1.5 3,1.7 3,1.7 3,1.6 3,1.5 3,1.4 3,1.5 3,1.6 3,1.7 3,1.8 3,1.8 3,1.8 3,2.6 3,2.3 3,2.0 3,2.2 3,2.4 3,2.6 3,2.7 3,2.8 3,3.0 3,2.7 3,2.5 3,2.6 3,2.5 3,2.7 3,3.1 3,2.6 3,2.3 3,3.2"/>
<path d="M218.3,74.2l3,0.4 3,1.0 3,1.7 3,0.7 3,1.1 3,1.3 3,1.0 3,1.1 3,1.2 3,1.7 3,1.6 3,1.8 3,2.0 3,1.9 3,1.8 3,1.3 3,1.3 3,2.0 3,1.8 3,1.8 3,1.5 3,1.4 3,1.4 3,1.3 3,1.3 3,1.3 3,1.4 3,1.4 3,1.6 3,1.6 3,1.7 3,1.7 3,1.7 3,1.9 3,1.9 3,1.8 3,1.8 3,1.6 3,1.6 3,2.4 3,2.2 3,1.9 3,2.2 3,2.2 3,2.3 3,2.3 3,2.6 3,3.0 3,2.8 3,2.8 3,2.8 3,2.7 3,2.6 3,2.7 3,2.2 3,1.9 3,2.7"/>
<path d="M218.3,62.8l3,0.5 3,1.0 3,1.7 3,0.8 3,1.2 3,1.3 3,1.0 3,1.1 3,1.2 3,1.5 3,1.4 3,1.5 3,1.6 3,1.5 3,1.5 3,0.9 3,1.2 3,1.7 3,1.8 3,1.7 3,1.5 3,1.5 3,1.4 3,1.4 3,1.4 3,1.4 3,1.4 3,1.4 3,1.3 3,1.4 3,1.3 3,1.4 3,1.4 3,1.6 3,1.6 3,1.6 3,1.5 3,1.5 3,1.5 3,2.4 3,2.3 3,2.0 3,2.3 3,2.4 3,2.3 3,2.3 3,2.5 3,2.8 3,2.7 3,2.6 3,2.7 3,2.4 3,2.6 3,2.7 3,2.3 3,2.1 3,3.1"/>
<path d="M218.3,76.4l3,0.3 3,0.6 3,1.6 3,0.8 3,1.6 3,1.7 3,1.4 3,1.2 3,1.0 3,1.2 3,1.1 3,1.4 3,2.0 3,1.9 3,1.8 3,1.2 3,0.9 3,1.5 3,1.4 3,1.7 3,1.7 3,1.9 3,1.9 3,1.6 3,1.3 3,1.0 3,1.1 3,1.3 3,1.5 3,1.7 3,1.8 3,1.7 3,1.3 3,1.3 3,1.3 3,1.4 3,1.6 3,1.9 3,1.9 3,2.7 3,2.3 3,1.8 3,1.9 3,2.2 3,2.3 3,2.7 3,2.9 3,3.1 3,2.6 3,2.3 3,2.3 3,2.1 3,2.3 3,2.6 3,2.3 3,2.1 3,2.7"/>
<path d="M218.3,74.6l3,0.9 3,1.4 3,2.1 3,1.1 3,1.3 3,1.3 3,1.1 3,1.2 3,1.4 3,1.5 3,1.4 3,1.2 3,1.4 3,1.3 3,1.3 3,1.1 3,1.4 3,2.1 3,2.0 3,2.0 3,1.7 3,1.7 3,1.7 3,1.6 3,1.7 3,1.7 3,1.5 3,1.4 3,1.2 3,1.0 3,1.2 3,1.2 3,1.5 3,1.6 3,1.8 3,1.6 3,1.6 3,1.6 3,1.7 3,2.7 3,2.7 3,2.5 3,2.7 3,2.6 3,2.4 3,2.2 3,2.3 3,2.7 3,2.5 3,2.6 3,2.6 3,2.3 3,2.3 3,2.3 3,2.0 3,2.0 3,3.0"/>
<path d="M218.3,50.9l3,0.7 3,0.9 3,1.6 3,0.8 3,1.4 3,1.9 3,1.7 3,1.6 3,1.5 3,1.5 3,1.2 3,1.2 3,1.6 3,1.8 3,1.8 3,1.4 3,1.3 3,1.7 3,1.5 3,1.5 3,1.6 3,1.9 3,2.1 3,2.0 3,1.9 3,1.5 3,1.3 3,1.3 3,1.3 3,1.6 3,1.8 3,1.8 3,1.7 3,1.6 3,1.3 3,1.2 3,1.4 3,1.6 3,2.0 3,3.0 3,2.8 3,2.3 3,2.3 3,2.3 3,2.3 3,2.6 3,3.0 3,3.4 3,3.1 3,2.7 3,2.6 3,2.1 3,2.3 3,2.6 3,2.6 3,2.6 3,3.6"/>
<path d="M218.3,74.3l3,0.4 3,0.8 3,1.6 3,0.9 3,1.7 3,2.0 3,1.6 3,1.4 3,1.2 3,1.1 3,1.1 3,1.3 3,1.8 3,2.0 3,2.0 3,1.3 3,1.1 3,1.5 3,1.5 3,1.6 3,1.9 3,2.1 3,2.2 3,1.9 3,1.5 3,1.3 3,1.0 3,1.2 3,1.5 3,1.8 3,1.9 3,1.7 3,1.5 3,1.3 3,1.2 3,1.3 3,1.7 3,1.9 3,2.2 3,3.0 3,2.6 3,2.1 3,2.0 3,2.2 3,2.4 3,2.7 3,3.1 3,3.2 3,2.8 3,2.4 3,2.2 3,1.9 3,2.2 3,2.6 3,2.4 3,2.1 3,2.9"/>
<path d="M218.3,72.8l3,0.8 3,1.5 3,2.3 3,1.2 3,1.4 3,1.2 3,0.9 3,1.1 3,1.4 3,2.0 3,1.9 3,1.8 3,1.7 3,1.4 3,1.2 3,0.9 3,1.3 3,2.2 3,2.3 3,2.1 3,1.8 3,1.5 3,1.4 3,1.3 3,1.6 3,1.8 3,1.9 3,1.8 3,1.6 3,1.3 3,1.2 3,1.2 3,1.5 3,1.8 3,2.1 3,2.0 3,1.8 3,1.6 3,1.4 3,2.3 3,2.4 3,2.4 3,2.8 3,2.9 3,2.7 3,2.4 3,2.3 3,2.6 3,2.6 3,2.7 3,2.9 3,2.7 3,2.6 3,2.3 3,1.8 3,1.6 3,2.6"/>
<path d="M218.3,62.4l3,0.9 3,1.4 3,2.0 3,0.9 3,1.2 3,1.3 3,1.0 3,1.2 3,1.3 3,1.5 3,1.4 3,1.3 3,1.4 3,1.4 3,1.5 3,1.2 3,1.5 3,2.1 3,2.1 3,2.0 3,1.6 3,1.7 3,1.6 3,1.6 3,1.7 3,1.6 3,1.4 3,1.3 3,1.1 3,1.1 3,1.2 3,1.3 3,1.6 3,1.8 3,1.8 3,1.8 3,1.6 3,1.7 3,1.7 3,2.7 3,2.7 3,2.4 3,2.6 3,2.5 3,2.2 3,2.2 3,2.3 3,2.7 3,2.7 3,2.6 3,2.8 3,2.5 3,2.5 3,2.6 3,2.4 3,2.3 3,3.5"/>
<path d="M218.3,76.3l3,0.5 3,1.2 3,2.1 3,1.1 3,1.4 3,1.5 3,1.1 3,1.2 3,1.4 3,1.8 3,1.6 3,1.6 3,1.6 3,1.4 3,1.2 3,0.7 3,1.0 3,1.8 3,1.8 3,1.9 3,1.6 3,1.6 3,1.5 3,1.5 3,1.6 3,1.7 3,1.8 3,1.7 3,1.6 3,1.3 3,1.3 3,1.2 3,1.3 3,1.5 3,1.6 3,1.6 3,1.6 3,1.4 3,1.4 3,2.3 3,2.3 3,2.3 3,2.7 3,2.7 3,2.7 3,2.5 3,2.6 3,2.8 3,2.6 3,2.5 3,2.7 3,2.5 3,2.4 3,2.3 3,1.9 3,1.7 3,2.7"/>
<path d="M218.3,77.2l3,0.5 3,1.3 3,2.2 3,1.2 3,1.3 3,1.1 3,0.7 3,0.8 3,1.2 3,1.8 3,1.8 3,1.9 3,1.8 3,1.4 3,1.1 3,0.7 3,1.1 3,1.9 3,2.2 3,2.1 3,1.7 3,1.4 3,1.2 3,1.0 3,1.2 3,1.6 3,1.8 3,1.8 3,1.7 3,1.3 3,1.1 3,1.0 3,1.3 3,1.6 3,2.0 3,2.0 3,1.9 3,1.5 3,1.3 3,2.0 3,2.0 3,2.1 3,2.6 3,2.8 3,2.7 3,2.3 3,2.3 3,2.5 3,2.3 3,2.6 3,2.8 3,2.8 3,2.8 3,2.5 3,1.9 3,1.5 3,2.6"/>
<path d="M218.3,77.5l3,0.7 3,1.1 3,2.0 3,0.9 3,1.3 3,1.3 3,1.1 3,1.0 3,1.1 3,1.4 3,1.3 3,1.5 3,1.6 3,1.6 3,1.6 3,1.1 3,1.2 3,2.0 3,1.9 3,1.9 3,1.8 3,1.7 3,1.6 3,1.4 3,1.4 3,1.3 3,1.3 3,1.3 3,1.3 3,1.3 3,1.4 3,1.3 3,1.5 3,1.6 3,1.7 3,1.7 3,1.8 3,1.7 3,1.8 3,2.5 3,2.5 3,2.1 3,2.4 3,2.3 3,2.3 3,2.3 3,2.4 3,2.7 3,2.5 3,2.4 3,2.6 3,2.3 3,2.4 3,2.5 3,2.1 3,1.8 3,2.8"/>
<path d="M218.3,78.3l3,0.4 3,0.9 3,1.7 3,0.8 3,1.4 3,1.5 3,1.2 3,1.1 3,1.1 3,1.4 3,1.4 3,1.5 3,1.9 3,1.8 3,1.6 3,1.1 3,1.1 3,1.7 3,1.6 3,1.7 3,1.7 3,1.7 3,1.6 3,1.5 3,1.3 3,1.3 3,1.2 3,1.4 3,1.5 3,1.6 3,1.6 3,1.5 3,1.5 3,1.5 3,1.5 3,1.6 3,1.6 3,1.7 3,1.7 3,2.5 3,2.3 3,2.0 3,2.1 3,2.3 3,2.4 3,2.4 3,2.8 3,2.9 3,2.7 3,2.5 3,2.6 3,2.3 3,2.5 3,2.7 3,2.3 3,2.0 3,2.9"/>
<path d="M218.3,77.0l3,0.6 3,1.1 3,1.9 3,0.8 3,1.2 3,1.5 3,1.1 3,1.3 3,1.4 3,1.7 3,1.5 3,1.5 3,1.7 3,1.6 3,1.5 3,1.2 3,1.3 3,1.9 3,1.8 3,1.7 3,1.6 3,1.5 3,1.6 3,1.6 3,1.6 3,1.5 3,1.5 3,1.4 3,1.4 3,1.4 3,1.5 3,1.6 3,1.6 3,1.7 3,1.7 3,1.6 3,1.6 3,1.5 3,1.6 3,2.5 3,2.5 3,2.2 3,2.4 3,2.4 3,2.4 3,2.3 3,2.6 3,2.9 3,2.8 3,2.6 3,2.6 3,2.3 3,2.3 3,2.2 3,1.9 3,1.7 3,2.6"/>
<path d="M218.3,77.1l3,0.6 3,1.0 3,1.9 3,0.9 3,1.3 3,1.5 3,1.2 3,1.3 3,1.3 3,1.6 3,1.5 3,1.5 3,1.8 3,1.7 3,1.6 3,1.0 3,1.2 3,1.8 3,1.8 3,1.8 3,1.7 3,1.6 3,1.6 3,1.5 3,1.5 3,1.5 3,1.5 3,1.5 3,1.5 3,1.5 3,1.5 3,1.6 3,1.5 3,1.6 3,1.6 3,1.7 3,1.6 3,1.6 3,1.7 3,2.5 3,2.4 3,2.1 3,2.4 3,2.4 3,2.4 3,2.5 3,2.6 3,2.9 3,2.7 3,2.6 3,2.6 3,2.3 3,2.3 3,2.4 3,1.9 3,1.8 3,2.6"/>
<path d="M218.3,49.3l3,0.6 3,1.1 3,1.8 3,0.7 3,1.2 3,1.4 3,1.0 3,1.2 3,1.3 3,1.6 3,1.5 3,1.6 3,1.8 3,1.7 3,1.6 3,1.3 3,1.3 3,2.0 3,1.9 3,1.8 3,1.5 3,1.6 3,1.5 3,1.5 3,1.4 3,1.5 3,1.4 3,1.4 3,1.4 3,1.4 3,1.5 3,1.6 3,1.7 3,1.8 3,1.8 3,1.7 3,1.7 3,1.6 3,1.7 3,2.5 3,2.4 3,2.1 3,2.4 3,2.3 3,2.3 3,2.3 3,2.6 3,2.9 3,2.8 3,2.8 3,2.9 3,2.6 3,2.7 3,2.9 3,2.5 3,2.3 3,3.4"/>
<path d="M218.3,54.5l3,1.1 3,1.7 3,2.4 3,0.9 3,1.0 3,0.9 3,0.6 3,1.2 3,1.7 3,2.3 3,2.1 3,1.7 3,1.5 3,1.1 3,1.1 3,0.9 3,1.6 3,2.5 3,2.5 3,2.1 3,1.4 3,1.1 3,1.1 3,1.2 3,1.8 3,2.1 3,2.1 3,1.8 3,1.4 3,1.0 3,0.9 3,1.2 3,1.7 3,2.3 3,2.3 3,2.1 3,1.7 3,1.2 3,1.0 3,2.2 3,2.4 3,2.7 3,3.1 3,2.9 3,2.5 3,2.0 3,2.1 3,2.5 3,2.8 3,3.1 3,3.4 3,3.2 3,2.8 3,2.5 3,1.9 3,1.7 3,3.2"/>
<path d="M218.3,55.5l3,0.6 3,1.3 3,2.2 3,1.2 3,1.7 3,1.7 3,1.4 3,1.3 3,1.3 3,1.4 3,1.3 3,1.3 3,1.5 3,1.4 3,1.4 3,0.8 3,1.1 3,1.8 3,1.9 3,1.9 3,2.0 3,1.9 3,2.0 3,1.8 3,1.7 3,1.7 3,1.6 3,1.5 3,1.4 3,1.3 3,1.3 3,1.2 3,1.2 3,1.4 3,1.4 3,1.5 3,1.6 3,1.8 3,1.8 3,2.8 3,2.6 3,2.5 3,2.7 3,2.7 3,2.6 3,2.6 3,2.7 3,2.9 3,2.6 3,2.4 3,2.5 3,2.2 3,2.4 3,2.6 3,2.4 3,2.2 3,3.3"/>
<path d="M218.3,77.8l3,0.5 3,1.2 3,2.1 3,1.1 3,1.4 3,1.3 3,0.9 3,1.0 3,1.3 3,1.8 3,1.9 3,1.8 3,1.9 3,1.6 3,1.2 3,0.9 3,1.1 3,1.9 3,2.0 3,2.0 3,1.8 3,1.4 3,1.4 3,1.2 3,1.3 3,1.6 3,1.8 3,1.8 3,1.7 3,1.5 3,1.3 3,1.2 3,1.4 3,1.7 3,1.9 3,1.9 3,1.8 3,1.6 3,1.3 3,2.2 3,2.1 3,2.2 3,2.5 3,2.7 3,2.7 3,2.5 3,2.4 3,2.7 3,2.5 3,2.6 3,2.8 3,2.6 3,2.5 3,2.3 3,1.8 3,1.5 3,2.4"/>
<path d="M218.3,78.3l3,0.4 3,0.8 3,1.8 3,1.0 3,1.6 3,1.8 3,1.3 3,1.3 3,1.1 3,1.3 3,1.3 3,1.6 3,1.9 3,1.9 3,1.7 3,1.0 3,1.1 3,1.5 3,1.7 3,1.7 3,1.9 3,1.9 3,1.9 3,1.6 3,1.4 3,1.3 3,1.3 3,1.4 3,1.6 3,1.7 3,1.7 3,1.6 3,1.4 3,1.3 3,1.4 3,1.5 3,1.8 3,1.8 3,1.9 3,2.7 3,2.4 3,2.0 3,2.1 3,2.4 3,2.5 3,2.7 3,2.9 3,3.1 3,2.6 3,2.4 3,2.4 3,2.2 3,2.4 3,2.7 3,2.3 3,2.0 3,2.8"/>
<path d="M218.3,53.8l3,0.6 3,1.2 3,1.9 3,0.9 3,1.4 3,1.5 3,1.3 3,1.3 3,1.5 3,1.7 3,1.6 3,1.6 3,1.8 3,1.6 3,1.6 3,1.1 3,1.3 3,1.9 3,1.9 3,1.8 3,1.6 3,1.7 3,1.6 3,1.6 3,1.7 3,1.6 3,1.6 3,1.6 3,1.6 3,1.5 3,1.5 3,1.6 3,1.6 3,1.7 3,1.7 3,1.7 3,1.6 3,1.6 3,1.6 3,2.6 3,2.5 3,2.3 3,2.5 3,2.5 3,2.6 3,2.5 3,2.7 3,3.0 3,2.9 3,2.8 3,2.9 3,2.6 3,2.6 3,2.8 3,2.4 3,2.2 3,3.2"/>
<path d="M218.3,78.0l3,0.6 3,1.1 3,1.9 3,0.9 3,1.4 3,1.6 3,1.2 3,1.2 3,1.3 3,1.7 3,1.5 3,1.6 3,1.8 3,1.6 3,1.6 3,1.1 3,1.3 3,1.8 3,1.8 3,1.9 3,1.6 3,1.7 3,1.7 3,1.5 3,1.5 3,1.5 3,1.5 3,1.5 3,1.5 3,1.6 3,1.5 3,1.5 3,1.5 3,1.7 3,1.7 3,1.6 3,1.7 3,1.6 3,1.7 3,2.5 3,2.4 3,2.2 3,2.4 3,2.5 3,2.4 3,2.4 3,2.7 3,2.8 3,2.7 3,2.5 3,2.4 3,2.2 3,2.1 3,2.1 3,1.7 3,1.5 3,2.4"/>
<path d="M218.3,79.0l3,1.1 3,1.1 3,1.5 3,0.4 3,0.9 3,1.4 3,1.5 3,1.8 3,1.8 3,1.7 3,1.2 3,0.9 3,1.3 3,1.5 3,1.9 3,1.7 3,1.8 3,2.0 3,1.6 3,1.2 3,1.2 3,1.4 3,1.8 3,2.0 3,2.1 3,1.8 3,1.2 3,1.0 3,0.9 3,1.1 3,1.7 3,2.0 3,2.1 3,2.0 3,1.6 3,1.2 3,1.1 3,1.2 3,1.7 3,3.0 3,3.0 3,2.6 3,2.3 3,2.0 3,1.8 3,2.0 3,2.5 3,3.2 3,3.1 3,2.9 3,2.4 3,1.9 3,1.6 3,1.6 3,1.6 3,1.7 3,2.6"/>
<path d="M218.3,80.2l3,0.6 3,1.1 3,1.9 3,1.0 3,1.5 3,1.7 3,1.4 3,1.3 3,1.3 3,1.5 3,1.3 3,1.3 3,1.6 3,1.4 3,1.4 3,0.9 3,1.0 3,1.6 3,1.7 3,1.7 3,1.7 3,1.8 3,1.8 3,1.7 3,1.6 3,1.6 3,1.5 3,1.4 3,1.4 3,1.4 3,1.4 3,1.4 3,1.3 3,1.3 3,1.3 3,1.4 3,1.4 3,1.6 3,1.7 3,2.6 3,2.5 3,2.3 3,2.4 3,2.5 3,2.5 3,2.6 3,2.7 3,2.9 3,2.6 3,2.3 3,2.3 3,2.0 3,2.1 3,2.1 3,1.9 3,1.6 3,2.7"/>
</g>
<path d="M218.35,101.07 L219.35,101.95 L220.35,102.82 L221.35,103.69 L222.35,104.57 L223.35,105.44 L224.35,106.31 L225.35,107.19 L226.35,108.09 L227.35,108.98 L228.35,109.88 L229.35,110.77 L230.35,111.65 L231.35,112.54 L232.35,113.43 L233.35,114.32 L234.35,115.2 L235.35,116.09 L236.35,117.02 L237.35,118.14 L238.35,119.26 L239.35,120.38 L240.35,121.5 L241.35,122.62 L242.35,123.74 L243.35,124.88 L244.35,126.05 L245.35,127.22 L246.35,128.38 L247.35,129.55 L248.35,130.72 L249.35,131.88 L250.35,133.09 L251.35,134.31 L252.35,135.53 L253.35,136.75 L254.35,137.96 L255.35,139.18 L256.35,140.27 L257.35,141.34 L258.35,142.42 L259.35,143.51 L260.35,144.6 L261.35,145.69 L262.35,146.78 L263.35,147.87 L264.35,148.96 L265.35,149.82 L266.35,150.45 L267.35,151.09 L268.35,151.73 L269.35,152.36 L270.35,153 L271.35,153.64 L272.35,154.35 L273.35,155.08 L274.35,155.8 L275.35,156.52 L276.35,157.25 L277.35,157.97 L278.35,158.7 L279.35,159.42 L280.35,160.12 L281.35,160.74 L282.35,161.35 L283.35,161.96 L284.35,162.57 L285.35,163.19 L286.35,163.8 L287.35,164.41 L288.35,165.03 L289.35,165.64 L290.35,166.04 L291.35,166.42 L292.35,166.8 L293.35,167.18 L294.35,167.56 L295.35,167.94 L296.35,168.32 L297.35,168.7 L298.35,169.04 L299.35,169.26 L300.35,169.48 L301.35,169.7 L302.35,169.92 L303.35,170.14 L304.35,170.36 L305.35,170.58 L306.35,170.8 L307.35,171.02 L308.35,171.25 L309.35,171.48 L310.35,171.72 L311.35,171.96 L312.35,172.19 L313.35,172.43 L314.35,172.66 L315.35,172.9 L316.35,173.13 L317.35,173.29 L318.35,173.27 L319.35,173.24 L320.35,173.22 L321.35,173.15 L322.35,172.92 L323.35,172.7 L324.35,172.47 L325.35,172.24 L326.35,171.94 L327.35,171.53 L328.35,171.13 L329.35,170.72 L330.35,170.48 L331.35,170.32 L332.35,170.15 L333.35,170.38 L334.35,170.78 L335.35,171.18 L336.35,171.58 L337.35,172.23 L338.35,172.98 L339.35,173.74 L340.35,174.49 L341.35,175.25 L342.35,175.84 L343.35,176.2 L344.35,176.55 L345.35,176.91 L346.35,177.26 L347.35,177.62 L348.35,177.94 L349.35,178.13 L350.35,178.31 L351.35,178.5 L352.35,178.69 L353.35,178.88 L354.35,179.07 L355.35,179.25 L356.35,179.41 L357.35,179.57 L358.35,179.72 L359.35,179.88 L360.35,180.04 L361.35,180.2 L362.35,180.36 L363.35,180.52 L364.35,180.67 L365.35,180.8 L366.35,180.94 L367.35,181.07 L368.35,181.21 L369.35,181.34 L370.35,181.48 L371.35,181.61 L372.35,181.75 L373.35,181.87 L374.35,181.98 L375.35,182.09 L376.35,182.2 L377.35,182.32 L378.35,182.43 L379.35,182.54 L380.35,182.65 L381.35,182.77 L382.35,182.92 L383.35,183.09 L384.35,183.26 L385.35,183.43 L386.35,183.7 L387.35,184.03 L388.35,184.46 L389.35,185.26 L390.35,186.06" fill="none" stroke="#2a9a2a" stroke-width="1.25"/>
<path d="M218.35,90.38 L219.35,91.31 L220.35,92.23 L221.35,93.16 L222.35,94.08 L223.35,95.01 L224.35,95.96 L225.35,96.92 L226.35,97.88 L227.35,98.83 L228.35,99.79 L229.35,100.73 L230.35,101.67 L231.35,102.61 L232.35,103.58 L233.35,104.56 L234.35,105.54 L235.35,106.51 L236.35,107.55 L237.35,108.66 L238.35,109.77 L239.35,110.89 L240.35,112.1 L241.35,113.32 L242.35,114.54 L243.35,115.76 L244.35,116.97 L245.35,118.18 L246.35,119.39 L247.35,120.58 L248.35,121.73 L249.35,122.88 L250.35,124.03 L251.35,125.15 L252.35,126.28 L253.35,127.4 L254.35,128.51 L255.35,129.56 L256.35,130.61 L257.35,131.66 L258.35,132.72 L259.35,133.8 L260.35,134.88 L261.35,135.96 L262.35,136.94 L263.35,137.81 L264.35,138.5 L265.35,139.16 L266.35,139.82 L267.35,140.48 L268.35,141.15 L269.35,141.81 L270.35,142.47 L271.35,143.13 L272.35,143.8 L273.35,144.47 L274.35,145.13 L275.35,145.8 L276.35,146.47 L277.35,147.13 L278.35,147.8 L279.35,148.47 L280.35,149.13 L281.35,149.77 L282.35,150.42 L283.35,151.06 L284.35,151.71 L285.35,152.35 L286.35,153 L287.35,153.65 L288.35,154.29 L289.35,154.94 L290.35,155.4 L291.35,155.84 L292.35,156.28 L293.35,156.72 L294.35,157.16 L295.35,157.6 L296.35,158.04 L297.35,158.48 L298.35,158.92 L299.35,159.36 L300.35,159.62 L301.35,159.86 L302.35,160.1 L303.35,160.34 L304.35,160.58 L305.35,160.82 L306.35,161.07 L307.35,161.31 L308.35,161.55 L309.35,161.79 L310.35,162.04 L311.35,162.28 L312.35,162.53 L313.35,162.78 L314.35,162.84 L315.35,162.9 L316.35,162.94 L317.35,163 L318.35,163.04 L319.35,163.09 L320.35,163.14 L321.35,163.19 L322.35,163.02 L323.35,162.82 L324.35,162.62 L325.35,162.42 L326.35,162.15 L327.35,161.78 L328.35,161.41 L329.35,161.04 L330.35,160.67 L331.35,160.3 L332.35,160.08 L333.35,160.51 L334.35,160.93 L335.35,161.35 L336.35,161.77 L337.35,162.31 L338.35,162.89 L339.35,163.48 L340.35,164.06 L341.35,164.65 L342.35,165.18 L343.35,165.63 L344.35,166.08 L345.35,166.54 L346.35,166.99 L347.35,167.44 L348.35,167.83 L349.35,168.01 L350.35,168.18 L351.35,168.36 L352.35,168.53 L353.35,168.7 L354.35,168.88 L355.35,169.05 L356.35,169.22 L357.35,169.39 L358.35,169.56 L359.35,169.73 L360.35,169.9 L361.35,170.07 L362.35,170.24 L363.35,170.41 L364.35,170.57 L365.35,170.72 L366.35,170.87 L367.35,171.01 L368.35,171.16 L369.35,171.3 L370.35,171.45 L371.35,171.6 L372.35,171.74 L373.35,171.88 L374.35,172.02 L375.35,172.15 L376.35,172.29 L377.35,172.42 L378.35,172.56 L379.35,172.69 L380.35,172.82 L381.35,172.96 L382.35,173.14 L383.35,173.33 L384.35,173.53 L385.35,173.72 L386.35,174.05 L387.35,174.46 L388.35,174.88 L389.35,175.53 L390.35,176.28" fill="none" stroke="#0f820f" stroke-width="1.7" stroke-dasharray="3.6 1.4 0.7 1.4 0.7 1.4 0.7 1.4"/>
<path d="M218.35,82.58 L219.35,82.85 L220.35,83.26 L221.35,83.67 L222.35,83.99 L223.35,84.23 L224.35,84.37 L225.35,84.56 L226.35,84.9 L227.35,85.39 L228.35,85.97 L229.35,86.56 L230.35,87.14 L231.35,87.62 L232.35,88 L233.35,88.29 L234.35,88.58 L235.35,88.91 L236.35,89.31 L237.35,89.77 L238.35,90.28 L239.35,90.77 L240.35,91.19 L241.35,91.56 L242.35,91.87 L243.35,92.18 L244.35,92.55 L245.35,93.02 L246.35,93.58 L247.35,94.17 L248.35,94.75 L249.35,95.31 L250.35,95.84 L251.35,96.35 L252.35,96.86 L253.35,97.37 L254.35,97.87 L255.35,98.38 L256.35,98.88 L257.35,99.38 L258.35,99.88 L259.35,100.39 L260.35,100.9 L261.35,101.41 L262.35,101.9 L263.35,102.36 L264.35,102.78 L265.35,103.18 L266.35,103.58 L267.35,103.98 L268.35,104.39 L269.35,104.84 L270.35,105.32 L271.35,105.81 L272.35,106.31 L273.35,106.8 L274.35,107.29 L275.35,107.79 L276.35,108.28 L277.35,108.78 L278.35,109.28 L279.35,109.78 L280.35,110.29 L281.35,110.79 L282.35,111.3 L283.35,111.81 L284.35,112.31 L285.35,112.82 L286.35,113.32 L287.35,113.82 L288.35,114.32 L289.35,114.81 L290.35,115.3 L291.35,115.8 L292.35,116.29 L293.35,116.79 L294.35,117.28 L295.35,117.75 L296.35,118.18 L297.35,118.58 L298.35,118.96 L299.35,119.35 L300.35,119.74 L301.35,120.13 L302.35,120.52 L303.35,120.92 L304.35,121.31 L305.35,121.7 L306.35,122.1 L307.35,122.49 L308.35,122.9 L309.35,123.35 L310.35,123.83 L311.35,124.34 L312.35,124.84 L313.35,125.35 L314.35,125.86 L315.35,126.36 L316.35,126.87 L317.35,127.39 L318.35,127.94 L319.35,128.52 L320.35,129.12 L321.35,129.71 L322.35,130.31 L323.35,130.91 L324.35,131.5 L325.35,132.1 L326.35,132.71 L327.35,133.36 L328.35,134.05 L329.35,134.75 L330.35,135.44 L331.35,136.14 L332.35,136.84 L333.35,137.53 L334.35,138.23 L335.35,139 L336.35,139.86 L337.35,140.81 L338.35,141.79 L339.35,142.76 L340.35,143.72 L341.35,144.68 L342.35,145.62 L343.35,146.6 L344.35,147.62 L345.35,148.68 L346.35,149.76 L347.35,150.83 L348.35,151.91 L349.35,153.01 L350.35,154.12 L351.35,155.23 L352.35,156.35 L353.35,157.46 L354.35,158.55 L355.35,159.57 L356.35,160.53 L357.35,161.44 L358.35,162.35 L359.35,163.25 L360.35,164.14 L361.35,165.03 L362.35,165.92 L363.35,166.8 L364.35,167.66 L365.35,168.49 L366.35,169.3 L367.35,170.12 L368.35,170.89 L369.35,171.62 L370.35,172.31 L371.35,173 L372.35,173.68 L373.35,174.33 L374.35,174.95 L375.35,175.56 L376.35,176.17 L377.35,176.74 L378.35,177.26 L379.35,177.75 L380.35,178.24 L381.35,178.71 L382.35,179.16 L383.35,179.58 L384.35,179.98 L385.35,180.41 L386.35,180.93 L387.35,181.53 L388.35,182.33 L389.35,183.25 L390.35,183.95" fill="none" stroke="#000" stroke-width="2.1" stroke-linejoin="round"/>
<path d="M218.35,73.82 L219.35,73.93 L220.35,74.1 L221.35,74.27 L222.35,74.45 L223.35,74.79 L224.35,75.3 L225.35,75.97 L226.35,76.58 L227.35,77.06 L228.35,77.43 L229.35,77.72 L230.35,78.02 L231.35,78.39 L232.35,78.84 L233.35,79.35 L234.35,79.86 L235.35,80.35 L236.35,80.79 L237.35,81.2 L238.35,81.59 L239.35,81.97 L240.35,82.36 L241.35,82.76 L242.35,83.16 L243.35,83.56 L244.35,83.99 L245.35,84.45 L246.35,84.96 L247.35,85.49 L248.35,86.01 L249.35,86.51 L250.35,87.01 L251.35,87.5 L252.35,87.99 L253.35,88.5 L254.35,89.05 L255.35,89.63 L256.35,90.22 L257.35,90.81 L258.35,91.38 L259.35,91.94 L260.35,92.49 L261.35,93.05 L262.35,93.57 L263.35,94.03 L264.35,94.43 L265.35,94.8 L266.35,95.17 L267.35,95.53 L268.35,95.93 L269.35,96.42 L270.35,96.98 L271.35,97.59 L272.35,98.19 L273.35,98.8 L274.35,99.41 L275.35,100.01 L276.35,100.62 L277.35,101.22 L278.35,101.79 L279.35,102.35 L280.35,102.9 L281.35,103.45 L282.35,104.01 L283.35,104.56 L284.35,105.11 L285.35,105.66 L286.35,106.2 L287.35,106.71 L288.35,107.22 L289.35,107.71 L290.35,108.2 L291.35,108.7 L292.35,109.19 L293.35,109.69 L294.35,110.18 L295.35,110.67 L296.35,111.16 L297.35,111.64 L298.35,112.11 L299.35,112.59 L300.35,113.08 L301.35,113.57 L302.35,114.06 L303.35,114.56 L304.35,115.05 L305.35,115.54 L306.35,116.04 L307.35,116.53 L308.35,117.03 L309.35,117.53 L310.35,118.03 L311.35,118.54 L312.35,119.04 L313.35,119.55 L314.35,120.06 L315.35,120.56 L316.35,121.07 L317.35,121.58 L318.35,122.11 L319.35,122.65 L320.35,123.2 L321.35,123.75 L322.35,124.31 L323.35,124.86 L324.35,125.41 L325.35,125.96 L326.35,126.51 L327.35,127.06 L328.35,127.61 L329.35,128.16 L330.35,128.71 L331.35,129.26 L332.35,129.81 L333.35,130.36 L334.35,130.91 L335.35,131.54 L336.35,132.27 L337.35,133.11 L338.35,133.98 L339.35,134.82 L340.35,135.62 L341.35,136.36 L342.35,137.08 L343.35,137.79 L344.35,138.52 L345.35,139.28 L346.35,140.06 L347.35,140.86 L348.35,141.66 L349.35,142.47 L350.35,143.28 L351.35,144.09 L352.35,144.91 L353.35,145.72 L354.35,146.53 L355.35,147.35 L356.35,148.16 L357.35,148.99 L358.35,149.88 L359.35,150.83 L360.35,151.81 L361.35,152.79 L362.35,153.78 L363.35,154.74 L364.35,155.66 L365.35,156.54 L366.35,157.41 L367.35,158.3 L368.35,159.21 L369.35,160.13 L370.35,161.05 L371.35,161.97 L372.35,162.86 L373.35,163.71 L374.35,164.52 L375.35,165.34 L376.35,166.23 L377.35,167.16 L378.35,168.11 L379.35,169.07 L380.35,170.02 L381.35,170.92 L382.35,171.75 L383.35,172.5 L384.35,173.23 L385.35,173.99 L386.35,174.87 L387.35,175.88 L388.35,176.97 L389.35,177.98 L390.35,178.62" fill="none" stroke="#f00" stroke-width="2.1" stroke-linejoin="round"/>
</g>
<rect x="218.35" y="31.3" width="180.1" height="174" fill="none" stroke="#a6a6a6" stroke-width="1.2"/>
<path d="M228.56,205.3 v-3.6 M228.56,31.3 v3.6 M236.85,205.3 v-3.6 M236.85,31.3 v3.6 M242.73,205.3 v-3.6 M242.73,31.3 v3.6 M247.29,205.3 v-3.6 M247.29,31.3 v3.6 M251.01,205.3 v-3.6 M251.01,31.3 v3.6 M254.16,205.3 v-3.6 M254.16,31.3 v3.6 M256.89,205.3 v-3.6 M256.89,31.3 v3.6 M259.3,205.3 v-3.6 M259.3,31.3 v3.6 M261.45,205.3 v-6.9 M261.45,31.3 v6.9 M275.61,205.3 v-3.6 M275.61,31.3 v3.6 M283.9,205.3 v-3.6 M283.9,31.3 v3.6 M289.78,205.3 v-3.6 M289.78,31.3 v3.6 M294.34,205.3 v-3.6 M294.34,31.3 v3.6 M298.06,205.3 v-3.6 M298.06,31.3 v3.6 M301.21,205.3 v-3.6 M301.21,31.3 v3.6 M303.94,205.3 v-3.6 M303.94,31.3 v3.6 M306.35,205.3 v-3.6 M306.35,31.3 v3.6 M308.5,205.3 v-6.9 M308.5,31.3 v6.9 M322.66,205.3 v-3.6 M322.66,31.3 v3.6 M330.95,205.3 v-3.6 M330.95,31.3 v3.6 M336.83,205.3 v-3.6 M336.83,31.3 v3.6 M341.39,205.3 v-3.6 M341.39,31.3 v3.6 M345.11,205.3 v-3.6 M345.11,31.3 v3.6 M348.26,205.3 v-3.6 M348.26,31.3 v3.6 M350.99,205.3 v-3.6 M350.99,31.3 v3.6 M353.4,205.3 v-3.6 M353.4,31.3 v3.6 M355.55,205.3 v-6.9 M355.55,31.3 v6.9 M369.71,205.3 v-3.6 M369.71,31.3 v3.6 M378,205.3 v-3.6 M378,31.3 v3.6 M383.88,205.3 v-3.6 M383.88,31.3 v3.6 M388.44,205.3 v-3.6 M388.44,31.3 v3.6 M392.16,205.3 v-3.6 M392.16,31.3 v3.6 M395.31,205.3 v-3.6 M395.31,31.3 v3.6 M398.04,205.3 v-3.6 M398.04,31.3 v3.6 M218.35,198.3 h1.8 M398.45,198.3 h-1.8 M218.35,183.48 h3 M398.45,183.48 h-3 M218.35,169.26 h1.8 M398.45,169.26 h-1.8 M218.35,154.44 h3 M398.45,154.44 h-3 M218.35,140.22 h1.8 M398.45,140.22 h-1.8 M218.35,125.4 h3 M398.45,125.4 h-3 M218.35,111.18 h1.8 M398.45,111.18 h-1.8 M218.35,96.36 h3 M398.45,96.36 h-3 M218.35,82.14 h1.8 M398.45,82.14 h-1.8 M218.35,67.32 h3 M398.45,67.32 h-3 M218.35,53.1 h1.8 M398.45,53.1 h-1.8 M218.35,38.28 h3 M398.45,38.28 h-3" stroke="#969696" stroke-width="1.2" fill="none"/>
<text x="225.95" y="50.0" font-family='"Liberation Serif", serif' font-size="10.4" fill="#1a1a1a">(b)</text>
<text x="255.35" y="217.8" font-family='"Liberation Serif", serif' font-size="10.4" fill="#1a1a1a" letter-spacing="-0.5">10<tspan font-size="6.6" dy="-5.0">-2</tspan></text>
<text x="302.4" y="217.8" font-family='"Liberation Serif", serif' font-size="10.4" fill="#1a1a1a" letter-spacing="-0.5">10<tspan font-size="6.6" dy="-5.0">-1</tspan></text>
<text x="349.45" y="217.8" font-family='"Liberation Serif", serif' font-size="10.4" fill="#1a1a1a" letter-spacing="-0.5">10<tspan font-size="6.6" dy="-5.0">0</tspan></text>
<text x="308.4" y="227.3" font-family='"Liberation Serif", serif' font-size="9.8" fill="#1a1a1a" text-anchor="middle">[ Hz ]</text>
<g clip-path="url(#ct2)">
<g fill="none" stroke="#7a7a7a" stroke-opacity="0.04" stroke-width="1.2">
<path d="M398.5,58.6l3,1.5 3,1.0 3,0.8 3,1.1 3,1.8 3,1.8 3,1.2 3,1.3 3,1.2 3,1.1 3,1.2 3,1.3 3,1.2 3,1.5 3,1.6 3,1.6 3,1.5 3,1.1 3,1.1 3,1.1 3,1.2 3,1.3 3,1.5 3,1.7 3,1.7 3,1.7 3,1.4 3,1.4 3,1.4 3,1.4 3,1.4 3,1.4 3,1.4 3,1.5 3,1.7 3,1.8 3,1.8 3,2.1 3,2.3 3,2.1 3,2.0 3,2.3 3,2.1 3,2.2 3,2.3 3,2.3 3,2.3 3,2.1 3,2.2 3,1.9 3,1.7 3,1.6 3,1.4 3,1.3 3,1.4 3,1.5 3,2.3"/>
<path d="M398.5,59.3l3,1.4 3,0.9 3,0.8 3,1.1 3,1.9 3,1.9 3,1.2 3,1.2 3,1.2 3,1.0 3,1.1 3,1.4 3,1.5 3,1.8 3,1.9 3,1.8 3,1.7 3,1.1 3,1.1 3,1.1 3,1.4 3,1.5 3,1.6 3,1.7 3,1.6 3,1.3 3,1.3 3,1.4 3,1.5 3,1.6 3,1.7 3,1.6 3,1.5 3,1.5 3,1.8 3,1.9 3,2.0 3,2.5 3,2.4 3,2.3 3,2.0 3,2.1 3,1.9 3,2.1 3,2.3 3,2.4 3,2.4 3,2.3 3,2.2 3,1.9 3,1.7 3,1.6 3,1.6 3,1.6 3,1.8 3,1.7 3,2.5"/>
<path d="M398.5,60.6l3,1.7 3,1.2 3,1.0 3,1.3 3,1.8 3,1.7 3,0.9 3,1.1 3,1.1 3,1.1 3,1.4 3,1.5 3,1.7 3,1.8 3,2.0 3,1.9 3,1.9 3,1.5 3,1.5 3,1.6 3,1.5 3,1.5 3,1.4 3,1.6 3,1.4 3,1.4 3,1.5 3,1.4 3,1.5 3,1.5 3,1.6 3,1.6 3,1.6 3,1.8 3,2.2 3,2.4 3,2.4 3,2.6 3,2.5 3,2.2 3,2.1 3,2.1 3,2.1 3,2.2 3,2.3 3,2.3 3,2.2 3,2.1 3,2.1 3,2.0 3,1.9 3,2.0 3,1.9 3,1.9 3,1.9 3,1.8 3,2.6"/>
<path d="M398.5,61.8l3,2.0 3,1.5 3,1.2 3,1.1 3,1.6 3,1.6 3,0.9 3,1.4 3,1.5 3,1.4 3,1.4 3,1.2 3,1.1 3,1.2 3,1.5 3,1.9 3,2.0 3,1.7 3,1.5 3,1.4 3,1.2 3,1.2 3,1.3 3,1.8 3,2.0 3,1.9 3,1.7 3,1.4 3,1.2 3,1.1 3,1.1 3,1.4 3,1.7 3,1.9 3,2.3 3,2.0 3,2.0 3,2.1 3,2.2 3,2.2 3,2.3 3,2.7 3,2.5 3,2.4 3,2.2 3,2.0 3,1.9 3,2.0 3,2.3 3,2.2 3,2.0 3,1.9 3,1.5 3,1.2 3,1.3 3,1.6 3,2.6"/>
<path d="M398.5,67.1l3,1.6 3,1.2 3,1.1 3,1.2 3,1.6 3,1.4 3,0.6 3,0.9 3,1.0 3,1.1 3,1.4 3,1.5 3,1.4 3,1.5 3,1.5 3,1.7 3,1.7 3,1.5 3,1.5 3,1.5 3,1.4 3,1.1 3,1.2 3,1.3 3,1.4 3,1.4 3,1.5 3,1.4 3,1.3 3,1.3 3,1.2 3,1.2 3,1.5 3,1.7 3,2.2 3,2.3 3,2.2 3,2.3 3,2.2 3,2.0 3,1.8 3,2.1 3,2.2 3,2.3 3,2.2 3,2.0 3,1.9 3,1.8 3,1.9 3,1.9 3,1.9 3,2.0 3,1.8 3,1.5 3,1.5 3,1.5 3,2.4"/>
<path d="M398.5,62.9l3,1.7 3,1.3 3,1.2 3,1.3 3,1.7 3,1.6 3,1.0 3,1.4 3,1.5 3,1.5 3,1.7 3,1.6 3,1.4 3,1.4 3,1.6 3,1.7 3,1.8 3,1.5 3,1.4 3,1.4 3,1.3 3,1.1 3,1.3 3,1.6 3,1.9 3,1.9 3,1.8 3,1.8 3,1.5 3,1.4 3,1.4 3,1.4 3,1.7 3,1.8 3,2.3 3,2.1 3,2.0 3,2.2 3,2.0 3,2.1 3,2.0 3,2.4 3,2.5 3,2.5 3,2.5 3,2.3 3,2.1 3,2.2 3,2.2 3,2.3 3,2.1 3,2.1 3,1.7 3,1.4 3,1.4 3,1.4 3,2.3"/>
<path d="M398.5,69.9l3,1.0 3,0.0 3,-0.1 3,0.5 3,1.6 3,2.1 3,1.5 3,1.4 3,1.1 3,0.7 3,0.9 3,1.3 3,2.0 3,2.6 3,2.7 3,2.4 3,1.7 3,0.7 3,0.4 3,0.5 3,1.0 3,1.5 3,1.7 3,1.7 3,1.3 3,0.8 3,0.7 3,0.9 3,1.6 3,2.2 3,2.5 3,2.4 3,1.9 3,1.6 3,1.5 3,1.5 3,1.9 3,2.6 3,2.7 3,2.4 3,1.8 3,1.4 3,1.1 3,1.3 3,1.8 3,2.4 3,2.9 3,2.9 3,2.7 3,2.1 3,1.6 3,1.5 3,1.5 3,2.0 3,2.2 3,2.3 3,2.7"/>
<path d="M398.5,67.3l3,1.3 3,1.0 3,1.0 3,1.4 3,1.9 3,1.9 3,1.0 3,1.1 3,1.2 3,1.3 3,1.6 3,1.7 3,1.6 3,1.6 3,1.5 3,1.5 3,1.4 3,1.1 3,1.2 3,1.3 3,1.4 3,1.3 3,1.3 3,1.5 3,1.5 3,1.6 3,1.7 3,1.8 3,1.8 3,1.6 3,1.5 3,1.3 3,1.3 3,1.5 3,2.0 3,2.0 3,2.1 3,2.3 3,2.1 3,1.8 3,1.8 3,2.0 3,2.2 3,2.5 3,2.6 3,2.6 3,2.3 3,2.1 3,2.1 3,1.9 3,1.9 3,1.9 3,1.8 3,1.5 3,1.4 3,1.3 3,2.1"/>
<path d="M398.5,65.3l3,1.2 3,1.0 3,1.1 3,1.5 3,2.1 3,1.9 3,1.0 3,1.1 3,1.2 3,1.2 3,1.7 3,1.9 3,1.9 3,1.9 3,1.7 3,1.5 3,1.5 3,1.1 3,1.3 3,1.5 3,1.6 3,1.5 3,1.3 3,1.4 3,1.4 3,1.6 3,1.7 3,1.9 3,1.9 3,1.9 3,1.7 3,1.4 3,1.4 3,1.5 3,2.0 3,2.3 3,2.3 3,2.5 3,2.3 3,1.9 3,1.7 3,1.9 3,2.2 3,2.5 3,2.7 3,2.8 3,2.4 3,2.2 3,2.1 3,1.9 3,1.9 3,2.1 3,2.0 3,1.9 3,1.6 3,1.5 3,2.1"/>
<path d="M398.5,69.9l3,1.1 3,0.3 3,0.1 3,0.9 3,2.1 3,2.3 3,1.7 3,1.5 3,1.0 3,0.6 3,0.8 3,1.3 3,1.8 3,2.3 3,2.4 3,2.1 3,1.5 3,0.6 3,0.4 3,0.8 3,1.3 3,1.8 3,2.0 3,1.9 3,1.5 3,1.0 3,0.8 3,1.1 3,1.6 3,2.2 3,2.3 3,2.0 3,1.6 3,1.2 3,1.3 3,1.5 3,1.9 3,2.6 3,2.9 3,2.5 3,2.0 3,1.7 3,1.3 3,1.6 3,2.2 3,2.7 3,2.9 3,2.9 3,2.5 3,1.8 3,1.2 3,1.3 3,1.4 3,1.8 3,2.1 3,2.1 3,2.6"/>
<path d="M398.5,66.6l3,2.2 3,1.8 3,1.3 3,1.0 3,1.2 3,1.0 3,0.6 3,1.3 3,2.0 3,2.0 3,2.0 3,1.6 3,1.1 3,1.0 3,1.3 3,1.8 3,2.3 3,2.0 3,1.9 3,1.3 3,0.9 3,0.5 3,0.8 3,1.4 3,2.1 3,2.3 3,2.2 3,1.8 3,1.2 3,0.9 3,1.0 3,1.4 3,1.9 3,2.5 3,2.8 3,2.4 3,1.9 3,1.6 3,1.5 3,1.8 3,2.2 3,2.8 3,2.8 3,2.7 3,2.2 3,1.7 3,1.5 3,1.9 3,2.4 3,2.7 3,2.7 3,2.5 3,1.7 3,1.0 3,0.9 3,1.1 3,2.4"/>
<path d="M398.5,68.4l3,1.5 3,1.1 3,1.0 3,1.0 3,1.5 3,1.5 3,0.7 3,1.1 3,1.5 3,1.7 3,1.9 3,2.0 3,1.7 3,1.7 3,1.7 3,1.8 3,1.8 3,1.5 3,1.4 3,1.3 3,1.1 3,0.9 3,0.9 3,1.2 3,1.5 3,1.8 3,1.8 3,1.9 3,1.7 3,1.6 3,1.6 3,1.6 3,1.8 3,2.0 3,2.5 3,2.3 3,2.2 3,2.0 3,1.9 3,1.7 3,1.6 3,2.1 3,2.2 3,2.4 3,2.4 3,2.3 3,2.1 3,2.1 3,2.3 3,2.4 3,2.5 3,2.4 3,2.0 3,1.6 3,1.4 3,1.3 3,2.2"/>
<path d="M398.5,70.5l3,0.2 3,0.1 3,0.7 3,1.9 3,2.9 3,2.9 3,1.6 3,1.1 3,0.8 3,0.9 3,1.5 3,2.2 3,2.4 3,2.3 3,1.7 3,0.8 3,0.2 3,-0.1 3,0.4 3,1.3 3,1.9 3,2.0 3,1.8 3,1.5 3,1.0 3,1.1 3,1.6 3,2.3 3,2.8 3,2.8 3,2.2 3,1.3 3,0.6 3,0.4 3,1.0 3,1.6 3,2.3 3,2.7 3,2.5 3,1.7 3,1.1 3,1.2 3,1.6 3,2.6 3,3.4 3,3.8 3,3.5 3,2.6 3,2.0 3,1.2 3,1.2 3,1.6 3,1.9 3,2.0 3,1.8 3,1.2 3,1.4"/>
<path d="M398.5,70.3l3,1.6 3,1.0 3,0.7 3,1.0 3,1.8 3,1.8 3,1.2 3,1.3 3,1.2 3,1.1 3,1.2 3,1.3 3,1.6 3,1.8 3,2.0 3,2.1 3,1.8 3,1.3 3,1.1 3,1.1 3,1.3 3,1.5 3,1.5 3,1.8 3,1.6 3,1.4 3,1.3 3,1.3 3,1.4 3,1.6 3,1.7 3,1.8 3,1.7 3,1.7 3,1.9 3,1.9 3,2.1 3,2.4 3,2.5 3,2.3 3,2.1 3,2.2 3,1.9 3,2.0 3,2.2 3,2.2 3,2.4 3,2.3 3,2.3 3,2.1 3,1.8 3,1.7 3,1.6 3,1.6 3,1.7 3,1.8 3,2.6"/>
<path d="M398.5,70.8l3,1.9 3,1.3 3,0.8 3,0.8 3,1.4 3,1.6 3,1.2 3,1.7 3,1.7 3,1.5 3,1.3 3,1.1 3,1.1 3,1.3 3,1.7 3,2.1 3,2.1 3,1.5 3,1.2 3,0.9 3,0.9 3,1.0 3,1.5 3,1.9 3,2.1 3,2.0 3,1.6 3,1.3 3,1.1 3,1.2 3,1.4 3,1.8 3,1.9 3,2.0 3,2.1 3,1.7 3,1.6 3,1.9 3,2.1 3,2.3 3,2.4 3,2.6 3,2.4 3,2.1 3,2.0 3,2.0 3,2.0 3,2.4 3,2.6 3,2.4 3,2.0 3,1.8 3,1.2 3,1.0 3,1.2 3,1.6 3,2.7"/>
<path d="M398.5,75.4l3,1.7 3,0.4 3,-0.2 3,0.1 3,1.4 3,2.3 3,2.0 3,2.2 3,1.7 3,0.7 3,0.3 3,0.3 3,0.8 3,1.8 3,2.5 3,2.7 3,2.0 3,0.9 3,0.1 3,0.0 3,0.6 3,1.4 3,2.2 3,2.7 3,2.3 3,1.4 3,0.7 3,0.3 3,0.7 3,1.5 3,2.2 3,2.4 3,2.2 3,1.6 3,1.0 3,0.7 3,1.0 3,2.0 3,2.8 3,3.1 3,2.8 3,2.3 3,1.5 3,1.2 3,1.3 3,2.0 3,2.7 3,3.2 3,3.1 3,2.3 3,1.3 3,0.6 3,0.5 3,0.8 3,1.8 3,2.3 3,3.3"/>
<path d="M398.5,71.6l3,2.4 3,1.9 3,1.2 3,0.8 3,1.0 3,1.1 3,0.6 3,1.5 3,1.8 3,1.7 3,1.5 3,1.0 3,0.7 3,0.8 3,1.4 3,2.1 3,2.5 3,2.2 3,1.7 3,1.3 3,0.8 3,0.6 3,1.1 3,1.7 3,2.2 3,2.2 3,1.9 3,1.2 3,0.7 3,0.6 3,0.8 3,1.5 3,2.0 3,2.4 3,2.7 3,2.1 3,1.7 3,1.6 3,1.9 3,2.2 3,2.5 3,3.0 3,2.8 3,2.4 3,1.8 3,1.4 3,1.4 3,1.8 3,2.4 3,2.6 3,2.4 3,2.0 3,1.3 3,0.9 3,0.9 3,1.4 3,2.9"/>
<path d="M398.5,71.3l3,1.5 3,1.1 3,0.9 3,1.3 3,1.8 3,1.8 3,1.1 3,1.3 3,1.4 3,1.2 3,1.5 3,1.6 3,1.5 3,1.7 3,1.7 3,1.7 3,1.7 3,1.2 3,1.3 3,1.2 3,1.4 3,1.3 3,1.4 3,1.6 3,1.7 3,1.6 3,1.6 3,1.7 3,1.6 3,1.6 3,1.6 3,1.5 3,1.5 3,1.7 3,2.0 3,2.0 3,2.1 3,2.2 3,2.3 3,2.1 3,1.9 3,2.2 3,2.2 3,2.3 3,2.4 3,2.5 3,2.3 3,2.2 3,2.2 3,2.0 3,1.9 3,1.8 3,1.7 3,1.5 3,1.4 3,1.5 3,2.3"/>
<path d="M398.5,70.0l3,1.0 3,0.8 3,1.2 3,1.8 3,2.6 3,2.3 3,1.3 3,1.2 3,1.1 3,1.1 3,1.7 3,2.0 3,2.0 3,1.9 3,1.5 3,1.2 3,0.9 3,0.7 3,1.1 3,1.5 3,1.8 3,1.8 3,1.6 3,1.6 3,1.4 3,1.5 3,1.8 3,2.2 3,2.3 3,2.2 3,1.7 3,1.3 3,0.9 3,1.1 3,1.6 3,2.0 3,2.4 3,2.6 3,2.3 3,1.9 3,1.5 3,1.9 3,2.2 3,2.7 3,3.2 3,3.2 3,2.8 3,2.3 3,2.0 3,1.6 3,1.6 3,1.9 3,1.8 3,1.8 3,1.6 3,1.3 3,1.8"/>
<path d="M398.5,72.3l3,1.4 3,1.0 3,0.7 3,1.1 3,1.7 3,1.8 3,1.0 3,1.3 3,1.3 3,1.4 3,1.5 3,1.7 3,1.7 3,1.9 3,1.9 3,1.9 3,1.8 3,1.2 3,1.2 3,1.1 3,1.3 3,1.2 3,1.3 3,1.5 3,1.5 3,1.6 3,1.5 3,1.6 3,1.6 3,1.8 3,1.8 3,1.7 3,1.7 3,1.8 3,2.1 3,2.1 3,2.1 3,2.2 3,2.3 3,2.0 3,1.8 3,2.0 3,2.0 3,2.2 3,2.3 3,2.4 3,2.3 3,2.4 3,2.3 3,2.2 3,2.0 3,1.9 3,1.8 3,1.6 3,1.5 3,1.6 3,2.3"/>
<path d="M398.5,72.7l3,2.3 3,1.1 3,0.3 3,0.2 3,1.1 3,1.9 3,1.9 3,2.4 3,2.2 3,1.4 3,0.7 3,0.4 3,0.6 3,1.4 3,2.2 3,2.8 3,2.6 3,1.5 3,0.7 3,0.3 3,0.4 3,1.1 3,1.9 3,2.8 3,2.8 3,2.1 3,1.2 3,0.7 3,0.5 3,1.0 3,1.9 3,2.4 3,2.5 3,2.2 3,1.7 3,1.1 3,0.9 3,1.7 3,2.4 3,3.1 3,3.1 3,3.0 3,2.2 3,1.6 3,1.4 3,1.7 3,2.3 3,3.0 3,3.2 3,2.8 3,1.9 3,1.1 3,0.5 3,0.6 3,1.3 3,2.1 3,3.3"/>
<path d="M398.5,74.7l3,1.4 3,0.9 3,0.8 3,1.0 3,1.7 3,1.7 3,1.0 3,1.2 3,1.3 3,1.2 3,1.5 3,1.6 3,1.6 3,1.8 3,1.8 3,1.8 3,1.7 3,1.2 3,1.2 3,1.1 3,1.2 3,1.2 3,1.3 3,1.5 3,1.5 3,1.5 3,1.4 3,1.5 3,1.6 3,1.6 3,1.7 3,1.6 3,1.7 3,1.7 3,2.0 3,2.0 3,2.1 3,2.2 3,2.2 3,2.0 3,1.8 3,2.0 3,2.0 3,2.1 3,2.3 3,2.3 3,2.3 3,2.2 3,2.2 3,2.1 3,1.9 3,1.9 3,1.6 3,1.6 3,1.5 3,1.5 3,2.3"/>
<path d="M398.5,73.5l3,1.2 3,0.9 3,1.0 3,1.2 3,1.9 3,1.8 3,1.1 3,1.2 3,1.5 3,1.4 3,1.8 3,1.9 3,1.8 3,1.7 3,1.6 3,1.5 3,1.4 3,1.0 3,1.2 3,1.2 3,1.2 3,1.2 3,1.2 3,1.4 3,1.5 3,1.7 3,1.8 3,2.0 3,1.9 3,1.9 3,1.6 3,1.5 3,1.5 3,1.6 3,2.0 3,2.0 3,2.0 3,2.2 3,1.9 3,1.8 3,1.6 3,2.0 3,2.1 3,2.5 3,2.6 3,2.7 3,2.4 3,2.3 3,2.2 3,2.1 3,2.1 3,2.0 3,1.8 3,1.5 3,1.4 3,1.2 3,1.9"/>
<path d="M398.5,74.3l3,1.3 3,1.0 3,1.2 3,1.5 3,2.0 3,1.8 3,1.0 3,1.0 3,1.1 3,1.3 3,1.7 3,1.8 3,1.8 3,1.7 3,1.4 3,1.4 3,1.3 3,1.1 3,1.3 3,1.5 3,1.5 3,1.4 3,1.2 3,1.4 3,1.4 3,1.5 3,1.8 3,1.9 3,1.9 3,1.7 3,1.5 3,1.3 3,1.2 3,1.4 3,2.0 3,2.2 3,2.2 3,2.4 3,2.1 3,1.8 3,1.6 3,2.0 3,2.2 3,2.5 3,2.8 3,2.6 3,2.4 3,2.0 3,1.9 3,1.9 3,1.8 3,2.0 3,1.9 3,1.6 3,1.4 3,1.2 3,2.0"/>
<path d="M398.5,73.4l3,1.5 3,1.2 3,1.0 3,1.3 3,2.0 3,1.8 3,1.1 3,1.3 3,1.3 3,1.2 3,1.5 3,1.6 3,1.6 3,1.7 3,1.6 3,1.7 3,1.6 3,1.2 3,1.3 3,1.4 3,1.4 3,1.4 3,1.4 3,1.7 3,1.6 3,1.7 3,1.6 3,1.7 3,1.6 3,1.7 3,1.5 3,1.5 3,1.4 3,1.6 3,2.0 3,2.1 3,2.1 3,2.3 3,2.3 3,2.1 3,1.9 3,2.2 3,2.3 3,2.4 3,2.5 3,2.5 3,2.3 3,2.2 3,2.1 3,2.0 3,1.8 3,1.9 3,1.7 3,1.5 3,1.4 3,1.5 3,2.2"/>
<path d="M398.5,73.9l3,1.4 3,1.4 3,1.3 3,1.6 3,1.9 3,1.6 3,0.7 3,1.1 3,1.5 3,1.7 3,2.1 3,2.0 3,1.6 3,1.4 3,1.1 3,1.2 3,1.4 3,1.3 3,1.5 3,1.5 3,1.4 3,1.0 3,1.0 3,1.2 3,1.5 3,2.0 3,2.2 3,2.2 3,2.0 3,1.5 3,1.3 3,1.1 3,1.2 3,1.7 3,2.3 3,2.3 3,2.1 3,2.0 3,1.7 3,1.5 3,1.6 3,2.2 3,2.5 3,2.9 3,2.8 3,2.6 3,2.1 3,1.8 3,2.0 3,2.0 3,2.1 3,2.2 3,1.8 3,1.3 3,1.0 3,0.8 3,1.8"/>
<path d="M398.5,71.6l3,1.8 3,1.2 3,1.2 3,1.4 3,2.0 3,2.0 3,1.2 3,1.3 3,1.4 3,1.3 3,1.5 3,1.5 3,1.6 3,1.7 3,1.7 3,1.8 3,1.8 3,1.4 3,1.4 3,1.5 3,1.5 3,1.5 3,1.6 3,1.9 3,1.8 3,1.7 3,1.7 3,1.6 3,1.6 3,1.6 3,1.6 3,1.6 3,1.5 3,1.7 3,2.1 3,2.1 3,2.2 3,2.4 3,2.5 3,2.3 3,2.2 3,2.3 3,2.4 3,2.4 3,2.5 3,2.5 3,2.3 3,2.3 3,2.2 3,2.0 3,1.8 3,1.8 3,1.6 3,1.5 3,1.4 3,1.6 3,2.3"/>
<path d="M398.5,75.6l3,1.5 3,1.1 3,1.0 3,1.2 3,1.9 3,1.8 3,1.0 3,1.2 3,1.2 3,1.2 3,1.3 3,1.5 3,1.5 3,1.7 3,1.8 3,1.7 3,1.7 3,1.3 3,1.3 3,1.3 3,1.4 3,1.4 3,1.4 3,1.6 3,1.6 3,1.5 3,1.5 3,1.5 3,1.6 3,1.5 3,1.5 3,1.5 3,1.5 3,1.6 3,2.0 3,2.1 3,2.1 3,2.4 3,2.3 3,2.2 3,1.9 3,2.2 3,2.1 3,2.3 3,2.3 3,2.4 3,2.2 3,2.1 3,2.1 3,1.9 3,1.8 3,1.8 3,1.6 3,1.5 3,1.5 3,1.5 3,2.3"/>
<path d="M398.5,76.1l3,1.2 3,0.6 3,0.6 3,1.3 3,2.4 3,2.6 3,1.7 3,1.4 3,0.7 3,0.4 3,0.6 3,1.2 3,1.7 3,2.3 3,2.3 3,1.9 3,1.4 3,0.6 3,0.7 3,1.2 3,1.8 3,2.2 3,2.3 3,2.1 3,1.5 3,0.9 3,0.8 3,1.1 3,1.6 3,2.1 3,2.1 3,1.8 3,1.2 3,1.0 3,1.2 3,1.6 3,2.2 3,3.0 3,3.2 3,2.8 3,2.1 3,1.8 3,1.6 3,1.8 3,2.4 3,2.8 3,2.9 3,2.6 3,2.1 3,1.4 3,0.9 3,1.1 3,1.4 3,1.8 3,2.1 3,2.1 3,2.5"/>
<path d="M398.5,78.4l3,1.3 3,0.9 3,0.8 3,1.2 3,1.7 3,1.8 3,1.1 3,1.2 3,1.4 3,1.3 3,1.5 3,1.5 3,1.5 3,1.6 3,1.6 3,1.6 3,1.4 3,1.1 3,1.0 3,1.0 3,1.2 3,1.2 3,1.2 3,1.5 3,1.6 3,1.6 3,1.6 3,1.6 3,1.7 3,1.6 3,1.6 3,1.4 3,1.5 3,1.5 3,1.9 3,1.8 3,1.9 3,2.0 3,2.1 3,1.8 3,1.8 3,2.0 3,2.1 3,2.3 3,2.4 3,2.4 3,2.3 3,2.2 3,2.2 3,2.0 3,1.9 3,1.7 3,1.6 3,1.3 3,1.3 3,1.3 3,2.1"/>
<path d="M398.5,78.7l3,1.5 3,0.8 3,0.4 3,0.7 3,1.5 3,1.9 3,1.6 3,1.8 3,1.6 3,1.3 3,1.1 3,1.1 3,1.2 3,1.6 3,2.0 3,2.1 3,1.8 3,1.0 3,0.7 3,0.5 3,0.8 3,1.2 3,1.6 3,2.1 3,1.9 3,1.7 3,1.4 3,1.2 3,1.2 3,1.6 3,1.8 3,2.0 3,1.9 3,1.6 3,1.7 3,1.3 3,1.4 3,1.9 3,2.3 3,2.3 3,2.3 3,2.2 3,2.0 3,1.8 3,2.0 3,2.2 3,2.5 3,2.7 3,2.6 3,2.3 3,1.7 3,1.4 3,1.1 3,1.0 3,1.4 3,1.6 3,2.5"/>
<path d="M398.5,77.0l3,1.6 3,1.2 3,1.2 3,1.4 3,2.1 3,1.9 3,1.1 3,1.3 3,1.2 3,1.1 3,1.3 3,1.3 3,1.4 3,1.4 3,1.4 3,1.5 3,1.5 3,1.1 3,1.3 3,1.5 3,1.5 3,1.5 3,1.6 3,1.7 3,1.7 3,1.7 3,1.7 3,1.5 3,1.6 3,1.4 3,1.3 3,1.2 3,1.2 3,1.4 3,1.8 3,1.9 3,2.1 3,2.3 3,2.4 3,2.1 3,2.1 3,2.3 3,2.4 3,2.5 3,2.5 3,2.5 3,2.3 3,2.0 3,1.9 3,1.8 3,1.6 3,1.7 3,1.4 3,1.4 3,1.4 3,1.4 3,2.2"/>
<path d="M398.5,75.1l3,1.1 3,1.1 3,1.3 3,1.6 3,2.0 3,1.7 3,0.7 3,1.0 3,1.3 3,1.8 3,2.3 3,2.3 3,2.1 3,1.7 3,1.4 3,1.1 3,1.3 3,1.1 3,1.5 3,1.6 3,1.4 3,1.1 3,0.8 3,1.1 3,1.3 3,1.7 3,2.2 3,2.5 3,2.3 3,1.9 3,1.5 3,1.3 3,1.2 3,1.7 3,2.4 3,2.4 3,2.4 3,2.1 3,1.7 3,1.4 3,1.2 3,1.9 3,2.4 3,2.8 3,3.0 3,2.8 3,2.3 3,2.0 3,2.0 3,2.1 3,2.2 3,2.4 3,2.1 3,1.6 3,1.1 3,0.9 3,1.6"/>
<path d="M398.5,79.9l3,1.6 3,0.9 3,0.6 3,1.0 3,1.6 3,1.8 3,1.1 3,1.3 3,1.1 3,0.9 3,1.0 3,1.2 3,1.4 3,1.8 3,2.0 3,2.0 3,1.8 3,1.2 3,1.0 3,1.1 3,1.3 3,1.3 3,1.6 3,1.7 3,1.5 3,1.3 3,1.1 3,1.2 3,1.2 3,1.5 3,1.7 3,1.6 3,1.7 3,1.6 3,1.8 3,1.8 3,2.0 3,2.4 3,2.5 3,2.3 3,2.1 3,2.1 3,1.8 3,1.8 3,2.0 3,2.2 3,2.2 3,2.3 3,2.2 3,1.9 3,1.6 3,1.5 3,1.5 3,1.5 3,1.6 3,1.8 3,2.5"/>
<path d="M398.5,76.4l3,1.5 3,1.0 3,0.7 3,0.9 3,1.7 3,1.9 3,1.4 3,1.8 3,1.8 3,1.6 3,1.6 3,1.5 3,1.5 3,1.7 3,1.8 3,1.9 3,1.8 3,1.2 3,0.9 3,0.8 3,0.9 3,1.0 3,1.5 3,1.8 3,2.0 3,2.0 3,1.7 3,1.7 3,1.6 3,1.7 3,1.8 3,1.9 3,1.9 3,1.9 3,1.9 3,1.6 3,1.6 3,1.9 3,2.0 3,2.1 3,2.1 3,2.3 3,2.2 3,2.2 3,2.2 3,2.4 3,2.4 3,2.5 3,2.6 3,2.2 3,1.9 3,1.5 3,1.2 3,1.0 3,1.1 3,1.2 3,2.1"/>
<path d="M398.5,79.0l3,0.9 3,0.5 3,0.8 3,1.6 3,2.6 3,2.4 3,1.3 3,0.9 3,0.5 3,0.6 3,1.1 3,1.8 3,2.2 3,2.2 3,2.0 3,1.4 3,1.0 3,0.5 3,0.9 3,1.5 3,1.9 3,2.1 3,1.8 3,1.5 3,1.0 3,0.9 3,1.1 3,1.6 3,2.1 3,2.3 3,2.0 3,1.4 3,0.9 3,0.9 3,1.4 3,2.0 3,2.5 3,3.0 3,2.8 3,2.1 3,1.6 3,1.4 3,1.6 3,2.2 3,2.8 3,3.0 3,2.9 3,2.3 3,1.7 3,1.3 3,1.2 3,1.5 3,1.9 3,2.0 3,2.0 3,1.6 3,2.1"/>
<path d="M398.5,78.8l3,2.1 3,1.6 3,1.1 3,1.1 3,1.5 3,1.6 3,1.1 3,1.6 3,1.7 3,1.4 3,1.3 3,0.9 3,0.8 3,1.1 3,1.4 3,1.8 3,2.0 3,1.6 3,1.4 3,1.1 3,1.1 3,1.1 3,1.5 3,2.0 3,2.1 3,2.1 3,1.7 3,1.3 3,1.0 3,1.0 3,1.1 3,1.3 3,1.7 3,1.9 3,2.0 3,1.8 3,1.6 3,1.9 3,2.1 3,2.3 3,2.5 3,2.8 3,2.6 3,2.4 3,2.1 3,1.9 3,1.9 3,2.0 3,2.3 3,2.2 3,1.8 3,1.6 3,1.0 3,0.9 3,1.0 3,1.4 3,2.5"/>
<path d="M398.5,79.2l3,0.8 3,0.0 3,-0.1 3,0.7 3,2.0 3,2.4 3,1.8 3,1.6 3,1.2 3,0.8 3,1.1 3,1.5 3,2.2 3,2.8 3,2.8 3,2.3 3,1.5 3,0.4 3,0.3 3,0.6 3,1.2 3,1.7 3,1.9 3,1.8 3,1.4 3,1.0 3,0.8 3,1.2 3,1.9 3,2.5 3,2.8 3,2.5 3,1.9 3,1.4 3,1.4 3,1.4 3,2.0 3,2.6 3,2.8 3,2.5 3,1.7 3,1.5 3,1.1 3,1.4 3,2.1 3,2.9 3,3.2 3,3.2 3,2.7 3,2.1 3,1.4 3,1.5 3,1.5 3,1.9 3,2.2 3,2.0 3,2.4"/>
<path d="M398.5,81.0l3,0.8 3,1.1 3,1.6 3,2.2 3,2.4 3,1.6 3,0.2 3,0.0 3,0.4 3,1.0 3,2.1 3,2.5 3,2.4 3,1.8 3,1.0 3,0.7 3,0.7 3,1.0 3,1.7 3,2.3 3,2.2 3,1.5 3,0.8 3,0.4 3,0.4 3,1.1 3,1.8 3,2.4 3,2.5 3,2.0 3,1.1 3,0.5 3,0.4 3,1.1 3,2.3 3,2.9 3,3.1 3,2.8 3,2.0 3,1.1 3,0.8 3,1.3 3,2.2 3,2.9 3,3.3 3,3.0 3,2.0 3,1.3 3,1.0 3,1.2 3,1.7 3,2.5 3,2.6 3,2.2 3,1.6 3,0.8 3,1.3"/>
<path d="M398.5,80.3l3,1.5 3,1.0 3,0.8 3,1.1 3,1.7 3,1.9 3,1.2 3,1.5 3,1.4 3,1.3 3,1.3 3,1.4 3,1.4 3,1.6 3,1.8 3,1.8 3,1.6 3,1.1 3,1.0 3,1.0 3,1.2 3,1.3 3,1.4 3,1.8 3,1.7 3,1.7 3,1.5 3,1.5 3,1.5 3,1.5 3,1.7 3,1.6 3,1.6 3,1.6 3,1.9 3,1.7 3,1.8 3,2.1 3,2.2 3,2.2 3,2.0 3,2.2 3,2.1 3,2.1 3,2.3 3,2.4 3,2.3 3,2.3 3,2.3 3,2.1 3,1.7 3,1.6 3,1.4 3,1.2 3,1.4 3,1.4 3,2.2"/>
<path d="M398.5,75.9l3,1.8 3,1.2 3,0.9 3,1.1 3,1.6 3,1.7 3,1.3 3,1.7 3,1.9 3,1.7 3,1.8 3,1.6 3,1.5 3,1.6 3,1.8 3,2.0 3,2.0 3,1.5 3,1.3 3,1.0 3,1.0 3,1.1 3,1.3 3,1.9 3,2.0 3,2.1 3,1.9 3,1.7 3,1.6 3,1.6 3,1.7 3,1.8 3,2.0 3,2.1 3,2.2 3,2.0 3,1.8 3,1.9 3,2.1 3,2.1 3,2.2 3,2.5 3,2.4 3,2.3 3,2.3 3,2.3 3,2.3 3,2.4 3,2.5 3,2.4 3,2.0 3,1.8 3,1.3 3,1.1 3,1.1 3,1.3 3,2.1"/>
<path d="M398.5,78.2l3,1.6 3,1.0 3,0.9 3,1.1 3,1.8 3,1.9 3,1.1 3,1.4 3,1.4 3,1.3 3,1.6 3,1.6 3,1.7 3,1.9 3,1.9 3,1.9 3,1.7 3,1.3 3,1.2 3,1.2 3,1.3 3,1.4 3,1.4 3,1.6 3,1.6 3,1.6 3,1.6 3,1.6 3,1.7 3,1.7 3,1.8 3,1.7 3,1.7 3,1.8 3,2.1 3,2.1 3,2.1 3,2.3 3,2.2 3,2.2 3,1.9 3,2.1 3,2.1 3,2.2 3,2.4 3,2.4 3,2.4 3,2.3 3,2.3 3,2.1 3,1.8 3,1.9 3,1.6 3,1.4 3,1.5 3,1.4 3,2.2"/>
<path d="M398.5,82.3l3,1.5 3,0.6 3,0.4 3,0.7 3,1.7 3,2.0 3,1.5 3,1.7 3,1.5 3,1.0 3,1.1 3,1.2 3,1.4 3,1.9 3,2.2 3,2.1 3,1.8 3,0.9 3,0.7 3,0.6 3,0.9 3,1.3 3,1.7 3,2.0 3,1.8 3,1.4 3,1.2 3,1.1 3,1.3 3,1.8 3,2.0 3,2.0 3,1.9 3,1.6 3,1.6 3,1.4 3,1.6 3,2.1 3,2.5 3,2.4 3,2.1 3,2.0 3,1.7 3,1.7 3,2.0 3,2.3 3,2.5 3,2.6 3,2.6 3,2.0 3,1.6 3,1.3 3,1.1 3,1.2 3,1.5 3,1.6 3,2.3"/>
<path d="M398.5,81.5l3,2.1 3,1.5 3,1.1 3,1.0 3,1.5 3,1.6 3,1.2 3,1.5 3,1.6 3,1.3 3,1.1 3,0.8 3,0.8 3,1.1 3,1.5 3,1.9 3,2.1 3,1.6 3,1.3 3,1.1 3,1.1 3,1.2 3,1.6 3,2.0 3,2.1 3,2.0 3,1.5 3,1.2 3,0.9 3,0.8 3,1.2 3,1.4 3,1.7 3,1.8 3,2.0 3,1.7 3,1.7 3,1.9 3,2.3 3,2.4 3,2.6 3,2.8 3,2.5 3,2.2 3,2.0 3,1.8 3,1.9 3,2.0 3,2.2 3,2.1 3,1.8 3,1.4 3,1.0 3,0.9 3,1.1 3,1.5 3,2.7"/>
<path d="M398.5,83.0l3,1.6 3,0.6 3,0.3 3,0.8 3,1.8 3,2.4 3,1.9 3,1.7 3,1.3 3,0.5 3,0.4 3,0.6 3,1.3 3,1.9 3,2.3 3,2.3 3,1.8 3,0.8 3,0.5 3,0.7 3,1.2 3,1.9 3,2.2 3,2.4 3,2.0 3,1.2 3,0.7 3,0.7 3,1.1 3,1.6 3,2.0 3,2.1 3,1.7 3,1.3 3,1.2 3,1.1 3,1.7 3,2.4 3,3.0 3,3.1 3,2.5 3,2.2 3,1.6 3,1.5 3,1.8 3,2.4 3,2.7 3,2.8 3,2.5 3,1.8 3,1.1 3,0.8 3,0.9 3,1.3 3,1.9 3,2.2 3,2.9"/>
<path d="M398.5,80.5l3,1.8 3,1.3 3,1.2 3,1.4 3,2.0 3,2.0 3,1.2 3,1.3 3,1.2 3,1.1 3,1.2 3,1.3 3,1.2 3,1.5 3,1.5 3,1.6 3,1.7 3,1.3 3,1.3 3,1.5 3,1.5 3,1.6 3,1.6 3,1.9 3,1.8 3,1.7 3,1.6 3,1.5 3,1.4 3,1.3 3,1.3 3,1.3 3,1.3 3,1.5 3,1.9 3,1.9 3,2.1 3,2.3 3,2.4 3,2.4 3,2.2 3,2.5 3,2.4 3,2.4 3,2.4 3,2.4 3,2.1 3,2.0 3,2.0 3,1.8 3,1.5 3,1.5 3,1.4 3,1.2 3,1.4 3,1.4 3,2.3"/>
<path d="M398.5,79.7l3,2.3 3,1.8 3,1.2 3,1.2 3,1.6 3,1.8 3,1.3 3,1.7 3,1.8 3,1.4 3,1.2 3,0.8 3,0.7 3,1.0 3,1.4 3,1.9 3,2.2 3,1.7 3,1.4 3,1.2 3,1.1 3,1.3 3,1.7 3,2.2 3,2.4 3,2.3 3,1.7 3,1.2 3,0.9 3,0.9 3,1.0 3,1.5 3,1.7 3,1.8 3,2.1 3,1.7 3,1.6 3,1.9 3,2.2 3,2.6 3,2.8 3,3.0 3,2.7 3,2.4 3,2.0 3,1.9 3,1.8 3,2.0 3,2.2 3,2.0 3,1.6 3,1.3 3,0.8 3,0.7 3,1.0 3,1.2 3,2.5"/>
<path d="M398.5,82.8l3,1.4 3,1.0 3,0.8 3,1.0 3,1.6 3,1.7 3,1.0 3,1.3 3,1.4 3,1.3 3,1.6 3,1.7 3,1.7 3,1.9 3,1.9 3,1.9 3,1.7 3,1.2 3,1.1 3,1.0 3,1.1 3,1.1 3,1.1 3,1.4 3,1.5 3,1.5 3,1.4 3,1.6 3,1.6 3,1.8 3,1.7 3,1.8 3,1.7 3,1.8 3,2.1 3,2.0 3,2.0 3,2.1 3,2.1 3,1.9 3,1.7 3,1.9 3,1.9 3,2.0 3,2.2 3,2.2 3,2.2 3,2.2 3,2.1 3,2.0 3,1.7 3,1.7 3,1.4 3,1.2 3,1.2 3,1.1 3,2.0"/>
<path d="M398.5,81.0l3,2.2 3,1.6 3,1.2 3,1.2 3,1.6 3,1.6 3,1.2 3,1.5 3,1.6 3,1.3 3,1.2 3,1.0 3,0.9 3,1.1 3,1.6 3,2.0 3,2.1 3,1.7 3,1.5 3,1.3 3,1.2 3,1.2 3,1.6 3,2.0 3,2.2 3,2.0 3,1.6 3,1.2 3,1.0 3,0.9 3,1.2 3,1.5 3,1.7 3,1.9 3,2.1 3,1.9 3,1.8 3,2.0 3,2.4 3,2.4 3,2.6 3,2.8 3,2.6 3,2.3 3,2.0 3,1.9 3,1.9 3,1.9 3,2.2 3,2.1 3,1.7 3,1.5 3,1.0 3,1.0 3,1.1 3,1.4 3,2.5"/>
<path d="M398.5,80.5l3,1.4 3,0.6 3,0.3 3,0.7 3,1.8 3,2.1 3,1.5 3,1.7 3,1.5 3,1.1 3,1.3 3,1.6 3,2.0 3,2.4 3,2.6 3,2.5 3,1.9 3,1.0 3,0.7 3,0.7 3,1.1 3,1.5 3,1.7 3,1.8 3,1.7 3,1.3 3,1.1 3,1.3 3,1.6 3,2.2 3,2.5 3,2.4 3,2.1 3,1.8 3,1.9 3,1.7 3,1.9 3,2.4 3,2.6 3,2.4 3,2.0 3,1.8 3,1.6 3,1.6 3,2.0 3,2.4 3,2.7 3,2.6 3,2.5 3,2.0 3,1.5 3,1.3 3,1.2 3,1.3 3,1.3 3,1.3 3,2.0"/>
<path d="M398.5,83.3l3,1.5 3,1.0 3,0.9 3,1.2 3,1.9 3,2.0 3,1.3 3,1.3 3,1.3 3,1.1 3,1.3 3,1.5 3,1.7 3,1.9 3,1.9 3,1.7 3,1.5 3,1.0 3,1.0 3,1.1 3,1.3 3,1.4 3,1.5 3,1.6 3,1.5 3,1.4 3,1.4 3,1.5 3,1.7 3,1.8 3,1.7 3,1.7 3,1.4 3,1.5 3,1.8 3,1.8 3,2.0 3,2.3 3,2.3 3,2.1 3,1.9 3,1.9 3,1.8 3,2.1 3,2.3 3,2.4 3,2.3 3,2.1 3,2.0 3,1.6 3,1.4 3,1.3 3,1.3 3,1.1 3,1.2 3,1.1 3,1.9"/>
<path d="M398.5,83.9l3,1.6 3,1.7 3,1.6 3,1.7 3,1.7 3,1.2 3,0.3 3,0.7 3,1.2 3,1.6 3,2.1 3,2.0 3,1.5 3,1.2 3,0.9 3,1.2 3,1.5 3,1.6 3,2.0 3,1.8 3,1.5 3,0.9 3,0.7 3,0.9 3,1.3 3,1.8 3,2.2 3,2.1 3,1.8 3,1.1 3,0.9 3,0.7 3,1.2 3,1.8 3,2.6 3,2.7 3,2.4 3,2.1 3,1.6 3,1.4 3,1.5 3,2.2 3,2.7 3,2.9 3,2.7 3,2.2 3,1.6 3,1.3 3,1.6 3,1.9 3,2.2 3,2.4 3,1.9 3,1.3 3,1.0 3,0.8 3,1.7"/>
<path d="M398.5,85.2l3,1.2 3,0.9 3,0.9 3,1.4 3,2.1 3,2.0 3,1.1 3,1.2 3,1.2 3,1.1 3,1.4 3,1.6 3,1.6 3,1.8 3,1.6 3,1.4 3,1.3 3,0.9 3,1.0 3,1.2 3,1.4 3,1.5 3,1.4 3,1.5 3,1.5 3,1.4 3,1.5 3,1.7 3,1.8 3,1.8 3,1.6 3,1.4 3,1.2 3,1.3 3,1.7 3,1.8 3,2.1 3,2.3 3,2.2 3,2.0 3,1.7 3,1.9 3,2.0 3,2.3 3,2.5 3,2.6 3,2.4 3,2.2 3,2.0 3,1.6 3,1.5 3,1.6 3,1.5 3,1.4 3,1.3 3,1.2 3,1.9"/>
<path d="M398.5,83.1l3,1.5 3,1.0 3,1.0 3,1.4 3,2.0 3,2.1 3,1.3 3,1.4 3,1.4 3,1.3 3,1.4 3,1.5 3,1.6 3,1.7 3,1.7 3,1.6 3,1.4 3,1.1 3,1.0 3,1.2 3,1.4 3,1.5 3,1.5 3,1.8 3,1.7 3,1.6 3,1.7 3,1.7 3,1.7 3,1.7 3,1.7 3,1.5 3,1.4 3,1.4 3,1.8 3,1.8 3,2.0 3,2.2 3,2.3 3,2.1 3,2.0 3,2.1 3,2.1 3,2.4 3,2.5 3,2.5 3,2.4 3,2.2 3,2.0 3,1.8 3,1.5 3,1.4 3,1.2 3,1.2 3,1.1 3,1.2 3,2.0"/>
<path d="M398.5,82.1l3,1.6 3,1.5 3,1.4 3,1.7 3,1.9 3,1.8 3,0.9 3,1.1 3,1.4 3,1.5 3,1.8 3,1.7 3,1.6 3,1.4 3,1.3 3,1.4 3,1.5 3,1.5 3,1.6 3,1.6 3,1.5 3,1.3 3,1.2 3,1.5 3,1.6 3,1.9 3,2.0 3,2.0 3,1.7 3,1.5 3,1.2 3,1.2 3,1.2 3,1.7 3,2.2 3,2.3 3,2.2 3,2.2 3,2.1 3,1.8 3,1.9 3,2.3 3,2.5 3,2.8 3,2.6 3,2.4 3,2.0 3,1.8 3,1.7 3,1.8 3,1.8 3,1.7 3,1.4 3,1.1 3,1.0 3,1.0 3,1.9"/>
<path d="M398.5,85.5l3,2.1 3,1.1 3,0.5 3,0.5 3,1.4 3,2.0 3,1.9 3,2.2 3,2.0 3,1.3 3,0.8 3,0.5 3,0.7 3,1.4 3,2.1 3,2.4 3,2.1 3,1.3 3,0.6 3,0.3 3,0.6 3,1.2 3,1.9 3,2.6 3,2.5 3,2.0 3,1.3 3,0.8 3,0.7 3,1.2 3,1.8 3,2.1 3,2.2 3,1.8 3,1.5 3,1.0 3,1.1 3,1.7 3,2.4 3,2.8 3,2.8 3,2.7 3,2.1 3,1.7 3,1.6 3,1.9 3,2.3 3,2.6 3,2.8 3,2.1 3,1.5 3,0.9 3,0.5 3,0.6 3,1.1 3,1.5 3,2.6"/>
<path d="M398.5,84.1l3,1.8 3,1.5 3,1.4 3,1.6 3,1.9 3,1.7 3,0.7 3,0.8 3,1.0 3,1.1 3,1.5 3,1.7 3,1.6 3,1.6 3,1.5 3,1.6 3,1.8 3,1.5 3,1.8 3,1.8 3,1.7 3,1.4 3,1.3 3,1.3 3,1.3 3,1.4 3,1.6 3,1.6 3,1.6 3,1.3 3,1.2 3,1.1 3,1.3 3,1.7 3,2.4 3,2.5 3,2.5 3,2.5 3,2.3 3,2.0 3,1.9 3,2.2 3,2.2 3,2.4 3,2.4 3,2.1 3,1.7 3,1.6 3,1.5 3,1.6 3,1.5 3,1.7 3,1.5 3,1.3 3,1.1 3,1.1 3,1.9"/>
<path d="M398.5,84.2l3,2.3 3,2.0 3,1.5 3,1.0 3,0.8 3,0.6 3,0.1 3,1.2 3,2.0 3,2.4 3,2.4 3,1.8 3,1.2 3,0.9 3,1.1 3,1.8 3,2.5 3,2.4 3,2.1 3,1.5 3,0.6 3,0.1 3,0.2 3,1.0 3,1.9 3,2.4 3,2.4 3,1.9 3,1.3 3,0.7 3,0.8 3,1.3 3,2.1 3,2.9 3,3.3 3,2.7 3,1.9 3,1.3 3,1.2 3,1.3 3,2.0 3,2.7 3,2.9 3,2.6 3,2.1 3,1.4 3,1.1 3,1.5 3,2.2 3,2.7 3,2.7 3,2.3 3,1.5 3,0.9 3,0.6 3,0.7 3,2.0"/>
<path d="M398.5,85.0l3,1.3 3,1.3 3,1.7 3,2.1 3,2.4 3,1.7 3,0.5 3,0.4 3,0.6 3,1.1 3,1.9 3,2.2 3,2.2 3,1.7 3,1.2 3,1.0 3,1.1 3,1.2 3,1.8 3,2.2 3,2.2 3,1.6 3,1.0 3,0.8 3,0.8 3,1.3 3,1.8 3,2.2 3,2.2 3,1.7 3,1.2 3,0.7 3,0.7 3,1.3 3,2.3 3,2.8 3,3.0 3,2.7 3,2.2 3,1.5 3,1.2 3,1.8 3,2.2 3,2.8 3,3.0 3,2.7 3,1.9 3,1.3 3,1.2 3,1.2 3,1.6 3,2.0 3,1.8 3,1.6 3,1.1 3,0.9 3,1.7"/>
<path d="M398.5,83.3l3,2.6 3,1.6 3,0.9 3,0.7 3,1.3 3,1.7 3,1.7 3,2.3 3,2.4 3,1.7 3,1.1 3,0.5 3,0.5 3,1.0 3,1.7 3,2.5 3,2.6 3,1.8 3,1.2 3,0.7 3,0.6 3,1.0 3,1.8 3,2.7 3,2.9 3,2.5 3,1.7 3,1.0 3,0.6 3,0.8 3,1.4 3,2.0 3,2.3 3,2.3 3,2.0 3,1.4 3,1.1 3,1.5 3,2.2 3,2.9 3,3.1 3,3.3 3,2.7 3,2.1 3,1.7 3,1.6 3,1.9 3,2.4 3,2.7 3,2.4 3,1.6 3,1.1 3,0.6 3,0.4 3,0.9 3,1.3 3,2.5"/>
<path d="M398.5,88.3l3,1.8 3,1.3 3,1.0 3,1.3 3,1.7 3,1.8 3,1.1 3,1.2 3,1.3 3,1.0 3,1.1 3,1.2 3,1.2 3,1.5 3,1.6 3,1.8 3,1.7 3,1.4 3,1.2 3,1.3 3,1.3 3,1.4 3,1.5 3,1.8 3,1.6 3,1.6 3,1.4 3,1.2 3,1.2 3,1.3 3,1.3 3,1.4 3,1.4 3,1.6 3,1.9 3,1.9 3,2.0 3,2.2 3,2.4 3,2.3 3,2.2 3,2.3 3,2.1 3,2.1 3,2.2 3,2.1 3,2.0 3,1.9 3,1.9 3,1.8 3,1.5 3,1.4 3,1.2 3,1.2 3,1.2 3,1.4 3,2.3"/>
<path d="M398.5,86.8l3,1.8 3,1.3 3,1.0 3,1.3 3,1.9 3,1.8 3,1.1 3,1.4 3,1.2 3,1.2 3,1.3 3,1.3 3,1.4 3,1.6 3,1.8 3,1.8 3,1.8 3,1.4 3,1.3 3,1.3 3,1.4 3,1.4 3,1.5 3,1.8 3,1.6 3,1.6 3,1.5 3,1.4 3,1.4 3,1.4 3,1.5 3,1.5 3,1.5 3,1.7 3,2.0 3,1.9 3,2.1 3,2.3 3,2.4 3,2.3 3,2.1 3,2.3 3,2.1 3,2.2 3,2.2 3,2.1 3,2.1 3,1.9 3,2.0 3,1.7 3,1.5 3,1.4 3,1.2 3,1.1 3,1.1 3,1.3 3,2.0"/>
<path d="M398.5,88.3l3,1.6 3,1.1 3,1.0 3,1.3 3,1.8 3,1.8 3,1.2 3,1.3 3,1.3 3,1.2 3,1.4 3,1.4 3,1.5 3,1.6 3,1.6 3,1.7 3,1.6 3,1.2 3,1.2 3,1.2 3,1.3 3,1.4 3,1.4 3,1.6 3,1.7 3,1.6 3,1.6 3,1.5 3,1.5 3,1.5 3,1.5 3,1.5 3,1.5 3,1.5 3,2.0 3,1.9 3,2.0 3,2.2 3,2.2 3,2.1 3,2.0 3,2.1 3,2.2 3,2.2 3,2.4 3,2.3 3,2.2 3,2.1 3,2.0 3,1.9 3,1.6 3,1.6 3,1.3 3,1.2 3,1.3 3,1.2 3,2.1"/>
<path d="M398.5,86.5l3,1.7 3,1.3 3,1.2 3,1.3 3,1.9 3,1.8 3,1.2 3,1.4 3,1.5 3,1.4 3,1.5 3,1.5 3,1.5 3,1.6 3,1.7 3,1.7 3,1.7 3,1.4 3,1.3 3,1.2 3,1.4 3,1.2 3,1.4 3,1.7 3,1.7 3,1.8 3,1.7 3,1.6 3,1.6 3,1.5 3,1.5 3,1.5 3,1.6 3,1.7 3,2.0 3,2.0 3,2.0 3,2.1 3,2.2 3,2.1 3,2.0 3,2.2 3,2.3 3,2.3 3,2.2 3,2.2 3,2.0 3,1.9 3,1.9 3,1.7 3,1.4 3,1.3 3,1.1 3,0.9 3,0.9 3,1.0 3,1.9"/>
<path d="M398.5,89.3l3,1.9 3,1.0 3,0.5 3,0.7 3,1.8 3,2.4 3,2.2 3,2.5 3,2.0 3,1.2 3,0.7 3,0.5 3,0.7 3,1.3 3,1.9 3,2.1 3,1.7 3,0.9 3,0.3 3,0.3 3,0.7 3,1.4 3,2.2 3,2.9 3,2.7 3,2.0 3,1.4 3,0.9 3,1.0 3,1.3 3,1.9 3,2.0 3,1.9 3,1.4 3,1.0 3,0.7 3,0.9 3,1.7 3,2.4 3,2.9 3,2.9 3,2.7 3,2.2 3,1.8 3,1.9 3,2.2 3,2.6 3,2.9 3,2.6 3,2.0 3,1.2 3,0.6 3,0.4 3,0.5 3,0.9 3,1.5 3,2.4"/>
<path d="M398.5,89.0l3,1.8 3,1.2 3,0.8 3,1.2 3,1.7 3,1.9 3,1.2 3,1.3 3,1.1 3,0.9 3,1.0 3,1.3 3,1.5 3,1.9 3,2.1 3,2.2 3,1.9 3,1.3 3,1.2 3,1.2 3,1.5 3,1.5 3,1.6 3,1.8 3,1.5 3,1.3 3,1.1 3,1.1 3,1.2 3,1.5 3,1.8 3,1.7 3,1.7 3,1.7 3,1.9 3,2.0 3,2.1 3,2.5 3,2.7 3,2.4 3,2.2 3,2.1 3,1.8 3,1.8 3,2.0 3,2.0 3,2.1 3,2.0 3,1.9 3,1.7 3,1.3 3,1.3 3,1.2 3,1.2 3,1.3 3,1.3 3,2.1"/>
<path d="M398.5,87.8l3,1.6 3,1.2 3,1.3 3,1.7 3,2.2 3,2.3 3,1.5 3,1.6 3,1.6 3,1.3 3,1.5 3,1.4 3,1.4 3,1.4 3,1.4 3,1.4 3,1.3 3,0.9 3,1.1 3,1.2 3,1.5 3,1.6 3,1.7 3,2.0 3,1.9 3,1.9 3,1.9 3,1.8 3,1.8 3,1.6 3,1.5 3,1.3 3,1.1 3,1.3 3,1.6 3,1.6 3,1.8 3,2.1 3,2.3 3,2.1 3,2.1 3,2.4 3,2.3 3,2.6 3,2.6 3,2.4 3,2.3 3,1.9 3,1.7 3,1.4 3,1.1 3,1.1 3,0.9 3,0.8 3,0.8 3,0.9 3,1.8"/>
<path d="M398.5,88.7l3,1.2 3,0.6 3,0.6 3,1.2 3,2.4 3,2.8 3,2.1 3,1.9 3,1.5 3,1.0 3,1.1 3,1.3 3,1.8 3,2.2 3,2.1 3,1.8 3,1.2 3,0.4 3,0.3 3,0.7 3,1.4 3,1.9 3,2.2 3,2.2 3,1.9 3,1.4 3,1.3 3,1.5 3,1.9 3,2.3 3,2.4 3,2.0 3,1.4 3,1.0 3,1.1 3,1.2 3,1.6 3,2.3 3,2.7 3,2.5 3,2.1 3,1.8 3,1.7 3,2.0 3,2.4 3,2.8 3,2.8 3,2.4 3,2.0 3,1.3 3,0.9 3,0.8 3,0.7 3,0.9 3,1.0 3,1.0 3,1.8"/>
<path d="M398.5,91.4l3,1.7 3,1.3 3,1.2 3,1.3 3,1.8 3,1.7 3,1.1 3,1.2 3,1.3 3,1.3 3,1.6 3,1.6 3,1.6 3,1.7 3,1.6 3,1.8 3,1.6 3,1.3 3,1.3 3,1.3 3,1.4 3,1.2 3,1.2 3,1.4 3,1.5 3,1.5 3,1.6 3,1.6 3,1.6 3,1.6 3,1.5 3,1.4 3,1.5 3,1.7 3,2.2 3,2.1 3,2.0 3,2.2 3,2.1 3,1.9 3,1.9 3,2.0 3,2.1 3,2.2 3,2.2 3,2.1 3,1.9 3,1.8 3,1.8 3,1.6 3,1.5 3,1.4 3,1.2 3,1.0 3,0.9 3,1.0 3,1.8"/>
<path d="M398.5,90.7l3,1.9 3,1.7 3,1.5 3,1.5 3,1.8 3,1.6 3,0.8 3,1.0 3,1.1 3,1.2 3,1.5 3,1.6 3,1.5 3,1.6 3,1.6 3,1.7 3,1.8 3,1.7 3,1.7 3,1.7 3,1.6 3,1.3 3,1.1 3,1.3 3,1.4 3,1.5 3,1.6 3,1.5 3,1.4 3,1.3 3,1.2 3,1.2 3,1.4 3,1.9 3,2.3 3,2.5 3,2.3 3,2.4 3,2.2 3,2.0 3,1.9 3,2.2 3,2.2 3,2.2 3,2.1 3,1.9 3,1.6 3,1.4 3,1.5 3,1.4 3,1.5 3,1.4 3,1.1 3,1.0 3,0.9 3,0.9 3,1.9"/>
<path d="M398.5,90.9l3,1.6 3,1.6 3,1.9 3,2.1 3,2.3 3,1.7 3,0.5 3,0.2 3,0.5 3,0.9 3,1.8 3,2.2 3,2.3 3,1.9 3,1.5 3,1.3 3,1.3 3,1.5 3,2.1 3,2.4 3,2.4 3,1.7 3,1.0 3,0.7 3,0.6 3,1.0 3,1.5 3,2.0 3,2.0 3,1.7 3,1.2 3,0.8 3,0.8 3,1.5 3,2.5 3,3.1 3,3.1 3,3.0 3,2.3 3,1.7 3,1.3 3,1.6 3,2.1 3,2.4 3,2.6 3,2.1 3,1.6 3,1.0 3,0.9 3,1.0 3,1.2 3,1.5 3,1.4 3,1.1 3,0.9 3,0.8 3,1.7"/>
<path d="M398.5,93.2l3,1.5 3,1.1 3,1.0 3,1.3 3,2.0 3,2.0 3,1.3 3,1.3 3,1.2 3,1.1 3,1.4 3,1.6 3,1.7 3,1.9 3,1.9 3,1.8 3,1.6 3,1.1 3,1.1 3,1.2 3,1.5 3,1.5 3,1.6 3,1.7 3,1.5 3,1.4 3,1.4 3,1.5 3,1.7 3,1.8 3,1.8 3,1.6 3,1.5 3,1.5 3,1.9 3,1.9 3,2.1 3,2.4 3,2.4 3,2.2 3,1.9 3,2.0 3,2.0 3,2.1 3,2.2 3,2.4 3,2.3 3,2.0 3,1.9 3,1.5 3,1.3 3,1.3 3,1.2 3,1.1 3,1.1 3,1.1 3,1.9"/>
<path d="M398.5,93.3l3,1.9 3,1.2 3,0.9 3,1.1 3,2.1 3,2.5 3,2.2 3,2.2 3,1.9 3,1.2 3,0.9 3,1.0 3,1.2 3,1.8 3,2.1 3,2.1 3,1.6 3,0.7 3,0.4 3,0.6 3,1.0 3,1.6 3,2.2 3,2.5 3,2.3 3,1.7 3,1.3 3,1.1 3,1.3 3,1.8 3,2.1 3,2.0 3,1.7 3,1.3 3,1.2 3,1.0 3,1.2 3,1.9 3,2.5 3,2.7 3,2.5 3,2.2 3,1.9 3,1.7 3,1.8 3,2.2 3,2.2 3,2.0 3,1.6 3,1.2 3,0.8 3,0.6 3,0.5 3,0.5 3,0.8 3,0.9 3,1.8"/>
<path d="M398.5,95.3l3,2.0 3,2.0 3,1.8 3,1.9 3,2.0 3,1.8 3,1.0 3,1.3 3,1.5 3,1.7 3,1.9 3,1.7 3,1.4 3,1.1 3,1.1 3,1.2 3,1.5 3,1.6 3,1.7 3,1.6 3,1.5 3,1.1 3,1.0 3,1.3 3,1.6 3,2.0 3,2.0 3,2.0 3,1.6 3,1.2 3,0.9 3,0.9 3,1.1 3,1.7 3,2.3 3,2.2 3,2.0 3,1.8 3,1.8 3,1.7 3,1.8 3,2.3 3,2.5 3,2.5 3,2.3 3,1.7 3,1.4 3,1.2 3,1.2 3,1.2 3,1.2 3,1.1 3,0.8 3,0.6 3,0.6 3,0.7 3,1.6"/>
<path d="M398.5,99.0l3,2.0 3,1.8 3,1.8 3,1.8 3,1.9 3,1.7 3,1.1 3,1.3 3,1.5 3,1.7 3,2.1 3,2.1 3,1.8 3,1.6 3,1.4 3,1.4 3,1.6 3,1.4 3,1.6 3,1.5 3,1.3 3,0.9 3,0.8 3,1.0 3,1.3 3,1.7 3,1.9 3,2.0 3,1.9 3,1.5 3,1.3 3,1.2 3,1.4 3,1.8 3,2.4 3,2.3 3,2.0 3,1.7 3,1.6 3,1.6 3,1.5 3,1.9 3,2.1 3,2.2 3,2.1 3,1.7 3,1.4 3,1.2 3,1.2 3,1.1 3,1.1 3,1.0 3,0.7 3,0.6 3,0.6 3,0.6 3,1.6"/>
</g>
<g fill="none" stroke="#ff6a5c" stroke-opacity="0.022" stroke-width="1.2">
<path d="M398.5,55.4l3,2.0 3,1.0 3,0.8 3,1.8 3,1.1 3,1.0 3,1.2 3,1.3 3,1.4 3,1.6 3,1.6 3,1.6 3,1.5 3,1.5 3,1.4 3,1.1 3,1.3 3,1.7 3,1.8 3,1.6 3,1.5 3,1.5 3,1.5 3,1.4 3,1.5 3,1.6 3,1.6 3,1.6 3,1.4 3,1.2 3,1.2 3,1.5 3,1.6 3,1.7 3,1.9 3,1.9 3,1.8 3,2.2 3,2.1 3,2.0 3,1.9 3,2.4 3,2.3 3,2.4 3,2.5 3,2.5 3,2.3 3,2.2 3,2.4 3,2.4 3,2.5 3,2.4 3,2.1 3,1.9 3,1.8 3,1.5 3,2.6"/>
<path d="M398.5,56.7l3,2.3 3,1.9 3,1.7 3,2.2 3,0.8 3,0.2 3,0.5 3,1.0 3,1.9 3,2.6 3,2.7 3,2.0 3,1.2 3,0.5 3,0.2 3,0.2 3,1.2 3,2.3 3,2.5 3,2.1 3,1.3 3,0.7 3,0.5 3,0.8 3,1.7 3,2.5 3,2.8 3,2.5 3,1.6 3,0.5 3,0.3 3,0.6 3,1.3 3,2.1 3,2.6 3,2.4 3,1.8 3,1.4 3,0.9 3,1.0 3,1.7 3,2.8 3,3.4 3,3.5 3,3.0 3,2.2 3,1.6 3,1.4 3,2.0 3,2.8 3,3.3 3,3.3 3,2.3 3,1.4 3,0.6 3,0.3 3,1.8"/>
<path d="M398.5,60.8l3,1.2 3,-0.4 3,-0.4 3,1.3 3,1.5 3,1.9 3,1.9 3,1.4 3,0.7 3,0.4 3,0.8 3,1.6 3,2.6 3,3.2 3,3.1 3,1.9 3,1.1 3,0.9 3,0.7 3,1.2 3,1.8 3,2.4 3,2.3 3,1.7 3,0.8 3,0.2 3,0.2 3,0.8 3,1.8 3,2.5 3,2.8 3,2.7 3,1.9 3,1.2 3,1.1 3,1.5 3,2.2 3,3.3 3,3.4 3,2.7 3,1.8 3,1.1 3,0.7 3,1.2 3,2.1 3,3.0 3,3.5 3,3.3 3,2.7 3,2.1 3,1.6 3,1.9 3,2.4 3,3.0 3,3.4 3,2.8 3,3.1"/>
<path d="M398.5,62.0l3,1.9 3,1.1 3,0.8 3,1.8 3,1.2 3,1.0 3,1.2 3,1.3 3,1.4 3,1.5 3,1.7 3,1.6 3,1.5 3,1.4 3,1.4 3,0.9 3,1.2 3,1.7 3,1.7 3,1.6 3,1.6 3,1.6 3,1.4 3,1.4 3,1.5 3,1.6 3,1.6 3,1.6 3,1.5 3,1.2 3,1.2 3,1.4 3,1.5 3,1.6 3,1.8 3,1.9 3,1.8 3,2.2 3,2.1 3,1.9 3,1.9 3,2.3 3,2.4 3,2.5 3,2.5 3,2.5 3,2.4 3,2.2 3,2.2 3,2.4 3,2.4 3,2.4 3,2.1 3,1.9 3,1.7 3,1.4 3,2.6"/>
<path d="M398.5,61.7l3,1.8 3,0.7 3,0.5 3,1.5 3,1.0 3,1.0 3,1.5 3,1.6 3,1.7 3,1.9 3,2.0 3,1.8 3,1.7 3,1.7 3,1.6 3,1.1 3,1.2 3,1.5 3,1.4 3,1.3 3,1.1 3,1.3 3,1.3 3,1.5 3,1.6 3,1.7 3,1.8 3,1.7 3,1.7 3,1.6 3,1.6 3,1.8 3,1.9 3,1.8 3,1.8 3,1.7 3,1.6 3,1.8 3,1.9 3,1.8 3,1.8 3,2.1 3,2.2 3,2.4 3,2.5 3,2.7 3,2.6 3,2.6 3,2.8 3,2.8 3,2.7 3,2.6 3,2.1 3,1.8 3,1.8 3,1.3 3,2.4"/>
<path d="M398.5,65.4l3,2.3 3,0.9 3,0.5 3,1.5 3,1.1 3,1.2 3,1.4 3,1.2 3,1.0 3,0.7 3,0.7 3,0.8 3,1.4 3,1.8 3,2.1 3,1.7 3,1.6 3,1.8 3,1.6 3,1.6 3,1.8 3,2.0 3,2.1 3,1.8 3,1.4 3,1.0 3,0.7 3,0.6 3,0.8 3,1.0 3,1.5 3,1.8 3,1.7 3,1.6 3,1.6 3,1.6 3,2.1 3,2.7 3,3.0 3,2.9 3,2.4 3,2.3 3,1.8 3,1.7 3,1.9 3,2.1 3,2.3 3,2.3 3,2.3 3,2.0 3,1.9 3,1.8 3,1.8 3,2.1 3,2.5 3,2.3 3,3.4"/>
<path d="M398.5,61.5l3,2.4 3,1.1 3,0.8 3,1.6 3,1.1 3,1.1 3,1.5 3,1.6 3,1.8 3,1.7 3,1.6 3,1.4 3,1.3 3,1.5 3,1.6 3,1.3 3,1.5 3,1.9 3,1.7 3,1.5 3,1.5 3,1.5 3,1.7 3,1.7 3,1.9 3,1.8 3,1.7 3,1.5 3,1.3 3,1.1 3,1.4 3,1.7 3,1.9 3,1.8 3,2.0 3,1.7 3,1.7 3,2.0 3,2.3 3,2.2 3,2.3 3,2.6 3,2.5 3,2.4 3,2.4 3,2.4 3,2.4 3,2.5 3,2.6 3,2.7 3,2.6 3,2.3 3,1.9 3,1.7 3,1.8 3,1.6 3,2.9"/>
<path d="M398.5,62.6l3,2.5 3,1.3 3,0.8 3,1.6 3,0.9 3,0.9 3,1.4 3,1.7 3,1.8 3,1.9 3,1.6 3,1.4 3,1.2 3,1.3 3,1.5 3,1.3 3,1.7 3,2.1 3,1.8 3,1.5 3,1.3 3,1.4 3,1.5 3,1.8 3,2.0 3,1.9 3,1.8 3,1.4 3,1.2 3,1.0 3,1.2 3,1.7 3,1.9 3,2.0 3,2.1 3,1.7 3,1.7 3,1.9 3,2.1 3,2.2 3,2.4 3,2.8 3,2.6 3,2.4 3,2.3 3,2.2 3,2.3 3,2.3 3,2.7 3,2.8 3,2.7 3,2.4 3,1.8 3,1.5 3,1.7 3,1.5 3,2.9"/>
<path d="M398.5,64.4l3,2.2 3,1.1 3,0.8 3,1.7 3,1.1 3,0.9 3,1.4 3,1.6 3,1.8 3,1.7 3,1.8 3,1.5 3,1.3 3,1.4 3,1.4 3,1.2 3,1.3 3,1.9 3,1.7 3,1.5 3,1.4 3,1.3 3,1.6 3,1.6 3,1.8 3,1.9 3,1.7 3,1.6 3,1.4 3,1.1 3,1.3 3,1.6 3,1.8 3,1.8 3,1.9 3,1.7 3,1.7 3,2.0 3,2.0 3,2.0 3,2.2 3,2.5 3,2.5 3,2.5 3,2.5 3,2.4 3,2.4 3,2.4 3,2.5 3,2.7 3,2.6 3,2.4 3,1.9 3,1.6 3,1.7 3,1.4 3,2.6"/>
<path d="M398.5,68.0l3,1.9 3,1.0 3,0.7 3,1.9 3,1.3 3,1.2 3,1.3 3,1.3 3,1.1 3,1.3 3,1.3 3,1.4 3,1.5 3,1.6 3,1.4 3,1.0 3,1.1 3,1.6 3,1.6 3,1.7 3,1.7 3,1.8 3,1.7 3,1.5 3,1.5 3,1.3 3,1.4 3,1.4 3,1.4 3,1.2 3,1.3 3,1.4 3,1.3 3,1.5 3,1.6 3,1.7 3,1.9 3,2.4 3,2.4 3,2.1 3,2.0 3,2.3 3,2.2 3,2.3 3,2.5 3,2.6 3,2.3 3,2.3 3,2.1 3,2.2 3,2.1 3,2.1 3,2.0 3,1.8 3,1.9 3,1.6 3,2.6"/>
<path d="M398.5,64.8l3,1.9 3,0.8 3,0.7 3,2.1 3,1.9 3,1.9 3,1.9 3,1.5 3,1.0 3,0.8 3,0.8 3,1.2 3,1.5 3,1.9 3,1.9 3,1.2 3,1.0 3,1.3 3,1.4 3,1.7 3,2.2 3,2.5 3,2.5 3,2.1 3,1.6 3,1.2 3,1.0 3,1.2 3,1.4 3,1.5 3,1.7 3,1.6 3,1.2 3,1.0 3,1.2 3,1.4 3,2.1 3,2.9 3,3.1 3,2.8 3,2.4 3,2.3 3,2.0 3,2.3 3,2.6 3,3.0 3,2.9 3,2.6 3,2.2 3,1.8 3,1.5 3,1.7 3,1.7 3,2.1 3,2.4 3,2.1 3,3.0"/>
<path d="M398.5,66.0l3,1.6 3,1.0 3,1.2 3,2.4 3,1.7 3,1.1 3,1.1 3,1.0 3,1.3 3,1.7 3,2.1 3,2.2 3,1.9 3,1.5 3,1.1 3,0.4 3,0.6 3,1.5 3,1.8 3,2.1 3,1.9 3,1.7 3,1.3 3,1.1 3,1.2 3,1.6 3,2.1 3,2.3 3,2.1 3,1.5 3,1.2 3,1.0 3,1.1 3,1.3 3,1.9 3,2.1 3,2.2 3,2.3 3,2.0 3,1.5 3,1.4 3,2.1 3,2.5 3,3.0 3,3.3 3,3.0 3,2.5 3,2.1 3,1.9 3,2.2 3,2.4 3,2.7 3,2.5 3,2.0 3,1.7 3,1.0 3,1.9"/>
<path d="M398.5,68.2l3,1.6 3,0.7 3,0.6 3,1.7 3,1.1 3,0.9 3,1.1 3,1.2 3,1.5 3,1.8 3,2.0 3,2.0 3,2.0 3,1.8 3,1.6 3,1.0 3,1.1 3,1.6 3,1.6 3,1.5 3,1.4 3,1.3 3,1.2 3,1.1 3,1.2 3,1.5 3,1.7 3,1.8 3,1.9 3,1.6 3,1.5 3,1.7 3,1.7 3,1.8 3,2.0 3,2.0 3,1.9 3,2.1 3,1.9 3,1.6 3,1.5 3,1.9 3,2.1 3,2.4 3,2.6 3,2.7 3,2.5 3,2.4 3,2.4 3,2.6 3,2.8 3,2.7 3,2.4 3,2.1 3,1.9 3,1.3 3,2.3"/>
<path d="M398.5,67.4l3,1.6 3,0.7 3,1.0 3,2.4 3,2.0 3,1.8 3,1.8 3,1.4 3,1.0 3,1.1 3,1.3 3,1.6 3,1.7 3,1.7 3,1.3 3,0.6 3,0.6 3,1.0 3,1.4 3,1.8 3,2.2 3,2.3 3,2.2 3,1.7 3,1.5 3,1.4 3,1.5 3,1.8 3,1.8 3,1.7 3,1.4 3,1.3 3,0.9 3,0.8 3,1.1 3,1.5 3,2.1 3,2.6 3,2.6 3,2.3 3,1.9 3,2.2 3,2.2 3,2.7 3,3.1 3,3.2 3,3.0 3,2.5 3,2.0 3,1.7 3,1.7 3,1.9 3,1.9 3,2.0 3,2.0 3,1.5 3,2.3"/>
<path d="M398.5,71.2l3,2.3 3,1.1 3,0.7 3,1.6 3,1.2 3,1.0 3,1.3 3,1.2 3,1.0 3,1.0 3,0.9 3,1.0 3,1.2 3,1.6 3,1.6 3,1.4 3,1.5 3,1.8 3,1.7 3,1.6 3,1.8 3,1.8 3,1.9 3,1.7 3,1.5 3,1.2 3,1.0 3,0.9 3,0.9 3,0.9 3,1.2 3,1.5 3,1.5 3,1.5 3,1.7 3,1.7 3,2.0 3,2.5 3,2.6 3,2.6 3,2.3 3,2.4 3,2.1 3,2.0 3,2.1 3,2.2 3,2.1 3,2.2 3,2.1 3,2.0 3,2.0 3,1.9 3,1.8 3,1.9 3,2.1 3,2.0 3,3.1"/>
<path d="M398.5,67.5l3,2.0 3,1.3 3,1.3 3,2.3 3,1.4 3,0.9 3,0.9 3,0.9 3,1.3 3,1.8 3,2.1 3,2.0 3,1.8 3,1.4 3,1.0 3,0.6 3,1.0 3,1.9 3,2.1 3,2.2 3,1.9 3,1.5 3,1.2 3,1.1 3,1.3 3,1.7 3,2.0 3,2.1 3,1.8 3,1.3 3,0.9 3,1.1 3,1.2 3,1.6 3,2.2 3,2.3 3,2.3 3,2.3 3,1.9 3,1.6 3,1.6 3,2.3 3,2.7 3,3.0 3,3.0 3,2.6 3,2.2 3,1.9 3,1.9 3,2.3 3,2.6 3,2.8 3,2.5 3,2.0 3,1.6 3,1.1 3,2.2"/>
<path d="M398.5,69.3l3,2.1 3,1.0 3,0.9 3,1.9 3,1.2 3,1.0 3,1.3 3,1.4 3,1.4 3,1.7 3,1.7 3,1.6 3,1.6 3,1.5 3,1.3 3,1.0 3,1.2 3,1.7 3,1.7 3,1.7 3,1.6 3,1.5 3,1.5 3,1.5 3,1.6 3,1.6 3,1.7 3,1.7 3,1.6 3,1.2 3,1.3 3,1.4 3,1.5 3,1.7 3,1.9 3,1.8 3,1.9 3,2.1 3,2.1 3,2.0 3,1.9 3,2.4 3,2.4 3,2.5 3,2.7 3,2.5 3,2.4 3,2.3 3,2.3 3,2.4 3,2.5 3,2.4 3,2.0 3,1.8 3,1.8 3,1.3 3,2.5"/>
<path d="M398.5,71.6l3,1.8 3,0.8 3,0.6 3,1.6 3,1.3 3,1.1 3,1.5 3,1.5 3,1.5 3,1.5 3,1.5 3,1.5 3,1.5 3,1.6 3,1.5 3,1.1 3,1.0 3,1.5 3,1.4 3,1.4 3,1.4 3,1.6 3,1.6 3,1.6 3,1.6 3,1.5 3,1.6 3,1.5 3,1.5 3,1.3 3,1.5 3,1.6 3,1.6 3,1.5 3,1.6 3,1.5 3,1.6 3,2.1 3,2.2 3,2.0 3,2.0 3,2.2 3,2.2 3,2.3 3,2.5 3,2.6 3,2.6 3,2.5 3,2.5 3,2.4 3,2.3 3,2.2 3,1.9 3,1.7 3,1.8 3,1.5 3,2.5"/>
<path d="M398.5,70.9l3,2.1 3,0.9 3,0.8 3,1.8 3,1.2 3,1.1 3,1.3 3,1.4 3,1.3 3,1.4 3,1.5 3,1.5 3,1.5 3,1.6 3,1.6 3,1.1 3,1.3 3,1.7 3,1.6 3,1.6 3,1.7 3,1.6 3,1.7 3,1.5 3,1.5 3,1.5 3,1.5 3,1.4 3,1.5 3,1.2 3,1.3 3,1.6 3,1.5 3,1.7 3,1.7 3,1.8 3,1.9 3,2.3 3,2.3 3,2.2 3,2.0 3,2.3 3,2.2 3,2.4 3,2.5 3,2.5 3,2.3 3,2.4 3,2.3 3,2.3 3,2.3 3,2.3 3,2.0 3,1.9 3,1.9 3,1.5 3,2.7"/>
<path d="M398.5,70.1l3,1.9 3,0.9 3,0.8 3,1.9 3,1.4 3,1.2 3,1.4 3,1.4 3,1.3 3,1.5 3,1.6 3,1.7 3,1.7 3,1.7 3,1.6 3,1.0 3,1.1 3,1.6 3,1.6 3,1.7 3,1.8 3,1.7 3,1.7 3,1.5 3,1.5 3,1.5 3,1.5 3,1.7 3,1.6 3,1.5 3,1.4 3,1.6 3,1.5 3,1.5 3,1.8 3,1.8 3,2.0 3,2.3 3,2.3 3,2.1 3,1.9 3,2.2 3,2.3 3,2.4 3,2.7 3,2.7 3,2.6 3,2.4 3,2.3 3,2.3 3,2.3 3,2.3 3,2.1 3,1.9 3,1.9 3,1.5 3,2.5"/>
<path d="M398.5,70.9l3,1.5 3,0.6 3,0.7 3,2.2 3,1.9 3,1.9 3,1.7 3,1.3 3,0.8 3,0.8 3,1.1 3,1.6 3,1.9 3,2.1 3,1.8 3,0.9 3,0.7 3,1.1 3,1.3 3,1.8 3,2.2 3,2.4 3,2.3 3,1.7 3,1.2 3,1.0 3,1.1 3,1.5 3,1.8 3,1.8 3,1.8 3,1.5 3,1.0 3,0.9 3,1.2 3,1.6 3,2.2 3,2.9 3,3.0 3,2.4 3,1.9 3,1.9 3,1.8 3,2.4 3,2.8 3,3.2 3,3.0 3,2.6 3,2.0 3,1.7 3,1.6 3,1.9 3,2.0 3,2.4 3,2.3 3,1.9 3,2.6"/>
<path d="M398.5,73.3l3,1.8 3,0.6 3,0.5 3,1.7 3,1.5 3,1.4 3,1.6 3,1.3 3,1.1 3,1.0 3,1.2 3,1.4 3,1.7 3,1.9 3,1.8 3,1.1 3,1.1 3,1.3 3,1.3 3,1.5 3,1.8 3,2.0 3,1.9 3,1.7 3,1.3 3,1.1 3,1.1 3,1.3 3,1.5 3,1.5 3,1.6 3,1.7 3,1.4 3,1.3 3,1.4 3,1.5 3,2.0 3,2.6 3,2.6 3,2.3 3,2.0 3,2.0 3,1.8 3,2.1 3,2.5 3,2.7 3,2.7 3,2.6 3,2.3 3,2.0 3,1.9 3,2.0 3,1.9 3,2.1 3,2.2 3,1.8 3,2.6"/>
<path d="M398.5,75.3l3,2.4 3,0.9 3,0.3 3,1.1 3,0.7 3,1.0 3,1.8 3,2.0 3,1.8 3,1.5 3,1.0 3,0.7 3,0.8 3,1.3 3,1.7 3,1.6 3,1.7 3,1.7 3,1.2 3,0.9 3,0.9 3,1.4 3,1.9 3,2.1 3,2.2 3,1.7 3,1.3 3,0.8 3,0.7 3,0.8 3,1.4 3,2.0 3,2.0 3,1.8 3,1.5 3,1.0 3,1.1 3,1.7 3,2.3 3,2.6 3,2.6 3,2.8 3,2.2 3,1.8 3,1.8 3,2.0 3,2.3 3,2.7 3,2.9 3,2.7 3,2.3 3,1.6 3,1.2 3,1.2 3,1.5 3,1.8 3,3.1"/>
<path d="M398.5,74.9l3,1.8 3,1.0 3,0.9 3,1.8 3,1.0 3,0.7 3,0.8 3,0.8 3,1.1 3,1.6 3,1.9 3,1.9 3,1.8 3,1.6 3,1.3 3,0.9 3,1.2 3,1.8 3,1.9 3,1.9 3,1.6 3,1.3 3,1.1 3,0.9 3,1.0 3,1.3 3,1.6 3,1.7 3,1.6 3,1.2 3,1.2 3,1.3 3,1.4 3,1.8 3,2.2 3,2.2 3,2.2 3,2.2 3,2.0 3,1.6 3,1.5 3,2.0 3,2.1 3,2.5 3,2.5 3,2.4 3,2.0 3,2.0 3,2.0 3,2.3 3,2.6 3,2.7 3,2.4 3,2.1 3,1.8 3,1.2 3,2.3"/>
<path d="M398.5,70.9l3,1.0 3,1.0 3,1.7 3,3.3 3,2.4 3,1.4 3,0.7 3,0.1 3,0.4 3,1.3 3,2.3 3,2.9 3,2.8 3,1.9 3,0.8 3,-0.3 3,-0.1 3,1.1 3,2.2 3,2.9 3,3.0 3,2.2 3,1.3 3,0.4 3,0.3 3,1.0 3,2.1 3,2.8 3,2.9 3,2.1 3,1.1 3,0.3 3,0.2 3,0.7 3,1.9 3,2.8 3,3.2 3,3.1 3,2.2 3,1.1 3,0.7 3,1.4 3,2.4 3,3.5 3,4.0 3,3.7 3,2.6 3,1.6 3,1.0 3,1.3 3,2.1 3,3.0 3,3.2 3,2.7 3,2.0 3,0.8 3,1.3"/>
<path d="M398.5,75.1l3,1.9 3,1.1 3,1.2 3,2.1 3,1.5 3,1.0 3,0.9 3,0.7 3,0.8 3,1.1 3,1.5 3,1.7 3,1.6 3,1.6 3,1.3 3,0.8 3,1.0 3,1.7 3,2.0 3,2.2 3,2.1 3,1.8 3,1.5 3,1.1 3,1.1 3,1.1 3,1.4 3,1.6 3,1.5 3,1.1 3,1.0 3,1.1 3,1.1 3,1.3 3,1.9 3,2.2 3,2.5 3,2.6 3,2.4 3,1.9 3,1.8 3,2.0 3,2.3 3,2.5 3,2.7 3,2.5 3,2.1 3,1.8 3,1.7 3,1.8 3,2.1 3,2.4 3,2.3 3,2.1 3,2.0 3,1.4 3,2.4"/>
<path d="M398.5,72.0l3,1.9 3,0.7 3,0.4 3,1.5 3,1.3 3,1.4 3,1.8 3,1.7 3,1.6 3,1.5 3,1.5 3,1.6 3,1.8 3,2.0 3,1.9 3,1.4 3,1.3 3,1.5 3,1.3 3,1.3 3,1.5 3,1.7 3,1.8 3,1.8 3,1.7 3,1.5 3,1.4 3,1.4 3,1.6 3,1.7 3,1.9 3,2.0 3,1.9 3,1.7 3,1.6 3,1.6 3,1.7 3,2.2 3,2.5 3,2.2 3,2.1 3,2.2 3,2.0 3,2.2 3,2.4 3,2.7 3,2.8 3,2.8 3,2.7 3,2.6 3,2.2 3,2.1 3,1.8 3,1.7 3,1.8 3,1.5 3,2.5"/>
<path d="M398.5,72.5l3,1.6 3,1.1 3,1.3 3,2.5 3,1.7 3,1.1 3,0.9 3,0.7 3,1.0 3,1.6 3,2.1 3,2.3 3,2.1 3,1.8 3,1.1 3,0.5 3,0.7 3,1.6 3,2.0 3,2.3 3,2.2 3,1.7 3,1.3 3,0.9 3,1.0 3,1.4 3,1.9 3,2.2 3,2.2 3,1.6 3,1.2 3,1.0 3,1.0 3,1.4 3,2.0 3,2.4 3,2.6 3,2.5 3,2.1 3,1.5 3,1.4 3,1.9 3,2.4 3,3.0 3,3.2 3,3.0 3,2.4 3,1.9 3,1.7 3,2.0 3,2.4 3,2.8 3,2.6 3,2.2 3,1.7 3,1.1 3,1.9"/>
<path d="M398.5,73.1l3,1.9 3,0.9 3,0.8 3,2.0 3,1.6 3,1.6 3,1.7 3,1.6 3,1.4 3,1.4 3,1.4 3,1.4 3,1.6 3,1.6 3,1.5 3,1.0 3,0.9 3,1.4 3,1.4 3,1.6 3,1.8 3,2.0 3,2.0 3,1.8 3,1.7 3,1.6 3,1.6 3,1.6 3,1.6 3,1.5 3,1.5 3,1.5 3,1.3 3,1.3 3,1.4 3,1.5 3,1.8 3,2.4 3,2.5 3,2.3 3,2.1 3,2.3 3,2.3 3,2.5 3,2.8 3,2.9 3,2.7 3,2.6 3,2.3 3,2.1 3,2.0 3,1.9 3,1.8 3,1.7 3,1.7 3,1.5 3,2.4"/>
<path d="M398.5,72.2l3,2.2 3,1.0 3,0.7 3,1.6 3,1.2 3,1.3 3,1.6 3,1.7 3,1.7 3,1.6 3,1.6 3,1.5 3,1.5 3,1.6 3,1.8 3,1.3 3,1.5 3,1.7 3,1.6 3,1.5 3,1.5 3,1.7 3,1.7 3,1.8 3,1.9 3,1.7 3,1.6 3,1.5 3,1.4 3,1.4 3,1.5 3,1.8 3,1.9 3,1.8 3,1.8 3,1.7 3,1.7 3,2.2 3,2.4 3,2.3 3,2.2 3,2.5 3,2.3 3,2.4 3,2.5 3,2.5 3,2.6 3,2.6 3,2.6 3,2.6 3,2.4 3,2.3 3,1.8 3,1.8 3,1.8 3,1.6 3,2.7"/>
<path d="M398.5,73.2l3,1.7 3,0.6 3,0.7 3,1.8 3,1.3 3,1.2 3,1.4 3,1.5 3,1.6 3,1.8 3,2.0 3,2.1 3,2.1 3,1.9 3,1.7 3,1.0 3,1.0 3,1.5 3,1.4 3,1.5 3,1.5 3,1.5 3,1.4 3,1.4 3,1.4 3,1.5 3,1.8 3,2.0 3,2.1 3,1.8 3,1.7 3,1.8 3,1.7 3,1.7 3,1.8 3,1.9 3,1.9 3,2.1 3,2.1 3,1.7 3,1.6 3,2.0 3,2.1 3,2.5 3,2.8 3,2.9 3,2.8 3,2.6 3,2.6 3,2.5 3,2.5 3,2.5 3,2.2 3,1.9 3,1.6 3,1.2 3,2.2"/>
<path d="M398.5,73.0l3,2.0 3,0.9 3,0.5 3,1.4 3,1.0 3,1.2 3,1.7 3,2.1 3,2.3 3,2.2 3,2.0 3,1.7 3,1.5 3,1.6 3,1.6 3,1.2 3,1.4 3,1.6 3,1.3 3,1.1 3,0.9 3,1.2 3,1.5 3,1.8 3,2.1 3,2.1 3,2.0 3,1.9 3,1.6 3,1.5 3,1.7 3,2.1 3,2.1 3,2.0 3,1.8 3,1.4 3,1.3 3,1.6 3,1.8 3,1.9 3,2.1 3,2.5 3,2.4 3,2.5 3,2.5 3,2.7 3,2.7 3,2.8 3,3.1 3,3.0 3,2.6 3,2.2 3,1.6 3,1.3 3,1.3 3,1.1 3,2.3"/>
<path d="M398.5,75.2l3,1.6 3,0.6 3,0.6 3,1.9 3,1.6 3,1.5 3,1.6 3,1.4 3,1.2 3,1.3 3,1.5 3,1.8 3,2.0 3,2.0 3,1.8 3,1.1 3,0.9 3,1.3 3,1.3 3,1.6 3,1.8 3,2.0 3,1.8 3,1.6 3,1.3 3,1.2 3,1.4 3,1.7 3,1.8 3,1.8 3,1.8 3,1.7 3,1.5 3,1.3 3,1.5 3,1.7 3,2.0 3,2.5 3,2.6 3,2.1 3,1.8 3,1.9 3,2.0 3,2.2 3,2.8 3,2.9 3,2.9 3,2.6 3,2.3 3,2.1 3,2.0 3,2.1 3,2.0 3,1.9 3,1.9 3,1.5 3,2.3"/>
<path d="M398.5,77.9l3,2.2 3,1.2 3,0.7 3,1.6 3,0.9 3,0.9 3,1.3 3,1.5 3,1.5 3,1.6 3,1.4 3,1.2 3,1.2 3,1.4 3,1.4 3,1.3 3,1.4 3,1.9 3,1.6 3,1.5 3,1.3 3,1.4 3,1.5 3,1.6 3,1.7 3,1.6 3,1.5 3,1.3 3,1.1 3,0.9 3,1.2 3,1.6 3,1.7 3,1.8 3,1.8 3,1.6 3,1.7 3,1.9 3,2.2 3,2.1 3,2.2 3,2.5 3,2.3 3,2.2 3,2.2 3,2.2 3,2.1 3,2.2 3,2.4 3,2.4 3,2.2 3,2.1 3,1.6 3,1.4 3,1.4 3,1.4 3,2.5"/>
<path d="M398.5,78.5l3,2.0 3,1.0 3,0.9 3,1.9 3,1.3 3,1.2 3,1.2 3,1.3 3,1.2 3,1.4 3,1.4 3,1.5 3,1.4 3,1.4 3,1.3 3,0.9 3,1.1 3,1.6 3,1.7 3,1.7 3,1.7 3,1.7 3,1.6 3,1.5 3,1.4 3,1.5 3,1.6 3,1.5 3,1.4 3,1.1 3,1.1 3,1.3 3,1.3 3,1.5 3,1.7 3,1.7 3,1.9 3,2.2 3,2.3 3,2.1 3,1.9 3,2.3 3,2.3 3,2.5 3,2.6 3,2.5 3,2.3 3,2.1 3,2.1 3,2.1 3,2.2 3,2.1 3,1.9 3,1.7 3,1.7 3,1.3 3,2.5"/>
<path d="M398.5,79.7l3,1.0 3,0.1 3,0.6 3,2.4 3,2.4 3,2.1 3,1.7 3,0.7 3,-0.1 3,0.0 3,0.7 3,1.6 3,2.4 3,2.6 3,2.1 3,0.8 3,0.3 3,0.6 3,1.1 3,2.0 3,2.8 3,3.0 3,2.5 3,1.5 3,0.5 3,0.1 3,0.5 3,1.2 3,2.0 3,2.2 3,1.9 3,1.4 3,0.6 3,0.3 3,0.8 3,1.7 3,2.7 3,3.7 3,3.5 3,2.6 3,1.5 3,1.2 3,1.2 3,1.9 3,3.0 3,3.4 3,3.3 3,2.4 3,1.5 3,0.9 3,1.0 3,1.6 3,2.3 3,2.8 3,3.0 3,2.1 3,2.4"/>
<path d="M398.5,79.0l3,1.5 3,0.3 3,0.5 3,1.9 3,1.8 3,1.7 3,1.7 3,1.2 3,0.8 3,0.9 3,1.1 3,1.6 3,2.0 3,2.2 3,1.9 3,1.0 3,0.7 3,0.9 3,1.2 3,1.5 3,2.1 3,2.2 3,2.1 3,1.5 3,1.1 3,0.9 3,1.0 3,1.4 3,1.8 3,1.9 3,1.9 3,1.6 3,1.2 3,0.9 3,1.2 3,1.5 3,2.1 3,2.8 3,2.8 3,2.3 3,1.7 3,1.7 3,1.6 3,2.1 3,2.7 3,3.1 3,3.0 3,2.6 3,2.1 3,1.8 3,1.6 3,1.8 3,2.0 3,2.2 3,2.3 3,1.6 3,2.4"/>
<path d="M398.5,76.3l3,2.6 3,1.5 3,0.9 3,1.3 3,0.3 3,0.2 3,0.9 3,1.5 3,2.1 3,2.3 3,2.1 3,1.7 3,1.2 3,1.2 3,1.5 3,1.6 3,2.0 3,2.6 3,2.2 3,1.5 3,0.9 3,0.7 3,0.9 3,1.3 3,1.8 3,2.1 3,2.0 3,1.6 3,1.1 3,0.7 3,1.1 3,1.8 3,2.3 3,2.7 3,2.8 3,2.1 3,1.7 3,1.6 3,1.6 3,1.8 3,2.1 3,2.8 3,2.7 3,2.4 3,2.1 3,1.7 3,1.7 3,2.2 3,2.7 3,3.3 3,3.2 3,2.9 3,2.0 3,1.4 3,1.3 3,1.2 3,2.7"/>
<path d="M398.5,76.6l3,1.8 3,1.0 3,1.3 3,2.6 3,2.3 3,2.0 3,1.8 3,1.4 3,0.9 3,0.9 3,1.1 3,1.3 3,1.5 3,1.4 3,1.3 3,0.5 3,0.5 3,1.1 3,1.6 3,2.0 3,2.5 3,2.6 3,2.5 3,1.9 3,1.6 3,1.4 3,1.5 3,1.7 3,1.7 3,1.4 3,1.2 3,1.0 3,0.7 3,0.6 3,1.0 3,1.5 3,2.2 3,2.8 3,2.9 3,2.5 3,2.2 3,2.3 3,2.5 3,2.8 3,3.2 3,3.2 3,2.8 3,2.2 3,1.7 3,1.4 3,1.4 3,1.5 3,1.6 3,1.8 3,1.7 3,1.4 3,2.3"/>
<path d="M398.5,75.1l3,2.1 3,1.6 3,1.6 3,2.3 3,1.3 3,0.6 3,0.8 3,1.1 3,1.8 3,2.4 3,2.7 3,2.4 3,1.7 3,1.1 3,0.7 3,0.4 3,1.0 3,2.1 3,2.3 3,2.2 3,1.7 3,1.1 3,0.8 3,0.9 3,1.5 3,2.2 3,2.7 3,2.6 3,2.0 3,1.2 3,0.8 3,0.9 3,1.3 3,2.0 3,2.5 3,2.5 3,2.1 3,1.9 3,1.3 3,1.2 3,1.5 3,2.5 3,3.1 3,3.4 3,3.2 3,2.6 3,2.0 3,1.7 3,2.1 3,2.5 3,2.8 3,2.8 3,2.1 3,1.3 3,1.0 3,0.6 3,1.8"/>
<path d="M398.5,80.6l3,2.0 3,1.0 3,0.7 3,1.6 3,1.1 3,1.0 3,1.3 3,1.3 3,1.5 3,1.5 3,1.6 3,1.5 3,1.6 3,1.5 3,1.5 3,1.1 3,1.2 3,1.7 3,1.6 3,1.5 3,1.4 3,1.4 3,1.5 3,1.4 3,1.5 3,1.5 3,1.6 3,1.5 3,1.4 3,1.2 3,1.3 3,1.6 3,1.6 3,1.7 3,1.8 3,1.8 3,1.7 3,2.1 3,2.1 3,2.0 3,1.9 3,2.2 3,2.2 3,2.3 3,2.4 3,2.4 3,2.4 3,2.2 3,2.4 3,2.4 3,2.3 3,2.2 3,1.8 3,1.7 3,1.6 3,1.3 3,2.3"/>
<path d="M398.5,80.0l3,1.9 3,1.3 3,1.3 3,2.2 3,1.4 3,0.9 3,1.1 3,1.1 3,1.5 3,1.9 3,2.1 3,2.0 3,1.4 3,1.1 3,0.7 3,0.3 3,0.8 3,1.7 3,1.9 3,1.9 3,1.6 3,1.3 3,1.2 3,1.1 3,1.5 3,1.9 3,2.2 3,2.2 3,1.8 3,1.1 3,0.8 3,0.9 3,1.0 3,1.5 3,1.9 3,2.0 3,1.9 3,1.8 3,1.7 3,1.4 3,1.6 3,2.4 3,2.7 3,3.1 3,3.0 3,2.6 3,2.1 3,1.8 3,1.9 3,2.2 3,2.3 3,2.3 3,1.8 3,1.3 3,1.1 3,0.7 3,1.8"/>
<path d="M398.5,80.3l3,1.9 3,1.0 3,0.9 3,1.9 3,1.5 3,1.3 3,1.6 3,1.5 3,1.5 3,1.6 3,1.5 3,1.5 3,1.5 3,1.3 3,1.2 3,0.8 3,0.8 3,1.5 3,1.4 3,1.6 3,1.6 3,1.7 3,1.7 3,1.7 3,1.7 3,1.7 3,1.8 3,1.7 3,1.6 3,1.3 3,1.2 3,1.4 3,1.2 3,1.3 3,1.5 3,1.6 3,1.7 3,2.0 3,2.1 3,2.0 3,2.0 3,2.4 3,2.4 3,2.7 3,2.8 3,2.7 3,2.5 3,2.4 3,2.2 3,2.2 3,2.0 3,2.0 3,1.7 3,1.5 3,1.4 3,1.1 3,2.2"/>
<path d="M398.5,79.2l3,2.1 3,1.2 3,1.0 3,2.0 3,1.2 3,1.0 3,1.2 3,1.2 3,1.4 3,1.7 3,1.8 3,1.8 3,1.6 3,1.5 3,1.3 3,1.0 3,1.2 3,1.8 3,1.9 3,1.8 3,1.7 3,1.5 3,1.5 3,1.3 3,1.5 3,1.6 3,1.8 3,1.7 3,1.6 3,1.2 3,1.2 3,1.4 3,1.5 3,1.7 3,2.0 3,2.0 3,2.1 3,2.2 3,2.1 3,1.9 3,1.8 3,2.4 3,2.4 3,2.6 3,2.7 3,2.4 3,2.3 3,2.0 3,2.1 3,2.3 3,2.3 3,2.2 3,1.9 3,1.5 3,1.4 3,1.1 3,2.1"/>
<path d="M398.5,81.2l3,1.9 3,0.9 3,0.7 3,1.8 3,1.3 3,1.2 3,1.5 3,1.3 3,1.4 3,1.4 3,1.5 3,1.7 3,1.7 3,1.8 3,1.7 3,1.1 3,1.1 3,1.5 3,1.4 3,1.5 3,1.6 3,1.6 3,1.7 3,1.4 3,1.3 3,1.4 3,1.4 3,1.5 3,1.6 3,1.5 3,1.5 3,1.7 3,1.5 3,1.5 3,1.7 3,1.7 3,1.9 3,2.2 3,2.3 3,2.0 3,1.8 3,2.1 3,2.0 3,2.1 3,2.5 3,2.5 3,2.4 3,2.2 3,2.2 3,1.9 3,1.9 3,1.7 3,1.5 3,1.3 3,1.2 3,1.1 3,2.0"/>
<path d="M398.5,84.0l3,2.2 3,1.0 3,0.7 3,1.8 3,1.4 3,1.4 3,1.5 3,1.2 3,0.9 3,0.7 3,0.7 3,0.9 3,1.2 3,1.6 3,1.7 3,1.2 3,1.3 3,1.6 3,1.6 3,1.7 3,1.9 3,2.1 3,2.2 3,1.8 3,1.5 3,1.0 3,0.9 3,0.8 3,0.9 3,1.0 3,1.2 3,1.5 3,1.3 3,1.2 3,1.4 3,1.5 3,2.0 3,2.7 3,2.9 3,2.7 3,2.4 3,2.3 3,2.0 3,2.0 3,2.1 3,2.4 3,2.2 3,2.2 3,1.9 3,1.8 3,1.5 3,1.6 3,1.6 3,1.7 3,2.1 3,1.8 3,2.8"/>
<path d="M398.5,82.8l3,1.6 3,0.6 3,0.8 3,2.1 3,2.0 3,1.8 3,1.7 3,1.2 3,0.8 3,0.7 3,1.1 3,1.5 3,1.8 3,2.1 3,1.7 3,0.9 3,0.6 3,1.0 3,1.3 3,1.8 3,2.2 3,2.4 3,2.2 3,1.6 3,1.2 3,0.9 3,1.0 3,1.4 3,1.8 3,1.7 3,1.7 3,1.4 3,1.0 3,0.8 3,1.1 3,1.6 3,2.2 3,2.8 3,2.9 3,2.4 3,1.8 3,1.8 3,1.8 3,2.3 3,2.7 3,3.0 3,2.8 3,2.3 3,1.9 3,1.4 3,1.4 3,1.5 3,1.7 3,1.8 3,1.7 3,1.3 3,2.2"/>
<path d="M398.5,84.3l3,2.1 3,1.0 3,0.9 3,1.8 3,1.2 3,1.1 3,1.1 3,1.0 3,0.9 3,1.1 3,1.3 3,1.5 3,1.6 3,1.6 3,1.6 3,1.2 3,1.2 3,1.8 3,1.8 3,1.8 3,1.8 3,1.8 3,1.6 3,1.3 3,1.2 3,1.1 3,1.2 3,1.3 3,1.3 3,1.1 3,1.2 3,1.4 3,1.5 3,1.5 3,1.8 3,2.0 3,2.2 3,2.5 3,2.5 3,2.1 3,1.9 3,2.1 3,2.1 3,2.2 3,2.3 3,2.4 3,2.1 3,2.0 3,1.9 3,2.0 3,2.0 3,2.1 3,2.0 3,1.8 3,1.8 3,1.5 3,2.4"/>
<path d="M398.5,84.6l3,1.3 3,0.5 3,0.5 3,2.0 3,1.7 3,1.5 3,1.6 3,1.2 3,1.0 3,1.1 3,1.4 3,1.8 3,2.0 3,2.0 3,1.6 3,0.9 3,0.6 3,1.0 3,1.2 3,1.5 3,1.9 3,2.0 3,1.8 3,1.4 3,1.1 3,1.0 3,1.3 3,1.6 3,2.0 3,1.8 3,1.7 3,1.5 3,1.2 3,1.0 3,1.3 3,1.6 3,2.0 3,2.6 3,2.5 3,1.9 3,1.6 3,1.7 3,1.8 3,2.2 3,2.8 3,3.1 3,2.8 3,2.5 3,2.1 3,1.9 3,1.8 3,2.0 3,2.0 3,1.9 3,1.9 3,1.4 3,2.1"/>
<path d="M398.5,83.7l3,1.5 3,0.8 3,0.9 3,2.0 3,1.3 3,1.0 3,1.0 3,0.8 3,1.1 3,1.5 3,2.1 3,2.3 3,2.3 3,2.0 3,1.5 3,0.8 3,0.9 3,1.6 3,1.7 3,2.0 3,1.8 3,1.5 3,1.2 3,0.8 3,0.8 3,1.2 3,1.6 3,2.0 3,2.1 3,1.7 3,1.5 3,1.5 3,1.4 3,1.6 3,2.0 3,2.3 3,2.4 3,2.4 3,2.1 3,1.5 3,1.2 3,1.7 3,2.0 3,2.5 3,2.8 3,2.7 3,2.4 3,2.1 3,1.9 3,2.1 3,2.3 3,2.5 3,2.1 3,1.8 3,1.5 3,1.0 3,1.9"/>
<path d="M398.5,84.4l3,1.7 3,0.7 3,0.6 3,1.8 3,1.6 3,1.7 3,1.7 3,1.4 3,1.1 3,1.0 3,1.3 3,1.5 3,1.8 3,2.0 3,1.9 3,1.1 3,0.9 3,1.2 3,1.3 3,1.5 3,1.9 3,2.1 3,2.0 3,1.6 3,1.4 3,1.1 3,1.1 3,1.4 3,1.7 3,1.7 3,1.7 3,1.7 3,1.4 3,1.2 3,1.3 3,1.6 3,1.9 3,2.6 3,2.7 3,2.3 3,1.9 3,2.0 3,1.8 3,2.1 3,2.6 3,2.8 3,2.7 3,2.5 3,2.1 3,1.8 3,1.6 3,1.7 3,1.5 3,1.6 3,1.6 3,1.3 3,2.1"/>
<path d="M398.5,82.5l3,2.3 3,1.3 3,1.0 3,1.8 3,1.2 3,1.0 3,1.3 3,1.5 3,1.7 3,1.9 3,1.8 3,1.6 3,1.5 3,1.3 3,1.3 3,1.1 3,1.3 3,1.9 3,1.8 3,1.7 3,1.5 3,1.4 3,1.4 3,1.6 3,1.7 3,1.9 3,1.9 3,1.7 3,1.5 3,1.1 3,1.2 3,1.5 3,1.6 3,1.9 3,2.0 3,1.8 3,1.8 3,2.0 3,2.0 3,1.9 3,2.1 3,2.5 3,2.6 3,2.6 3,2.5 3,2.4 3,2.1 3,2.2 3,2.2 3,2.2 3,2.2 3,1.9 3,1.5 3,1.2 3,1.1 3,1.0 3,2.0"/>
<path d="M398.5,85.1l3,1.8 3,0.6 3,0.5 3,1.8 3,1.5 3,1.5 3,1.6 3,1.2 3,0.8 3,0.9 3,1.1 3,1.6 3,2.0 3,2.2 3,2.2 3,1.4 3,1.1 3,1.4 3,1.4 3,1.7 3,2.0 3,2.1 3,2.0 3,1.5 3,1.1 3,0.9 3,0.8 3,1.2 3,1.6 3,1.7 3,1.9 3,1.8 3,1.6 3,1.3 3,1.5 3,1.8 3,2.2 3,2.9 3,2.9 3,2.4 3,1.9 3,1.8 3,1.6 3,1.9 3,2.4 3,2.7 3,2.6 3,2.4 3,2.1 3,1.8 3,1.7 3,1.7 3,1.8 3,1.8 3,1.7 3,1.5 3,2.2"/>
<path d="M398.5,84.9l3,1.7 3,0.4 3,0.4 3,1.9 3,2.1 3,2.3 3,2.4 3,1.8 3,1.1 3,0.7 3,0.7 3,1.2 3,1.7 3,2.2 3,2.1 3,1.2 3,0.7 3,0.8 3,0.7 3,1.3 3,2.0 3,2.6 3,2.8 3,2.3 3,1.6 3,1.1 3,0.9 3,1.1 3,1.6 3,2.0 3,2.1 3,1.9 3,1.3 3,0.6 3,0.7 3,0.9 3,1.8 3,2.8 3,3.1 3,2.9 3,2.3 3,2.0 3,1.6 3,2.0 3,2.5 3,3.1 3,3.2 3,2.7 3,2.1 3,1.4 3,1.0 3,1.1 3,1.1 3,1.3 3,1.5 3,1.3 3,2.0"/>
<path d="M398.5,85.9l3,2.1 3,1.0 3,0.8 3,1.8 3,1.3 3,1.1 3,1.5 3,1.5 3,1.5 3,1.6 3,1.6 3,1.6 3,1.6 3,1.5 3,1.6 3,1.1 3,1.2 3,1.7 3,1.6 3,1.5 3,1.5 3,1.6 3,1.6 3,1.6 3,1.6 3,1.6 3,1.6 3,1.6 3,1.5 3,1.3 3,1.4 3,1.6 3,1.6 3,1.7 3,1.8 3,1.7 3,1.7 3,2.2 3,2.2 3,2.0 3,2.0 3,2.4 3,2.2 3,2.4 3,2.4 3,2.5 3,2.4 3,2.2 3,2.2 3,2.2 3,1.9 3,1.8 3,1.5 3,1.3 3,1.2 3,1.0 3,2.1"/>
<path d="M398.5,87.3l3,2.1 3,1.2 3,1.1 3,2.0 3,1.4 3,1.0 3,1.2 3,1.2 3,1.3 3,1.5 3,1.7 3,1.7 3,1.6 3,1.5 3,1.3 3,0.9 3,1.1 3,1.8 3,1.9 3,1.8 3,1.8 3,1.6 3,1.4 3,1.4 3,1.4 3,1.5 3,1.6 3,1.7 3,1.6 3,1.1 3,1.2 3,1.3 3,1.3 3,1.6 3,2.0 3,2.0 3,2.0 3,2.3 3,2.1 3,1.9 3,1.9 3,2.3 3,2.3 3,2.6 3,2.5 3,2.4 3,2.1 3,2.0 3,1.9 3,1.9 3,2.0 3,2.0 3,1.5 3,1.4 3,1.1 3,1.0 3,2.1"/>
<path d="M398.5,89.9l3,1.6 3,0.8 3,0.8 3,2.2 3,1.8 3,1.6 3,1.6 3,1.2 3,0.8 3,1.0 3,1.4 3,1.8 3,2.0 3,2.0 3,1.7 3,0.8 3,0.6 3,1.0 3,1.3 3,1.7 3,2.0 3,2.2 3,1.8 3,1.4 3,1.0 3,0.9 3,1.2 3,1.6 3,1.9 3,1.8 3,1.6 3,1.5 3,1.0 3,1.0 3,1.2 3,1.7 3,2.2 3,2.6 3,2.5 3,2.1 3,1.5 3,1.7 3,1.8 3,2.2 3,2.7 3,2.9 3,2.6 3,2.1 3,1.7 3,1.4 3,1.4 3,1.5 3,1.5 3,1.4 3,1.2 3,1.0 3,1.9"/>
<path d="M398.5,91.3l3,1.6 3,0.7 3,0.6 3,2.0 3,1.9 3,1.9 3,1.9 3,1.4 3,0.9 3,0.7 3,1.0 3,1.5 3,2.0 3,2.3 3,2.0 3,1.2 3,0.7 3,0.9 3,1.1 3,1.5 3,2.1 3,2.4 3,2.2 3,1.7 3,1.2 3,0.7 3,0.9 3,1.2 3,1.8 3,1.9 3,2.0 3,1.7 3,1.3 3,0.8 3,1.1 3,1.4 3,2.0 3,2.9 3,2.9 3,2.5 3,1.8 3,1.7 3,1.5 3,1.9 3,2.4 3,2.9 3,2.7 3,2.3 3,1.7 3,1.3 3,1.2 3,1.2 3,1.2 3,1.3 3,1.2 3,1.1 3,1.8"/>
<path d="M398.5,89.6l3,1.9 3,1.1 3,0.9 3,2.1 3,1.7 3,1.5 3,1.6 3,1.4 3,1.2 3,1.3 3,1.5 3,1.7 3,1.9 3,1.9 3,1.7 3,1.0 3,1.0 3,1.3 3,1.5 3,1.8 3,1.9 3,1.9 3,1.9 3,1.5 3,1.3 3,1.3 3,1.4 3,1.6 3,1.8 3,1.6 3,1.6 3,1.5 3,1.4 3,1.3 3,1.5 3,1.8 3,2.0 3,2.4 3,2.5 3,2.1 3,1.9 3,2.0 3,2.0 3,2.2 3,2.5 3,2.6 3,2.3 3,1.9 3,1.7 3,1.4 3,1.4 3,1.2 3,1.1 3,0.9 3,0.9 3,0.9 3,1.8"/>
<path d="M398.5,90.9l3,2.6 3,1.7 3,1.2 3,1.7 3,1.1 3,1.1 3,1.5 3,1.9 3,2.0 3,2.0 3,1.6 3,1.4 3,1.1 3,1.4 3,1.5 3,1.6 3,1.8 3,2.2 3,1.9 3,1.5 3,1.2 3,1.3 3,1.5 3,1.8 3,2.1 3,2.0 3,1.7 3,1.4 3,1.0 3,0.8 3,1.2 3,1.8 3,2.1 3,2.2 3,2.1 3,1.6 3,1.5 3,1.7 3,2.0 3,2.2 3,2.5 3,2.6 3,2.4 3,2.0 3,1.8 3,1.6 3,1.5 3,1.6 3,1.6 3,1.4 3,1.1 3,0.9 3,0.6 3,0.5 3,0.6 3,0.7 3,1.7"/>
</g>
<path d="M398.5,101.07 L399.5,101.95 L400.5,102.82 L401.5,103.69 L402.5,104.57 L403.5,105.44 L404.5,106.31 L405.5,107.19 L406.5,108.09 L407.5,108.98 L408.5,109.88 L409.5,110.76 L410.5,111.65 L411.5,112.54 L412.5,113.43 L413.5,114.31 L414.5,115.2 L415.5,116.09 L416.5,117.02 L417.5,118.14 L418.5,119.26 L419.5,120.38 L420.5,121.5 L421.5,122.62 L422.5,123.74 L423.5,124.88 L424.5,126.05 L425.5,127.22 L426.5,128.38 L427.5,129.55 L428.5,130.72 L429.5,131.88 L430.5,133.09 L431.5,134.31 L432.5,135.53 L433.5,136.74 L434.5,137.96 L435.5,139.18 L436.5,140.27 L437.5,141.34 L438.5,142.42 L439.5,143.51 L440.5,144.6 L441.5,145.69 L442.5,146.78 L443.5,147.87 L444.5,148.96 L445.5,149.82 L446.5,150.45 L447.5,151.09 L448.5,151.73 L449.5,152.36 L450.5,153 L451.5,153.64 L452.5,154.35 L453.5,155.08 L454.5,155.8 L455.5,156.52 L456.5,157.25 L457.5,157.97 L458.5,158.7 L459.5,159.42 L460.5,160.12 L461.5,160.74 L462.5,161.35 L463.5,161.96 L464.5,162.57 L465.5,163.19 L466.5,163.8 L467.5,164.41 L468.5,165.03 L469.5,165.64 L470.5,166.04 L471.5,166.42 L472.5,166.8 L473.5,167.18 L474.5,167.56 L475.5,167.94 L476.5,168.32 L477.5,168.7 L478.5,169.04 L479.5,169.26 L480.5,169.48 L481.5,169.7 L482.5,169.92 L483.5,170.14 L484.5,170.36 L485.5,170.58 L486.5,170.8 L487.5,171.02 L488.5,171.25 L489.5,171.48 L490.5,171.72 L491.5,171.96 L492.5,172.19 L493.5,172.43 L494.5,172.66 L495.5,172.9 L496.5,173.13 L497.5,173.29 L498.5,173.27 L499.5,173.24 L500.5,173.22 L501.5,173.15 L502.5,172.92 L503.5,172.7 L504.5,172.47 L505.5,172.24 L506.5,171.94 L507.5,171.53 L508.5,171.13 L509.5,170.72 L510.5,170.48 L511.5,170.32 L512.5,170.15 L513.5,170.38 L514.5,170.78 L515.5,171.18 L516.5,171.58 L517.5,172.23 L518.5,172.98 L519.5,173.74 L520.5,174.49 L521.5,175.25 L522.5,175.84 L523.5,176.2 L524.5,176.55 L525.5,176.91 L526.5,177.26 L527.5,177.62 L528.5,177.94 L529.5,178.13 L530.5,178.31 L531.5,178.5 L532.5,178.69 L533.5,178.88 L534.5,179.07 L535.5,179.25 L536.5,179.41 L537.5,179.57 L538.5,179.72 L539.5,179.88 L540.5,180.04 L541.5,180.2 L542.5,180.36 L543.5,180.52 L544.5,180.67 L545.5,180.8 L546.5,180.94 L547.5,181.07 L548.5,181.21 L549.5,181.34 L550.5,181.48 L551.5,181.61 L552.5,181.75 L553.5,181.87 L554.5,181.98 L555.5,182.09 L556.5,182.2 L557.5,182.32 L558.5,182.43 L559.5,182.54 L560.5,182.65 L561.5,182.77 L562.5,182.92 L563.5,183.09 L564.5,183.26 L565.5,183.43 L566.5,183.7 L567.5,184.03 L568.5,184.46 L569.5,185.26 L570.5,186.06" fill="none" stroke="#2a9a2a" stroke-width="1.25"/>
<path d="M398.5,90.38 L399.5,91.31 L400.5,92.23 L401.5,93.16 L402.5,94.08 L403.5,95.01 L404.5,95.96 L405.5,96.92 L406.5,97.88 L407.5,98.83 L408.5,99.79 L409.5,100.73 L410.5,101.67 L411.5,102.61 L412.5,103.58 L413.5,104.56 L414.5,105.54 L415.5,106.51 L416.5,107.55 L417.5,108.66 L418.5,109.77 L419.5,110.89 L420.5,112.1 L421.5,113.32 L422.5,114.54 L423.5,115.76 L424.5,116.97 L425.5,118.18 L426.5,119.39 L427.5,120.58 L428.5,121.73 L429.5,122.88 L430.5,124.02 L431.5,125.15 L432.5,126.27 L433.5,127.4 L434.5,128.51 L435.5,129.56 L436.5,130.61 L437.5,131.66 L438.5,132.72 L439.5,133.8 L440.5,134.88 L441.5,135.96 L442.5,136.94 L443.5,137.81 L444.5,138.5 L445.5,139.16 L446.5,139.82 L447.5,140.48 L448.5,141.15 L449.5,141.81 L450.5,142.47 L451.5,143.13 L452.5,143.8 L453.5,144.47 L454.5,145.13 L455.5,145.8 L456.5,146.47 L457.5,147.13 L458.5,147.8 L459.5,148.47 L460.5,149.13 L461.5,149.77 L462.5,150.42 L463.5,151.06 L464.5,151.71 L465.5,152.35 L466.5,153 L467.5,153.65 L468.5,154.29 L469.5,154.94 L470.5,155.4 L471.5,155.84 L472.5,156.28 L473.5,156.72 L474.5,157.16 L475.5,157.6 L476.5,158.04 L477.5,158.48 L478.5,158.92 L479.5,159.36 L480.5,159.62 L481.5,159.86 L482.5,160.1 L483.5,160.34 L484.5,160.58 L485.5,160.82 L486.5,161.07 L487.5,161.31 L488.5,161.55 L489.5,161.79 L490.5,162.04 L491.5,162.28 L492.5,162.53 L493.5,162.78 L494.5,162.84 L495.5,162.9 L496.5,162.94 L497.5,163 L498.5,163.04 L499.5,163.09 L500.5,163.14 L501.5,163.19 L502.5,163.02 L503.5,162.82 L504.5,162.62 L505.5,162.42 L506.5,162.15 L507.5,161.78 L508.5,161.41 L509.5,161.04 L510.5,160.67 L511.5,160.3 L512.5,160.08 L513.5,160.51 L514.5,160.93 L515.5,161.35 L516.5,161.77 L517.5,162.31 L518.5,162.89 L519.5,163.48 L520.5,164.06 L521.5,164.65 L522.5,165.18 L523.5,165.63 L524.5,166.08 L525.5,166.54 L526.5,166.99 L527.5,167.44 L528.5,167.83 L529.5,168.01 L530.5,168.18 L531.5,168.36 L532.5,168.53 L533.5,168.7 L534.5,168.88 L535.5,169.05 L536.5,169.22 L537.5,169.39 L538.5,169.56 L539.5,169.73 L540.5,169.9 L541.5,170.07 L542.5,170.24 L543.5,170.41 L544.5,170.57 L545.5,170.72 L546.5,170.87 L547.5,171.01 L548.5,171.16 L549.5,171.3 L550.5,171.45 L551.5,171.6 L552.5,171.74 L553.5,171.88 L554.5,172.02 L555.5,172.15 L556.5,172.29 L557.5,172.42 L558.5,172.56 L559.5,172.69 L560.5,172.82 L561.5,172.96 L562.5,173.14 L563.5,173.33 L564.5,173.53 L565.5,173.72 L566.5,174.05 L567.5,174.46 L568.5,174.88 L569.5,175.53 L570.5,176.28" fill="none" stroke="#0f820f" stroke-width="1.7" stroke-dasharray="3.6 1.4 0.7 1.4 0.7 1.4 0.7 1.4"/>
<path d="M398.5,87.12 L399.5,87.45 L400.5,87.95 L401.5,88.44 L402.5,88.87 L403.5,89.22 L404.5,89.51 L405.5,89.8 L406.5,90.11 L407.5,90.46 L408.5,90.85 L409.5,91.26 L410.5,91.69 L411.5,92.21 L412.5,92.83 L413.5,93.52 L414.5,94.2 L415.5,94.82 L416.5,95.32 L417.5,95.72 L418.5,96.08 L419.5,96.45 L420.5,96.85 L421.5,97.28 L422.5,97.72 L423.5,98.17 L424.5,98.6 L425.5,99.02 L426.5,99.44 L427.5,99.85 L428.5,100.27 L429.5,100.71 L430.5,101.18 L431.5,101.67 L432.5,102.16 L433.5,102.65 L434.5,103.15 L435.5,103.65 L436.5,104.15 L437.5,104.66 L438.5,105.18 L439.5,105.73 L440.5,106.28 L441.5,106.83 L442.5,107.38 L443.5,107.94 L444.5,108.51 L445.5,109.07 L446.5,109.64 L447.5,110.21 L448.5,110.74 L449.5,111.22 L450.5,111.65 L451.5,112.05 L452.5,112.46 L453.5,112.86 L454.5,113.27 L455.5,113.67 L456.5,114.07 L457.5,114.49 L458.5,114.92 L459.5,115.36 L460.5,115.81 L461.5,116.26 L462.5,116.71 L463.5,117.16 L464.5,117.61 L465.5,118.06 L466.5,118.54 L467.5,119.05 L468.5,119.59 L469.5,120.14 L470.5,120.69 L471.5,121.24 L472.5,121.79 L473.5,122.34 L474.5,122.89 L475.5,123.44 L476.5,123.97 L477.5,124.5 L478.5,125.03 L479.5,125.55 L480.5,126.08 L481.5,126.61 L482.5,127.14 L483.5,127.66 L484.5,128.19 L485.5,128.71 L486.5,129.23 L487.5,129.74 L488.5,130.26 L489.5,130.78 L490.5,131.29 L491.5,131.79 L492.5,132.29 L493.5,132.79 L494.5,133.28 L495.5,133.77 L496.5,134.27 L497.5,134.76 L498.5,135.26 L499.5,135.79 L500.5,136.37 L501.5,137.01 L502.5,137.66 L503.5,138.31 L504.5,138.96 L505.5,139.61 L506.5,140.27 L507.5,140.92 L508.5,141.6 L509.5,142.31 L510.5,143.06 L511.5,143.81 L512.5,144.56 L513.5,145.31 L514.5,146.07 L515.5,146.82 L516.5,147.57 L517.5,148.27 L518.5,148.92 L519.5,149.53 L520.5,150.19 L521.5,150.9 L522.5,151.63 L523.5,152.36 L524.5,153.09 L525.5,153.82 L526.5,154.55 L527.5,155.28 L528.5,156.02 L529.5,156.8 L530.5,157.59 L531.5,158.4 L532.5,159.21 L533.5,160.02 L534.5,160.83 L535.5,161.64 L536.5,162.45 L537.5,163.24 L538.5,164.01 L539.5,164.76 L540.5,165.5 L541.5,166.23 L542.5,166.97 L543.5,167.71 L544.5,168.45 L545.5,169.19 L546.5,169.91 L547.5,170.59 L548.5,171.22 L549.5,171.84 L550.5,172.46 L551.5,173.07 L552.5,173.69 L553.5,174.31 L554.5,174.92 L555.5,175.51 L556.5,176.05 L557.5,176.56 L558.5,177.07 L559.5,177.58 L560.5,178.08 L561.5,178.59 L562.5,179.1 L563.5,179.6 L564.5,180.12 L565.5,180.63 L566.5,181.18 L567.5,181.84 L568.5,182.63 L569.5,183.45 L570.5,183.97" fill="none" stroke="#000" stroke-width="2.1" stroke-linejoin="round"/>
<path d="M398.5,82.15 L399.5,82.59 L400.5,83.25 L401.5,83.89 L402.5,84.37 L403.5,84.7 L404.5,84.87 L405.5,85.05 L406.5,85.32 L407.5,85.73 L408.5,86.28 L409.5,86.9 L410.5,87.49 L411.5,88 L412.5,88.43 L413.5,88.78 L414.5,89.14 L415.5,89.52 L416.5,89.93 L417.5,90.37 L418.5,90.83 L419.5,91.28 L420.5,91.73 L421.5,92.18 L422.5,92.62 L423.5,93.07 L424.5,93.53 L425.5,94 L426.5,94.5 L427.5,95 L428.5,95.5 L429.5,96.02 L430.5,96.55 L431.5,97.08 L432.5,97.61 L433.5,98.14 L434.5,98.67 L435.5,99.19 L436.5,99.72 L437.5,100.24 L438.5,100.77 L439.5,101.3 L440.5,101.83 L441.5,102.36 L442.5,102.85 L443.5,103.29 L444.5,103.66 L445.5,104.01 L446.5,104.36 L447.5,104.71 L448.5,105.1 L449.5,105.56 L450.5,106.08 L451.5,106.63 L452.5,107.18 L453.5,107.73 L454.5,108.28 L455.5,108.83 L456.5,109.38 L457.5,109.93 L458.5,110.49 L459.5,111.04 L460.5,111.59 L461.5,112.14 L462.5,112.69 L463.5,113.24 L464.5,113.79 L465.5,114.34 L466.5,114.88 L467.5,115.4 L468.5,115.91 L469.5,116.42 L470.5,116.92 L471.5,117.43 L472.5,117.93 L473.5,118.44 L474.5,118.94 L475.5,119.46 L476.5,119.97 L477.5,120.5 L478.5,121.03 L479.5,121.55 L480.5,122.08 L481.5,122.61 L482.5,123.14 L483.5,123.66 L484.5,124.17 L485.5,124.65 L486.5,125.09 L487.5,125.53 L488.5,125.96 L489.5,126.39 L490.5,126.84 L491.5,127.31 L492.5,127.81 L493.5,128.31 L494.5,128.82 L495.5,129.33 L496.5,129.83 L497.5,130.34 L498.5,130.84 L499.5,131.37 L500.5,131.93 L501.5,132.51 L502.5,133.11 L503.5,133.7 L504.5,134.3 L505.5,134.89 L506.5,135.49 L507.5,136.09 L508.5,136.72 L509.5,137.41 L510.5,138.16 L511.5,138.91 L512.5,139.66 L513.5,140.41 L514.5,141.17 L515.5,141.92 L516.5,142.67 L517.5,143.36 L518.5,143.98 L519.5,144.57 L520.5,145.22 L521.5,145.95 L522.5,146.71 L523.5,147.47 L524.5,148.24 L525.5,149 L526.5,149.77 L527.5,150.53 L528.5,151.31 L529.5,152.13 L530.5,152.98 L531.5,153.85 L532.5,154.71 L533.5,155.58 L534.5,156.44 L535.5,157.31 L536.5,158.18 L537.5,159.02 L538.5,159.84 L539.5,160.63 L540.5,161.41 L541.5,162.2 L542.5,162.98 L543.5,163.76 L544.5,164.54 L545.5,165.33 L546.5,166.11 L547.5,166.9 L548.5,167.69 L549.5,168.48 L550.5,169.27 L551.5,170.06 L552.5,170.85 L553.5,171.64 L554.5,172.43 L555.5,173.18 L556.5,173.88 L557.5,174.53 L558.5,175.18 L559.5,175.83 L560.5,176.48 L561.5,177.13 L562.5,177.77 L563.5,178.37 L564.5,178.92 L565.5,179.43 L566.5,179.99 L567.5,180.71 L568.5,181.6 L569.5,182.53 L570.5,183.13" fill="none" stroke="#f00" stroke-width="2.1" stroke-linejoin="round"/>
</g>
<rect x="398.5" y="31.3" width="180.1" height="174" fill="none" stroke="#a6a6a6" stroke-width="1.2"/>
<path d="M408.71,205.3 v-3.6 M408.71,31.3 v3.6 M417,205.3 v-3.6 M417,31.3 v3.6 M422.88,205.3 v-3.6 M422.88,31.3 v3.6 M427.44,205.3 v-3.6 M427.44,31.3 v3.6 M431.16,205.3 v-3.6 M431.16,31.3 v3.6 M434.31,205.3 v-3.6 M434.31,31.3 v3.6 M437.04,205.3 v-3.6 M437.04,31.3 v3.6 M439.45,205.3 v-3.6 M439.45,31.3 v3.6 M441.6,205.3 v-6.9 M441.6,31.3 v6.9 M455.76,205.3 v-3.6 M455.76,31.3 v3.6 M464.05,205.3 v-3.6 M464.05,31.3 v3.6 M469.93,205.3 v-3.6 M469.93,31.3 v3.6 M474.49,205.3 v-3.6 M474.49,31.3 v3.6 M478.21,205.3 v-3.6 M478.21,31.3 v3.6 M481.36,205.3 v-3.6 M481.36,31.3 v3.6 M484.09,205.3 v-3.6 M484.09,31.3 v3.6 M486.5,205.3 v-3.6 M486.5,31.3 v3.6 M488.65,205.3 v-6.9 M488.65,31.3 v6.9 M502.81,205.3 v-3.6 M502.81,31.3 v3.6 M511.1,205.3 v-3.6 M511.1,31.3 v3.6 M516.98,205.3 v-3.6 M516.98,31.3 v3.6 M521.54,205.3 v-3.6 M521.54,31.3 v3.6 M525.26,205.3 v-3.6 M525.26,31.3 v3.6 M528.41,205.3 v-3.6 M528.41,31.3 v3.6 M531.14,205.3 v-3.6 M531.14,31.3 v3.6 M533.55,205.3 v-3.6 M533.55,31.3 v3.6 M535.7,205.3 v-6.9 M535.7,31.3 v6.9 M549.86,205.3 v-3.6 M549.86,31.3 v3.6 M558.15,205.3 v-3.6 M558.15,31.3 v3.6 M564.03,205.3 v-3.6 M564.03,31.3 v3.6 M568.59,205.3 v-3.6 M568.59,31.3 v3.6 M572.31,205.3 v-3.6 M572.31,31.3 v3.6 M575.46,205.3 v-3.6 M575.46,31.3 v3.6 M578.19,205.3 v-3.6 M578.19,31.3 v3.6 M398.5,198.3 h1.8 M578.6,198.3 h-1.8 M398.5,183.48 h3 M578.6,183.48 h-3 M398.5,169.26 h1.8 M578.6,169.26 h-1.8 M398.5,154.44 h3 M578.6,154.44 h-3 M398.5,140.22 h1.8 M578.6,140.22 h-1.8 M398.5,125.4 h3 M578.6,125.4 h-3 M398.5,111.18 h1.8 M578.6,111.18 h-1.8 M398.5,96.36 h3 M578.6,96.36 h-3 M398.5,82.14 h1.8 M578.6,82.14 h-1.8 M398.5,67.32 h3 M578.6,67.32 h-3 M398.5,53.1 h1.8 M578.6,53.1 h-1.8 M398.5,38.28 h3 M578.6,38.28 h-3" stroke="#969696" stroke-width="1.2" fill="none"/>
<text x="406.1" y="50.0" font-family='"Liberation Serif", serif' font-size="10.4" fill="#1a1a1a">(c)</text>
<text x="435.5" y="217.8" font-family='"Liberation Serif", serif' font-size="10.4" fill="#1a1a1a" letter-spacing="-0.5">10<tspan font-size="6.6" dy="-5.0">-2</tspan></text>
<text x="482.55" y="217.8" font-family='"Liberation Serif", serif' font-size="10.4" fill="#1a1a1a" letter-spacing="-0.5">10<tspan font-size="6.6" dy="-5.0">-1</tspan></text>
<text x="529.6" y="217.8" font-family='"Liberation Serif", serif' font-size="10.4" fill="#1a1a1a" letter-spacing="-0.5">10<tspan font-size="6.6" dy="-5.0">0</tspan></text>
<text x="488.55" y="227.3" font-family='"Liberation Serif", serif' font-size="9.8" fill="#1a1a1a" text-anchor="middle">[ Hz ]</text>
<g clip-path="url(#ct3)">
<g fill="none" stroke="#7a7a7a" stroke-opacity="0.05" stroke-width="1.3">
<path d="M578.6,61.6l3,1.0 3,1.1 3,1.5 3,2.1 3,2.1 3,2.1 3,2.4 3,1.2 3,0.8 3,1.2 3,1.7 3,1.9 3,2.0 3,1.8 3,1.2 3,0.4 3,0.3 3,1.1 3,1.4 3,2.0 3,2.2 3,2.4 3,2.0 3,1.6 3,1.2 3,1.3 3,1.7 3,2.1 3,1.7 3,1.8 3,1.6 3,1.1 3,0.7 3,0.7 3,1.1 3,1.5 3,2.0 3,2.5 3,2.3 3,2.2 3,2.1 3,1.6 3,1.9 3,2.4 3,3.0 3,3.2 3,3.2 3,2.8 3,2.2 3,1.9 3,1.4 3,1.6 3,1.6 3,1.7 3,1.5 3,1.0 3,1.8"/>
<path d="M578.6,64.8l3,1.7 3,2.3 3,2.6 3,2.4 3,1.5 3,0.9 3,0.9 3,0.0 3,0.5 3,1.6 3,2.3 3,2.5 3,2.0 3,1.3 3,0.8 3,0.2 3,1.0 3,2.5 3,3.1 3,3.1 3,2.6 3,1.8 3,0.9 3,0.5 3,0.7 3,1.4 3,2.2 3,2.3 3,1.5 3,0.9 3,0.5 3,0.3 3,0.8 3,1.6 3,2.6 3,3.1 3,3.1 3,2.6 3,1.9 3,1.6 3,1.7 3,2.0 3,2.5 3,3.0 3,2.9 3,2.3 3,1.8 3,1.4 3,1.3 3,2.0 3,2.3 3,2.9 3,2.6 3,2.1 3,1.3 3,0.6 3,1.8"/>
<path d="M578.6,69.1l3,2.4 3,2.1 3,1.6 3,1.2 3,0.7 3,1.1 3,2.1 3,1.8 3,1.8 3,2.0 3,1.7 3,1.0 3,0.6 3,0.7 3,1.0 3,1.2 3,1.7 3,2.4 3,2.1 3,1.5 3,1.1 3,1.3 3,1.6 3,2.0 3,2.3 3,2.3 3,2.1 3,1.3 3,0.4 3,0.4 3,0.7 3,1.4 3,1.8 3,2.0 3,1.9 3,1.4 3,1.2 3,1.3 3,1.8 3,2.5 3,3.1 3,3.0 3,2.6 3,2.3 3,1.9 3,1.6 3,2.0 3,2.6 3,2.8 3,3.1 3,2.2 3,1.7 3,0.9 3,0.5 3,0.6 3,0.9 3,2.7"/>
<path d="M578.6,71.3l3,1.5 3,1.1 3,1.2 3,1.3 3,1.3 3,1.6 3,2.3 3,1.4 3,1.1 3,1.5 3,1.6 3,1.6 3,1.7 3,1.7 3,1.6 3,1.0 3,1.0 3,1.6 3,1.5 3,1.5 3,1.6 3,1.8 3,1.7 3,1.6 3,1.5 3,1.4 3,1.5 3,1.6 3,1.2 3,1.4 3,1.6 3,1.6 3,1.5 3,1.3 3,1.5 3,1.4 3,1.7 3,2.1 3,2.2 3,2.3 3,2.3 3,1.8 3,1.8 3,1.9 3,2.3 3,2.4 3,2.8 3,2.9 3,2.6 3,2.5 3,1.8 3,1.7 3,1.4 3,1.4 3,1.4 3,1.1 3,2.3"/>
<path d="M578.6,74.0l3,-0.2 3,0.3 3,1.4 3,2.5 3,2.8 3,2.6 3,2.3 3,0.5 3,0.0 3,0.8 3,1.8 3,2.8 3,3.0 3,2.5 3,1.4 3,-0.3 3,-0.8 3,0.2 3,1.1 3,2.2 3,2.8 3,2.8 3,1.9 3,0.9 3,0.2 3,0.4 3,1.6 3,2.6 3,2.7 3,2.8 3,2.0 3,0.9 3,0.0 3,-0.2 3,0.7 3,1.7 3,2.7 3,3.0 3,2.5 3,1.6 3,1.0 3,0.5 3,1.1 3,2.5 3,3.7 3,4.1 3,3.7 3,2.8 3,1.6 3,1.2 3,0.9 3,1.8 3,2.2 3,2.4 3,1.8 3,0.8 3,1.0"/>
<path d="M578.6,72.5l3,1.3 3,1.7 3,1.9 3,1.9 3,1.5 3,1.3 3,1.5 3,0.7 3,0.8 3,1.7 3,2.2 3,2.3 3,1.9 3,1.4 3,1.0 3,0.3 3,0.7 3,1.8 3,2.2 3,2.3 3,2.1 3,1.7 3,1.1 3,0.9 3,1.0 3,1.4 3,2.1 3,2.3 3,1.6 3,1.3 3,0.9 3,0.9 3,0.9 3,1.3 3,2.0 3,2.2 3,2.3 3,2.2 3,1.8 3,1.6 3,1.8 3,1.8 3,2.2 3,2.6 3,2.8 3,2.6 3,2.3 3,2.1 3,2.0 3,2.2 3,2.1 3,2.4 3,2.0 3,1.7 3,1.1 3,0.6 3,1.7"/>
<path d="M578.6,71.2l3,0.7 3,1.5 3,2.2 3,2.7 3,2.2 3,1.7 3,1.6 3,0.4 3,0.6 3,1.7 3,2.6 3,3.0 3,2.5 3,1.7 3,0.6 3,-0.3 3,-0.1 3,1.4 3,2.2 3,2.7 3,2.6 3,2.0 3,1.2 3,0.6 3,0.7 3,1.4 3,2.4 3,3.0 3,2.4 3,1.9 3,1.1 3,0.5 3,0.3 3,0.8 3,1.8 3,2.4 3,2.7 3,2.5 3,1.8 3,1.3 3,1.2 3,1.4 3,2.2 3,3.2 3,3.7 3,3.4 3,2.7 3,2.1 3,1.6 3,1.9 3,1.8 3,2.6 3,2.4 3,2.0 3,1.1 3,0.3 3,1.1"/>
<path d="M578.6,74.5l3,0.7 3,0.9 3,1.5 3,2.0 3,1.7 3,1.5 3,1.5 3,0.3 3,0.3 3,1.3 3,2.3 3,2.8 3,2.9 3,2.4 3,1.6 3,0.5 3,0.5 3,1.4 3,1.9 3,2.4 3,2.3 3,2.0 3,1.2 3,0.4 3,0.2 3,0.7 3,1.6 3,2.3 3,2.2 3,2.1 3,1.7 3,1.3 3,0.9 3,1.2 3,1.9 3,2.5 3,2.9 3,2.8 3,2.1 3,1.5 3,1.2 3,0.8 3,1.4 3,2.2 3,2.9 3,3.0 3,2.8 3,2.4 3,1.9 3,1.9 3,1.9 3,2.6 3,2.5 3,2.4 3,1.7 3,1.0 3,1.5"/>
<path d="M578.6,75.7l3,2.1 3,1.3 3,0.6 3,0.5 3,0.7 3,1.5 3,2.7 3,2.0 3,1.5 3,1.2 3,0.9 3,0.8 3,1.0 3,1.8 3,2.3 3,2.0 3,1.9 3,2.0 3,1.3 3,1.0 3,1.1 3,1.7 3,2.2 3,2.3 3,2.0 3,1.4 3,1.0 3,0.6 3,0.3 3,0.9 3,1.8 3,2.4 3,2.2 3,1.9 3,1.4 3,1.1 3,1.2 3,1.9 3,2.6 3,3.2 3,3.2 3,2.4 3,1.5 3,1.2 3,1.2 3,1.8 3,2.6 3,3.2 3,3.3 3,2.9 3,1.7 3,1.3 3,0.7 3,1.1 3,1.5 3,1.9 3,3.2"/>
<path d="M578.6,78.3l3,1.4 3,1.4 3,1.3 3,1.6 3,1.4 3,1.7 3,2.2 3,1.3 3,1.1 3,1.3 3,1.5 3,1.4 3,1.4 3,1.4 3,1.2 3,0.6 3,0.8 3,1.5 3,1.5 3,1.6 3,1.7 3,1.8 3,1.9 3,1.6 3,1.4 3,1.5 3,1.6 3,1.6 3,1.1 3,1.2 3,1.2 3,1.2 3,1.1 3,1.0 3,1.3 3,1.4 3,1.6 3,2.0 3,2.0 3,2.3 3,2.3 3,2.0 3,1.9 3,2.1 3,2.4 3,2.5 3,2.6 3,2.6 3,2.3 3,2.2 3,1.5 3,1.4 3,1.2 3,1.2 3,1.0 3,0.9 3,2.1"/>
<path d="M578.6,76.5l3,1.2 3,1.4 3,1.8 3,1.9 3,1.6 3,1.5 3,1.9 3,0.8 3,0.9 3,1.5 3,2.0 3,2.2 3,1.9 3,1.5 3,1.0 3,0.3 3,0.5 3,1.5 3,1.9 3,2.1 3,2.1 3,1.8 3,1.4 3,1.0 3,1.1 3,1.4 3,2.0 3,2.1 3,1.7 3,1.4 3,1.1 3,1.0 3,0.8 3,1.1 3,1.7 3,1.9 3,2.1 3,2.2 3,1.9 3,1.7 3,1.8 3,1.7 3,2.1 3,2.5 3,2.9 3,2.7 3,2.6 3,2.3 3,2.0 3,2.1 3,1.8 3,2.1 3,1.8 3,1.6 3,1.1 3,0.6 3,1.7"/>
<path d="M578.6,77.5l3,2.5 3,2.5 3,2.1 3,1.2 3,0.1 3,0.0 3,1.1 3,1.1 3,2.0 3,2.8 3,2.7 3,1.8 3,0.8 3,0.2 3,0.4 3,0.7 3,1.8 3,3.1 3,2.7 3,1.9 3,0.8 3,0.2 3,0.3 3,1.0 3,1.9 3,2.6 3,2.8 3,2.1 3,0.5 3,0.0 3,0.1 3,0.9 3,1.9 3,2.6 3,2.9 3,2.3 3,1.4 3,0.8 3,0.7 3,1.3 3,2.4 3,2.9 3,3.1 3,2.7 3,2.0 3,1.3 3,1.1 3,1.7 3,2.6 3,3.4 3,3.2 3,2.7 3,1.5 3,0.5 3,0.0 3,0.1 3,2.0"/>
<path d="M578.6,74.7l3,1.9 3,1.8 3,1.9 3,1.8 3,1.5 3,1.5 3,2.2 3,1.3 3,1.2 3,1.7 3,1.7 3,1.6 3,1.3 3,1.1 3,1.0 3,0.7 3,1.1 3,2.0 3,2.1 3,2.0 3,1.9 3,1.8 3,1.8 3,1.7 3,1.8 3,1.8 3,2.1 3,1.8 3,1.0 3,1.0 3,0.9 3,1.1 3,1.1 3,1.4 3,1.7 3,1.8 3,1.8 3,2.0 3,2.1 3,2.3 3,2.7 3,2.4 3,2.5 3,2.5 3,2.5 3,2.4 3,2.4 3,2.3 3,2.3 3,2.4 3,1.8 3,1.7 3,1.3 3,1.1 3,1.0 3,0.8 3,2.2"/>
<path d="M578.6,76.3l3,2.0 3,2.1 3,2.1 3,2.0 3,1.7 3,1.7 3,2.3 3,1.3 3,1.2 3,1.4 3,1.4 3,1.2 3,0.9 3,0.7 3,0.7 3,0.5 3,0.9 3,1.9 3,2.1 3,2.1 3,2.1 3,2.1 3,2.0 3,2.0 3,1.9 3,2.0 3,2.0 3,1.7 3,0.8 3,0.7 3,0.6 3,0.7 3,0.8 3,1.0 3,1.5 3,1.5 3,1.7 3,2.0 3,2.2 3,2.5 3,2.9 3,2.7 3,2.7 3,2.7 3,2.7 3,2.4 3,2.3 3,2.2 3,2.1 3,2.0 3,1.5 3,1.4 3,1.0 3,0.9 3,0.8 3,0.8 3,2.3"/>
<path d="M578.6,75.5l3,2.4 3,2.3 3,2.1 3,1.9 3,1.4 3,1.5 3,2.1 3,1.2 3,1.1 3,1.2 3,1.3 3,1.1 3,0.8 3,1.0 3,1.1 3,0.9 3,1.4 3,2.4 3,2.4 3,2.3 3,2.1 3,2.1 3,2.1 3,2.0 3,1.9 3,1.7 3,1.8 3,1.3 3,0.6 3,0.4 3,0.6 3,1.0 3,1.1 3,1.4 3,1.8 3,1.8 3,2.0 3,2.3 3,2.5 3,2.9 3,3.1 3,2.7 3,2.6 3,2.5 3,2.2 3,2.0 3,2.1 3,2.1 3,2.0 3,2.1 3,1.5 3,1.5 3,1.1 3,1.1 3,1.1 3,1.2 3,2.6"/>
<path d="M578.6,75.3l3,0.9 3,1.3 3,1.9 3,2.2 3,1.9 3,1.7 3,1.8 3,0.7 3,0.7 3,1.6 3,2.3 3,2.8 3,2.5 3,2.0 3,1.2 3,0.2 3,0.4 3,1.4 3,2.0 3,2.4 3,2.4 3,2.0 3,1.4 3,0.8 3,0.8 3,1.2 3,2.1 3,2.5 3,2.2 3,1.9 3,1.5 3,1.0 3,0.8 3,1.1 3,1.8 3,2.3 3,2.6 3,2.5 3,2.0 3,1.6 3,1.5 3,1.4 3,1.9 3,2.7 3,3.2 3,3.1 3,2.8 3,2.3 3,2.0 3,1.9 3,1.9 3,2.2 3,2.1 3,1.8 3,1.2 3,0.7 3,1.5"/>
<path d="M578.6,80.4l3,1.0 3,0.8 3,1.2 3,1.7 3,2.1 3,2.3 3,2.6 3,1.2 3,0.5 3,0.7 3,0.9 3,1.5 3,1.9 3,2.0 3,1.8 3,0.7 3,0.5 3,0.9 3,1.2 3,1.7 3,2.3 3,2.6 3,2.4 3,1.8 3,1.1 3,0.9 3,1.1 3,1.3 3,1.4 3,1.8 3,1.7 3,1.5 3,0.8 3,0.5 3,0.7 3,1.3 3,2.0 3,2.7 3,2.8 3,2.7 3,2.3 3,1.5 3,1.4 3,1.8 3,2.6 3,2.9 3,3.3 3,2.9 3,2.2 3,1.6 3,0.9 3,1.1 3,1.3 3,1.7 3,1.8 3,1.4 3,2.2"/>
<path d="M578.6,80.9l3,1.3 3,0.8 3,0.8 3,1.3 3,1.6 3,2.3 3,2.8 3,1.5 3,0.9 3,0.7 3,0.8 3,1.1 3,1.6 3,2.0 3,2.0 3,1.3 3,0.9 3,1.1 3,1.1 3,1.3 3,1.9 3,2.4 3,2.5 3,2.1 3,1.5 3,0.9 3,1.0 3,1.0 3,0.9 3,1.6 3,1.9 3,1.9 3,1.3 3,0.8 3,0.8 3,1.0 3,1.6 3,2.5 3,2.9 3,3.0 3,2.7 3,1.7 3,1.3 3,1.5 3,2.1 3,2.6 3,3.2 3,3.2 3,2.6 3,2.1 3,1.0 3,1.0 3,1.0 3,1.5 3,1.8 3,1.7 3,2.6"/>
<path d="M578.6,79.8l3,0.3 3,0.5 3,1.0 3,1.8 3,1.9 3,1.9 3,2.1 3,0.8 3,0.6 3,1.4 3,2.2 3,2.8 3,2.9 3,2.7 3,1.8 3,0.5 3,0.1 3,0.9 3,1.2 3,1.8 3,2.1 3,2.0 3,1.5 3,0.8 3,0.4 3,0.8 3,1.6 3,2.3 3,2.4 3,2.6 3,2.2 3,1.6 3,1.0 3,0.9 3,1.4 3,1.9 3,2.4 3,2.6 3,2.1 3,1.6 3,1.1 3,0.7 3,1.2 3,2.0 3,3.0 3,3.4 3,3.3 3,2.9 3,2.3 3,2.0 3,1.7 3,2.1 3,2.0 3,2.0 3,1.5 3,0.9 3,1.4"/>
<path d="M578.6,79.8l3,1.8 3,1.8 3,1.8 3,1.5 3,1.0 3,1.0 3,1.5 3,0.9 3,1.2 3,2.0 3,2.1 3,2.0 3,1.6 3,1.3 3,1.1 3,0.7 3,1.3 3,2.2 3,2.2 3,2.1 3,1.6 3,1.3 3,1.0 3,1.0 3,1.3 3,1.7 3,2.1 3,1.9 3,1.1 3,1.0 3,0.9 3,1.1 3,1.5 3,1.8 3,2.2 3,2.2 3,2.0 3,1.8 3,1.6 3,1.8 3,2.1 3,2.1 3,2.2 3,2.4 3,2.3 3,2.0 3,2.0 3,2.1 3,2.2 3,2.5 3,2.2 3,2.1 3,1.6 3,1.2 3,0.9 3,0.7 3,1.8"/>
<path d="M578.6,81.0l3,1.7 3,1.6 3,1.5 3,1.5 3,1.1 3,1.5 3,2.1 3,1.4 3,1.3 3,1.7 3,1.6 3,1.5 3,1.2 3,1.3 3,1.2 3,0.9 3,1.1 3,1.8 3,1.8 3,1.6 3,1.5 3,1.6 3,1.7 3,1.6 3,1.7 3,1.7 3,1.8 3,1.6 3,1.0 3,0.9 3,1.1 3,1.4 3,1.4 3,1.4 3,1.6 3,1.5 3,1.6 3,1.8 3,1.9 3,2.3 3,2.5 3,2.2 3,2.2 3,2.1 3,2.3 3,2.1 3,2.4 3,2.5 3,2.5 3,2.4 3,1.8 3,1.7 3,1.1 3,1.0 3,0.9 3,0.9 3,2.2"/>
<path d="M578.6,83.5l3,1.9 3,1.2 3,0.6 3,0.7 3,0.9 3,1.8 3,3.0 3,2.1 3,1.7 3,1.3 3,0.9 3,0.6 3,0.8 3,1.4 3,1.8 3,1.6 3,1.4 3,1.6 3,0.9 3,0.7 3,0.9 3,1.7 3,2.3 3,2.5 3,2.2 3,1.6 3,1.2 3,0.8 3,0.3 3,1.0 3,1.6 3,2.1 3,2.0 3,1.4 3,0.9 3,0.5 3,0.8 3,1.5 3,2.4 3,3.0 3,3.2 3,2.3 3,1.7 3,1.4 3,1.4 3,2.0 3,2.8 3,3.3 3,3.2 3,2.6 3,1.4 3,0.8 3,0.4 3,0.6 3,1.0 3,1.5 3,2.7"/>
<path d="M578.6,80.1l3,1.0 3,1.5 3,2.2 3,2.9 3,2.7 3,1.9 3,1.4 3,-0.5 3,-0.9 3,0.1 3,1.3 3,2.3 3,2.7 3,2.4 3,1.5 3,0.3 3,0.3 3,1.5 3,2.6 3,3.5 3,3.7 3,3.2 3,2.0 3,0.7 3,-0.2 3,0.0 3,1.0 3,1.8 3,1.8 3,1.8 3,1.1 3,0.4 3,0.0 3,0.4 3,1.7 3,2.9 3,3.8 3,4.1 3,3.3 3,2.3 3,1.6 3,1.0 3,1.4 3,2.4 3,3.1 3,3.1 3,2.5 3,1.6 3,0.7 3,0.6 3,0.9 3,2.0 3,2.6 3,2.8 3,2.3 3,1.4 3,1.9"/>
<path d="M578.6,82.8l3,1.8 3,1.7 3,1.5 3,1.1 3,0.6 3,0.7 3,1.8 3,1.5 3,2.0 3,2.6 3,2.5 3,2.0 3,1.2 3,0.9 3,0.8 3,0.7 3,1.2 3,2.2 3,1.8 3,1.4 3,0.8 3,0.6 3,0.7 3,1.1 3,1.8 3,2.3 3,2.6 3,2.1 3,1.1 3,0.9 3,0.9 3,1.4 3,1.7 3,2.1 3,2.2 3,1.7 3,1.1 3,1.0 3,0.8 3,1.4 3,2.1 3,2.4 3,2.4 3,2.5 3,2.2 3,1.9 3,2.1 3,2.4 3,2.8 3,3.1 3,2.6 3,2.2 3,1.3 3,0.7 3,0.3 3,0.2 3,1.8"/>
<path d="M578.6,82.7l3,0.9 3,1.9 3,2.8 3,2.8 3,1.8 3,0.8 3,0.7 3,-0.2 3,0.5 3,2.2 3,3.2 3,3.2 3,2.4 3,1.0 3,-0.1 3,-0.9 3,-0.1 3,1.8 3,2.8 3,3.1 3,2.5 3,1.3 3,0.3 3,-0.2 3,0.3 3,1.6 3,3.0 3,3.3 3,2.4 3,1.4 3,0.2 3,-0.2 3,0.0 3,1.1 3,2.4 3,3.1 3,2.9 3,2.0 3,1.0 3,0.4 3,0.7 3,1.5 3,2.6 3,3.7 3,3.8 3,2.9 3,1.9 3,1.2 3,1.1 3,1.8 3,2.4 3,3.1 3,2.7 3,1.8 3,0.6 3,-0.5 3,0.6"/>
<path d="M578.6,84.3l3,0.9 3,1.0 3,1.0 3,1.1 3,0.8 3,0.9 3,1.6 3,0.9 3,1.3 3,2.1 3,2.6 3,2.7 3,2.5 3,2.0 3,1.5 3,0.8 3,0.9 3,1.6 3,1.7 3,1.5 3,1.1 3,0.9 3,0.6 3,0.5 3,0.8 3,1.3 3,2.0 3,2.2 3,1.8 3,1.8 3,1.8 3,1.7 3,1.7 3,1.9 3,2.1 3,2.1 3,1.9 3,1.6 3,1.3 3,1.2 3,1.2 3,1.2 3,1.5 3,2.0 3,2.3 3,2.4 3,2.6 3,2.6 3,2.7 3,2.9 3,2.5 3,2.5 3,2.0 3,1.5 3,1.0 3,0.6 3,1.5"/>
<path d="M578.6,83.3l3,1.6 3,1.6 3,1.7 3,1.9 3,1.8 3,1.9 3,2.5 3,1.5 3,1.1 3,1.3 3,1.4 3,1.2 3,1.1 3,1.0 3,0.9 3,0.3 3,0.5 3,1.4 3,1.5 3,1.8 3,1.9 3,2.1 3,2.1 3,2.0 3,1.7 3,1.8 3,1.9 3,1.6 3,1.1 3,1.1 3,0.9 3,0.9 3,0.7 3,0.7 3,1.0 3,1.2 3,1.5 3,2.0 3,2.1 3,2.4 3,2.6 3,2.3 3,2.3 3,2.5 3,2.6 3,2.7 3,2.6 3,2.5 3,2.2 3,1.9 3,1.2 3,1.2 3,0.9 3,0.8 3,0.8 3,0.8 3,2.0"/>
<path d="M578.6,82.8l3,1.4 3,1.7 3,2.1 3,2.1 3,1.5 3,1.2 3,1.5 3,0.6 3,0.9 3,1.8 3,2.3 3,2.4 3,1.8 3,1.3 3,0.7 3,0.1 3,0.6 3,1.8 3,2.3 3,2.4 3,2.0 3,1.6 3,1.1 3,0.8 3,1.0 3,1.5 3,2.3 3,2.4 3,1.7 3,1.2 3,0.8 3,0.6 3,0.8 3,1.3 3,2.0 3,2.2 3,2.3 3,2.1 3,1.6 3,1.5 3,1.7 3,1.8 3,2.3 3,2.8 3,3.0 3,2.6 3,2.2 3,1.9 3,1.8 3,2.1 3,2.0 3,2.4 3,1.8 3,1.5 3,0.9 3,0.4 3,1.5"/>
<path d="M578.6,84.0l3,1.5 3,1.0 3,0.9 3,1.1 3,1.3 3,2.0 3,2.9 3,1.9 3,1.5 3,1.4 3,1.2 3,1.2 3,1.3 3,1.6 3,1.7 3,1.2 3,1.0 3,1.3 3,1.0 3,1.0 3,1.4 3,1.8 3,2.3 3,2.1 3,1.9 3,1.6 3,1.4 3,1.3 3,0.9 3,1.4 3,1.8 3,1.9 3,1.6 3,1.2 3,0.9 3,0.8 3,1.1 3,1.9 3,2.3 3,2.7 3,2.7 3,2.1 3,1.6 3,1.7 3,2.1 3,2.4 3,3.0 3,3.2 3,2.9 3,2.4 3,1.3 3,1.1 3,0.7 3,0.9 3,1.1 3,1.2 3,2.3"/>
<path d="M578.6,80.4l3,2.1 3,2.0 3,1.8 3,1.9 3,1.7 3,2.0 3,2.9 3,2.0 3,1.7 3,1.7 3,1.3 3,0.9 3,0.6 3,0.7 3,0.8 3,0.5 3,1.0 3,1.7 3,1.6 3,1.6 3,1.8 3,2.0 3,2.4 3,2.5 3,2.5 3,2.4 3,2.1 3,1.6 3,0.8 3,0.7 3,0.9 3,1.0 3,1.1 3,0.9 3,1.1 3,0.9 3,1.1 3,1.7 3,2.1 3,2.8 3,3.2 3,3.0 3,2.8 3,2.6 3,2.5 3,2.4 3,2.5 3,2.6 3,2.3 3,2.0 3,1.2 3,0.9 3,0.5 3,0.4 3,0.5 3,0.8 3,2.2"/>
<path d="M578.6,81.4l3,0.8 3,0.7 3,1.2 3,2.1 3,2.5 3,2.8 3,2.7 3,1.1 3,0.2 3,0.4 3,1.1 3,1.8 3,2.5 3,2.6 3,2.0 3,0.8 3,0.3 3,0.7 3,1.2 3,2.1 3,2.7 3,3.1 3,2.7 3,1.8 3,0.8 3,0.5 3,1.0 3,1.6 3,1.8 3,2.3 3,2.2 3,1.5 3,0.7 3,0.3 3,0.7 3,1.5 3,2.5 3,3.3 3,3.2 3,2.8 3,2.1 3,1.2 3,1.1 3,1.9 3,2.9 3,3.3 3,3.5 3,2.9 3,1.9 3,1.3 3,0.7 3,1.1 3,1.5 3,1.9 3,1.7 3,1.4 3,1.9"/>
<path d="M578.6,82.0l3,2.0 3,2.2 3,2.3 3,2.0 3,1.3 3,1.1 3,1.6 3,0.9 3,1.3 3,1.9 3,2.2 3,1.8 3,1.3 3,0.9 3,0.6 3,0.4 3,1.0 3,2.3 3,2.5 3,2.4 3,1.9 3,1.5 3,1.2 3,1.2 3,1.6 3,2.0 3,2.3 3,2.1 3,1.2 3,0.6 3,0.5 3,0.7 3,1.0 3,1.6 3,2.2 3,2.1 3,2.0 3,1.9 3,1.6 3,1.9 3,2.3 3,2.4 3,2.8 3,2.8 3,2.6 3,2.1 3,1.8 3,1.8 3,1.9 3,2.2 3,2.0 3,1.9 3,1.3 3,1.0 3,0.6 3,0.5 3,1.9"/>
<path d="M578.6,82.1l3,1.8 3,1.8 3,1.7 3,1.7 3,1.4 3,1.5 3,2.0 3,1.1 3,1.1 3,1.5 3,1.8 3,1.8 3,1.5 3,1.5 3,1.3 3,0.9 3,1.1 3,2.1 3,2.1 3,2.0 3,2.0 3,1.8 3,1.6 3,1.5 3,1.4 3,1.6 3,1.8 3,1.8 3,1.1 3,1.1 3,1.1 3,1.3 3,1.3 3,1.5 3,1.8 3,2.0 3,2.0 3,2.2 3,2.1 3,2.3 3,2.4 3,2.2 3,2.1 3,2.3 3,2.4 3,2.2 3,2.3 3,2.3 3,2.1 3,2.1 3,1.7 3,1.6 3,1.3 3,1.2 3,0.9 3,1.0 3,2.0"/>
<path d="M578.6,85.7l3,1.5 3,1.6 3,1.5 3,1.7 3,1.5 3,1.6 3,2.3 3,1.4 3,1.3 3,1.5 3,1.7 3,1.6 3,1.4 3,1.2 3,1.0 3,0.5 3,0.6 3,1.5 3,1.6 3,1.6 3,1.7 3,1.7 3,1.6 3,1.6 3,1.6 3,1.6 3,2.0 3,1.8 3,1.2 3,1.1 3,1.1 3,1.1 3,1.1 3,1.1 3,1.3 3,1.3 3,1.5 3,1.8 3,1.8 3,2.1 3,2.3 3,2.0 3,2.1 3,2.4 3,2.5 3,2.4 3,2.5 3,2.4 3,2.2 3,2.1 3,1.5 3,1.4 3,1.0 3,0.9 3,0.8 3,0.6 3,1.9"/>
<path d="M578.6,86.7l3,1.1 3,0.6 3,0.7 3,1.3 3,1.8 3,2.4 3,3.1 3,1.8 3,1.0 3,0.9 3,0.8 3,1.3 3,1.7 3,2.1 3,2.0 3,1.1 3,0.6 3,0.7 3,0.7 3,1.0 3,1.7 3,2.4 3,2.6 3,2.2 3,1.5 3,1.0 3,1.0 3,1.2 3,1.2 3,1.9 3,2.1 3,2.0 3,1.3 3,0.6 3,0.4 3,0.7 3,1.4 3,2.3 3,2.7 3,2.9 3,2.5 3,1.6 3,1.2 3,1.5 3,2.1 3,2.9 3,3.5 3,3.3 3,2.6 3,1.9 3,0.9 3,0.8 3,0.8 3,1.3 3,1.4 3,1.4 3,2.2"/>
<path d="M578.6,82.2l3,2.2 3,1.6 3,1.2 3,0.9 3,0.8 3,1.5 3,2.7 3,2.2 3,1.9 3,1.9 3,1.4 3,1.1 3,1.0 3,1.4 3,1.7 3,1.7 3,1.8 3,2.1 3,1.5 3,1.1 3,1.1 3,1.5 3,2.0 3,2.3 3,2.3 3,2.0 3,1.7 3,1.2 3,0.6 3,0.9 3,1.5 3,2.1 3,2.2 3,1.9 3,1.6 3,1.1 3,1.1 3,1.6 3,2.1 3,2.8 3,3.2 3,2.6 3,2.1 3,1.8 3,1.6 3,1.9 3,2.4 3,2.9 3,2.9 3,2.5 3,1.5 3,1.2 3,0.6 3,0.6 3,0.8 3,1.0 3,2.3"/>
<path d="M578.6,84.9l3,2.0 3,2.4 3,2.4 3,1.9 3,1.0 3,0.6 3,1.0 3,0.6 3,1.1 3,2.1 3,2.5 3,2.2 3,1.4 3,0.8 3,0.5 3,0.4 3,1.2 3,2.6 3,2.9 3,2.5 3,1.8 3,1.1 3,0.7 3,0.7 3,1.2 3,1.9 3,2.5 3,2.2 3,1.1 3,0.6 3,0.2 3,0.6 3,1.1 3,1.9 3,2.7 3,2.6 3,2.3 3,1.7 3,1.3 3,1.5 3,2.0 3,2.3 3,2.7 3,2.9 3,2.5 3,1.9 3,1.5 3,1.4 3,1.8 3,2.4 3,2.4 3,2.5 3,1.8 3,1.1 3,0.6 3,0.4 3,1.7"/>
<path d="M578.6,84.5l3,1.7 3,1.7 3,1.6 3,1.4 3,1.2 3,1.4 3,2.3 3,1.8 3,2.0 3,2.3 3,2.2 3,1.8 3,1.2 3,1.1 3,0.9 3,0.5 3,1.0 3,1.7 3,1.6 3,1.4 3,1.1 3,1.1 3,1.4 3,1.6 3,1.9 3,2.3 3,2.5 3,2.0 3,1.3 3,1.1 3,1.1 3,1.4 3,1.5 3,1.5 3,1.7 3,1.3 3,1.1 3,1.1 3,1.3 3,1.9 3,2.3 3,2.3 3,2.4 3,2.5 3,2.4 3,2.2 3,2.3 3,2.5 3,2.4 3,2.3 3,1.7 3,1.3 3,0.7 3,0.6 3,0.4 3,0.5 3,1.7"/>
<path d="M578.6,84.7l3,1.8 3,1.6 3,1.5 3,1.6 3,1.4 3,1.7 3,2.4 3,1.6 3,1.3 3,1.5 3,1.6 3,1.4 3,1.3 3,1.3 3,1.3 3,0.9 3,1.1 3,1.7 3,1.7 3,1.7 3,1.7 3,1.8 3,2.0 3,1.9 3,1.7 3,1.8 3,1.8 3,1.5 3,1.0 3,1.1 3,1.2 3,1.4 3,1.4 3,1.3 3,1.4 3,1.4 3,1.6 3,1.9 3,2.2 3,2.5 3,2.6 3,2.3 3,2.2 3,2.2 3,2.3 3,2.3 3,2.5 3,2.5 3,2.4 3,2.1 3,1.5 3,1.3 3,1.0 3,0.9 3,0.9 3,0.9 3,2.1"/>
<path d="M578.6,85.9l3,2.1 3,1.8 3,1.5 3,1.2 3,0.9 3,1.1 3,2.2 3,1.7 3,1.8 3,1.9 3,1.8 3,1.4 3,1.0 3,1.0 3,1.2 3,1.2 3,1.5 3,2.1 3,1.9 3,1.4 3,1.1 3,1.3 3,1.5 3,1.7 3,2.0 3,2.1 3,2.0 3,1.4 3,0.7 3,0.7 3,1.1 3,1.5 3,1.8 3,1.9 3,1.8 3,1.5 3,1.2 3,1.4 3,1.7 3,2.3 3,2.8 3,2.5 3,2.3 3,2.1 3,1.9 3,1.8 3,2.1 3,2.5 3,2.6 3,2.6 3,1.8 3,1.4 3,0.9 3,0.6 3,0.7 3,0.8 3,2.1"/>
<path d="M578.6,87.9l3,1.8 3,1.7 3,1.6 3,1.5 3,1.0 3,1.1 3,1.8 3,1.3 3,1.5 3,2.0 3,2.1 3,1.7 3,1.3 3,1.0 3,0.9 3,0.7 3,1.0 3,2.0 3,1.9 3,1.7 3,1.3 3,1.2 3,1.2 3,1.2 3,1.6 3,1.9 3,2.2 3,1.9 3,1.1 3,0.9 3,0.8 3,1.2 3,1.4 3,1.6 3,1.9 3,1.7 3,1.5 3,1.5 3,1.4 3,1.8 3,2.2 3,2.2 3,2.4 3,2.4 3,2.2 3,2.1 3,2.1 3,2.3 3,2.4 3,2.5 3,2.1 3,1.8 3,1.2 3,0.9 3,0.6 3,0.6 3,1.8"/>
<path d="M578.6,87.2l3,1.2 3,1.8 3,2.3 3,2.2 3,1.4 3,0.9 3,1.1 3,0.3 3,0.8 3,2.1 3,2.8 3,2.8 3,2.2 3,1.4 3,0.5 3,-0.1 3,0.5 3,1.9 3,2.5 3,2.6 3,2.0 3,1.3 3,0.5 3,0.2 3,0.5 3,1.5 3,2.5 3,2.7 3,2.0 3,1.3 3,0.7 3,0.5 3,0.7 3,1.4 3,2.4 3,2.7 3,2.5 3,1.9 3,1.2 3,1.0 3,1.1 3,1.6 3,2.2 3,3.0 3,3.0 3,2.4 3,1.9 3,1.6 3,1.5 3,2.0 3,2.1 3,2.3 3,1.8 3,1.3 3,0.7 3,0.3 3,1.2"/>
<path d="M578.6,86.2l3,1.5 3,1.4 3,1.5 3,1.7 3,1.6 3,1.8 3,2.5 3,1.7 3,1.5 3,1.9 3,1.9 3,1.7 3,1.5 3,1.2 3,1.1 3,0.5 3,0.6 3,1.4 3,1.4 3,1.5 3,1.6 3,1.7 3,1.7 3,1.7 3,1.8 3,1.9 3,2.2 3,2.0 3,1.4 3,1.4 3,1.3 3,1.3 3,1.1 3,1.1 3,1.3 3,1.2 3,1.4 3,1.6 3,1.8 3,2.0 3,2.3 3,2.1 3,2.2 3,2.4 3,2.6 3,2.6 3,2.7 3,2.5 3,2.3 3,2.0 3,1.4 3,1.3 3,0.8 3,0.8 3,0.6 3,0.7 3,1.7"/>
<path d="M578.6,88.6l3,1.2 3,1.5 3,1.8 3,1.9 3,1.7 3,1.4 3,1.7 3,0.6 3,0.8 3,1.5 3,2.2 3,2.3 3,2.0 3,1.6 3,1.0 3,0.2 3,0.4 3,1.6 3,1.9 3,2.2 3,2.1 3,1.7 3,1.2 3,0.8 3,0.8 3,1.3 3,1.9 3,2.3 3,1.7 3,1.4 3,1.1 3,0.9 3,0.8 3,1.1 3,1.7 3,2.1 3,2.2 3,2.2 3,1.8 3,1.6 3,1.5 3,1.6 3,1.9 3,2.5 3,2.8 3,2.6 3,2.4 3,2.1 3,1.8 3,1.8 3,1.7 3,2.0 3,1.6 3,1.4 3,0.9 3,0.6 3,1.5"/>
<path d="M578.6,85.8l3,1.8 3,1.4 3,1.3 3,1.3 3,1.3 3,1.9 3,2.7 3,1.9 3,1.6 3,1.7 3,1.4 3,1.4 3,1.2 3,1.5 3,1.6 3,1.1 3,1.2 3,1.7 3,1.4 3,1.3 3,1.4 3,1.8 3,2.1 3,2.1 3,2.0 3,1.8 3,1.8 3,1.4 3,1.0 3,1.2 3,1.6 3,1.7 3,1.7 3,1.4 3,1.3 3,1.1 3,1.3 3,1.8 3,2.1 3,2.6 3,2.8 3,2.3 3,2.0 3,2.0 3,2.1 3,2.3 3,2.7 3,2.7 3,2.6 3,2.1 3,1.4 3,1.0 3,0.8 3,0.7 3,0.8 3,1.0 3,2.0"/>
<path d="M578.6,86.4l3,1.9 3,1.8 3,1.9 3,1.8 3,1.5 3,1.6 3,2.4 3,1.6 3,1.5 3,1.9 3,1.7 3,1.5 3,1.1 3,0.9 3,0.9 3,0.5 3,0.9 3,1.8 3,1.8 3,1.7 3,1.7 3,1.7 3,1.8 3,1.9 3,1.9 3,2.1 3,2.2 3,1.9 3,1.1 3,0.9 3,0.9 3,1.0 3,1.2 3,1.2 3,1.5 3,1.3 3,1.5 3,1.6 3,1.9 3,2.2 3,2.7 3,2.5 3,2.5 3,2.6 3,2.5 3,2.3 3,2.3 3,2.4 3,2.2 3,2.0 3,1.5 3,1.3 3,0.8 3,0.7 3,0.6 3,0.6 3,1.9"/>
<path d="M578.6,88.9l3,1.0 3,0.9 3,1.3 3,1.7 3,1.8 3,1.9 3,2.4 3,1.2 3,0.9 3,1.4 3,1.9 3,2.3 3,2.3 3,2.2 3,1.5 3,0.5 3,0.3 3,0.9 3,1.1 3,1.6 3,1.8 3,2.0 3,1.6 3,1.2 3,0.9 3,1.0 3,1.6 3,2.1 3,1.9 3,2.1 3,1.9 3,1.4 3,1.0 3,0.9 3,1.1 3,1.5 3,1.8 3,2.2 3,2.0 3,1.8 3,1.6 3,1.2 3,1.4 3,2.0 3,2.6 3,2.9 3,2.9 3,2.6 3,2.0 3,1.7 3,1.2 3,1.3 3,1.1 3,1.1 3,0.9 3,0.8 3,1.5"/>
<path d="M578.6,87.6l3,0.8 3,1.0 3,1.5 3,2.1 3,2.2 3,2.1 3,2.1 3,0.6 3,0.2 3,0.9 3,1.7 3,2.4 3,2.7 3,2.5 3,1.8 3,0.5 3,0.3 3,1.1 3,1.6 3,2.3 3,2.6 3,2.6 3,1.8 3,1.0 3,0.5 3,0.5 3,1.3 3,2.0 3,2.1 3,2.2 3,1.9 3,1.2 3,0.7 3,0.7 3,1.3 3,2.1 3,2.7 3,3.0 3,2.7 3,2.0 3,1.6 3,1.0 3,1.2 3,2.1 3,2.9 3,3.0 3,2.9 3,2.3 3,1.6 3,1.3 3,1.1 3,1.5 3,1.6 3,1.5 3,1.2 3,0.9 3,1.6"/>
<path d="M578.6,87.5l3,1.7 3,1.8 3,1.8 3,1.9 3,1.6 3,1.5 3,2.0 3,1.2 3,1.1 3,1.7 3,1.9 3,1.9 3,1.6 3,1.4 3,1.1 3,0.5 3,0.9 3,1.8 3,2.0 3,2.1 3,1.9 3,1.7 3,1.6 3,1.4 3,1.3 3,1.7 3,2.0 3,1.9 3,1.4 3,1.2 3,1.0 3,1.1 3,1.1 3,1.3 3,1.7 3,1.8 3,2.0 3,2.0 3,1.9 3,2.1 3,2.2 3,2.0 3,2.2 3,2.4 3,2.5 3,2.4 3,2.2 3,2.0 3,1.9 3,1.8 3,1.5 3,1.4 3,1.0 3,0.9 3,0.8 3,0.7 3,1.8"/>
<path d="M578.6,85.6l3,1.9 3,2.4 3,2.5 3,2.3 3,1.3 3,0.8 3,1.2 3,0.6 3,1.2 3,2.3 3,2.8 3,2.5 3,1.8 3,1.0 3,0.5 3,0.2 3,1.1 3,2.6 3,2.9 3,2.8 3,2.0 3,1.2 3,0.6 3,0.6 3,1.1 3,2.0 3,2.7 3,2.5 3,1.6 3,0.8 3,0.4 3,0.5 3,1.0 3,2.0 3,2.7 3,2.8 3,2.3 3,1.8 3,1.3 3,1.3 3,1.8 3,2.2 3,2.7 3,2.9 3,2.6 3,1.9 3,1.4 3,1.3 3,1.4 3,1.8 3,1.7 3,1.6 3,1.1 3,0.7 3,0.5 3,0.5 3,1.6"/>
<path d="M578.6,90.6l3,1.5 3,1.1 3,0.9 3,1.2 3,1.1 3,1.6 3,2.2 3,1.2 3,0.9 3,1.2 3,1.4 3,1.7 3,1.9 3,2.2 3,2.1 3,1.4 3,1.3 3,1.6 3,1.5 3,1.6 3,1.6 3,1.8 3,1.8 3,1.4 3,1.1 3,0.9 3,1.2 3,1.2 3,1.1 3,1.6 3,1.8 3,1.9 3,1.8 3,1.5 3,1.6 3,1.6 3,1.9 3,2.4 3,2.4 3,2.5 3,2.2 3,1.5 3,1.3 3,1.5 3,1.9 3,2.2 3,2.7 3,2.7 3,2.5 3,2.1 3,1.6 3,1.5 3,1.4 3,1.3 3,1.4 3,1.2 3,2.1"/>
<path d="M578.6,89.3l3,1.4 3,1.4 3,1.5 3,1.8 3,1.9 3,2.0 3,2.5 3,1.3 3,0.9 3,1.1 3,1.4 3,1.7 3,1.8 3,1.8 3,1.4 3,0.7 3,0.6 3,1.3 3,1.5 3,1.8 3,2.1 3,2.3 3,2.0 3,1.7 3,1.3 3,1.2 3,1.5 3,1.6 3,1.4 3,1.6 3,1.5 3,1.3 3,1.0 3,0.8 3,1.1 3,1.5 3,1.9 3,2.3 3,2.4 3,2.5 3,2.2 3,1.8 3,1.7 3,2.1 3,2.4 3,2.6 3,2.7 3,2.4 3,1.8 3,1.6 3,1.0 3,1.1 3,1.0 3,1.1 3,0.9 3,0.9 3,1.8"/>
<path d="M578.6,91.1l3,1.9 3,1.8 3,1.5 3,1.1 3,0.5 3,0.7 3,1.6 3,1.3 3,1.7 3,2.4 3,2.3 3,2.0 3,1.4 3,1.3 3,1.3 3,1.1 3,1.6 3,2.4 3,2.0 3,1.5 3,0.9 3,0.6 3,0.8 3,1.0 3,1.5 3,1.8 3,2.2 3,1.7 3,1.0 3,0.9 3,1.1 3,1.6 3,2.0 3,2.3 3,2.4 3,1.9 3,1.5 3,1.2 3,1.2 3,1.7 3,2.1 3,2.1 3,2.1 3,2.0 3,1.8 3,1.6 3,1.9 3,2.2 3,2.5 3,2.7 3,2.2 3,1.7 3,1.1 3,0.7 3,0.6 3,0.7 3,1.8"/>
<path d="M578.6,92.1l3,2.1 3,0.9 3,0.1 3,-0.1 3,0.3 3,1.7 3,3.3 3,2.8 3,2.2 3,1.6 3,0.8 3,0.5 3,1.0 3,2.0 3,2.8 3,2.5 3,2.1 3,1.6 3,0.5 3,-0.1 3,0.2 3,1.3 3,2.3 3,2.7 3,2.4 3,1.6 3,0.8 3,0.3 3,0.2 3,1.2 3,2.4 3,3.3 3,3.0 3,2.0 3,1.0 3,0.3 3,0.3 3,1.3 3,2.3 3,3.3 3,3.3 3,2.2 3,1.1 3,0.6 3,0.7 3,1.6 3,2.9 3,3.8 3,3.5 3,2.7 3,1.3 3,0.7 3,0.3 3,0.5 3,1.0 3,1.4 3,2.3"/>
<path d="M578.6,89.1l3,1.8 3,1.5 3,1.3 3,1.3 3,1.3 3,1.7 3,2.6 3,1.8 3,1.5 3,1.7 3,1.5 3,1.5 3,1.5 3,1.7 3,1.7 3,1.3 3,1.3 3,1.7 3,1.5 3,1.3 3,1.4 3,1.7 3,1.9 3,1.9 3,1.8 3,1.6 3,1.6 3,1.4 3,1.0 3,1.3 3,1.6 3,1.9 3,1.8 3,1.5 3,1.5 3,1.2 3,1.4 3,1.8 3,2.2 3,2.5 3,2.6 3,2.1 3,1.7 3,1.8 3,1.8 3,2.1 3,2.3 3,2.4 3,2.1 3,1.8 3,1.1 3,0.9 3,0.7 3,0.6 3,0.7 3,0.8 3,1.9"/>
<path d="M578.6,90.6l3,2.2 3,2.0 3,1.9 3,1.7 3,1.6 3,1.8 3,2.5 3,1.7 3,1.5 3,1.5 3,1.3 3,1.0 3,0.8 3,1.0 3,1.1 3,0.8 3,1.2 3,1.8 3,1.7 3,1.7 3,1.6 3,1.9 3,2.1 3,2.1 3,1.9 3,1.8 3,1.7 3,1.3 3,0.6 3,0.6 3,0.9 3,1.2 3,1.1 3,1.2 3,1.3 3,1.2 3,1.3 3,1.8 3,2.2 3,2.6 3,2.9 3,2.5 3,2.3 3,2.0 3,2.0 3,1.9 3,2.0 3,2.0 3,1.8 3,1.5 3,1.0 3,0.9 3,0.5 3,0.6 3,0.6 3,0.8 3,2.0"/>
<path d="M578.6,91.6l3,0.3 3,0.7 3,1.6 3,2.5 3,2.6 3,2.1 3,1.8 3,0.1 3,-0.4 3,0.7 3,2.1 3,3.3 3,3.5 3,3.0 3,1.8 3,0.0 3,-0.3 3,0.7 3,1.6 3,2.7 3,3.1 3,2.6 3,1.6 3,0.2 3,-0.5 3,0.0 3,1.3 3,2.6 3,2.8 3,2.8 3,2.1 3,1.0 3,0.2 3,0.3 3,1.4 3,2.5 3,3.3 3,3.4 3,2.4 3,1.5 3,0.8 3,0.2 3,0.9 3,2.2 3,3.2 3,3.5 3,2.8 3,2.0 3,1.1 3,1.0 3,0.9 3,1.7 3,1.7 3,1.4 3,1.1 3,0.7 3,1.4"/>
<path d="M578.6,91.8l3,2.1 3,2.1 3,2.0 3,1.9 3,1.5 3,1.4 3,2.1 3,1.4 3,1.5 3,1.9 3,1.9 3,1.5 3,1.1 3,0.8 3,0.7 3,0.4 3,1.0 3,1.9 3,2.1 3,1.9 3,1.7 3,1.5 3,1.5 3,1.6 3,1.8 3,2.0 3,2.2 3,1.9 3,1.0 3,0.7 3,0.6 3,0.8 3,1.1 3,1.3 3,1.7 3,1.6 3,1.6 3,1.6 3,1.6 3,2.1 3,2.5 3,2.4 3,2.5 3,2.6 3,2.3 3,2.1 3,1.9 3,1.8 3,1.9 3,1.8 3,1.4 3,1.2 3,0.8 3,0.6 3,0.5 3,0.5 3,1.8"/>
<path d="M578.6,89.0l3,1.7 3,1.8 3,1.9 3,2.0 3,1.8 3,1.9 3,2.5 3,1.6 3,1.5 3,1.8 3,2.0 3,1.8 3,1.6 3,1.4 3,1.0 3,0.6 3,0.7 3,1.6 3,1.7 3,1.9 3,1.9 3,1.8 3,1.9 3,1.7 3,1.7 3,1.8 3,2.2 3,2.0 3,1.4 3,1.4 3,1.2 3,1.2 3,1.0 3,1.2 3,1.4 3,1.4 3,1.6 3,1.8 3,2.0 3,2.1 3,2.4 3,2.1 3,2.2 3,2.3 3,2.3 3,2.2 3,2.0 3,1.8 3,1.5 3,1.2 3,0.9 3,0.8 3,0.6 3,0.6 3,0.5 3,0.7 3,1.6"/>
<path d="M578.6,91.4l3,1.6 3,1.4 3,1.2 3,1.3 3,1.0 3,1.3 3,2.3 3,1.7 3,1.9 3,2.3 3,2.5 3,2.2 3,1.9 3,1.6 3,1.5 3,0.9 3,1.1 3,1.7 3,1.5 3,1.3 3,1.0 3,1.0 3,1.2 3,1.3 3,1.6 3,1.9 3,2.2 3,2.2 3,1.5 3,1.6 3,1.7 3,1.8 3,1.9 3,1.9 3,1.8 3,1.5 3,1.3 3,1.3 3,1.3 3,1.7 3,2.0 3,1.9 3,1.9 3,2.1 3,2.2 3,2.2 3,2.3 3,2.5 3,2.3 3,2.1 3,1.4 3,1.2 3,0.7 3,0.6 3,0.6 3,0.6 3,1.6"/>
<path d="M578.6,91.6l3,1.6 3,1.7 3,1.7 3,1.7 3,1.5 3,1.5 3,2.0 3,1.2 3,1.2 3,1.7 3,2.0 3,2.1 3,1.9 3,1.7 3,1.4 3,0.8 3,1.0 3,1.8 3,2.0 3,2.0 3,1.8 3,1.7 3,1.4 3,1.3 3,1.2 3,1.5 3,1.9 3,1.9 3,1.5 3,1.4 3,1.3 3,1.4 3,1.3 3,1.5 3,1.9 3,1.9 3,2.0 3,2.0 3,1.9 3,2.0 3,2.1 3,1.8 3,2.0 3,2.1 3,2.3 3,2.3 3,2.1 3,2.0 3,1.8 3,1.6 3,1.3 3,1.2 3,1.0 3,0.7 3,0.7 3,0.8 3,1.6"/>
<path d="M578.6,91.6l3,1.9 3,1.7 3,1.7 3,1.7 3,1.7 3,1.8 3,2.6 3,1.7 3,1.6 3,1.9 3,2.0 3,2.0 3,1.7 3,1.7 3,1.4 3,0.7 3,0.8 3,1.4 3,1.4 3,1.5 3,1.5 3,1.6 3,1.6 3,1.5 3,1.5 3,1.6 3,1.9 3,1.9 3,1.4 3,1.5 3,1.6 3,1.5 3,1.3 3,1.2 3,1.4 3,1.3 3,1.4 3,1.6 3,1.7 3,2.0 3,2.1 3,1.8 3,1.8 3,1.9 3,2.1 3,2.1 3,2.0 3,1.9 3,1.5 3,1.2 3,0.9 3,0.8 3,0.5 3,0.6 3,0.5 3,0.7 3,1.6"/>
<path d="M578.6,92.1l3,2.2 3,2.1 3,2.0 3,1.8 3,1.3 3,1.5 3,2.2 3,1.7 3,1.8 3,2.1 3,1.9 3,1.6 3,1.0 3,0.8 3,0.8 3,0.7 3,1.2 3,2.1 3,2.1 3,1.8 3,1.5 3,1.4 3,1.6 3,1.8 3,2.0 3,2.3 3,2.3 3,1.9 3,0.9 3,0.7 3,0.8 3,1.1 3,1.3 3,1.6 3,1.8 3,1.5 3,1.4 3,1.4 3,1.7 3,2.1 3,2.7 3,2.6 3,2.6 3,2.5 3,2.2 3,1.9 3,1.8 3,1.9 3,1.9 3,1.7 3,1.2 3,1.0 3,0.7 3,0.5 3,0.5 3,0.6 3,1.7"/>
<path d="M578.6,92.2l3,1.6 3,1.7 3,1.8 3,2.0 3,1.9 3,1.9 3,2.4 3,1.4 3,1.2 3,1.6 3,1.9 3,1.9 3,1.8 3,1.6 3,1.3 3,0.5 3,0.8 3,1.5 3,1.7 3,2.0 3,2.0 3,2.1 3,1.9 3,1.5 3,1.5 3,1.6 3,1.9 3,2.0 3,1.5 3,1.5 3,1.3 3,1.2 3,1.1 3,1.1 3,1.4 3,1.6 3,1.8 3,2.1 3,2.1 3,2.2 3,2.2 3,2.0 3,2.0 3,2.2 3,2.4 3,2.3 3,2.1 3,1.9 3,1.5 3,1.2 3,0.9 3,0.9 3,0.7 3,0.7 3,0.6 3,0.7 3,1.6"/>
<path d="M578.6,92.6l3,2.1 3,1.9 3,1.6 3,1.7 3,1.6 3,1.9 3,2.6 3,1.7 3,1.3 3,1.4 3,1.5 3,1.6 3,1.7 3,2.1 3,2.1 3,1.5 3,1.2 3,1.7 3,1.4 3,1.5 3,1.6 3,1.9 3,1.9 3,1.6 3,1.3 3,1.1 3,1.1 3,1.1 3,1.0 3,1.4 3,1.8 3,1.9 3,1.7 3,1.4 3,1.4 3,1.3 3,1.5 3,2.0 3,2.2 3,2.5 3,2.3 3,1.7 3,1.3 3,1.3 3,1.5 3,1.6 3,1.9 3,1.7 3,1.3 3,1.1 3,0.7 3,0.7 3,0.5 3,0.6 3,0.6 3,0.7 3,1.7"/>
<path d="M578.6,94.1l3,1.4 3,1.1 3,1.2 3,1.9 3,2.3 3,2.7 3,2.8 3,1.2 3,0.1 3,0.2 3,0.8 3,1.9 3,2.9 3,3.3 3,2.8 3,1.4 3,0.4 3,0.7 3,1.0 3,1.8 3,2.7 3,3.1 3,2.7 3,1.5 3,0.3 3,-0.2 3,0.2 3,1.1 3,1.7 3,2.6 3,2.7 3,2.0 3,1.0 3,0.3 3,0.7 3,1.4 3,2.6 3,3.2 3,3.2 3,2.7 3,1.9 3,0.7 3,0.5 3,1.0 3,2.0 3,2.5 3,2.4 3,1.8 3,1.1 3,0.7 3,0.5 3,0.6 3,0.7 3,0.9 3,0.8 3,0.7 3,1.7"/>
<path d="M578.6,94.8l3,2.2 3,2.2 3,1.9 3,1.8 3,1.3 3,1.4 3,2.1 3,1.5 3,1.5 3,1.9 3,1.9 3,1.7 3,1.5 3,1.3 3,1.5 3,1.1 3,1.6 3,2.3 3,2.2 3,1.9 3,1.6 3,1.5 3,1.4 3,1.5 3,1.5 3,1.7 3,1.9 3,1.6 3,0.8 3,0.9 3,1.0 3,1.4 3,1.7 3,1.9 3,2.0 3,1.9 3,1.6 3,1.7 3,1.8 3,2.2 3,2.5 3,2.2 3,1.9 3,1.8 3,1.7 3,1.4 3,1.5 3,1.5 3,1.4 3,1.2 3,0.9 3,0.8 3,0.6 3,0.5 3,0.5 3,0.7 3,1.7"/>
<path d="M578.6,92.6l3,2.6 3,2.7 3,2.6 3,2.4 3,1.8 3,1.3 3,1.6 3,1.3 3,2.0 3,2.8 3,3.0 3,2.5 3,1.4 3,0.5 3,0.3 3,0.3 3,1.6 3,3.1 3,3.2 3,2.6 3,1.6 3,0.5 3,0.2 3,0.5 3,1.4 3,2.4 3,2.9 3,2.4 3,0.9 3,0.2 3,-0.2 3,0.4 3,1.3 3,2.3 3,2.9 3,2.5 3,1.5 3,0.8 3,0.8 3,1.3 3,2.1 3,2.3 3,2.5 3,2.1 3,1.5 3,1.0 3,0.7 3,0.7 3,0.9 3,1.1 3,1.0 3,0.7 3,0.5 3,0.4 3,0.4 3,0.6 3,1.6"/>
<path d="M578.6,95.4l3,2.4 3,2.4 3,2.1 3,1.9 3,1.5 3,1.7 3,2.5 3,2.2 3,2.2 3,2.4 3,2.1 3,1.5 3,0.9 3,1.0 3,1.1 3,1.1 3,1.6 3,2.3 3,1.9 3,1.5 3,1.1 3,1.2 3,1.5 3,2.0 3,2.2 3,2.3 3,2.2 3,1.5 3,0.6 3,0.6 3,0.8 3,1.5 3,1.7 3,1.9 3,1.7 3,1.2 3,0.9 3,1.0 3,1.5 3,2.2 3,2.8 3,2.4 3,2.1 3,1.7 3,1.4 3,1.2 3,1.2 3,1.3 3,1.2 3,1.0 3,0.7 3,0.6 3,0.4 3,0.3 3,0.5 3,0.6 3,1.6"/>
<path d="M578.6,99.1l3,2.5 3,2.2 3,1.6 3,1.1 3,1.0 3,1.8 3,3.5 3,3.4 3,3.2 3,2.6 3,1.5 3,0.7 3,0.5 3,1.3 3,2.4 3,2.5 3,2.4 3,1.9 3,0.6 3,-0.4 3,-0.4 3,0.7 3,2.2 3,3.2 3,3.2 3,2.5 3,1.4 3,0.3 3,-0.2 3,0.7 3,2.1 3,3.2 3,3.1 3,2.2 3,0.9 3,-0.3 3,-0.5 3,0.2 3,1.7 3,2.9 3,3.4 3,2.5 3,1.5 3,0.7 3,0.6 3,1.0 3,1.7 3,1.9 3,1.5 3,1.0 3,0.6 3,0.4 3,0.3 3,0.3 3,0.4 3,0.7 3,1.7"/>
</g>
<g fill="none" stroke="#ff6a5c" stroke-opacity="0.025" stroke-width="1.3">
<path d="M578.6,55.6l3,2.9 3,2.8 3,1.9 3,0.9 3,-0.3 3,-0.5 3,0.3 3,2.7 3,3.1 3,3.0 3,2.0 3,0.7 3,-0.3 3,0.3 3,1.1 3,2.1 3,3.1 3,3.1 3,2.4 3,1.1 3,-0.1 3,-0.3 3,0.6 3,2.3 3,3.3 3,3.4 3,2.4 3,1.1 3,0.0 3,-0.4 3,0.4 3,2.0 3,3.1 3,3.6 3,3.3 3,2.1 3,1.0 3,0.4 3,0.8 3,2.0 3,3.2 3,3.6 3,4.2 3,2.9 3,1.4 3,0.9 3,1.2 3,2.3 3,3.4 3,3.9 3,3.6 3,2.6 3,1.2 3,0.3 3,0.0 3,0.5 3,2.8"/>
<path d="M578.6,65.4l3,1.5 3,1.7 3,1.7 3,1.9 3,1.3 3,0.8 3,0.6 3,1.8 3,1.3 3,1.3 3,1.2 3,1.1 3,0.9 3,1.5 3,1.6 3,1.4 3,1.6 3,1.7 3,1.8 3,1.6 3,1.4 3,1.4 3,1.6 3,2.0 3,1.9 3,1.8 3,1.3 3,1.2 3,0.9 3,0.9 3,1.1 3,1.6 3,1.7 3,1.8 3,2.1 3,2.1 3,2.1 3,2.1 3,2.1 3,2.2 3,2.4 3,2.1 3,3.0 3,2.6 3,2.3 3,2.3 3,2.3 3,2.3 3,2.4 3,2.1 3,1.9 3,1.9 3,1.7 3,1.7 3,1.3 3,1.1 3,2.3"/>
<path d="M578.6,67.7l3,1.3 3,1.5 3,1.8 3,1.9 3,1.5 3,0.9 3,0.6 3,1.9 3,1.4 3,1.4 3,1.5 3,1.4 3,1.0 3,1.6 3,1.5 3,1.3 3,1.3 3,1.6 3,1.7 3,1.6 3,1.4 3,1.3 3,1.5 3,1.9 3,1.9 3,1.8 3,1.5 3,1.5 3,1.3 3,1.1 3,1.2 3,1.6 3,1.7 3,1.7 3,2.0 3,2.1 3,2.1 3,2.0 3,2.0 3,2.0 3,2.1 3,2.1 3,3.0 3,2.8 3,2.5 3,2.5 3,2.5 3,2.4 3,2.4 3,2.1 3,2.0 3,2.0 3,1.8 3,1.7 3,1.2 3,0.9 3,2.0"/>
<path d="M578.6,66.1l3,2.3 3,2.5 3,2.5 3,2.0 3,0.9 3,0.1 3,0.0 3,1.5 3,1.6 3,1.8 3,1.8 3,1.2 3,0.5 3,1.0 3,1.1 3,1.4 3,2.2 3,2.6 3,2.7 3,2.2 3,1.4 3,0.9 3,0.9 3,1.8 3,2.1 3,2.3 3,1.9 3,1.4 3,0.6 3,0.3 3,0.3 3,1.3 3,1.8 3,2.6 3,2.9 3,2.8 3,2.4 3,1.8 3,1.7 3,2.0 3,2.5 3,2.8 3,3.7 3,3.1 3,2.2 3,1.7 3,1.5 3,1.7 3,2.1 3,2.5 3,2.6 3,2.5 3,2.0 3,1.5 3,0.9 3,0.8 3,2.3"/>
<path d="M578.6,68.1l3,-0.4 3,1.6 3,3.5 3,4.5 3,3.3 3,1.0 3,-0.9 3,-0.7 3,-0.6 3,1.2 3,3.0 3,3.9 3,3.2 3,2.1 3,0.2 3,-1.2 3,-0.9 3,0.9 3,2.8 3,4.1 3,3.6 3,2.2 3,0.4 3,-0.4 3,-0.4 3,0.8 3,2.3 3,3.8 3,3.7 3,2.4 3,0.5 3,-0.5 3,-0.9 3,0.4 3,2.6 3,4.2 3,4.6 3,3.5 3,1.6 3,0.0 3,-0.4 3,0.4 3,3.2 3,4.6 3,5.0 3,4.3 3,2.5 3,0.8 3,-0.1 3,0.3 3,1.8 3,3.6 3,4.2 3,3.5 3,1.6 3,-0.4 3,-0.4"/>
<path d="M578.6,72.6l3,1.3 3,1.4 3,1.7 3,1.9 3,1.5 3,0.7 3,0.3 3,1.2 3,0.8 3,1.0 3,1.2 3,1.5 3,1.3 3,2.0 3,2.0 3,1.5 3,1.5 3,1.7 3,1.9 3,1.9 3,1.7 3,1.6 3,1.4 3,1.6 3,1.3 3,1.2 3,0.9 3,1.2 3,1.2 3,1.1 3,1.3 3,1.7 3,1.6 3,1.8 3,2.2 3,2.5 3,2.7 3,2.6 3,2.3 3,2.2 3,1.9 3,1.6 3,2.6 3,2.4 3,2.3 3,2.3 3,2.3 3,2.2 3,2.0 3,1.8 3,1.9 3,2.2 3,2.2 3,2.3 3,1.8 3,1.3 3,2.2"/>
<path d="M578.6,73.7l3,1.0 3,0.9 3,0.8 3,1.0 3,0.9 3,0.7 3,0.9 3,2.2 3,1.9 3,1.7 3,1.7 3,1.5 3,1.3 3,2.1 3,2.1 3,1.8 3,1.6 3,1.3 3,1.0 3,0.8 3,0.5 3,0.8 3,1.2 3,1.8 3,1.9 3,1.7 3,1.3 3,1.4 3,1.2 3,1.6 3,1.9 3,2.5 3,2.4 3,2.2 3,2.0 3,1.7 3,1.6 3,1.5 3,1.7 3,1.8 3,1.9 3,1.7 3,2.4 3,2.0 3,2.1 3,2.3 3,2.8 3,3.1 3,3.2 3,2.8 3,2.3 3,2.1 3,1.8 3,1.6 3,1.2 3,1.0 3,2.0"/>
<path d="M578.6,70.1l3,0.9 3,1.5 3,2.0 3,2.3 3,1.7 3,0.8 3,0.5 3,1.8 3,1.6 3,2.1 3,2.4 3,2.2 3,1.6 3,1.6 3,1.1 3,0.6 3,0.9 3,1.3 3,1.8 3,1.8 3,1.3 3,1.1 3,1.0 3,1.4 3,1.8 3,2.1 3,2.3 3,2.4 3,2.1 3,1.6 3,1.2 3,1.4 3,1.4 3,1.8 3,2.2 3,2.4 3,2.2 3,1.7 3,1.3 3,1.3 3,1.5 3,1.8 3,3.3 3,3.4 3,3.2 3,3.0 3,2.7 3,2.4 3,2.4 3,2.3 3,2.4 3,2.6 3,2.2 3,1.7 3,0.9 3,0.2 3,1.2"/>
<path d="M578.6,69.2l3,1.8 3,1.4 3,0.9 3,1.0 3,1.0 3,1.1 3,1.5 3,2.9 3,2.2 3,1.6 3,1.0 3,0.7 3,0.8 3,1.9 3,2.6 3,2.5 3,2.3 3,1.7 3,1.2 3,0.8 3,0.6 3,1.3 3,2.1 3,2.9 3,2.7 3,2.0 3,1.1 3,0.8 3,0.6 3,1.2 3,2.0 3,2.9 3,2.8 3,2.3 3,1.9 3,1.5 3,1.4 3,1.8 3,2.4 3,2.9 3,3.1 3,2.5 3,2.7 3,1.9 3,1.7 3,2.1 3,2.8 3,3.5 3,3.5 3,2.8 3,2.1 3,1.5 3,1.1 3,1.3 3,1.4 3,1.6 3,2.7"/>
<path d="M578.6,72.7l3,1.2 3,1.3 3,1.3 3,1.7 3,1.5 3,1.1 3,1.2 3,2.4 3,1.9 3,1.6 3,1.5 3,1.2 3,1.0 3,1.7 3,1.8 3,1.4 3,1.4 3,1.3 3,1.2 3,1.1 3,1.0 3,1.3 3,1.7 3,2.4 3,2.3 3,2.0 3,1.6 3,1.4 3,1.3 3,1.4 3,1.6 3,2.1 3,1.9 3,1.7 3,1.8 3,1.6 3,1.6 3,1.7 3,2.0 3,2.2 3,2.3 3,2.1 3,2.9 3,2.6 3,2.5 3,2.6 3,2.9 3,3.1 3,2.9 3,2.4 3,1.9 3,1.8 3,1.4 3,1.4 3,1.1 3,0.9 3,2.1"/>
<path d="M578.6,78.8l3,1.6 3,1.6 3,1.6 3,1.6 3,1.1 3,0.6 3,0.6 3,1.7 3,1.2 3,1.1 3,0.9 3,0.8 3,0.6 3,1.4 3,1.6 3,1.5 3,1.6 3,1.8 3,1.6 3,1.5 3,1.2 3,1.3 3,1.5 3,2.0 3,2.0 3,1.5 3,1.1 3,0.8 3,0.6 3,0.6 3,1.0 3,1.6 3,1.7 3,1.8 3,1.9 3,2.0 3,1.9 3,2.0 3,2.1 3,2.3 3,2.4 3,2.2 3,2.8 3,2.4 3,1.9 3,1.9 3,2.1 3,2.2 3,2.3 3,2.0 3,1.7 3,1.7 3,1.5 3,1.4 3,1.3 3,1.1 3,2.4"/>
<path d="M578.6,74.8l3,1.8 3,1.9 3,1.7 3,1.5 3,0.9 3,0.5 3,0.5 3,2.1 3,1.9 3,2.0 3,1.6 3,1.2 3,0.7 3,1.2 3,1.5 3,1.5 3,1.9 3,2.1 3,1.8 3,1.4 3,0.9 3,0.8 3,1.2 3,2.0 3,2.3 3,2.2 3,1.8 3,1.4 3,0.8 3,0.7 3,1.0 3,1.8 3,2.1 3,2.4 3,2.4 3,2.1 3,1.8 3,1.5 3,1.5 3,2.0 3,2.4 3,2.5 3,3.3 3,2.8 3,2.1 3,2.0 3,2.1 3,2.4 3,2.7 3,2.7 3,2.4 3,2.2 3,1.6 3,1.2 3,0.9 3,0.8 3,2.1"/>
<path d="M578.6,78.8l3,1.1 3,1.2 3,1.3 3,1.7 3,1.2 3,0.8 3,0.7 3,1.9 3,1.4 3,1.5 3,1.4 3,1.4 3,1.1 3,1.7 3,1.7 3,1.3 3,1.3 3,1.3 3,1.4 3,1.3 3,1.0 3,1.2 3,1.3 3,1.8 3,1.8 3,1.6 3,1.4 3,1.4 3,1.2 3,1.3 3,1.4 3,1.8 3,1.7 3,1.8 3,1.9 3,1.9 3,1.9 3,1.8 3,1.8 3,1.9 3,1.9 3,1.8 3,2.6 3,2.5 3,2.4 3,2.4 3,2.5 3,2.6 3,2.6 3,2.1 3,2.0 3,1.9 3,1.7 3,1.6 3,1.2 3,0.8 3,1.9"/>
<path d="M578.6,75.0l3,1.4 3,1.5 3,1.7 3,2.0 3,1.5 3,0.8 3,0.6 3,1.6 3,1.2 3,1.4 3,1.5 3,1.6 3,1.4 3,1.9 3,1.8 3,1.4 3,1.5 3,1.7 3,1.8 3,1.8 3,1.6 3,1.4 3,1.4 3,1.7 3,1.7 3,1.5 3,1.4 3,1.5 3,1.4 3,1.3 3,1.3 3,1.8 3,1.7 3,1.9 3,2.2 3,2.4 3,2.5 3,2.3 3,2.1 3,2.0 3,2.0 3,1.9 3,2.8 3,2.6 3,2.5 3,2.5 3,2.4 3,2.4 3,2.2 3,2.0 3,2.0 3,2.1 3,1.9 3,1.8 3,1.4 3,1.0 3,1.9"/>
<path d="M578.6,75.1l3,2.0 3,2.3 3,1.8 3,1.5 3,0.6 3,0.2 3,0.6 3,2.6 3,2.7 3,2.6 3,2.2 3,1.1 3,0.3 3,0.6 3,1.0 3,1.4 3,1.9 3,2.3 3,1.9 3,1.2 3,0.3 3,0.3 3,0.9 3,2.1 3,2.9 3,3.1 3,2.4 3,1.8 3,0.7 3,0.4 3,0.7 3,1.8 3,2.3 3,2.6 3,2.7 3,1.9 3,1.2 3,0.7 3,0.9 3,1.7 3,2.6 3,3.0 3,3.9 3,3.2 3,2.2 3,1.8 3,1.8 3,2.5 3,3.0 3,3.1 3,2.8 3,2.2 3,1.2 3,0.6 3,0.1 3,0.3 3,2.0"/>
<path d="M578.6,76.3l3,0.9 3,1.6 3,2.0 3,2.4 3,1.8 3,0.8 3,0.4 3,1.3 3,1.0 3,1.5 3,1.9 3,1.9 3,1.6 3,1.8 3,1.3 3,0.9 3,1.0 3,1.4 3,2.0 3,2.0 3,1.8 3,1.4 3,1.2 3,1.4 3,1.4 3,1.6 3,1.7 3,1.9 3,1.8 3,1.5 3,1.1 3,1.3 3,1.2 3,1.6 3,2.3 3,2.5 3,2.7 3,2.2 3,1.9 3,1.6 3,1.6 3,1.6 3,3.0 3,3.1 3,2.9 3,2.8 3,2.4 3,2.1 3,1.9 3,1.8 3,1.9 3,2.3 3,2.1 3,1.8 3,1.2 3,0.6 3,1.5"/>
<path d="M578.6,79.9l3,0.9 3,1.1 3,1.4 3,1.7 3,1.4 3,1.1 3,1.0 3,2.1 3,1.7 3,1.6 3,1.6 3,1.4 3,1.1 3,1.7 3,1.5 3,1.1 3,1.0 3,1.1 3,1.1 3,1.1 3,1.0 3,1.1 3,1.4 3,2.0 3,2.0 3,1.8 3,1.6 3,1.7 3,1.4 3,1.5 3,1.5 3,1.8 3,1.6 3,1.6 3,1.6 3,1.7 3,1.6 3,1.6 3,1.7 3,1.8 3,1.9 3,1.8 3,2.8 3,2.6 3,2.6 3,2.7 3,2.8 3,2.8 3,2.7 3,2.2 3,1.9 3,1.8 3,1.5 3,1.3 3,1.0 3,0.6 3,1.7"/>
<path d="M578.6,76.2l3,1.3 3,1.9 3,2.3 3,2.9 3,2.5 3,1.7 3,1.0 3,1.7 3,0.9 3,0.8 3,0.9 3,1.1 3,0.8 3,1.4 3,1.1 3,0.7 3,0.8 3,1.2 3,1.8 3,2.2 3,2.3 3,2.4 3,2.3 3,2.4 3,2.0 3,1.8 3,1.4 3,1.5 3,1.3 3,1.1 3,0.9 3,0.9 3,0.7 3,0.8 3,1.4 3,2.0 3,2.4 3,2.7 3,2.6 3,2.5 3,2.5 3,2.3 3,3.3 3,3.2 3,3.2 3,3.0 3,2.6 3,2.2 3,1.6 3,1.2 3,1.0 3,1.3 3,1.5 3,1.5 3,1.3 3,0.9 3,1.9"/>
<path d="M578.6,77.9l3,-0.3 3,-0.3 3,0.7 3,2.2 3,2.8 3,2.7 3,1.9 3,1.8 3,0.3 3,0.0 3,0.7 3,1.8 3,2.6 3,3.7 3,3.0 3,1.4 3,0.2 3,-0.2 3,0.2 3,1.3 3,2.4 3,2.9 3,2.8 3,2.2 3,1.0 3,0.1 3,0.3 3,1.3 3,2.4 3,3.2 3,3.1 3,2.5 3,1.1 3,0.3 3,0.6 3,1.5 3,2.7 3,3.5 3,3.5 3,2.7 3,1.4 3,0.4 3,1.3 3,1.9 3,3.0 3,4.0 3,4.3 3,3.6 3,2.3 3,0.9 3,0.6 3,1.1 3,1.9 3,2.5 3,2.2 3,1.5 3,1.8"/>
<path d="M578.6,80.7l3,1.5 3,1.6 3,1.6 3,1.7 3,1.2 3,0.6 3,0.4 3,1.5 3,1.1 3,1.1 3,1.2 3,1.2 3,1.1 3,1.8 3,2.0 3,1.7 3,1.7 3,1.9 3,1.9 3,1.7 3,1.4 3,1.3 3,1.5 3,1.7 3,1.6 3,1.4 3,1.0 3,1.0 3,0.9 3,1.0 3,1.2 3,1.8 3,1.8 3,2.0 3,2.3 3,2.4 3,2.3 3,2.3 3,2.3 3,2.2 3,2.2 3,1.9 3,2.7 3,2.3 3,2.0 3,2.0 3,2.1 3,2.2 3,2.2 3,2.0 3,1.8 3,1.9 3,1.8 3,1.7 3,1.5 3,1.1 3,2.2"/>
<path d="M578.6,78.9l3,2.3 3,1.5 3,0.9 3,0.7 3,0.6 3,0.8 3,1.5 3,3.0 3,2.3 3,1.6 3,0.6 3,0.2 3,0.1 3,1.5 3,2.5 3,2.7 3,2.6 3,2.0 3,1.2 3,0.6 3,0.3 3,1.0 3,2.1 3,3.1 3,3.0 3,2.2 3,1.0 3,0.3 3,0.0 3,0.5 3,1.7 3,2.8 3,3.0 3,2.5 3,1.9 3,1.3 3,1.0 3,1.4 3,2.4 3,3.1 3,3.5 3,2.8 3,2.9 3,1.7 3,1.2 3,1.5 3,2.4 3,3.3 3,3.5 3,2.9 3,1.9 3,1.3 3,0.6 3,0.9 3,1.1 3,1.6 3,3.0"/>
<path d="M578.6,82.0l3,1.8 3,1.2 3,0.8 3,0.8 3,0.7 3,0.9 3,1.3 3,2.6 3,1.9 3,1.2 3,0.7 3,0.4 3,0.5 3,1.9 3,2.5 3,2.5 3,2.2 3,1.7 3,1.1 3,0.6 3,0.5 3,1.2 3,1.9 3,2.7 3,2.5 3,1.7 3,0.7 3,0.3 3,0.3 3,0.9 3,1.8 3,2.7 3,2.7 3,2.3 3,1.7 3,1.4 3,1.3 3,1.7 3,2.3 3,3.0 3,2.9 3,2.3 3,2.4 3,1.6 3,1.3 3,1.7 3,2.6 3,3.1 3,3.2 3,2.5 3,1.8 3,1.3 3,0.9 3,1.1 3,1.4 3,1.5 3,2.7"/>
<path d="M578.6,79.5l3,1.5 3,1.4 3,1.6 3,1.7 3,1.5 3,1.0 3,0.8 3,2.0 3,1.3 3,1.3 3,1.3 3,1.3 3,1.2 3,1.8 3,2.0 3,1.6 3,1.5 3,1.6 3,1.6 3,1.5 3,1.4 3,1.5 3,1.6 3,2.1 3,1.9 3,1.6 3,1.2 3,1.3 3,1.1 3,1.3 3,1.4 3,2.0 3,1.8 3,1.9 3,2.0 3,2.0 3,2.2 3,2.1 3,2.3 3,2.3 3,2.2 3,2.0 3,2.7 3,2.4 3,2.3 3,2.4 3,2.4 3,2.5 3,2.4 3,1.9 3,1.7 3,1.6 3,1.4 3,1.4 3,1.2 3,1.0 3,2.0"/>
<path d="M578.6,79.2l3,1.2 3,1.7 3,2.1 3,2.4 3,2.0 3,1.2 3,0.7 3,1.7 3,1.2 3,1.3 3,1.6 3,1.5 3,1.3 3,1.6 3,1.3 3,0.9 3,1.0 3,1.4 3,1.8 3,2.0 3,1.8 3,1.7 3,1.6 3,1.9 3,1.8 3,1.8 3,1.7 3,1.7 3,1.6 3,1.3 3,1.1 3,1.3 3,1.2 3,1.4 3,1.9 3,2.2 3,2.4 3,2.2 3,2.1 3,2.0 3,2.0 3,2.0 3,3.2 3,3.0 3,2.9 3,2.7 3,2.5 3,2.2 3,1.9 3,1.5 3,1.6 3,1.7 3,1.5 3,1.4 3,1.0 3,0.7 3,1.7"/>
<path d="M578.6,79.1l3,1.4 3,1.6 3,1.6 3,1.9 3,1.4 3,1.0 3,0.7 3,1.9 3,1.4 3,1.4 3,1.4 3,1.4 3,1.3 3,1.9 3,1.9 3,1.7 3,1.6 3,1.7 3,1.7 3,1.7 3,1.4 3,1.5 3,1.6 3,2.0 3,1.8 3,1.7 3,1.3 3,1.4 3,1.2 3,1.3 3,1.4 3,2.0 3,1.9 3,1.9 3,2.2 3,2.2 3,2.3 3,2.2 3,2.2 3,2.3 3,2.2 3,2.0 3,2.8 3,2.5 3,2.4 3,2.3 3,2.4 3,2.5 3,2.3 3,2.0 3,1.7 3,1.8 3,1.5 3,1.4 3,1.1 3,1.0 3,1.9"/>
<path d="M578.6,80.3l3,1.1 3,1.6 3,1.9 3,2.3 3,1.9 3,1.1 3,0.7 3,1.7 3,1.2 3,1.4 3,1.6 3,1.6 3,1.3 3,1.8 3,1.5 3,1.0 3,1.1 3,1.4 3,1.7 3,2.0 3,1.7 3,1.6 3,1.6 3,1.8 3,1.8 3,1.6 3,1.6 3,1.7 3,1.6 3,1.4 3,1.3 3,1.4 3,1.4 3,1.5 3,1.9 3,2.3 3,2.4 3,2.3 3,2.0 3,2.0 3,2.0 3,1.9 3,3.0 3,2.9 3,2.8 3,2.7 3,2.6 3,2.2 3,2.0 3,1.7 3,1.6 3,1.8 3,1.6 3,1.5 3,1.0 3,0.8 3,1.7"/>
<path d="M578.6,81.4l3,1.2 3,1.3 3,1.5 3,2.0 3,1.7 3,1.2 3,1.1 3,2.0 3,1.4 3,1.2 3,1.3 3,1.3 3,1.2 3,1.9 3,1.9 3,1.4 3,1.3 3,1.3 3,1.3 3,1.5 3,1.5 3,1.6 3,1.9 3,2.1 3,2.0 3,1.6 3,1.2 3,1.4 3,1.3 3,1.4 3,1.6 3,1.9 3,1.7 3,1.5 3,1.7 3,1.9 3,2.1 3,2.2 3,2.2 3,2.3 3,2.2 3,1.9 3,2.8 3,2.5 3,2.4 3,2.6 3,2.7 3,2.5 3,2.3 3,1.7 3,1.5 3,1.4 3,1.3 3,1.3 3,1.1 3,0.9 3,1.8"/>
<path d="M578.6,81.9l3,1.7 3,2.0 3,2.1 3,1.9 3,1.0 3,0.2 3,0.3 3,1.8 3,1.9 3,2.2 3,2.1 3,1.6 3,0.9 3,1.1 3,1.1 3,1.1 3,1.7 3,2.1 3,2.1 3,1.7 3,1.0 3,0.6 3,0.8 3,1.6 3,2.2 3,2.3 3,2.2 3,1.8 3,1.2 3,0.7 3,0.7 3,1.5 3,1.9 3,2.3 3,2.7 3,2.4 3,2.0 3,1.4 3,1.2 3,1.5 3,2.1 3,2.4 3,3.5 3,3.1 3,2.4 3,2.0 3,1.9 3,2.0 3,2.4 3,2.4 3,2.4 3,2.1 3,1.5 3,1.1 3,0.6 3,0.4 3,1.7"/>
<path d="M578.6,83.2l3,1.6 3,1.5 3,1.7 3,1.9 3,1.7 3,1.2 3,0.9 3,1.7 3,1.1 3,0.8 3,0.9 3,0.9 3,1.0 3,1.8 3,2.0 3,1.6 3,1.6 3,1.6 3,1.6 3,1.7 3,1.7 3,1.9 3,2.0 3,2.2 3,1.9 3,1.4 3,0.9 3,0.9 3,0.8 3,1.1 3,1.4 3,1.7 3,1.6 3,1.6 3,1.9 3,2.0 3,2.3 3,2.5 3,2.6 3,2.7 3,2.5 3,2.0 3,2.7 3,2.3 3,2.2 3,2.2 3,2.4 3,2.4 3,2.0 3,1.6 3,1.3 3,1.4 3,1.3 3,1.5 3,1.3 3,1.2 3,2.1"/>
<path d="M578.6,82.5l3,1.2 3,1.7 3,1.9 3,2.0 3,1.3 3,0.5 3,0.5 3,2.0 3,2.1 3,2.6 3,2.5 3,2.1 3,1.3 3,1.2 3,1.0 3,0.8 3,1.1 3,1.6 3,1.7 3,1.5 3,0.9 3,0.5 3,0.6 3,1.5 3,2.1 3,2.5 3,2.5 3,2.4 3,1.8 3,1.3 3,1.1 3,1.5 3,1.7 3,2.1 3,2.5 3,2.2 3,1.8 3,1.1 3,0.9 3,1.1 3,1.6 3,2.0 3,3.5 3,3.3 3,2.8 3,2.5 3,2.3 3,2.2 3,2.3 3,2.3 3,2.1 3,1.9 3,1.3 3,0.8 3,0.5 3,0.3 3,1.4"/>
<path d="M578.6,82.8l3,1.7 3,1.5 3,1.2 3,1.3 3,1.1 3,1.0 3,1.5 3,2.8 3,2.4 3,2.0 3,1.4 3,0.9 3,0.6 3,1.4 3,1.9 3,1.8 3,1.8 3,1.5 3,1.1 3,0.8 3,0.5 3,1.0 3,1.7 3,2.7 3,2.8 3,2.4 3,1.7 3,1.2 3,0.9 3,1.0 3,1.7 3,2.3 3,2.4 3,2.1 3,1.8 3,1.3 3,1.2 3,1.2 3,1.8 3,2.4 3,2.7 3,2.5 3,3.1 3,2.4 3,2.0 3,2.1 3,2.6 3,2.9 3,2.9 3,2.2 3,1.7 3,1.1 3,0.8 3,0.7 3,0.6 3,0.9 3,1.9"/>
<path d="M578.6,83.1l3,2.0 3,2.2 3,2.0 3,1.7 3,0.8 3,0.2 3,0.3 3,1.9 3,2.0 3,2.2 3,2.0 3,1.3 3,0.7 3,1.1 3,1.2 3,1.6 3,2.0 3,2.4 3,2.3 3,1.6 3,0.9 3,0.6 3,0.9 3,1.8 3,2.3 3,2.4 3,2.0 3,1.6 3,0.8 3,0.5 3,0.7 3,1.7 3,2.2 3,2.6 3,2.8 3,2.5 3,1.8 3,1.4 3,1.4 3,1.8 3,2.4 3,2.6 3,3.5 3,2.9 3,2.1 3,1.7 3,1.7 3,2.1 3,2.4 3,2.4 3,2.3 3,2.0 3,1.3 3,0.9 3,0.6 3,0.7 3,1.9"/>
<path d="M578.6,83.9l3,0.4 3,0.7 3,1.1 3,1.9 3,1.9 3,1.5 3,1.0 3,1.9 3,1.2 3,1.3 3,1.7 3,2.1 3,2.1 3,2.7 3,2.2 3,1.4 3,0.8 3,0.8 3,1.1 3,1.4 3,1.5 3,1.6 3,1.6 3,1.7 3,1.4 3,1.2 3,1.3 3,1.8 3,2.1 3,2.3 3,2.3 3,2.2 3,1.7 3,1.5 3,1.7 3,2.0 3,2.3 3,2.4 3,2.2 3,1.9 3,1.4 3,1.1 3,2.2 3,2.4 3,2.8 3,3.2 3,3.2 3,3.0 3,2.4 3,1.8 3,1.6 3,1.7 3,1.7 3,1.5 3,1.3 3,0.8 3,1.6"/>
<path d="M578.6,87.3l3,1.1 3,1.4 3,1.7 3,2.0 3,1.7 3,0.9 3,0.5 3,1.5 3,1.1 3,1.2 3,1.5 3,1.7 3,1.4 3,2.0 3,1.6 3,1.2 3,1.2 3,1.4 3,1.6 3,1.8 3,1.5 3,1.5 3,1.3 3,1.6 3,1.4 3,1.4 3,1.3 3,1.5 3,1.5 3,1.4 3,1.3 3,1.6 3,1.5 3,1.6 3,2.0 3,2.3 3,2.4 3,2.2 3,2.1 3,1.8 3,1.7 3,1.6 3,2.6 3,2.6 3,2.5 3,2.5 3,2.4 3,2.2 3,1.9 3,1.6 3,1.6 3,1.8 3,1.6 3,1.4 3,1.1 3,0.8 3,1.6"/>
<path d="M578.6,84.1l3,1.5 3,2.1 3,2.4 3,2.4 3,1.5 3,0.5 3,0.0 3,1.3 3,1.3 3,1.8 3,2.1 3,2.0 3,1.4 3,1.4 3,1.2 3,0.9 3,1.4 3,2.0 3,2.4 3,2.4 3,1.6 3,1.1 3,0.9 3,1.3 3,1.5 3,1.9 3,2.0 3,2.0 3,1.5 3,1.1 3,0.7 3,1.2 3,1.4 3,2.0 3,2.8 3,2.9 3,2.6 3,2.1 3,1.6 3,1.4 3,1.8 3,2.0 3,3.2 3,3.2 3,2.7 3,2.2 3,1.8 3,1.5 3,1.7 3,1.6 3,1.8 3,1.9 3,1.4 3,1.0 3,0.8 3,0.5 3,1.6"/>
<path d="M578.6,85.1l3,2.1 3,2.5 3,2.2 3,1.8 3,0.7 3,0.0 3,0.0 3,2.0 3,2.2 3,2.5 3,2.3 3,1.5 3,0.5 3,0.8 3,0.9 3,1.4 3,2.0 3,2.6 3,2.5 3,1.7 3,0.7 3,0.3 3,0.5 3,1.6 3,2.4 3,2.7 3,2.3 3,1.8 3,0.9 3,0.3 3,0.4 3,1.4 3,2.2 3,2.8 3,3.1 3,2.5 3,1.8 3,1.1 3,0.9 3,1.5 3,2.3 3,2.8 3,3.7 3,3.1 3,2.1 3,1.5 3,1.4 3,1.7 3,2.2 3,2.3 3,2.2 3,1.7 3,1.1 3,0.7 3,0.4 3,0.4 3,1.8"/>
<path d="M578.6,88.1l3,1.7 3,1.9 3,1.8 3,1.6 3,0.8 3,0.1 3,0.0 3,1.5 3,1.4 3,1.7 3,1.9 3,1.6 3,1.3 3,1.7 3,1.8 3,1.7 3,2.0 3,2.2 3,2.2 3,1.8 3,1.1 3,0.6 3,0.8 3,1.2 3,1.6 3,1.6 3,1.4 3,1.4 3,1.0 3,0.9 3,1.1 3,1.8 3,2.2 3,2.5 3,2.9 3,2.8 3,2.3 3,1.9 3,1.6 3,1.7 3,1.9 3,1.9 3,2.8 3,2.4 3,1.9 3,1.7 3,1.7 3,1.8 3,2.1 3,2.2 3,2.1 3,1.9 3,1.5 3,1.1 3,0.9 3,0.7 3,1.8"/>
<path d="M578.6,88.7l3,1.8 3,1.9 3,1.9 3,1.8 3,1.1 3,0.6 3,0.4 3,1.8 3,1.6 3,1.7 3,1.6 3,1.4 3,0.9 3,1.4 3,1.4 3,1.5 3,1.7 3,2.0 3,2.0 3,1.6 3,1.1 3,0.9 3,1.1 3,1.7 3,1.9 3,1.9 3,1.6 3,1.4 3,0.9 3,0.8 3,0.9 3,1.7 3,1.9 3,2.2 3,2.4 3,2.3 3,2.0 3,1.7 3,1.6 3,1.9 3,2.2 3,2.1 3,3.1 3,2.5 3,2.1 3,1.8 3,1.8 3,1.9 3,2.0 3,1.9 3,1.7 3,1.5 3,1.1 3,0.9 3,0.8 3,0.7 3,1.7"/>
<path d="M578.6,87.4l3,1.1 3,1.4 3,1.4 3,1.4 3,0.8 3,0.1 3,0.2 3,1.7 3,1.9 3,2.4 3,2.6 3,2.5 3,1.9 3,2.1 3,2.0 3,1.6 3,1.7 3,1.9 3,1.7 3,1.4 3,0.7 3,0.3 3,0.4 3,1.0 3,1.5 3,1.8 3,1.9 3,2.1 3,1.8 3,1.6 3,1.8 3,2.2 3,2.5 3,2.7 3,3.0 3,2.7 3,2.1 3,1.5 3,1.1 3,1.1 3,1.3 3,1.5 3,2.7 3,2.5 3,2.3 3,2.1 3,2.2 3,2.3 3,2.5 3,2.3 3,2.2 3,1.8 3,1.3 3,0.9 3,0.7 3,0.6 3,1.5"/>
<path d="M578.6,90.6l3,1.7 3,1.5 3,1.4 3,1.5 3,1.3 3,1.0 3,1.0 3,2.2 3,1.7 3,1.3 3,1.1 3,0.9 3,0.8 3,1.8 3,2.0 3,1.8 3,1.8 3,1.6 3,1.4 3,1.1 3,1.0 3,1.2 3,1.7 3,2.3 3,2.2 3,1.7 3,1.0 3,0.9 3,0.8 3,1.0 3,1.5 3,2.1 3,2.2 3,1.9 3,1.9 3,1.7 3,1.6 3,1.9 3,2.1 3,2.4 3,2.5 3,2.1 3,2.6 3,2.1 3,1.8 3,1.9 3,2.3 3,2.4 3,2.2 3,1.8 3,1.3 3,1.2 3,0.9 3,0.8 3,0.9 3,0.9 3,1.9"/>
<path d="M578.6,90.4l3,1.2 3,1.7 3,2.2 3,2.6 3,2.1 3,1.1 3,0.3 3,0.8 3,0.3 3,0.8 3,1.4 3,1.9 3,1.9 3,2.2 3,1.8 3,1.0 3,1.1 3,1.5 3,2.3 3,2.6 3,2.4 3,2.0 3,1.5 3,1.2 3,0.8 3,0.9 3,1.1 3,1.6 3,1.6 3,1.5 3,1.2 3,1.1 3,1.0 3,1.4 3,2.3 3,3.0 3,3.3 3,3.0 3,2.4 3,2.0 3,1.6 3,1.3 3,2.5 3,2.6 3,2.6 3,2.4 3,2.0 3,1.4 3,1.1 3,1.0 3,1.2 3,1.5 3,1.4 3,1.3 3,0.9 3,0.7 3,1.7"/>
<path d="M578.6,90.5l3,1.4 3,1.3 3,1.2 3,1.7 3,1.7 3,1.6 3,1.5 3,2.3 3,1.4 3,1.0 3,1.0 3,1.0 3,1.3 3,2.3 3,2.5 3,1.9 3,1.5 3,1.2 3,1.1 3,1.2 3,1.3 3,1.8 3,2.2 3,2.5 3,2.0 3,1.4 3,0.9 3,0.9 3,1.2 3,1.6 3,2.0 3,2.4 3,2.0 3,1.6 3,1.5 3,1.6 3,1.9 3,2.3 3,2.5 3,2.7 3,2.5 3,1.7 3,2.3 3,1.9 3,2.0 3,2.2 3,2.5 3,2.3 3,1.8 3,1.2 3,0.9 3,0.8 3,0.7 3,0.8 3,0.8 3,0.8 3,1.8"/>
<path d="M578.6,90.5l3,1.1 3,1.5 3,2.2 3,2.9 3,2.8 3,2.1 3,1.5 3,2.0 3,1.4 3,1.3 3,1.6 3,1.8 3,1.6 3,1.7 3,1.0 3,0.2 3,0.1 3,0.5 3,1.3 3,1.9 3,2.2 3,2.2 3,2.1 3,2.1 3,1.8 3,1.8 3,1.9 3,2.2 3,2.2 3,1.9 3,1.4 3,1.0 3,0.5 3,0.5 3,1.1 3,1.7 3,2.1 3,2.2 3,2.0 3,1.9 3,1.8 3,1.7 3,2.9 3,3.1 3,3.0 3,2.6 3,2.1 3,1.4 3,1.0 3,0.7 3,0.6 3,0.7 3,0.7 3,0.6 3,0.5 3,0.6 3,1.5"/>
<path d="M578.6,93.1l3,1.6 3,1.4 3,1.4 3,1.9 3,2.0 3,1.9 3,1.8 3,2.5 3,1.5 3,1.0 3,0.8 3,0.8 3,1.0 3,2.0 3,2.1 3,1.7 3,1.3 3,1.0 3,0.9 3,1.2 3,1.5 3,2.0 3,2.5 3,2.8 3,2.2 3,1.6 3,0.9 3,1.0 3,1.1 3,1.5 3,1.8 3,2.2 3,1.6 3,1.3 3,1.1 3,1.3 3,1.7 3,2.1 3,2.6 3,2.9 3,2.6 3,2.0 3,2.4 3,2.0 3,2.0 3,2.2 3,2.3 3,2.0 3,1.6 3,0.9 3,0.7 3,0.7 3,0.5 3,0.7 3,0.7 3,0.8 3,1.7"/>
<path d="M578.6,96.3l3,2.5 3,2.5 3,2.5 3,2.4 3,2.2 3,2.1 3,2.3 3,2.8 3,2.7 3,2.6 3,2.3 3,1.8 3,1.4 3,1.8 3,2.1 3,1.9 3,2.0 3,1.9 3,1.6 3,1.1 3,0.7 3,0.7 3,1.2 3,2.0 3,2.1 3,1.9 3,1.4 3,1.0 3,0.8 3,0.9 3,1.3 3,2.0 3,2.2 3,2.0 3,1.7 3,1.0 3,0.4 3,0.4 3,1.2 3,1.9 3,2.3 3,1.7 3,1.6 3,1.1 3,0.9 3,0.8 3,0.8 3,0.7 3,0.7 3,0.5 3,0.5 3,0.5 3,0.3 3,0.4 3,0.4 3,0.6 3,1.6"/>
</g>
<path d="M578.6,101.07 L579.6,101.95 L580.6,102.82 L581.6,103.69 L582.6,104.57 L583.6,105.44 L584.6,106.31 L585.6,107.19 L586.6,108.09 L587.6,108.98 L588.6,109.88 L589.6,110.77 L590.6,111.65 L591.6,112.54 L592.6,113.43 L593.6,114.32 L594.6,115.2 L595.6,116.09 L596.6,117.02 L597.6,118.14 L598.6,119.26 L599.6,120.38 L600.6,121.5 L601.6,122.62 L602.6,123.74 L603.6,124.88 L604.6,126.05 L605.6,127.22 L606.6,128.38 L607.6,129.55 L608.6,130.72 L609.6,131.88 L610.6,133.1 L611.6,134.31 L612.6,135.53 L613.6,136.75 L614.6,137.96 L615.6,139.18 L616.6,140.27 L617.6,141.34 L618.6,142.42 L619.6,143.51 L620.6,144.6 L621.6,145.69 L622.6,146.78 L623.6,147.87 L624.6,148.96 L625.6,149.82 L626.6,150.45 L627.6,151.09 L628.6,151.73 L629.6,152.36 L630.6,153 L631.6,153.64 L632.6,154.35 L633.6,155.08 L634.6,155.8 L635.6,156.52 L636.6,157.25 L637.6,157.97 L638.6,158.7 L639.6,159.42 L640.6,160.12 L641.6,160.74 L642.6,161.35 L643.6,161.96 L644.6,162.57 L645.6,163.19 L646.6,163.8 L647.6,164.41 L648.6,165.03 L649.6,165.64 L650.6,166.04 L651.6,166.42 L652.6,166.8 L653.6,167.18 L654.6,167.56 L655.6,167.94 L656.6,168.32 L657.6,168.7 L658.6,169.04 L659.6,169.26 L660.6,169.48 L661.6,169.7 L662.6,169.92 L663.6,170.14 L664.6,170.36 L665.6,170.58 L666.6,170.8 L667.6,171.02 L668.6,171.25 L669.6,171.48 L670.6,171.72 L671.6,171.96 L672.6,172.19 L673.6,172.43 L674.6,172.66 L675.6,172.9 L676.6,173.13 L677.6,173.29 L678.6,173.27 L679.6,173.24 L680.6,173.22 L681.6,173.15 L682.6,172.92 L683.6,172.7 L684.6,172.47 L685.6,172.24 L686.6,171.94 L687.6,171.53 L688.6,171.13 L689.6,170.72 L690.6,170.48 L691.6,170.32 L692.6,170.15 L693.6,170.38 L694.6,170.78 L695.6,171.18 L696.6,171.58 L697.6,172.23 L698.6,172.98 L699.6,173.74 L700.6,174.49 L701.6,175.25 L702.6,175.84 L703.6,176.2 L704.6,176.55 L705.6,176.91 L706.6,177.26 L707.6,177.62 L708.6,177.94 L709.6,178.13 L710.6,178.31 L711.6,178.5 L712.6,178.69 L713.6,178.88 L714.6,179.07 L715.6,179.25 L716.6,179.41 L717.6,179.57 L718.6,179.72 L719.6,179.88 L720.6,180.04 L721.6,180.2 L722.6,180.36 L723.6,180.52 L724.6,180.67 L725.6,180.8 L726.6,180.94 L727.6,181.07 L728.6,181.21 L729.6,181.34 L730.6,181.48 L731.6,181.61 L732.6,181.75 L733.6,181.87 L734.6,181.98 L735.6,182.09 L736.6,182.2 L737.6,182.32 L738.6,182.43 L739.6,182.54 L740.6,182.65 L741.6,182.77 L742.6,182.92 L743.6,183.09 L744.6,183.26 L745.6,183.43 L746.6,183.7 L747.6,184.03 L748.6,184.46 L749.6,185.26 L750.6,186.06" fill="none" stroke="#2a9a2a" stroke-width="1.25"/>
<path d="M578.6,90.38 L579.6,91.31 L580.6,92.23 L581.6,93.16 L582.6,94.08 L583.6,95.01 L584.6,95.96 L585.6,96.92 L586.6,97.88 L587.6,98.83 L588.6,99.79 L589.6,100.73 L590.6,101.67 L591.6,102.61 L592.6,103.58 L593.6,104.56 L594.6,105.54 L595.6,106.51 L596.6,107.55 L597.6,108.66 L598.6,109.77 L599.6,110.89 L600.6,112.1 L601.6,113.32 L602.6,114.54 L603.6,115.76 L604.6,116.97 L605.6,118.18 L606.6,119.39 L607.6,120.58 L608.6,121.73 L609.6,122.88 L610.6,124.03 L611.6,125.15 L612.6,126.28 L613.6,127.4 L614.6,128.51 L615.6,129.56 L616.6,130.61 L617.6,131.66 L618.6,132.72 L619.6,133.8 L620.6,134.88 L621.6,135.96 L622.6,136.94 L623.6,137.81 L624.6,138.5 L625.6,139.16 L626.6,139.82 L627.6,140.48 L628.6,141.15 L629.6,141.81 L630.6,142.47 L631.6,143.13 L632.6,143.8 L633.6,144.47 L634.6,145.13 L635.6,145.8 L636.6,146.47 L637.6,147.13 L638.6,147.8 L639.6,148.47 L640.6,149.13 L641.6,149.77 L642.6,150.42 L643.6,151.06 L644.6,151.71 L645.6,152.35 L646.6,153 L647.6,153.65 L648.6,154.29 L649.6,154.94 L650.6,155.4 L651.6,155.84 L652.6,156.28 L653.6,156.72 L654.6,157.16 L655.6,157.6 L656.6,158.04 L657.6,158.48 L658.6,158.92 L659.6,159.36 L660.6,159.62 L661.6,159.86 L662.6,160.1 L663.6,160.34 L664.6,160.58 L665.6,160.82 L666.6,161.07 L667.6,161.31 L668.6,161.55 L669.6,161.79 L670.6,162.04 L671.6,162.28 L672.6,162.53 L673.6,162.78 L674.6,162.84 L675.6,162.9 L676.6,162.94 L677.6,163 L678.6,163.04 L679.6,163.09 L680.6,163.14 L681.6,163.19 L682.6,163.02 L683.6,162.82 L684.6,162.62 L685.6,162.42 L686.6,162.15 L687.6,161.78 L688.6,161.41 L689.6,161.04 L690.6,160.67 L691.6,160.3 L692.6,160.08 L693.6,160.51 L694.6,160.93 L695.6,161.35 L696.6,161.77 L697.6,162.31 L698.6,162.89 L699.6,163.48 L700.6,164.06 L701.6,164.65 L702.6,165.18 L703.6,165.63 L704.6,166.08 L705.6,166.54 L706.6,166.99 L707.6,167.44 L708.6,167.83 L709.6,168.01 L710.6,168.18 L711.6,168.36 L712.6,168.53 L713.6,168.7 L714.6,168.88 L715.6,169.05 L716.6,169.22 L717.6,169.39 L718.6,169.56 L719.6,169.73 L720.6,169.9 L721.6,170.07 L722.6,170.24 L723.6,170.41 L724.6,170.57 L725.6,170.72 L726.6,170.87 L727.6,171.01 L728.6,171.16 L729.6,171.3 L730.6,171.45 L731.6,171.6 L732.6,171.74 L733.6,171.88 L734.6,172.02 L735.6,172.15 L736.6,172.29 L737.6,172.42 L738.6,172.56 L739.6,172.69 L740.6,172.82 L741.6,172.96 L742.6,173.14 L743.6,173.33 L744.6,173.53 L745.6,173.72 L746.6,174.05 L747.6,174.46 L748.6,174.88 L749.6,175.53 L750.6,176.28" fill="none" stroke="#0f820f" stroke-width="1.7" stroke-dasharray="3.6 1.4 0.7 1.4 0.7 1.4 0.7 1.4"/>
<path d="M578.6,83.65 L579.6,83.95 L580.6,84.39 L581.6,84.85 L582.6,85.32 L583.6,85.81 L584.6,86.32 L585.6,86.84 L586.6,87.37 L587.6,87.92 L588.6,88.5 L589.6,89.1 L590.6,89.67 L591.6,90.18 L592.6,90.62 L593.6,91.02 L594.6,91.42 L595.6,91.69 L596.6,91.81 L597.6,91.79 L598.6,92.03 L599.6,92.55 L600.6,93.27 L601.6,93.91 L602.6,94.45 L603.6,94.95 L604.6,95.45 L605.6,95.95 L606.6,96.45 L607.6,96.95 L608.6,97.45 L609.6,97.94 L610.6,98.43 L611.6,98.92 L612.6,99.41 L613.6,99.86 L614.6,100.26 L615.6,100.63 L616.6,100.99 L617.6,101.4 L618.6,101.89 L619.6,102.45 L620.6,103.04 L621.6,103.63 L622.6,104.2 L623.6,104.73 L624.6,105.22 L625.6,105.71 L626.6,106.19 L627.6,106.67 L628.6,107.17 L629.6,107.68 L630.6,108.22 L631.6,108.76 L632.6,109.3 L633.6,109.83 L634.6,110.37 L635.6,110.91 L636.6,111.45 L637.6,111.96 L638.6,112.42 L639.6,112.85 L640.6,113.26 L641.6,113.68 L642.6,114.1 L643.6,114.51 L644.6,114.93 L645.6,115.34 L646.6,115.83 L647.6,116.39 L648.6,117.04 L649.6,117.69 L650.6,118.34 L651.6,118.99 L652.6,119.64 L653.6,120.3 L654.6,120.95 L655.6,121.54 L656.6,122.08 L657.6,122.57 L658.6,123.05 L659.6,123.54 L660.6,124.02 L661.6,124.49 L662.6,124.92 L663.6,125.33 L664.6,125.72 L665.6,126.12 L666.6,126.51 L667.6,126.9 L668.6,127.3 L669.6,127.69 L670.6,128.13 L671.6,128.65 L672.6,129.23 L673.6,129.84 L674.6,130.44 L675.6,131.05 L676.6,131.66 L677.6,132.27 L678.6,132.87 L679.6,133.5 L680.6,134.16 L681.6,134.85 L682.6,135.55 L683.6,136.25 L684.6,136.94 L685.6,137.64 L686.6,138.34 L687.6,139.03 L688.6,139.72 L689.6,140.39 L690.6,141.04 L691.6,141.69 L692.6,142.34 L693.6,142.99 L694.6,143.64 L695.6,144.3 L696.6,144.95 L697.6,145.65 L698.6,146.39 L699.6,147.16 L700.6,147.88 L701.6,148.55 L702.6,149.21 L703.6,149.89 L704.6,150.68 L705.6,151.57 L706.6,152.55 L707.6,153.53 L708.6,154.46 L709.6,155.34 L710.6,156.16 L711.6,156.95 L712.6,157.75 L713.6,158.55 L714.6,159.35 L715.6,160.14 L716.6,160.94 L717.6,161.76 L718.6,162.6 L719.6,163.46 L720.6,164.32 L721.6,165.19 L722.6,166.05 L723.6,166.92 L724.6,167.78 L725.6,168.65 L726.6,169.47 L727.6,170.23 L728.6,170.94 L729.6,171.65 L730.6,172.36 L731.6,173.07 L732.6,173.78 L733.6,174.48 L734.6,175.19 L735.6,175.86 L736.6,176.48 L737.6,177.06 L738.6,177.63 L739.6,178.21 L740.6,178.79 L741.6,179.32 L742.6,179.77 L743.6,180.14 L744.6,180.48 L745.6,180.82 L746.6,181.21 L747.6,181.76 L748.6,182.46 L749.6,183.45 L750.6,184.18" fill="none" stroke="#f00" stroke-width="2.1" stroke-linejoin="round"/>
<path d="M578.6,86.08 L579.6,86.43 L580.6,86.95 L581.6,87.48 L582.6,87.99 L583.6,88.49 L584.6,88.98 L585.6,89.46 L586.6,89.96 L587.6,90.45 L588.6,90.95 L589.6,91.45 L590.6,91.94 L591.6,92.4 L592.6,92.82 L593.6,93.22 L594.6,93.62 L595.6,94.1 L596.6,94.68 L597.6,95.37 L598.6,96.07 L599.6,96.73 L600.6,97.27 L601.6,97.7 L602.6,98.05 L603.6,98.41 L604.6,98.82 L605.6,99.3 L606.6,99.84 L607.6,100.38 L608.6,100.94 L609.6,101.51 L610.6,102.1 L611.6,102.7 L612.6,103.3 L613.6,103.87 L614.6,104.4 L615.6,104.9 L616.6,105.4 L617.6,105.89 L618.6,106.38 L619.6,106.85 L620.6,107.32 L621.6,107.79 L622.6,108.21 L623.6,108.57 L624.6,108.85 L625.6,109.12 L626.6,109.39 L627.6,109.65 L628.6,110 L629.6,110.45 L630.6,111.01 L631.6,111.61 L632.6,112.2 L633.6,112.8 L634.6,113.39 L635.6,113.99 L636.6,114.59 L637.6,115.17 L638.6,115.74 L639.6,116.29 L640.6,116.84 L641.6,117.39 L642.6,117.94 L643.6,118.49 L644.6,119.04 L645.6,119.59 L646.6,120.13 L647.6,120.65 L648.6,121.16 L649.6,121.67 L650.6,122.17 L651.6,122.68 L652.6,123.18 L653.6,123.69 L654.6,124.19 L655.6,124.74 L656.6,125.33 L657.6,125.95 L658.6,126.57 L659.6,127.2 L660.6,127.82 L661.6,128.4 L662.6,128.91 L663.6,129.33 L664.6,129.72 L665.6,130.12 L666.6,130.51 L667.6,130.9 L668.6,131.3 L669.6,131.69 L670.6,132.1 L671.6,132.52 L672.6,132.96 L673.6,133.41 L674.6,133.86 L675.6,134.31 L676.6,134.76 L677.6,135.21 L678.6,135.66 L679.6,136.14 L680.6,136.65 L681.6,137.19 L682.6,137.74 L683.6,138.29 L684.6,138.84 L685.6,139.39 L686.6,139.94 L687.6,140.49 L688.6,141.08 L689.6,141.69 L690.6,142.34 L691.6,142.99 L692.6,143.64 L693.6,144.29 L694.6,144.94 L695.6,145.6 L696.6,146.25 L697.6,146.97 L698.6,147.77 L699.6,148.61 L700.6,149.39 L701.6,150.11 L702.6,150.81 L703.6,151.51 L704.6,152.2 L705.6,152.9 L706.6,153.6 L707.6,154.29 L708.6,155.01 L709.6,155.77 L710.6,156.56 L711.6,157.35 L712.6,158.15 L713.6,158.95 L714.6,159.75 L715.6,160.54 L716.6,161.34 L717.6,162.16 L718.6,163.01 L719.6,163.89 L720.6,164.77 L721.6,165.64 L722.6,166.51 L723.6,167.36 L724.6,168.21 L725.6,169.06 L726.6,169.91 L727.6,170.76 L728.6,171.56 L729.6,172.28 L730.6,172.94 L731.6,173.59 L732.6,174.24 L733.6,174.89 L734.6,175.52 L735.6,176.09 L736.6,176.58 L737.6,177.03 L738.6,177.48 L739.6,177.93 L740.6,178.37 L741.6,178.8 L742.6,179.18 L743.6,179.51 L744.6,179.83 L745.6,180.15 L746.6,180.53 L747.6,181.08 L748.6,181.81 L749.6,182.86 L750.6,183.63" fill="none" stroke="#000" stroke-width="2.1" stroke-linejoin="round"/>
</g>
<rect x="578.6" y="31.3" width="180.1" height="174" fill="none" stroke="#a6a6a6" stroke-width="1.2"/>
<path d="M588.81,205.3 v-3.6 M588.81,31.3 v3.6 M597.1,205.3 v-3.6 M597.1,31.3 v3.6 M602.98,205.3 v-3.6 M602.98,31.3 v3.6 M607.54,205.3 v-3.6 M607.54,31.3 v3.6 M611.26,205.3 v-3.6 M611.26,31.3 v3.6 M614.41,205.3 v-3.6 M614.41,31.3 v3.6 M617.14,205.3 v-3.6 M617.14,31.3 v3.6 M619.55,205.3 v-3.6 M619.55,31.3 v3.6 M621.7,205.3 v-6.9 M621.7,31.3 v6.9 M635.86,205.3 v-3.6 M635.86,31.3 v3.6 M644.15,205.3 v-3.6 M644.15,31.3 v3.6 M650.03,205.3 v-3.6 M650.03,31.3 v3.6 M654.59,205.3 v-3.6 M654.59,31.3 v3.6 M658.31,205.3 v-3.6 M658.31,31.3 v3.6 M661.46,205.3 v-3.6 M661.46,31.3 v3.6 M664.19,205.3 v-3.6 M664.19,31.3 v3.6 M666.6,205.3 v-3.6 M666.6,31.3 v3.6 M668.75,205.3 v-6.9 M668.75,31.3 v6.9 M682.91,205.3 v-3.6 M682.91,31.3 v3.6 M691.2,205.3 v-3.6 M691.2,31.3 v3.6 M697.08,205.3 v-3.6 M697.08,31.3 v3.6 M701.64,205.3 v-3.6 M701.64,31.3 v3.6 M705.36,205.3 v-3.6 M705.36,31.3 v3.6 M708.51,205.3 v-3.6 M708.51,31.3 v3.6 M711.24,205.3 v-3.6 M711.24,31.3 v3.6 M713.65,205.3 v-3.6 M713.65,31.3 v3.6 M715.8,205.3 v-6.9 M715.8,31.3 v6.9 M729.96,205.3 v-3.6 M729.96,31.3 v3.6 M738.25,205.3 v-3.6 M738.25,31.3 v3.6 M744.13,205.3 v-3.6 M744.13,31.3 v3.6 M748.69,205.3 v-3.6 M748.69,31.3 v3.6 M752.41,205.3 v-3.6 M752.41,31.3 v3.6 M755.56,205.3 v-3.6 M755.56,31.3 v3.6 M758.29,205.3 v-3.6 M758.29,31.3 v3.6 M578.6,198.3 h1.8 M758.7,198.3 h-1.8 M578.6,183.48 h3 M758.7,183.48 h-3 M578.6,169.26 h1.8 M758.7,169.26 h-1.8 M578.6,154.44 h3 M758.7,154.44 h-3 M578.6,140.22 h1.8 M758.7,140.22 h-1.8 M578.6,125.4 h3 M758.7,125.4 h-3 M578.6,111.18 h1.8 M758.7,111.18 h-1.8 M578.6,96.36 h3 M758.7,96.36 h-3 M578.6,82.14 h1.8 M758.7,82.14 h-1.8 M578.6,67.32 h3 M758.7,67.32 h-3 M578.6,53.1 h1.8 M758.7,53.1 h-1.8 M578.6,38.28 h3 M758.7,38.28 h-3" stroke="#969696" stroke-width="1.2" fill="none"/>
<text x="586.2" y="50.0" font-family='"Liberation Serif", serif' font-size="10.4" fill="#1a1a1a">(d)</text>
<text x="615.6" y="217.8" font-family='"Liberation Serif", serif' font-size="10.4" fill="#1a1a1a" letter-spacing="-0.5">10<tspan font-size="6.6" dy="-5.0">-2</tspan></text>
<text x="662.65" y="217.8" font-family='"Liberation Serif", serif' font-size="10.4" fill="#1a1a1a" letter-spacing="-0.5">10<tspan font-size="6.6" dy="-5.0">-1</tspan></text>
<text x="709.7" y="217.8" font-family='"Liberation Serif", serif' font-size="10.4" fill="#1a1a1a" letter-spacing="-0.5">10<tspan font-size="6.6" dy="-5.0">0</tspan></text>
<text x="668.65" y="227.3" font-family='"Liberation Serif", serif' font-size="9.8" fill="#1a1a1a" text-anchor="middle">[ Hz ]</text>
<text x="21.0" y="43.08" font-family='"Liberation Serif", serif' font-size="10.4" fill="#1a1a1a" letter-spacing="-0.5">10<tspan font-size="6.6" dy="-4.6">6</tspan></text>
<text x="21.0" y="72.12" font-family='"Liberation Serif", serif' font-size="10.4" fill="#1a1a1a" letter-spacing="-0.5">10<tspan font-size="6.6" dy="-4.6">4</tspan></text>
<text x="21.0" y="101.16" font-family='"Liberation Serif", serif' font-size="10.4" fill="#1a1a1a" letter-spacing="-0.5">10<tspan font-size="6.6" dy="-4.6">2</tspan></text>
<text x="21.0" y="130.2" font-family='"Liberation Serif", serif' font-size="10.4" fill="#1a1a1a" letter-spacing="-0.5">10<tspan font-size="6.6" dy="-4.6">0</tspan></text>
<text x="21.0" y="159.24" font-family='"Liberation Serif", serif' font-size="10.4" fill="#1a1a1a" letter-spacing="-0.5">10<tspan font-size="6.6" dy="-4.6">-2</tspan></text>
<text x="21.0" y="188.28" font-family='"Liberation Serif", serif' font-size="10.4" fill="#1a1a1a" letter-spacing="-0.5">10<tspan font-size="6.6" dy="-4.6">-4</tspan></text>
<text transform="translate(11.5,118.2) rotate(-90)" font-family='"Liberation Serif", serif' font-size="10.2" fill="#1a1a1a" text-anchor="middle">PSD [ nT<tspan font-size="6.6" dy="-4.4">2</tspan><tspan dy="4.4">/Hz ]</tspan></text>
<line x1="30.1" y1="241" x2="42.9" y2="241" stroke="#222" stroke-width="1.6"/>
<text x="47.1" y="246.6" font-family='"Liberation Sans", sans-serif' font-style="italic" font-size="14.5" fill="#000">&#945;</text>
<text x="55.5" y="239.2" font-family='"Liberation Serif", serif' font-size="8.2" fill="#1a1a1a">up</text>
<text x="55.7" y="249.6" font-family='"Liberation Serif", serif' font-size="8.2" fill="#1a1a1a">in</text>
<line x1="101" y1="241" x2="113.8" y2="241" stroke="#f00" stroke-width="1.6"/>
<text x="118" y="246.6" font-family='"Liberation Sans", sans-serif' font-style="italic" font-size="14.5" fill="#000">&#945;</text>
<text x="126.4" y="239.2" font-family='"Liberation Serif", serif' font-size="8.2" fill="#1a1a1a">down</text>
<text x="126.6" y="249.6" font-family='"Liberation Serif", serif' font-size="8.2" fill="#1a1a1a">in</text>
<line x1="171.4" y1="241" x2="184.2" y2="241" stroke="#2a9a2a" stroke-width="1.6"/>
<text x="188.4" y="246.6" font-family='"Liberation Sans", sans-serif' font-style="italic" font-size="14.5" fill="#000">&#945;</text>
<text x="196.8" y="239.2" font-family='"Liberation Serif", serif' font-size="8.2" fill="#1a1a1a">up</text>
<text x="197" y="249.6" font-family='"Liberation Serif", serif' font-size="8.2" fill="#1a1a1a">tr</text>
<line x1="242" y1="241" x2="254.8" y2="241" stroke="#00f" stroke-width="1.6"/>
<text x="259" y="246.6" font-family='"Liberation Sans", sans-serif' font-style="italic" font-size="14.5" fill="#000">&#945;</text>
<text x="267.4" y="239.2" font-family='"Liberation Serif", serif' font-size="8.2" fill="#1a1a1a">down</text>
<text x="267.6" y="249.6" font-family='"Liberation Serif", serif' font-size="8.2" fill="#1a1a1a">tr</text>
<rect x="38.2" y="252.6" width="180.1" height="173.7" fill="none" stroke="#a6a6a6" stroke-width="1.2"/>
<g clip-path="url(#cb0)">
<path d="M38.5,426.3 L36.14,426.3 L36.14,426.3 L40.06,426.3 L40.06,426.3 L43.98,426.3 L43.98,426.3 L47.9,426.3 L47.9,426.3 L51.82,426.3 L51.82,426.3 L55.74,426.3 L55.74,426.3 L59.66,426.3 L59.66,424.4 L63.58,424.4 L63.58,425.5 L67.5,425.5 L67.5,423.3 L71.42,423.3 L71.42,423.3 L75.34,423.3 L75.34,413.3 L79.26,413.3 L79.26,405.3 L83.18,405.3 L83.18,398 L87.1,398 L87.1,374.4 L91.02,374.4 L91.02,353.3 L94.94,353.3 L94.94,372.2 L98.86,372.2 L98.86,391.4 L102.78,391.4 L102.78,395.6 L106.7,395.6 L106.7,413.4 L110.62,413.4 L110.62,421.6 L114.54,421.6 L114.54,426.3 L118.46,426.3 L118.46,426.3 L122.38,426.3 L122.38,426.3 L126.3,426.3 L126.3,426.3 L130.22,426.3 L130.22,426.3 L134.14,426.3 L134.14,426.3 L138.06,426.3 L138.06,426.3 L141.98,426.3 L141.98,426.3 L145.9,426.3 L145.9,426.3 L149.82,426.3 L149.82,426.3 L153.74,426.3 L153.74,426.3 L157.66,426.3 L157.66,426.3 L161.58,426.3 L161.58,426.3 L165.5,426.3 L165.5,426.3 L169.42,426.3 L169.42,426.3 L173.34,426.3 L173.34,426.3 L177.26,426.3 L177.26,426.3 L181.18,426.3 L181.18,426.3 L185.1,426.3 L185.1,426.3 L189.02,426.3 L189.02,426.3 L192.94,426.3 L192.94,426.3 L196.86,426.3 L196.86,426.3 L200.78,426.3 L200.78,426.3 L204.7,426.3 L204.7,426.3 L208.62,426.3 L208.62,426.3 L212.54,426.3 L212.54,426.3 L216.46,426.3 L216.46,426.3 L218.3,426.3" fill="none" stroke="#000" stroke-width="1.3"/>
<path d="M38.5,426.3 L36.14,426.3 L36.14,426.3 L40.06,426.3 L40.06,426.3 L43.98,426.3 L43.98,426.3 L47.9,426.3 L47.9,426.3 L51.82,426.3 L51.82,426.3 L55.74,426.3 L55.74,426.3 L59.66,426.3 L59.66,426.3 L63.58,426.3 L63.58,425.3 L67.5,425.3 L67.5,425.3 L71.42,425.3 L71.42,424 L75.34,424 L75.34,419.3 L79.26,419.3 L79.26,414 L83.18,414 L83.18,394.7 L87.1,394.7 L87.1,382 L91.02,382 L91.02,315.6 L94.94,315.6 L94.94,331.6 L98.86,331.6 L98.86,399.4 L102.78,399.4 L102.78,423.5 L106.7,423.5 L106.7,424 L110.62,424 L110.62,426.3 L114.54,426.3 L114.54,426.3 L118.46,426.3 L118.46,426.3 L122.38,426.3 L122.38,426.3 L126.3,426.3 L126.3,426.3 L130.22,426.3 L130.22,426.3 L134.14,426.3 L134.14,426.3 L138.06,426.3 L138.06,426.3 L141.98,426.3 L141.98,426.3 L145.9,426.3 L145.9,426.3 L149.82,426.3 L149.82,426.3 L153.74,426.3 L153.74,426.3 L157.66,426.3 L157.66,426.3 L161.58,426.3 L161.58,426.3 L165.5,426.3 L165.5,426.3 L169.42,426.3 L169.42,426.3 L173.34,426.3 L173.34,426.3 L177.26,426.3 L177.26,426.3 L181.18,426.3 L181.18,426.3 L185.1,426.3 L185.1,426.3 L189.02,426.3 L189.02,426.3 L192.94,426.3 L192.94,426.3 L196.86,426.3 L196.86,426.3 L200.78,426.3 L200.78,426.3 L204.7,426.3 L204.7,426.3 L208.62,426.3 L208.62,426.3 L212.54,426.3 L212.54,426.3 L216.46,426.3 L216.46,426.3 L218.3,426.3" fill="none" stroke="#f00" stroke-width="1.3"/>
<path d="M38.5,426.3 L36.14,426.3 L36.14,426.3 L40.06,426.3 L40.06,426.3 L43.98,426.3 L43.98,426.3 L47.9,426.3 L47.9,426.3 L51.82,426.3 L51.82,426.3 L55.74,426.3 L55.74,426.3 L59.66,426.3 L59.66,426.3 L63.58,426.3 L63.58,426.3 L67.5,426.3 L67.5,426.3 L71.42,426.3 L71.42,426.3 L75.34,426.3 L75.34,426.3 L79.26,426.3 L79.26,426.3 L83.18,426.3 L83.18,426.3 L87.1,426.3 L87.1,426.3 L91.02,426.3 L91.02,426.3 L94.94,426.3 L94.94,426.3 L98.86,426.3 L98.86,426.3 L102.78,426.3 L102.78,420.6 L106.7,420.6 L106.7,419.6 L110.62,419.6 L110.62,416.3 L114.54,416.3 L114.54,412 L118.46,412 L118.46,403.7 L122.38,403.7 L122.38,401 L126.3,401 L126.3,398.9 L130.22,398.9 L130.22,405.1 L134.14,405.1 L134.14,398.4 L138.06,398.4 L138.06,406.9 L141.98,406.9 L141.98,401.9 L145.9,401.9 L145.9,401.6 L149.82,401.6 L149.82,406.5 L153.74,406.5 L153.74,405 L157.66,405 L157.66,411.3 L161.58,411.3 L161.58,408 L165.5,408 L165.5,413.3 L169.42,413.3 L169.42,420.7 L173.34,420.7 L173.34,422 L177.26,422 L177.26,420 L181.18,420 L181.18,415.7 L185.1,415.7 L185.1,425.3 L189.02,425.3 L189.02,424.3 L192.94,424.3 L192.94,426.3 L196.86,426.3 L196.86,425.3 L200.78,425.3 L200.78,426.3 L204.7,426.3 L204.7,425.3 L208.62,425.3 L208.62,426.3 L212.54,426.3 L212.54,426.3 L216.46,426.3 L216.46,426.3 L218.3,426.3" fill="none" stroke="#1a8c1a" stroke-width="1.3"/>
<path d="M38.5,426.3 L36.14,426.3 L36.14,426.3 L40.06,426.3 L40.06,426.3 L43.98,426.3 L43.98,426.3 L47.9,426.3 L47.9,426.3 L51.82,426.3 L51.82,426.3 L55.74,426.3 L55.74,426.3 L59.66,426.3 L59.66,426.3 L63.58,426.3 L63.58,426.3 L67.5,426.3 L67.5,426.3 L71.42,426.3 L71.42,426.3 L75.34,426.3 L75.34,426.3 L79.26,426.3 L79.26,426.3 L83.18,426.3 L83.18,426.3 L87.1,426.3 L87.1,426.3 L91.02,426.3 L91.02,426.3 L94.94,426.3 L94.94,426.3 L98.86,426.3 L98.86,423 L102.78,423 L102.78,424 L106.7,424 L106.7,424 L110.62,424 L110.62,416.3 L114.54,416.3 L114.54,414.8 L118.46,414.8 L118.46,409 L122.38,409 L122.38,406.2 L126.3,406.2 L126.3,405.1 L130.22,405.1 L130.22,389.5 L134.14,389.5 L134.14,391.8 L138.06,391.8 L138.06,397.6 L141.98,397.6 L141.98,390.5 L145.9,390.5 L145.9,397.6 L149.82,397.6 L149.82,402.4 L153.74,402.4 L153.74,406.5 L157.66,406.5 L157.66,405 L161.58,405 L161.58,420 L165.5,420 L165.5,422 L169.42,422 L169.42,425.3 L173.34,425.3 L173.34,423.3 L177.26,423.3 L177.26,426.3 L181.18,426.3 L181.18,426.3 L185.1,426.3 L185.1,426.3 L189.02,426.3 L189.02,426.3 L192.94,426.3 L192.94,426.3 L196.86,426.3 L196.86,426.3 L200.78,426.3 L200.78,426.3 L204.7,426.3 L204.7,426.3 L208.62,426.3 L208.62,426.3 L212.54,426.3 L212.54,426.3 L216.46,426.3 L216.46,426.3 L218.3,426.3" fill="none" stroke="#00f" stroke-width="1.3"/>
</g>
<line x1="91" y1="253.2" x2="91" y2="426.3" stroke="#ff3030" stroke-width="1.2" stroke-dasharray="2.7 2.8" stroke-dashoffset="1.35"/>
<line x1="91.1" y1="253.2" x2="91.1" y2="426.3" stroke="#ff3030" stroke-width="1.2" stroke-dasharray="2.7 2.8" stroke-dashoffset="1.35"/>
<line x1="139.1" y1="253.2" x2="139.1" y2="426.3" stroke="#2a9a2a" stroke-width="1.2" stroke-dasharray="2.7 2.8" stroke-dashoffset="1.35"/>
<line x1="137.4" y1="253.2" x2="137.4" y2="426.3" stroke="#4444ff" stroke-width="1.2" stroke-dasharray="2.7 2.8" stroke-dashoffset="1.35"/>
<path d="M85.5,264.2 H96.6 M85.5,262 v4.4 M96.6,262 v4.4" stroke="#555" stroke-width="1.3" fill="none"/>
<path d="M87.3,262.3 H94.7 M87.3,260.1 v4.4 M94.7,260.1 v4.4" stroke="#ff4500" stroke-width="1.3" fill="none"/>
<path d="M123.8,264.4 H154.6 M123.8,262.2 v4.4 M154.6,262.2 v4.4" stroke="#229922" stroke-width="1.3" fill="none"/>
<path d="M127.4,262.3 H147.2 M127.4,260.1 v4.4 M147.2,260.1 v4.4" stroke="#4169e1" stroke-width="1.3" fill="none"/>
<path d="M41.98,426.3 v-3 M41.98,252.6 v3 M45.9,426.3 v-3 M45.9,252.6 v3 M49.82,426.3 v-3 M49.82,252.6 v3 M53.74,426.3 v-3 M53.74,252.6 v3 M57.66,426.3 v-3 M57.66,252.6 v3 M61.58,426.3 v-3 M61.58,252.6 v3 M65.5,426.3 v-6.4 M65.5,252.6 v6.4 M69.42,426.3 v-3 M69.42,252.6 v3 M73.34,426.3 v-3 M73.34,252.6 v3 M77.26,426.3 v-3 M77.26,252.6 v3 M81.18,426.3 v-3 M81.18,252.6 v3 M85.1,426.3 v-3 M85.1,252.6 v3 M89.02,426.3 v-3 M89.02,252.6 v3 M92.94,426.3 v-3 M92.94,252.6 v3 M96.86,426.3 v-3 M96.86,252.6 v3 M100.78,426.3 v-3 M100.78,252.6 v3 M104.7,426.3 v-6.4 M104.7,252.6 v6.4 M108.62,426.3 v-3 M108.62,252.6 v3 M112.54,426.3 v-3 M112.54,252.6 v3 M116.46,426.3 v-3 M116.46,252.6 v3 M120.38,426.3 v-3 M120.38,252.6 v3 M124.3,426.3 v-3 M124.3,252.6 v3 M128.22,426.3 v-3 M128.22,252.6 v3 M132.14,426.3 v-3 M132.14,252.6 v3 M136.06,426.3 v-3 M136.06,252.6 v3 M139.98,426.3 v-3 M139.98,252.6 v3 M143.9,426.3 v-6.4 M143.9,252.6 v6.4 M147.82,426.3 v-3 M147.82,252.6 v3 M151.74,426.3 v-3 M151.74,252.6 v3 M155.66,426.3 v-3 M155.66,252.6 v3 M159.58,426.3 v-3 M159.58,252.6 v3 M163.5,426.3 v-3 M163.5,252.6 v3 M167.42,426.3 v-3 M167.42,252.6 v3 M171.34,426.3 v-3 M171.34,252.6 v3 M175.26,426.3 v-3 M175.26,252.6 v3 M179.18,426.3 v-3 M179.18,252.6 v3 M183.1,426.3 v-6.4 M183.1,252.6 v6.4 M187.02,426.3 v-3 M187.02,252.6 v3 M190.94,426.3 v-3 M190.94,252.6 v3 M194.86,426.3 v-3 M194.86,252.6 v3 M198.78,426.3 v-3 M198.78,252.6 v3 M202.7,426.3 v-3 M202.7,252.6 v3 M206.62,426.3 v-3 M206.62,252.6 v3 M210.54,426.3 v-3 M210.54,252.6 v3 M214.46,426.3 v-3 M214.46,252.6 v3 M38.2,422.96 h1.8 M218.3,422.96 h-1.8 M38.2,419.62 h1.8 M218.3,419.62 h-1.8 M38.2,416.28 h1.8 M218.3,416.28 h-1.8 M38.2,412.94 h1.8 M218.3,412.94 h-1.8 M38.2,409.6 h1.8 M218.3,409.6 h-1.8 M38.2,406.26 h1.8 M218.3,406.26 h-1.8 M38.2,402.92 h1.8 M218.3,402.92 h-1.8 M38.2,399.58 h1.8 M218.3,399.58 h-1.8 M38.2,396.24 h1.8 M218.3,396.24 h-1.8 M38.2,392.9 h3 M218.3,392.9 h-3 M38.2,389.56 h1.8 M218.3,389.56 h-1.8 M38.2,386.22 h1.8 M218.3,386.22 h-1.8 M38.2,382.88 h1.8 M218.3,382.88 h-1.8 M38.2,379.54 h1.8 M218.3,379.54 h-1.8 M38.2,376.2 h1.8 M218.3,376.2 h-1.8 M38.2,372.86 h1.8 M218.3,372.86 h-1.8 M38.2,369.52 h1.8 M218.3,369.52 h-1.8 M38.2,366.18 h1.8 M218.3,366.18 h-1.8 M38.2,362.84 h1.8 M218.3,362.84 h-1.8 M38.2,359.5 h3 M218.3,359.5 h-3 M38.2,356.16 h1.8 M218.3,356.16 h-1.8 M38.2,352.82 h1.8 M218.3,352.82 h-1.8 M38.2,349.48 h1.8 M218.3,349.48 h-1.8 M38.2,346.14 h1.8 M218.3,346.14 h-1.8 M38.2,342.8 h1.8 M218.3,342.8 h-1.8 M38.2,339.46 h1.8 M218.3,339.46 h-1.8 M38.2,336.12 h1.8 M218.3,336.12 h-1.8 M38.2,332.78 h1.8 M218.3,332.78 h-1.8 M38.2,329.44 h1.8 M218.3,329.44 h-1.8 M38.2,326.1 h3 M218.3,326.1 h-3 M38.2,322.76 h1.8 M218.3,322.76 h-1.8 M38.2,319.42 h1.8 M218.3,319.42 h-1.8 M38.2,316.08 h1.8 M218.3,316.08 h-1.8 M38.2,312.74 h1.8 M218.3,312.74 h-1.8 M38.2,309.4 h1.8 M218.3,309.4 h-1.8 M38.2,306.06 h1.8 M218.3,306.06 h-1.8 M38.2,302.72 h1.8 M218.3,302.72 h-1.8 M38.2,299.38 h1.8 M218.3,299.38 h-1.8 M38.2,296.04 h1.8 M218.3,296.04 h-1.8 M38.2,292.7 h3 M218.3,292.7 h-3 M38.2,289.36 h1.8 M218.3,289.36 h-1.8 M38.2,286.02 h1.8 M218.3,286.02 h-1.8 M38.2,282.68 h1.8 M218.3,282.68 h-1.8 M38.2,279.34 h1.8 M218.3,279.34 h-1.8 M38.2,276 h1.8 M218.3,276 h-1.8 M38.2,272.66 h1.8 M218.3,272.66 h-1.8 M38.2,269.32 h1.8 M218.3,269.32 h-1.8 M38.2,265.98 h1.8 M218.3,265.98 h-1.8 M38.2,262.64 h1.8 M218.3,262.64 h-1.8 M38.2,259.3 h3 M218.3,259.3 h-3 M38.2,255.96 h1.8 M218.3,255.96 h-1.8" stroke="#969696" stroke-width="1.2" fill="none"/>
<text x="45.7" y="271.3" font-family='"Liberation Serif", serif' font-size="10.4" fill="#1a1a1a">(e)</text>
<text x="46.1" y="287.6" font-family='"Liberation Serif", serif' font-size="10.4" fill="#1a1a1a">D<tspan font-size="7" dy="3.0" fill="#4a4a4a" style="stroke:none">in</tspan><tspan dy="-3.0">= 0.19</tspan></text>
<text x="168.9" y="287.8" font-family='"Liberation Serif", serif' font-size="10.4" fill="#1a1a1a">D<tspan font-size="7" dy="3.0" fill="#4a4a4a" style="stroke:none">tr</tspan><tspan dy="-3.0">= 0.15</tspan></text>
<text x="65.5" y="436.9" font-family='"Liberation Serif", serif' font-size="10.4" fill="#1a1a1a" text-anchor="middle">-1.0</text>
<text x="104.7" y="436.9" font-family='"Liberation Serif", serif' font-size="10.4" fill="#1a1a1a" text-anchor="middle">-2.0</text>
<text x="143.9" y="436.9" font-family='"Liberation Serif", serif' font-size="10.4" fill="#1a1a1a" text-anchor="middle">-3.0</text>
<text x="183.1" y="436.9" font-family='"Liberation Serif", serif' font-size="10.4" fill="#1a1a1a" text-anchor="middle">-4.0</text>
<text x="128.25" y="446.8" font-family='"Liberation Serif", serif' font-size="10.4" fill="#1a1a1a" text-anchor="middle">Spectral index</text>
<rect x="218.35" y="252.6" width="180.1" height="173.7" fill="none" stroke="#a6a6a6" stroke-width="1.2"/>
<g clip-path="url(#cb1)">
<path d="M218.65,426.3 L216.29,426.3 L216.29,426.3 L220.21,426.3 L220.21,426.3 L224.13,426.3 L224.13,426.3 L228.05,426.3 L228.05,426.3 L231.97,426.3 L231.97,426.3 L235.89,426.3 L235.89,426.3 L239.81,426.3 L239.81,423.3 L243.73,423.3 L243.73,426.3 L247.65,426.3 L247.65,424 L251.57,424 L251.57,424 L255.49,424 L255.49,423.3 L259.41,423.3 L259.41,422.7 L263.33,422.7 L263.33,408.7 L267.25,408.7 L267.25,388 L271.17,388 L271.17,331.3 L275.09,331.3 L275.09,346.1 L279.01,346.1 L279.01,361.1 L282.93,361.1 L282.93,414 L286.85,414 L286.85,414 L290.77,414 L290.77,423.3 L294.69,423.3 L294.69,424 L298.61,424 L298.61,426.3 L302.53,426.3 L302.53,426.3 L306.45,426.3 L306.45,426.3 L310.37,426.3 L310.37,426.3 L314.29,426.3 L314.29,426.3 L318.21,426.3 L318.21,426.3 L322.13,426.3 L322.13,426.3 L326.05,426.3 L326.05,426.3 L329.97,426.3 L329.97,426.3 L333.89,426.3 L333.89,426.3 L337.81,426.3 L337.81,426.3 L341.73,426.3 L341.73,426.3 L345.65,426.3 L345.65,426.3 L349.57,426.3 L349.57,426.3 L353.49,426.3 L353.49,426.3 L357.41,426.3 L357.41,426.3 L361.33,426.3 L361.33,426.3 L365.25,426.3 L365.25,426.3 L369.17,426.3 L369.17,426.3 L373.09,426.3 L373.09,426.3 L377.01,426.3 L377.01,426.3 L380.93,426.3 L380.93,426.3 L384.85,426.3 L384.85,426.3 L388.77,426.3 L388.77,426.3 L392.69,426.3 L392.69,426.3 L396.61,426.3 L396.61,426.3 L398.45,426.3" fill="none" stroke="#000" stroke-width="1.3"/>
<path d="M218.65,426.3 L216.29,426.3 L216.29,426.3 L220.21,426.3 L220.21,426.3 L224.13,426.3 L224.13,426.3 L228.05,426.3 L228.05,426.3 L231.97,426.3 L231.97,426.3 L235.89,426.3 L235.89,426.3 L239.81,426.3 L239.81,426.3 L243.73,426.3 L243.73,426.3 L247.65,426.3 L247.65,426.3 L251.57,426.3 L251.57,426.3 L255.49,426.3 L255.49,423.3 L259.41,423.3 L259.41,420.4 L263.33,420.4 L263.33,413 L267.25,413 L267.25,370 L271.17,370 L271.17,325.6 L275.09,325.6 L275.09,325.6 L279.01,325.6 L279.01,378.9 L282.93,378.9 L282.93,417 L286.85,417 L286.85,426.3 L290.77,426.3 L290.77,426.3 L294.69,426.3 L294.69,426.3 L298.61,426.3 L298.61,426.3 L302.53,426.3 L302.53,426.3 L306.45,426.3 L306.45,426.3 L310.37,426.3 L310.37,426.3 L314.29,426.3 L314.29,426.3 L318.21,426.3 L318.21,426.3 L322.13,426.3 L322.13,426.3 L326.05,426.3 L326.05,426.3 L329.97,426.3 L329.97,426.3 L333.89,426.3 L333.89,426.3 L337.81,426.3 L337.81,426.3 L341.73,426.3 L341.73,426.3 L345.65,426.3 L345.65,426.3 L349.57,426.3 L349.57,426.3 L353.49,426.3 L353.49,426.3 L357.41,426.3 L357.41,426.3 L361.33,426.3 L361.33,426.3 L365.25,426.3 L365.25,426.3 L369.17,426.3 L369.17,426.3 L373.09,426.3 L373.09,426.3 L377.01,426.3 L377.01,426.3 L380.93,426.3 L380.93,426.3 L384.85,426.3 L384.85,426.3 L388.77,426.3 L388.77,426.3 L392.69,426.3 L392.69,426.3 L396.61,426.3 L396.61,426.3 L398.45,426.3" fill="none" stroke="#f00" stroke-width="1.3"/>
<path d="M218.65,426.3 L216.29,426.3 L216.29,426.3 L220.21,426.3 L220.21,426.3 L224.13,426.3 L224.13,426.3 L228.05,426.3 L228.05,426.3 L231.97,426.3 L231.97,426.3 L235.89,426.3 L235.89,426.3 L239.81,426.3 L239.81,426.3 L243.73,426.3 L243.73,426.3 L247.65,426.3 L247.65,426.3 L251.57,426.3 L251.57,426.3 L255.49,426.3 L255.49,426.3 L259.41,426.3 L259.41,426.3 L263.33,426.3 L263.33,426.3 L267.25,426.3 L267.25,426.3 L271.17,426.3 L271.17,426.3 L275.09,426.3 L275.09,426.3 L279.01,426.3 L279.01,426.3 L282.93,426.3 L282.93,426.3 L286.85,426.3 L286.85,426.3 L290.77,426.3 L290.77,426.3 L294.69,426.3 L294.69,426.3 L298.61,426.3 L298.61,423.8 L302.53,423.8 L302.53,426.3 L306.45,426.3 L306.45,409 L310.37,409 L310.37,405.1 L314.29,405.1 L314.29,410.5 L318.21,410.5 L318.21,417.5 L322.13,417.5 L322.13,408.2 L326.05,408.2 L326.05,402.5 L329.97,402.5 L329.97,391 L333.89,391 L333.89,403 L337.81,403 L337.81,397 L341.73,397 L341.73,394 L345.65,394 L345.65,379.3 L349.57,379.3 L349.57,400 L353.49,400 L353.49,420.4 L357.41,420.4 L357.41,417.3 L361.33,417.3 L361.33,420.4 L365.25,420.4 L365.25,424 L369.17,424 L369.17,426.3 L373.09,426.3 L373.09,424 L377.01,424 L377.01,426.3 L380.93,426.3 L380.93,426.3 L384.85,426.3 L384.85,424 L388.77,424 L388.77,426.3 L392.69,426.3 L392.69,426.3 L396.61,426.3 L396.61,426.3 L398.45,426.3" fill="none" stroke="#1a8c1a" stroke-width="1.3"/>
<path d="M218.65,426.3 L216.29,426.3 L216.29,426.3 L220.21,426.3 L220.21,426.3 L224.13,426.3 L224.13,426.3 L228.05,426.3 L228.05,426.3 L231.97,426.3 L231.97,426.3 L235.89,426.3 L235.89,426.3 L239.81,426.3 L239.81,426.3 L243.73,426.3 L243.73,426.3 L247.65,426.3 L247.65,426.3 L251.57,426.3 L251.57,426.3 L255.49,426.3 L255.49,426.3 L259.41,426.3 L259.41,426.3 L263.33,426.3 L263.33,426.3 L267.25,426.3 L267.25,426.3 L271.17,426.3 L271.17,426.3 L275.09,426.3 L275.09,426.3 L279.01,426.3 L279.01,426.3 L282.93,426.3 L282.93,426.3 L286.85,426.3 L286.85,426.3 L290.77,426.3 L290.77,426.3 L294.69,426.3 L294.69,426.3 L298.61,426.3 L298.61,426.3 L302.53,426.3 L302.53,420.3 L306.45,420.3 L306.45,420.3 L310.37,420.3 L310.37,399.7 L314.29,399.7 L314.29,379.4 L318.21,379.4 L318.21,367 L322.13,367 L322.13,379.4 L326.05,379.4 L326.05,397 L329.97,397 L329.97,370 L333.89,370 L333.89,402 L337.81,402 L337.81,415 L341.73,415 L341.73,411 L345.65,411 L345.65,423 L349.57,423 L349.57,426.3 L353.49,426.3 L353.49,426.3 L357.41,426.3 L357.41,426.3 L361.33,426.3 L361.33,426.3 L365.25,426.3 L365.25,426.3 L369.17,426.3 L369.17,426.3 L373.09,426.3 L373.09,426.3 L377.01,426.3 L377.01,426.3 L380.93,426.3 L380.93,426.3 L384.85,426.3 L384.85,426.3 L388.77,426.3 L388.77,426.3 L392.69,426.3 L392.69,426.3 L396.61,426.3 L396.61,426.3 L398.45,426.3" fill="none" stroke="#00f" stroke-width="1.3"/>
</g>
<line x1="273" y1="253.2" x2="273" y2="426.3" stroke="#402020" stroke-width="1.2" stroke-dasharray="2.7 2.8" stroke-dashoffset="1.35"/>
<line x1="273.6" y1="253.2" x2="273.6" y2="426.3" stroke="#a02020" stroke-width="1.2" stroke-dasharray="2.7 2.8" stroke-dashoffset="1.35"/>
<line x1="335.8" y1="253.2" x2="335.8" y2="426.3" stroke="#2a9a2a" stroke-width="1.2" stroke-dasharray="2.7 2.8" stroke-dashoffset="1.35"/>
<line x1="321.7" y1="253.2" x2="321.7" y2="426.3" stroke="#4444ff" stroke-width="1.2" stroke-dasharray="2.7 2.8" stroke-dashoffset="1.35"/>
<path d="M269.3,264.5 H277.5 M269.3,262.3 v4.4 M277.5,262.3 v4.4" stroke="#555" stroke-width="1.3" fill="none"/>
<path d="M269.3,261.9 H277 M269.3,259.7 v4.4 M277,259.7 v4.4" stroke="#ff4500" stroke-width="1.3" fill="none"/>
<path d="M325,264.5 H346.7 M325,262.3 v4.4 M346.7,262.3 v4.4" stroke="#229922" stroke-width="1.3" fill="none"/>
<path d="M314.4,261.9 H328.9 M314.4,259.7 v4.4 M328.9,259.7 v4.4" stroke="#4169e1" stroke-width="1.3" fill="none"/>
<path d="M222.13,426.3 v-3 M222.13,252.6 v3 M226.05,426.3 v-3 M226.05,252.6 v3 M229.97,426.3 v-3 M229.97,252.6 v3 M233.89,426.3 v-3 M233.89,252.6 v3 M237.81,426.3 v-3 M237.81,252.6 v3 M241.73,426.3 v-3 M241.73,252.6 v3 M245.65,426.3 v-6.4 M245.65,252.6 v6.4 M249.57,426.3 v-3 M249.57,252.6 v3 M253.49,426.3 v-3 M253.49,252.6 v3 M257.41,426.3 v-3 M257.41,252.6 v3 M261.33,426.3 v-3 M261.33,252.6 v3 M265.25,426.3 v-3 M265.25,252.6 v3 M269.17,426.3 v-3 M269.17,252.6 v3 M273.09,426.3 v-3 M273.09,252.6 v3 M277.01,426.3 v-3 M277.01,252.6 v3 M280.93,426.3 v-3 M280.93,252.6 v3 M284.85,426.3 v-6.4 M284.85,252.6 v6.4 M288.77,426.3 v-3 M288.77,252.6 v3 M292.69,426.3 v-3 M292.69,252.6 v3 M296.61,426.3 v-3 M296.61,252.6 v3 M300.53,426.3 v-3 M300.53,252.6 v3 M304.45,426.3 v-3 M304.45,252.6 v3 M308.37,426.3 v-3 M308.37,252.6 v3 M312.29,426.3 v-3 M312.29,252.6 v3 M316.21,426.3 v-3 M316.21,252.6 v3 M320.13,426.3 v-3 M320.13,252.6 v3 M324.05,426.3 v-6.4 M324.05,252.6 v6.4 M327.97,426.3 v-3 M327.97,252.6 v3 M331.89,426.3 v-3 M331.89,252.6 v3 M335.81,426.3 v-3 M335.81,252.6 v3 M339.73,426.3 v-3 M339.73,252.6 v3 M343.65,426.3 v-3 M343.65,252.6 v3 M347.57,426.3 v-3 M347.57,252.6 v3 M351.49,426.3 v-3 M351.49,252.6 v3 M355.41,426.3 v-3 M355.41,252.6 v3 M359.33,426.3 v-3 M359.33,252.6 v3 M363.25,426.3 v-6.4 M363.25,252.6 v6.4 M367.17,426.3 v-3 M367.17,252.6 v3 M371.09,426.3 v-3 M371.09,252.6 v3 M375.01,426.3 v-3 M375.01,252.6 v3 M378.93,426.3 v-3 M378.93,252.6 v3 M382.85,426.3 v-3 M382.85,252.6 v3 M386.77,426.3 v-3 M386.77,252.6 v3 M390.69,426.3 v-3 M390.69,252.6 v3 M394.61,426.3 v-3 M394.61,252.6 v3 M218.35,422.96 h1.8 M398.45,422.96 h-1.8 M218.35,419.62 h1.8 M398.45,419.62 h-1.8 M218.35,416.28 h1.8 M398.45,416.28 h-1.8 M218.35,412.94 h1.8 M398.45,412.94 h-1.8 M218.35,409.6 h1.8 M398.45,409.6 h-1.8 M218.35,406.26 h1.8 M398.45,406.26 h-1.8 M218.35,402.92 h1.8 M398.45,402.92 h-1.8 M218.35,399.58 h1.8 M398.45,399.58 h-1.8 M218.35,396.24 h1.8 M398.45,396.24 h-1.8 M218.35,392.9 h3 M398.45,392.9 h-3 M218.35,389.56 h1.8 M398.45,389.56 h-1.8 M218.35,386.22 h1.8 M398.45,386.22 h-1.8 M218.35,382.88 h1.8 M398.45,382.88 h-1.8 M218.35,379.54 h1.8 M398.45,379.54 h-1.8 M218.35,376.2 h1.8 M398.45,376.2 h-1.8 M218.35,372.86 h1.8 M398.45,372.86 h-1.8 M218.35,369.52 h1.8 M398.45,369.52 h-1.8 M218.35,366.18 h1.8 M398.45,366.18 h-1.8 M218.35,362.84 h1.8 M398.45,362.84 h-1.8 M218.35,359.5 h3 M398.45,359.5 h-3 M218.35,356.16 h1.8 M398.45,356.16 h-1.8 M218.35,352.82 h1.8 M398.45,352.82 h-1.8 M218.35,349.48 h1.8 M398.45,349.48 h-1.8 M218.35,346.14 h1.8 M398.45,346.14 h-1.8 M218.35,342.8 h1.8 M398.45,342.8 h-1.8 M218.35,339.46 h1.8 M398.45,339.46 h-1.8 M218.35,336.12 h1.8 M398.45,336.12 h-1.8 M218.35,332.78 h1.8 M398.45,332.78 h-1.8 M218.35,329.44 h1.8 M398.45,329.44 h-1.8 M218.35,326.1 h3 M398.45,326.1 h-3 M218.35,322.76 h1.8 M398.45,322.76 h-1.8 M218.35,319.42 h1.8 M398.45,319.42 h-1.8 M218.35,316.08 h1.8 M398.45,316.08 h-1.8 M218.35,312.74 h1.8 M398.45,312.74 h-1.8 M218.35,309.4 h1.8 M398.45,309.4 h-1.8 M218.35,306.06 h1.8 M398.45,306.06 h-1.8 M218.35,302.72 h1.8 M398.45,302.72 h-1.8 M218.35,299.38 h1.8 M398.45,299.38 h-1.8 M218.35,296.04 h1.8 M398.45,296.04 h-1.8 M218.35,292.7 h3 M398.45,292.7 h-3 M218.35,289.36 h1.8 M398.45,289.36 h-1.8 M218.35,286.02 h1.8 M398.45,286.02 h-1.8 M218.35,282.68 h1.8 M398.45,282.68 h-1.8 M218.35,279.34 h1.8 M398.45,279.34 h-1.8 M218.35,276 h1.8 M398.45,276 h-1.8 M218.35,272.66 h1.8 M398.45,272.66 h-1.8 M218.35,269.32 h1.8 M398.45,269.32 h-1.8 M218.35,265.98 h1.8 M398.45,265.98 h-1.8 M218.35,262.64 h1.8 M398.45,262.64 h-1.8 M218.35,259.3 h3 M398.45,259.3 h-3 M218.35,255.96 h1.8 M398.45,255.96 h-1.8" stroke="#969696" stroke-width="1.2" fill="none"/>
<text x="225.85" y="271.3" font-family='"Liberation Serif", serif' font-size="10.4" fill="#1a1a1a">(f)</text>
<text x="226.25" y="287.6" font-family='"Liberation Serif", serif' font-size="10.4" fill="#1a1a1a">D<tspan font-size="7" dy="3.0" fill="#4a4a4a" style="stroke:none">in</tspan><tspan dy="-3.0">= 0.11</tspan></text>
<text x="349.05" y="287.8" font-family='"Liberation Serif", serif' font-size="10.4" fill="#1a1a1a">D<tspan font-size="7" dy="3.0" fill="#4a4a4a" style="stroke:none">tr</tspan><tspan dy="-3.0">= 0.43</tspan></text>
<text x="245.65" y="436.9" font-family='"Liberation Serif", serif' font-size="10.4" fill="#1a1a1a" text-anchor="middle">-1.0</text>
<text x="284.85" y="436.9" font-family='"Liberation Serif", serif' font-size="10.4" fill="#1a1a1a" text-anchor="middle">-2.0</text>
<text x="324.05" y="436.9" font-family='"Liberation Serif", serif' font-size="10.4" fill="#1a1a1a" text-anchor="middle">-3.0</text>
<text x="363.25" y="436.9" font-family='"Liberation Serif", serif' font-size="10.4" fill="#1a1a1a" text-anchor="middle">-4.0</text>
<text x="308.4" y="446.8" font-family='"Liberation Serif", serif' font-size="10.4" fill="#1a1a1a" text-anchor="middle">Spectral index</text>
<rect x="398.5" y="252.6" width="180.1" height="173.7" fill="none" stroke="#a6a6a6" stroke-width="1.2"/>
<g clip-path="url(#cb2)">
<path d="M398.8,426.3 L396.44,426.3 L396.44,426.3 L400.36,426.3 L400.36,426.3 L404.28,426.3 L404.28,426.3 L408.2,426.3 L408.2,426.3 L412.12,426.3 L412.12,426.3 L416.04,426.3 L416.04,426.3 L419.96,426.3 L419.96,426.3 L423.88,426.3 L423.88,420.5 L427.8,420.5 L427.8,423.5 L431.72,423.5 L431.72,423.5 L435.64,423.5 L435.64,423.5 L439.56,423.5 L439.56,395.4 L443.48,395.4 L443.48,389.5 L447.4,389.5 L447.4,364.9 L451.32,364.9 L451.32,350.1 L455.24,350.1 L455.24,364.9 L459.16,364.9 L459.16,392.1 L463.08,392.1 L463.08,414.4 L467,414.4 L467,426.3 L470.92,426.3 L470.92,426.3 L474.84,426.3 L474.84,426.3 L478.76,426.3 L478.76,426.3 L482.68,426.3 L482.68,426.3 L486.6,426.3 L486.6,426.3 L490.52,426.3 L490.52,426.3 L494.44,426.3 L494.44,426.3 L498.36,426.3 L498.36,426.3 L502.28,426.3 L502.28,426.3 L506.2,426.3 L506.2,426.3 L510.12,426.3 L510.12,426.3 L514.04,426.3 L514.04,426.3 L517.96,426.3 L517.96,426.3 L521.88,426.3 L521.88,426.3 L525.8,426.3 L525.8,426.3 L529.72,426.3 L529.72,426.3 L533.64,426.3 L533.64,426.3 L537.56,426.3 L537.56,426.3 L541.48,426.3 L541.48,426.3 L545.4,426.3 L545.4,426.3 L549.32,426.3 L549.32,426.3 L553.24,426.3 L553.24,426.3 L557.16,426.3 L557.16,426.3 L561.08,426.3 L561.08,426.3 L565,426.3 L565,426.3 L568.92,426.3 L568.92,426.3 L572.84,426.3 L572.84,426.3 L576.76,426.3 L576.76,426.3 L578.6,426.3" fill="none" stroke="#000" stroke-width="1.3"/>
<path d="M398.8,426.3 L396.44,426.3 L396.44,426.3 L400.36,426.3 L400.36,426.3 L404.28,426.3 L404.28,426.3 L408.2,426.3 L408.2,426.3 L412.12,426.3 L412.12,426.3 L416.04,426.3 L416.04,426.3 L419.96,426.3 L419.96,426.3 L423.88,426.3 L423.88,426.3 L427.8,426.3 L427.8,426.3 L431.72,426.3 L431.72,420.5 L435.64,420.5 L435.64,423.5 L439.56,423.5 L439.56,423.3 L443.48,423.3 L443.48,413.9 L447.4,413.9 L447.4,392.2 L451.32,392.2 L451.32,352.4 L455.24,352.4 L455.24,315.6 L459.16,315.6 L459.16,364.9 L463.08,364.9 L463.08,399 L467,399 L467,426.3 L470.92,426.3 L470.92,426.3 L474.84,426.3 L474.84,426.3 L478.76,426.3 L478.76,426.3 L482.68,426.3 L482.68,426.3 L486.6,426.3 L486.6,426.3 L490.52,426.3 L490.52,426.3 L494.44,426.3 L494.44,426.3 L498.36,426.3 L498.36,426.3 L502.28,426.3 L502.28,426.3 L506.2,426.3 L506.2,426.3 L510.12,426.3 L510.12,426.3 L514.04,426.3 L514.04,426.3 L517.96,426.3 L517.96,426.3 L521.88,426.3 L521.88,426.3 L525.8,426.3 L525.8,426.3 L529.72,426.3 L529.72,426.3 L533.64,426.3 L533.64,426.3 L537.56,426.3 L537.56,426.3 L541.48,426.3 L541.48,426.3 L545.4,426.3 L545.4,426.3 L549.32,426.3 L549.32,426.3 L553.24,426.3 L553.24,426.3 L557.16,426.3 L557.16,426.3 L561.08,426.3 L561.08,426.3 L565,426.3 L565,426.3 L568.92,426.3 L568.92,426.3 L572.84,426.3 L572.84,426.3 L576.76,426.3 L576.76,426.3 L578.6,426.3" fill="none" stroke="#f00" stroke-width="1.3"/>
<path d="M398.8,426.3 L396.44,426.3 L396.44,426.3 L400.36,426.3 L400.36,426.3 L404.28,426.3 L404.28,426.3 L408.2,426.3 L408.2,426.3 L412.12,426.3 L412.12,426.3 L416.04,426.3 L416.04,426.3 L419.96,426.3 L419.96,426.3 L423.88,426.3 L423.88,426.3 L427.8,426.3 L427.8,426.3 L431.72,426.3 L431.72,426.3 L435.64,426.3 L435.64,426.3 L439.56,426.3 L439.56,426.3 L443.48,426.3 L443.48,426.3 L447.4,426.3 L447.4,426.3 L451.32,426.3 L451.32,426.3 L455.24,426.3 L455.24,426.3 L459.16,426.3 L459.16,426.3 L463.08,426.3 L463.08,426.3 L467,426.3 L467,420 L470.92,420 L470.92,423.3 L474.84,423.3 L474.84,408.2 L478.76,408.2 L478.76,398.9 L482.68,398.9 L482.68,395.8 L486.6,395.8 L486.6,407.4 L490.52,407.4 L490.52,395.8 L494.44,395.8 L494.44,398.1 L498.36,398.1 L498.36,401.7 L502.28,401.7 L502.28,401.7 L506.2,401.7 L506.2,383.6 L510.12,383.6 L510.12,398.9 L514.04,398.9 L514.04,408.2 L517.96,408.2 L517.96,417.5 L521.88,417.5 L521.88,414.4 L525.8,414.4 L525.8,420.3 L529.72,420.3 L529.72,423.3 L533.64,423.3 L533.64,423.3 L537.56,423.3 L537.56,423.3 L541.48,423.3 L541.48,426.3 L545.4,426.3 L545.4,426.3 L549.32,426.3 L549.32,426.3 L553.24,426.3 L553.24,426.3 L557.16,426.3 L557.16,426.3 L561.08,426.3 L561.08,426.3 L565,426.3 L565,426.3 L568.92,426.3 L568.92,426.3 L572.84,426.3 L572.84,426.3 L576.76,426.3 L576.76,426.3 L578.6,426.3" fill="none" stroke="#1a8c1a" stroke-width="1.3"/>
<path d="M398.8,426.3 L396.44,426.3 L396.44,426.3 L400.36,426.3 L400.36,426.3 L404.28,426.3 L404.28,426.3 L408.2,426.3 L408.2,426.3 L412.12,426.3 L412.12,426.3 L416.04,426.3 L416.04,426.3 L419.96,426.3 L419.96,426.3 L423.88,426.3 L423.88,426.3 L427.8,426.3 L427.8,426.3 L431.72,426.3 L431.72,426.3 L435.64,426.3 L435.64,426.3 L439.56,426.3 L439.56,426.3 L443.48,426.3 L443.48,426.3 L447.4,426.3 L447.4,426.3 L451.32,426.3 L451.32,426.3 L455.24,426.3 L455.24,426.3 L459.16,426.3 L459.16,426.3 L463.08,426.3 L463.08,426.3 L467,426.3 L467,423.3 L470.92,423.3 L470.92,420 L474.84,420 L474.84,414.4 L478.76,414.4 L478.76,410.5 L482.68,410.5 L482.68,401.2 L486.6,401.2 L486.6,374.3 L490.52,374.3 L490.52,395.5 L494.44,395.5 L494.44,405.1 L498.36,405.1 L498.36,392.7 L502.28,392.7 L502.28,395.8 L506.2,395.8 L506.2,395.8 L510.12,395.8 L510.12,398.9 L514.04,398.9 L514.04,408.2 L517.96,408.2 L517.96,414.4 L521.88,414.4 L521.88,416.8 L525.8,416.8 L525.8,424 L529.72,424 L529.72,417.2 L533.64,417.2 L533.64,426.3 L537.56,426.3 L537.56,426.3 L541.48,426.3 L541.48,426.3 L545.4,426.3 L545.4,426.3 L549.32,426.3 L549.32,426.3 L553.24,426.3 L553.24,426.3 L557.16,426.3 L557.16,426.3 L561.08,426.3 L561.08,426.3 L565,426.3 L565,426.3 L568.92,426.3 L568.92,426.3 L572.84,426.3 L572.84,426.3 L576.76,426.3 L576.76,426.3 L578.6,426.3" fill="none" stroke="#00f" stroke-width="1.3"/>
</g>
<line x1="450.6" y1="253.2" x2="450.6" y2="426.3" stroke="#222" stroke-width="1.2" stroke-dasharray="2.7 2.8" stroke-dashoffset="1.35"/>
<line x1="455" y1="253.2" x2="455" y2="426.3" stroke="#ff3030" stroke-width="1.2" stroke-dasharray="2.7 2.8" stroke-dashoffset="1.35"/>
<line x1="497" y1="253.2" x2="497" y2="426.3" stroke="#2a7a2a" stroke-width="1.2" stroke-dasharray="2.7 2.8" stroke-dashoffset="1.35"/>
<line x1="497.1" y1="253.2" x2="497.1" y2="426.3" stroke="#1a2a9a" stroke-width="1.2" stroke-dasharray="2.7 2.8" stroke-dashoffset="1.35"/>
<path d="M445.6,267.5 H455.6 M445.6,265.3 v4.4 M455.6,265.3 v4.4" stroke="#555" stroke-width="1.3" fill="none"/>
<path d="M451.3,265.6 H458.8 M451.3,263.4 v4.4 M458.8,263.4 v4.4" stroke="#ff4500" stroke-width="1.3" fill="none"/>
<path d="M485.6,264.1 H509.3 M485.6,261.9 v4.4 M509.3,261.9 v4.4" stroke="#229922" stroke-width="1.3" fill="none"/>
<path d="M486.2,262.3 H507.6 M486.2,260.1 v4.4 M507.6,260.1 v4.4" stroke="#4169e1" stroke-width="1.3" fill="none"/>
<path d="M402.28,426.3 v-3 M402.28,252.6 v3 M406.2,426.3 v-3 M406.2,252.6 v3 M410.12,426.3 v-3 M410.12,252.6 v3 M414.04,426.3 v-3 M414.04,252.6 v3 M417.96,426.3 v-3 M417.96,252.6 v3 M421.88,426.3 v-3 M421.88,252.6 v3 M425.8,426.3 v-6.4 M425.8,252.6 v6.4 M429.72,426.3 v-3 M429.72,252.6 v3 M433.64,426.3 v-3 M433.64,252.6 v3 M437.56,426.3 v-3 M437.56,252.6 v3 M441.48,426.3 v-3 M441.48,252.6 v3 M445.4,426.3 v-3 M445.4,252.6 v3 M449.32,426.3 v-3 M449.32,252.6 v3 M453.24,426.3 v-3 M453.24,252.6 v3 M457.16,426.3 v-3 M457.16,252.6 v3 M461.08,426.3 v-3 M461.08,252.6 v3 M465,426.3 v-6.4 M465,252.6 v6.4 M468.92,426.3 v-3 M468.92,252.6 v3 M472.84,426.3 v-3 M472.84,252.6 v3 M476.76,426.3 v-3 M476.76,252.6 v3 M480.68,426.3 v-3 M480.68,252.6 v3 M484.6,426.3 v-3 M484.6,252.6 v3 M488.52,426.3 v-3 M488.52,252.6 v3 M492.44,426.3 v-3 M492.44,252.6 v3 M496.36,426.3 v-3 M496.36,252.6 v3 M500.28,426.3 v-3 M500.28,252.6 v3 M504.2,426.3 v-6.4 M504.2,252.6 v6.4 M508.12,426.3 v-3 M508.12,252.6 v3 M512.04,426.3 v-3 M512.04,252.6 v3 M515.96,426.3 v-3 M515.96,252.6 v3 M519.88,426.3 v-3 M519.88,252.6 v3 M523.8,426.3 v-3 M523.8,252.6 v3 M527.72,426.3 v-3 M527.72,252.6 v3 M531.64,426.3 v-3 M531.64,252.6 v3 M535.56,426.3 v-3 M535.56,252.6 v3 M539.48,426.3 v-3 M539.48,252.6 v3 M543.4,426.3 v-6.4 M543.4,252.6 v6.4 M547.32,426.3 v-3 M547.32,252.6 v3 M551.24,426.3 v-3 M551.24,252.6 v3 M555.16,426.3 v-3 M555.16,252.6 v3 M559.08,426.3 v-3 M559.08,252.6 v3 M563,426.3 v-3 M563,252.6 v3 M566.92,426.3 v-3 M566.92,252.6 v3 M570.84,426.3 v-3 M570.84,252.6 v3 M574.76,426.3 v-3 M574.76,252.6 v3 M398.5,422.96 h1.8 M578.6,422.96 h-1.8 M398.5,419.62 h1.8 M578.6,419.62 h-1.8 M398.5,416.28 h1.8 M578.6,416.28 h-1.8 M398.5,412.94 h1.8 M578.6,412.94 h-1.8 M398.5,409.6 h1.8 M578.6,409.6 h-1.8 M398.5,406.26 h1.8 M578.6,406.26 h-1.8 M398.5,402.92 h1.8 M578.6,402.92 h-1.8 M398.5,399.58 h1.8 M578.6,399.58 h-1.8 M398.5,396.24 h1.8 M578.6,396.24 h-1.8 M398.5,392.9 h3 M578.6,392.9 h-3 M398.5,389.56 h1.8 M578.6,389.56 h-1.8 M398.5,386.22 h1.8 M578.6,386.22 h-1.8 M398.5,382.88 h1.8 M578.6,382.88 h-1.8 M398.5,379.54 h1.8 M578.6,379.54 h-1.8 M398.5,376.2 h1.8 M578.6,376.2 h-1.8 M398.5,372.86 h1.8 M578.6,372.86 h-1.8 M398.5,369.52 h1.8 M578.6,369.52 h-1.8 M398.5,366.18 h1.8 M578.6,366.18 h-1.8 M398.5,362.84 h1.8 M578.6,362.84 h-1.8 M398.5,359.5 h3 M578.6,359.5 h-3 M398.5,356.16 h1.8 M578.6,356.16 h-1.8 M398.5,352.82 h1.8 M578.6,352.82 h-1.8 M398.5,349.48 h1.8 M578.6,349.48 h-1.8 M398.5,346.14 h1.8 M578.6,346.14 h-1.8 M398.5,342.8 h1.8 M578.6,342.8 h-1.8 M398.5,339.46 h1.8 M578.6,339.46 h-1.8 M398.5,336.12 h1.8 M578.6,336.12 h-1.8 M398.5,332.78 h1.8 M578.6,332.78 h-1.8 M398.5,329.44 h1.8 M578.6,329.44 h-1.8 M398.5,326.1 h3 M578.6,326.1 h-3 M398.5,322.76 h1.8 M578.6,322.76 h-1.8 M398.5,319.42 h1.8 M578.6,319.42 h-1.8 M398.5,316.08 h1.8 M578.6,316.08 h-1.8 M398.5,312.74 h1.8 M578.6,312.74 h-1.8 M398.5,309.4 h1.8 M578.6,309.4 h-1.8 M398.5,306.06 h1.8 M578.6,306.06 h-1.8 M398.5,302.72 h1.8 M578.6,302.72 h-1.8 M398.5,299.38 h1.8 M578.6,299.38 h-1.8 M398.5,296.04 h1.8 M578.6,296.04 h-1.8 M398.5,292.7 h3 M578.6,292.7 h-3 M398.5,289.36 h1.8 M578.6,289.36 h-1.8 M398.5,286.02 h1.8 M578.6,286.02 h-1.8 M398.5,282.68 h1.8 M578.6,282.68 h-1.8 M398.5,279.34 h1.8 M578.6,279.34 h-1.8 M398.5,276 h1.8 M578.6,276 h-1.8 M398.5,272.66 h1.8 M578.6,272.66 h-1.8 M398.5,269.32 h1.8 M578.6,269.32 h-1.8 M398.5,265.98 h1.8 M578.6,265.98 h-1.8 M398.5,262.64 h1.8 M578.6,262.64 h-1.8 M398.5,259.3 h3 M578.6,259.3 h-3 M398.5,255.96 h1.8 M578.6,255.96 h-1.8" stroke="#969696" stroke-width="1.2" fill="none"/>
<text x="406" y="271.3" font-family='"Liberation Serif", serif' font-size="10.4" fill="#1a1a1a">(g)</text>
<text x="406.4" y="287.6" font-family='"Liberation Serif", serif' font-size="10.4" fill="#1a1a1a">D<tspan font-size="7" dy="3.0" fill="#4a4a4a" style="stroke:none">in</tspan><tspan dy="-3.0">= 0.30</tspan></text>
<text x="529.2" y="287.8" font-family='"Liberation Serif", serif' font-size="10.4" fill="#1a1a1a">D<tspan font-size="7" dy="3.0" fill="#4a4a4a" style="stroke:none">tr</tspan><tspan dy="-3.0">= 0.07</tspan></text>
<text x="425.8" y="436.9" font-family='"Liberation Serif", serif' font-size="10.4" fill="#1a1a1a" text-anchor="middle">-1.0</text>
<text x="465" y="436.9" font-family='"Liberation Serif", serif' font-size="10.4" fill="#1a1a1a" text-anchor="middle">-2.0</text>
<text x="504.2" y="436.9" font-family='"Liberation Serif", serif' font-size="10.4" fill="#1a1a1a" text-anchor="middle">-3.0</text>
<text x="543.4" y="436.9" font-family='"Liberation Serif", serif' font-size="10.4" fill="#1a1a1a" text-anchor="middle">-4.0</text>
<text x="488.55" y="446.8" font-family='"Liberation Serif", serif' font-size="10.4" fill="#1a1a1a" text-anchor="middle">Spectral index</text>
<rect x="578.6" y="252.6" width="180.1" height="173.7" fill="none" stroke="#a6a6a6" stroke-width="1.2"/>
<g clip-path="url(#cb3)">
<path d="M578.9,426.3 L576.54,426.3 L576.54,426.3 L580.46,426.3 L580.46,426.3 L584.38,426.3 L584.38,426.3 L588.3,426.3 L588.3,426.3 L592.22,426.3 L592.22,426.3 L596.14,426.3 L596.14,426.3 L600.06,426.3 L600.06,426.3 L603.98,426.3 L603.98,421.1 L607.9,421.1 L607.9,421.1 L611.82,421.1 L611.82,426.3 L615.74,426.3 L615.74,416 L619.66,416 L619.66,416 L623.58,416 L623.58,405.3 L627.5,405.3 L627.5,341.1 L631.42,341.1 L631.42,352 L635.34,352 L635.34,325.2 L639.26,325.2 L639.26,405.3 L643.18,405.3 L643.18,426.3 L647.1,426.3 L647.1,426.3 L651.02,426.3 L651.02,426.3 L654.94,426.3 L654.94,426.3 L658.86,426.3 L658.86,426.3 L662.78,426.3 L662.78,426.3 L666.7,426.3 L666.7,426.3 L670.62,426.3 L670.62,426.3 L674.54,426.3 L674.54,426.3 L678.46,426.3 L678.46,426.3 L682.38,426.3 L682.38,426.3 L686.3,426.3 L686.3,426.3 L690.22,426.3 L690.22,426.3 L694.14,426.3 L694.14,426.3 L698.06,426.3 L698.06,426.3 L701.98,426.3 L701.98,426.3 L705.9,426.3 L705.9,426.3 L709.82,426.3 L709.82,426.3 L713.74,426.3 L713.74,426.3 L717.66,426.3 L717.66,426.3 L721.58,426.3 L721.58,426.3 L725.5,426.3 L725.5,426.3 L729.42,426.3 L729.42,426.3 L733.34,426.3 L733.34,426.3 L737.26,426.3 L737.26,426.3 L741.18,426.3 L741.18,426.3 L745.1,426.3 L745.1,426.3 L749.02,426.3 L749.02,426.3 L752.94,426.3 L752.94,426.3 L756.86,426.3 L756.86,426.3 L758.7,426.3" fill="none" stroke="#000" stroke-width="1.3"/>
<path d="M578.9,426.3 L576.54,426.3 L576.54,426.3 L580.46,426.3 L580.46,426.3 L584.38,426.3 L584.38,426.3 L588.3,426.3 L588.3,426.3 L592.22,426.3 L592.22,426.3 L596.14,426.3 L596.14,426.3 L600.06,426.3 L600.06,426.3 L603.98,426.3 L603.98,426.3 L607.9,426.3 L607.9,426.3 L611.82,426.3 L611.82,426.3 L615.74,426.3 L615.74,421.1 L619.66,421.1 L619.66,426.3 L623.58,426.3 L623.58,400 L627.5,400 L627.5,389.3 L631.42,389.3 L631.42,356.7 L635.34,356.7 L635.34,320.1 L639.26,320.1 L639.26,351.7 L643.18,351.7 L643.18,410 L647.1,410 L647.1,426.3 L651.02,426.3 L651.02,426.3 L654.94,426.3 L654.94,426.3 L658.86,426.3 L658.86,426.3 L662.78,426.3 L662.78,426.3 L666.7,426.3 L666.7,426.3 L670.62,426.3 L670.62,426.3 L674.54,426.3 L674.54,426.3 L678.46,426.3 L678.46,426.3 L682.38,426.3 L682.38,426.3 L686.3,426.3 L686.3,426.3 L690.22,426.3 L690.22,426.3 L694.14,426.3 L694.14,426.3 L698.06,426.3 L698.06,426.3 L701.98,426.3 L701.98,426.3 L705.9,426.3 L705.9,426.3 L709.82,426.3 L709.82,426.3 L713.74,426.3 L713.74,426.3 L717.66,426.3 L717.66,426.3 L721.58,426.3 L721.58,426.3 L725.5,426.3 L725.5,426.3 L729.42,426.3 L729.42,426.3 L733.34,426.3 L733.34,426.3 L737.26,426.3 L737.26,426.3 L741.18,426.3 L741.18,426.3 L745.1,426.3 L745.1,426.3 L749.02,426.3 L749.02,426.3 L752.94,426.3 L752.94,426.3 L756.86,426.3 L756.86,426.3 L758.7,426.3" fill="none" stroke="#f00" stroke-width="1.3"/>
<path d="M578.9,426.3 L576.54,426.3 L576.54,426.3 L580.46,426.3 L580.46,426.3 L584.38,426.3 L584.38,426.3 L588.3,426.3 L588.3,426.3 L592.22,426.3 L592.22,426.3 L596.14,426.3 L596.14,426.3 L600.06,426.3 L600.06,426.3 L603.98,426.3 L603.98,426.3 L607.9,426.3 L607.9,426.3 L611.82,426.3 L611.82,426.3 L615.74,426.3 L615.74,426.3 L619.66,426.3 L619.66,426.3 L623.58,426.3 L623.58,426.3 L627.5,426.3 L627.5,426.3 L631.42,426.3 L631.42,426.3 L635.34,426.3 L635.34,426.3 L639.26,426.3 L639.26,426.3 L643.18,426.3 L643.18,426.3 L647.1,426.3 L647.1,426.3 L651.02,426.3 L651.02,415.2 L654.94,415.2 L654.94,389.2 L658.86,389.2 L658.86,400.4 L662.78,400.4 L662.78,373.7 L666.7,373.7 L666.7,405.1 L670.62,405.1 L670.62,389.2 L674.54,389.2 L674.54,373.7 L678.46,373.7 L678.46,410.5 L682.38,410.5 L682.38,405.1 L686.3,405.1 L686.3,394.5 L690.22,394.5 L690.22,426.3 L694.14,426.3 L694.14,426.3 L698.06,426.3 L698.06,416 L701.98,416 L701.98,426.3 L705.9,426.3 L705.9,426.3 L709.82,426.3 L709.82,410.3 L713.74,410.3 L713.74,426.3 L717.66,426.3 L717.66,426.3 L721.58,426.3 L721.58,426.3 L725.5,426.3 L725.5,426.3 L729.42,426.3 L729.42,426.3 L733.34,426.3 L733.34,426.3 L737.26,426.3 L737.26,426.3 L741.18,426.3 L741.18,426.3 L745.1,426.3 L745.1,426.3 L749.02,426.3 L749.02,426.3 L752.94,426.3 L752.94,426.3 L756.86,426.3 L756.86,426.3 L758.7,426.3" fill="none" stroke="#1a8c1a" stroke-width="1.3"/>
<path d="M578.9,426.3 L576.54,426.3 L576.54,426.3 L580.46,426.3 L580.46,426.3 L584.38,426.3 L584.38,426.3 L588.3,426.3 L588.3,426.3 L592.22,426.3 L592.22,426.3 L596.14,426.3 L596.14,426.3 L600.06,426.3 L600.06,426.3 L603.98,426.3 L603.98,426.3 L607.9,426.3 L607.9,426.3 L611.82,426.3 L611.82,426.3 L615.74,426.3 L615.74,426.3 L619.66,426.3 L619.66,426.3 L623.58,426.3 L623.58,426.3 L627.5,426.3 L627.5,426.3 L631.42,426.3 L631.42,426.3 L635.34,426.3 L635.34,426.3 L639.26,426.3 L639.26,426.3 L643.18,426.3 L643.18,426.3 L647.1,426.3 L647.1,426.3 L651.02,426.3 L651.02,416.8 L654.94,416.8 L654.94,405.1 L658.86,405.1 L658.86,394.5 L662.78,394.5 L662.78,378.7 L666.7,378.7 L666.7,394.5 L670.62,394.5 L670.62,378.7 L674.54,378.7 L674.54,405.1 L678.46,405.1 L678.46,389.2 L682.38,389.2 L682.38,420.7 L686.3,420.7 L686.3,399.7 L690.22,399.7 L690.22,410.5 L694.14,410.5 L694.14,410.5 L698.06,410.5 L698.06,426.3 L701.98,426.3 L701.98,421.1 L705.9,421.1 L705.9,421.1 L709.82,421.1 L709.82,426.3 L713.74,426.3 L713.74,426.3 L717.66,426.3 L717.66,421.1 L721.58,421.1 L721.58,426.3 L725.5,426.3 L725.5,416 L729.42,416 L729.42,426.3 L733.34,426.3 L733.34,426.3 L737.26,426.3 L737.26,426.3 L741.18,426.3 L741.18,421.1 L745.1,421.1 L745.1,426.3 L749.02,426.3 L749.02,426.3 L752.94,426.3 L752.94,426.3 L756.86,426.3 L756.86,426.3 L758.7,426.3" fill="none" stroke="#00f" stroke-width="1.3"/>
</g>
<line x1="630.9" y1="253.2" x2="630.9" y2="426.3" stroke="#444" stroke-width="1.2" stroke-dasharray="2.7 2.8" stroke-dashoffset="1.35"/>
<line x1="634.7" y1="253.2" x2="634.7" y2="426.3" stroke="#ff3030" stroke-width="1.2" stroke-dasharray="2.7 2.8" stroke-dashoffset="1.35"/>
<line x1="670.6" y1="253.2" x2="670.6" y2="426.3" stroke="#2a9a2a" stroke-width="1.2" stroke-dasharray="2.7 2.8" stroke-dashoffset="1.35"/>
<line x1="670.8" y1="253.2" x2="670.8" y2="426.3" stroke="#2a3adf" stroke-width="1.2" stroke-dasharray="2.7 2.8" stroke-dashoffset="1.35"/>
<path d="M626.4,267.5 H635.9 M626.4,265.3 v4.4 M635.9,265.3 v4.4" stroke="#555" stroke-width="1.3" fill="none"/>
<path d="M631.3,265.6 H638.5 M631.3,263.4 v4.4 M638.5,263.4 v4.4" stroke="#ff4500" stroke-width="1.3" fill="none"/>
<path d="M661.3,264.4 H681.4 M661.3,262.2 v4.4 M681.4,262.2 v4.4" stroke="#229922" stroke-width="1.3" fill="none"/>
<path d="M659.3,262.4 H681.4 M659.3,260.2 v4.4 M681.4,260.2 v4.4" stroke="#4169e1" stroke-width="1.3" fill="none"/>
<path d="M582.38,426.3 v-3 M582.38,252.6 v3 M586.3,426.3 v-3 M586.3,252.6 v3 M590.22,426.3 v-3 M590.22,252.6 v3 M594.14,426.3 v-3 M594.14,252.6 v3 M598.06,426.3 v-3 M598.06,252.6 v3 M601.98,426.3 v-3 M601.98,252.6 v3 M605.9,426.3 v-6.4 M605.9,252.6 v6.4 M609.82,426.3 v-3 M609.82,252.6 v3 M613.74,426.3 v-3 M613.74,252.6 v3 M617.66,426.3 v-3 M617.66,252.6 v3 M621.58,426.3 v-3 M621.58,252.6 v3 M625.5,426.3 v-3 M625.5,252.6 v3 M629.42,426.3 v-3 M629.42,252.6 v3 M633.34,426.3 v-3 M633.34,252.6 v3 M637.26,426.3 v-3 M637.26,252.6 v3 M641.18,426.3 v-3 M641.18,252.6 v3 M645.1,426.3 v-6.4 M645.1,252.6 v6.4 M649.02,426.3 v-3 M649.02,252.6 v3 M652.94,426.3 v-3 M652.94,252.6 v3 M656.86,426.3 v-3 M656.86,252.6 v3 M660.78,426.3 v-3 M660.78,252.6 v3 M664.7,426.3 v-3 M664.7,252.6 v3 M668.62,426.3 v-3 M668.62,252.6 v3 M672.54,426.3 v-3 M672.54,252.6 v3 M676.46,426.3 v-3 M676.46,252.6 v3 M680.38,426.3 v-3 M680.38,252.6 v3 M684.3,426.3 v-6.4 M684.3,252.6 v6.4 M688.22,426.3 v-3 M688.22,252.6 v3 M692.14,426.3 v-3 M692.14,252.6 v3 M696.06,426.3 v-3 M696.06,252.6 v3 M699.98,426.3 v-3 M699.98,252.6 v3 M703.9,426.3 v-3 M703.9,252.6 v3 M707.82,426.3 v-3 M707.82,252.6 v3 M711.74,426.3 v-3 M711.74,252.6 v3 M715.66,426.3 v-3 M715.66,252.6 v3 M719.58,426.3 v-3 M719.58,252.6 v3 M723.5,426.3 v-6.4 M723.5,252.6 v6.4 M727.42,426.3 v-3 M727.42,252.6 v3 M731.34,426.3 v-3 M731.34,252.6 v3 M735.26,426.3 v-3 M735.26,252.6 v3 M739.18,426.3 v-3 M739.18,252.6 v3 M743.1,426.3 v-3 M743.1,252.6 v3 M747.02,426.3 v-3 M747.02,252.6 v3 M750.94,426.3 v-3 M750.94,252.6 v3 M754.86,426.3 v-3 M754.86,252.6 v3 M578.6,422.96 h1.8 M758.7,422.96 h-1.8 M578.6,419.62 h1.8 M758.7,419.62 h-1.8 M578.6,416.28 h1.8 M758.7,416.28 h-1.8 M578.6,412.94 h1.8 M758.7,412.94 h-1.8 M578.6,409.6 h1.8 M758.7,409.6 h-1.8 M578.6,406.26 h1.8 M758.7,406.26 h-1.8 M578.6,402.92 h1.8 M758.7,402.92 h-1.8 M578.6,399.58 h1.8 M758.7,399.58 h-1.8 M578.6,396.24 h1.8 M758.7,396.24 h-1.8 M578.6,392.9 h3 M758.7,392.9 h-3 M578.6,389.56 h1.8 M758.7,389.56 h-1.8 M578.6,386.22 h1.8 M758.7,386.22 h-1.8 M578.6,382.88 h1.8 M758.7,382.88 h-1.8 M578.6,379.54 h1.8 M758.7,379.54 h-1.8 M578.6,376.2 h1.8 M758.7,376.2 h-1.8 M578.6,372.86 h1.8 M758.7,372.86 h-1.8 M578.6,369.52 h1.8 M758.7,369.52 h-1.8 M578.6,366.18 h1.8 M758.7,366.18 h-1.8 M578.6,362.84 h1.8 M758.7,362.84 h-1.8 M578.6,359.5 h3 M758.7,359.5 h-3 M578.6,356.16 h1.8 M758.7,356.16 h-1.8 M578.6,352.82 h1.8 M758.7,352.82 h-1.8 M578.6,349.48 h1.8 M758.7,349.48 h-1.8 M578.6,346.14 h1.8 M758.7,346.14 h-1.8 M578.6,342.8 h1.8 M758.7,342.8 h-1.8 M578.6,339.46 h1.8 M758.7,339.46 h-1.8 M578.6,336.12 h1.8 M758.7,336.12 h-1.8 M578.6,332.78 h1.8 M758.7,332.78 h-1.8 M578.6,329.44 h1.8 M758.7,329.44 h-1.8 M578.6,326.1 h3 M758.7,326.1 h-3 M578.6,322.76 h1.8 M758.7,322.76 h-1.8 M578.6,319.42 h1.8 M758.7,319.42 h-1.8 M578.6,316.08 h1.8 M758.7,316.08 h-1.8 M578.6,312.74 h1.8 M758.7,312.74 h-1.8 M578.6,309.4 h1.8 M758.7,309.4 h-1.8 M578.6,306.06 h1.8 M758.7,306.06 h-1.8 M578.6,302.72 h1.8 M758.7,302.72 h-1.8 M578.6,299.38 h1.8 M758.7,299.38 h-1.8 M578.6,296.04 h1.8 M758.7,296.04 h-1.8 M578.6,292.7 h3 M758.7,292.7 h-3 M578.6,289.36 h1.8 M758.7,289.36 h-1.8 M578.6,286.02 h1.8 M758.7,286.02 h-1.8 M578.6,282.68 h1.8 M758.7,282.68 h-1.8 M578.6,279.34 h1.8 M758.7,279.34 h-1.8 M578.6,276 h1.8 M758.7,276 h-1.8 M578.6,272.66 h1.8 M758.7,272.66 h-1.8 M578.6,269.32 h1.8 M758.7,269.32 h-1.8 M578.6,265.98 h1.8 M758.7,265.98 h-1.8 M578.6,262.64 h1.8 M758.7,262.64 h-1.8 M578.6,259.3 h3 M758.7,259.3 h-3 M578.6,255.96 h1.8 M758.7,255.96 h-1.8" stroke="#969696" stroke-width="1.2" fill="none"/>
<text x="586.1" y="271.3" font-family='"Liberation Serif", serif' font-size="10.4" fill="#1a1a1a">(h)</text>
<text x="586.5" y="287.6" font-family='"Liberation Serif", serif' font-size="10.4" fill="#1a1a1a">D<tspan font-size="7" dy="3.0" fill="#4a4a4a" style="stroke:none">in</tspan><tspan dy="-3.0">= 0.29</tspan></text>
<text x="709.3" y="287.8" font-family='"Liberation Serif", serif' font-size="10.4" fill="#1a1a1a">D<tspan font-size="7" dy="3.0" fill="#4a4a4a" style="stroke:none">tr</tspan><tspan dy="-3.0">= 0.16</tspan></text>
<text x="605.9" y="436.9" font-family='"Liberation Serif", serif' font-size="10.4" fill="#1a1a1a" text-anchor="middle">-1.0</text>
<text x="645.1" y="436.9" font-family='"Liberation Serif", serif' font-size="10.4" fill="#1a1a1a" text-anchor="middle">-2.0</text>
<text x="684.3" y="436.9" font-family='"Liberation Serif", serif' font-size="10.4" fill="#1a1a1a" text-anchor="middle">-3.0</text>
<text x="723.5" y="436.9" font-family='"Liberation Serif", serif' font-size="10.4" fill="#1a1a1a" text-anchor="middle">-4.0</text>
<text x="668.65" y="446.8" font-family='"Liberation Serif", serif' font-size="10.4" fill="#1a1a1a" text-anchor="middle">Spectral index</text>
<text x="32.6" y="429.9" font-family='"Liberation Serif", serif' font-size="10.4" fill="#1a1a1a" text-anchor="end">0.0</text>
<text x="32.6" y="396.5" font-family='"Liberation Serif", serif' font-size="10.4" fill="#1a1a1a" text-anchor="end">0.1</text>
<text x="32.6" y="363.1" font-family='"Liberation Serif", serif' font-size="10.4" fill="#1a1a1a" text-anchor="end">0.2</text>
<text x="32.6" y="329.7" font-family='"Liberation Serif", serif' font-size="10.4" fill="#1a1a1a" text-anchor="end">0.3</text>
<text x="32.6" y="296.3" font-family='"Liberation Serif", serif' font-size="10.4" fill="#1a1a1a" text-anchor="end">0.4</text>
<text x="32.6" y="262.9" font-family='"Liberation Serif", serif' font-size="10.4" fill="#1a1a1a" text-anchor="end">0.5</text>
<text transform="translate(14.7,339.4) rotate(-90)" font-family='"Liberation Serif", serif' font-size="10.4" fill="#1a1a1a" text-anchor="middle">Probability density</text>
</svg></body></html>
